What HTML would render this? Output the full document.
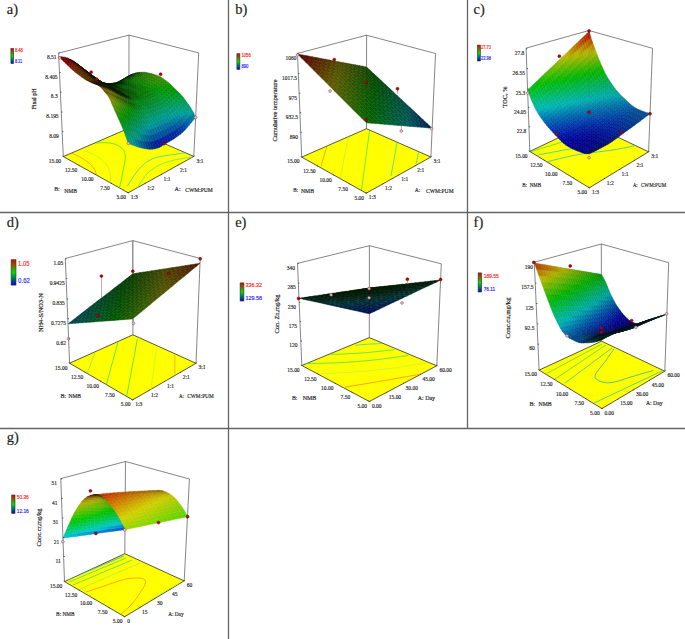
<!DOCTYPE html><html><head><meta charset="utf-8"><style>html,body{margin:0;padding:0;background:#fff}svg{display:block}text{font-family:"Liberation Serif",serif}.m path{fill:currentColor;stroke:currentColor;stroke-width:.45;stroke-linejoin:round}.bx{fill:none;stroke:#444;stroke-width:.65}.fl{fill:#ffff00;stroke:#222;stroke-width:.75;stroke-linejoin:round}.tk{fill:none;stroke:#222;stroke-width:.7}.st{stroke:#777;stroke-width:.6}.gl{stroke:#646464;stroke-width:1.3}</style></head><body>
<svg width="685" height="639" viewBox="0 0 685 639">
<defs><linearGradient id="lg" x1="0" y1="0" x2="0" y2="1"><stop offset="0" stop-color="#e00000"/><stop offset=".5" stop-color="#00e000"/><stop offset="1" stop-color="#0000e0"/></linearGradient></defs>
<rect width="685" height="639" fill="#fff"/>
<path class="bx" d="M63.3 156.6L58.6 53.1 129 35.1 198.7 52.9 193.8 156.4M129 35.1L128.9 128.2"/>
<clipPath id="c1"><path d="M128.2 192.8L193.8 156.4 128.9 128.2 63.3 156.6Z"/></clipPath>
<path class="fl" d="M128.2 192.8L193.8 156.4 128.9 128.2 63.3 156.6Z"/>
<g clip-path="url(#c1)">
<path fill="none" stroke="#ff8c1a" stroke-width="0.8" d="M72.1 153.4 72.9 153.8 73.8 154.1 74.6 154.5 75.4 154.9 76.2 155.3 77.1 155.6 77.9 156 78.7 156.4 79.5 156.8 80.3 157.2 81.1 157.7 81.9 158.1 82.7 158.5 83.5 159 84.2 159.5 85 160 85.7 160.5 86.5 161 87.2 161.5 87.9 162.1 88.6 162.7 89.3 163.3 90 163.9 90.6 164.5 91.3 165.2 91.9 165.9 92.5 166.6 93 167.3 93.6 168 94.1 168.8 94.6 169.6 95 170.4 95.4 171.2 95.7 172.1 96 172.9 96.2 173.8 96.4 174.7 96.5 175.6 96.6 176.5"/>
<path fill="none" stroke="#b8f040" stroke-width="0.8" d="M83.8 150.4 84.9 150.8 86 151.2 87.1 151.7 88.1 152.1 89.2 152.5 90.3 153 91.4 153.4 92.4 153.9 93.5 154.4 94.5 154.9 95.5 155.5 96.5 156 97.5 156.6 98.5 157.2 99.5 157.9 100.4 158.5 101.4 159.3 102.3 160 103.2 160.8 104 161.6 104.9 162.5 105.6 163.3 106.4 164.3 107 165.2 107.7 166.2 108.2 167.2 108.7 168.2 109.1 169.3 109.4 170.4 109.7 171.5 110 172.6 110.1 173.7 110.3 174.9 110.4 176 110.4 177.2 110.5 178.4 110.5 179.6 110.5 180.8 110.5 182"/>
<path fill="none" stroke="#40e040" stroke-width="0.8" d="M95.5 143.1 97.3 143 99 142.8 100.8 142.8 102.5 142.7 104.3 142.7 106 142.7 107.7 142.8 109.5 143 111.2 143.3 112.9 143.6 114.6 144.1 116.3 144.7 117.9 145.5 119.5 146.4 121 147.4 122.3 148.5 123.4 149.8 124.2 151.2 124.8 152.7 125.1 154.4 125.3 156.1 125.3 157.9 125.1 159.7 124.9 161.6 124.6 163.4 124.2 165.3 123.9 167.1 123.5 169 123.1 170.7 122.8 172.5 122.4 174.2 122.1 175.9 121.7 177.6 121.4 179.3 121 181 120.6 182.6 120.3 184.2 119.9 185.9 119.6 187.5"/>
<path fill="none" stroke="#30d0c0" stroke-width="0.8" d="M127.5 186 128.5 184.4 129.4 182.8 130.4 181.3 131.4 179.7 132.4 178.1 133.4 176.6 134.5 175.1 135.6 173.5 136.7 172.1 137.9 170.6 139.1 169.2 140.4 167.7 141.7 166.4 143 165.1 144.4 163.8 145.9 162.6 147.4 161.6 149 160.6 150.6 159.7 152.3 158.9 154 158.2 155.7 157.6 157.5 157.1 159.3 156.7 161.2 156.3 163 156 164.9 155.7 166.8 155.4 168.6 155.2 170.5 154.9 172.3 154.6 174.2 154.4 176 154.1 177.8 153.8 179.7 153.6 181.5 153.3 183.3 153 185.2 152.8 187 152.5"/>
<path fill="none" stroke="#60e080" stroke-width="0.8" d="M137.2 188 138.1 186.5 138.9 185 139.8 183.6 140.7 182.1 141.7 180.7 142.6 179.3 143.6 177.9 144.6 176.6 145.7 175.3 146.8 174 148 172.8 149.2 171.7 150.5 170.6 151.8 169.6 153.2 168.6 154.7 167.7 156.1 166.8 157.6 166 159.2 165.2 160.7 164.5 162.3 163.8 163.9 163.2 165.5 162.6 167.1 162 168.7 161.5 170.4 161.1 172 160.6 173.6 160.2 175.3 159.8 176.9 159.5 178.6 159.2 180.3 158.9 181.9 158.6 183.6 158.3 185.3 158.1 187 157.9 188.6 157.6 190.3 157.4 192 157.2"/>
</g>
<g class="m">
<path color="#001a02" d="M128.9 76 131.1 74.6 128.9 75.8 126.7 77Z"/>
<path color="#001a03" d="M126.7 77.3 128.9 76 126.7 77 124.6 78.3Z"/>
<path color="#011a00" d="M131.1 75.2 133.2 73.8 131.1 74.6 128.9 76Z"/>
<path color="#001a04" d="M124.5 78.6 126.7 77.3 124.6 78.3 122.4 79.5Z"/>
<path color="#001a00" d="M128.9 76.6 131.1 75.2 128.9 76 126.7 77.3Z"/>
<path color="#042300" d="M133.3 74.7 135.4 73.1 133.2 73.8 131.1 75.2Z"/>
<path color="#001a05" d="M122.3 79.9 124.5 78.6 122.4 79.5 120.1 80.7Z"/>
<path color="#0a3200" d="M135.5 74.2 137.6 72.6 135.4 73.1 133.3 74.7Z"/>
<path color="#001a01" d="M126.7 78 128.9 76.6 126.7 77.3 124.5 78.6Z"/>
<path color="#032800" d="M131.1 76.2 133.3 74.7 131.1 75.2 128.9 76.6Z"/>
<path color="#001e03" d="M124.4 79.4 126.7 78 124.5 78.6 122.3 79.9Z"/>
<path color="#083800" d="M133.3 75.8 135.5 74.2 133.3 74.7 131.1 76.2Z"/>
<path color="#001a06" d="M120 81.2 122.3 79.9 120.1 80.7 117.9 81.9Z"/>
<path color="#012e00" d="M128.9 77.7 131.1 76.2 128.9 76.6 126.7 78Z"/>
<path color="#134600" d="M137.7 74 139.9 72.3 137.6 72.6 135.5 74.2Z"/>
<path color="#001a06" d="M117.8 82.4 120 81.2 117.9 81.9 115.7 83Z"/>
<path color="#002405" d="M122.2 80.9 124.4 79.4 122.3 79.9 120 81.2Z"/>
<path color="#003801" d="M126.6 79.2 128.9 77.7 126.7 78 124.4 79.4Z"/>
<path color="#063e00" d="M131.1 77.4 133.3 75.8 131.1 76.2 128.9 77.7Z"/>
<path color="#104b00" d="M135.5 75.6 137.7 74 135.5 74.2 133.3 75.8Z"/>
<path color="#1d5900" d="M140 73.9 142.1 72.2 139.9 72.3 137.7 74Z"/>
<path color="#001a06" d="M115.5 83.1 117.8 82.4 115.7 83 113.4 83.6Z"/>
<path color="#001e05" d="M120 82.1 122.2 80.9 120 81.2 117.8 82.4Z"/>
<path color="#034700" d="M128.8 79 131.1 77.4 128.9 77.7 126.6 79.2Z"/>
<path color="#185c00" d="M137.8 75.7 140 73.9 137.7 74 135.5 75.6Z"/>
<path color="#266600" d="M142.2 74.1 144.4 72.3 142.1 72.2 140 73.9Z"/>
<path color="#003e04" d="M124.4 80.7 126.6 79.2 124.4 79.4 122.2 80.9Z"/>
<path color="#0c5000" d="M133.3 77.3 135.5 75.6 133.3 75.8 131.1 77.4Z"/>
<path color="#001a06" d="M113.2 83.3 115.5 83.1 113.4 83.6 111.1 83.7Z"/>
<path color="#001a05" d="M117.7 82.9 120 82.1 117.8 82.4 115.5 83.1Z"/>
<path color="#003806" d="M122.1 82 124.4 80.7 122.2 80.9 120 82.1Z"/>
<path color="#004c00" d="M126.6 80.6 128.8 79 126.6 79.2 124.4 80.7Z"/>
<path color="#095700" d="M131.1 79 133.3 77.3 131.1 77.4 128.8 79Z"/>
<path color="#146000" d="M135.5 77.4 137.8 75.7 135.5 75.6 133.3 77.3Z"/>
<path color="#206800" d="M140 75.9 142.2 74.1 140 73.9 137.8 75.7Z"/>
<path color="#2c6f00" d="M144.5 74.4 146.7 72.6 144.4 72.3 142.2 74.1Z"/>
<path color="#004603" d="M124.3 82 126.6 80.6 124.4 80.7 122.1 82Z"/>
<path color="#0e6500" d="M133.3 79.2 135.5 77.4 133.3 77.3 131.1 79Z"/>
<path color="#001a05" d="M110.9 83.5 113.2 83.3 111.1 83.7 108.8 83.7Z"/>
<path color="#001a04" d="M115.4 83.2 117.7 82.9 115.5 83.1 113.2 83.3Z"/>
<path color="#001f04" d="M119.9 82.9 122.1 82 120 82.1 117.7 82.9Z"/>
<path color="#045900" d="M128.8 80.7 131.1 79 128.8 79 126.6 80.6Z"/>
<path color="#1a6b00" d="M137.8 77.7 140 75.9 137.8 75.7 135.5 77.4Z"/>
<path color="#257000" d="M142.3 76.3 144.5 74.4 142.2 74.1 140 75.9Z"/>
<path color="#327700" d="M146.8 74.9 149 73.1 146.7 72.6 144.5 74.4Z"/>
<path color="#001a04" d="M108.6 83.7 110.9 83.5 108.8 83.7 106.4 83.8Z"/>
<path color="#001a03" d="M113 83.5 115.4 83.2 113.2 83.3 110.9 83.5Z"/>
<path color="#001a03" d="M117.5 83.3 119.9 82.9 117.7 82.9 115.4 83.2Z"/>
<path color="#002f03" d="M122 83 124.3 82 122.1 82 119.9 82.9Z"/>
<path color="#005400" d="M126.6 82.2 128.8 80.7 126.6 80.6 124.3 82Z"/>
<path color="#096600" d="M131.1 80.9 133.3 79.2 131.1 79 128.8 80.7Z"/>
<path color="#136f00" d="M135.6 79.6 137.8 77.7 135.5 77.4 133.3 79.2Z"/>
<path color="#1e7300" d="M140.1 78.1 142.3 76.3 140 75.9 137.8 77.7Z"/>
<path color="#2a7800" d="M144.6 76.8 146.8 74.9 144.5 74.4 142.3 76.3Z"/>
<path color="#347900" d="M149.2 75.5 151.4 73.6 149 73.1 146.8 74.9Z"/>
<path color="#001a03" d="M106.2 83.7 108.6 83.7 106.4 83.8 104.1 83.7Z"/>
<path color="#001a02" d="M119.7 83.5 122 83 119.9 82.9 117.5 83.3Z"/>
<path color="#036100" d="M128.8 82.5 131.1 80.9 128.8 80.7 126.6 82.2Z"/>
<path color="#177500" d="M137.9 80.1 140.1 78.1 137.8 77.7 135.6 79.6Z"/>
<path color="#367b00" d="M151.5 76.1 153.7 74.2 151.4 73.6 149.2 75.5Z"/>
<path color="#001a02" d="M110.7 83.7 113 83.5 110.9 83.5 108.6 83.7Z"/>
<path color="#001a02" d="M115.2 83.7 117.5 83.3 115.4 83.2 113 83.5Z"/>
<path color="#004002" d="M124.3 83.2 126.6 82.2 124.3 82 122 83Z"/>
<path color="#0c6f00" d="M133.3 81.3 135.6 79.6 133.3 79.2 131.1 80.9Z"/>
<path color="#227900" d="M142.4 78.7 144.6 76.8 142.3 76.3 140.1 78.1Z"/>
<path color="#2c7a00" d="M147 77.4 149.2 75.5 146.8 74.9 144.6 76.8Z"/>
<path color="#001a01" d="M108.3 83.8 110.7 83.7 108.6 83.7 106.2 83.7Z"/>
<path color="#001a01" d="M117.4 84 119.7 83.5 117.5 83.3 115.2 83.7Z"/>
<path color="#005000" d="M126.5 83.6 128.8 82.5 126.6 82.2 124.3 83.2Z"/>
<path color="#066a00" d="M131.1 82.9 133.3 81.3 131.1 80.9 128.8 82.5Z"/>
<path color="#1a7c00" d="M140.2 80.7 142.4 78.7 140.1 78.1 137.9 80.1Z"/>
<path color="#2e7c00" d="M149.3 78.1 151.5 76.1 149.2 75.5 147 77.4Z"/>
<path color="#001a01" d="M103.8 83.2 106.2 83.7 104.1 83.7 101.7 83.1Z"/>
<path color="#001a01" d="M112.9 84 115.2 83.7 113 83.5 110.7 83.7Z"/>
<path color="#002401" d="M122 83.8 124.3 83.2 122 83 119.7 83.5Z"/>
<path color="#0f7500" d="M135.6 81.9 137.9 80.1 135.6 79.6 133.3 81.3Z"/>
<path color="#247c00" d="M144.7 79.4 147 77.4 144.6 76.8 142.4 78.7Z"/>
<path color="#3a8100" d="M153.9 76.9 156.1 75 153.7 74.2 151.5 76.1Z"/>
<path color="#021a00" d="M101.4 82.4 103.8 83.2 101.7 83.1 99.2 82.2Z"/>
<path color="#001a00" d="M105.9 83.5 108.3 83.8 106.2 83.7 103.8 83.2Z"/>
<path color="#001a00" d="M110.5 84.2 112.9 84 110.7 83.7 108.3 83.8Z"/>
<path color="#002001" d="M115.1 84.4 117.4 84 115.2 83.7 112.9 84Z"/>
<path color="#002701" d="M119.6 84.4 122 83.8 119.7 83.5 117.4 84Z"/>
<path color="#003700" d="M124.2 84.3 126.5 83.6 124.3 83.2 122 83.8Z"/>
<path color="#025d00" d="M128.8 84.1 131.1 82.9 128.8 82.5 126.5 83.6Z"/>
<path color="#097000" d="M133.3 83.5 135.6 81.9 133.3 81.3 131.1 82.9Z"/>
<path color="#127a00" d="M137.9 82.6 140.2 80.7 137.9 80.1 135.6 81.9Z"/>
<path color="#1c7e00" d="M142.5 81.4 144.7 79.4 142.4 78.7 140.2 80.7Z"/>
<path color="#267d00" d="M147.1 80.1 149.3 78.1 147 77.4 144.7 79.4Z"/>
<path color="#308100" d="M151.7 78.9 153.9 76.9 151.5 76.1 149.3 78.1Z"/>
<path color="#3a8400" d="M156.3 77.8 158.5 75.9 156.1 75 153.9 76.9Z"/>
<path color="#041a00" d="M98.9 81.4 101.4 82.4 99.2 82.2 96.8 81.1Z"/>
<path color="#021a00" d="M103.5 82.8 105.9 83.5 103.8 83.2 101.4 82.4Z"/>
<path color="#001c00" d="M112.7 84.7 115.1 84.4 112.9 84 110.5 84.2Z"/>
<path color="#003900" d="M121.9 84.9 124.2 84.3 122 83.8 119.6 84.4Z"/>
<path color="#014800" d="M126.5 84.9 128.8 84.1 126.5 83.6 124.2 84.3Z"/>
<path color="#046400" d="M131.1 84.7 133.3 83.5 131.1 82.9 128.8 84.1Z"/>
<path color="#0a7600" d="M135.6 84.2 137.9 82.6 135.6 81.9 133.3 83.5Z"/>
<path color="#1d7f00" d="M144.8 82.1 147.1 80.1 144.7 79.4 142.5 81.4Z"/>
<path color="#318400" d="M154.1 79.8 156.3 77.8 153.9 76.9 151.7 78.9Z"/>
<path color="#3a8800" d="M158.7 79 160.9 77.1 158.5 75.9 156.3 77.8Z"/>
<path color="#011a00" d="M108.1 84 110.5 84.2 108.3 83.8 105.9 83.5Z"/>
<path color="#002f00" d="M117.3 84.9 119.6 84.4 117.4 84 115.1 84.4Z"/>
<path color="#137c00" d="M140.2 83.3 142.5 81.4 140.2 80.7 137.9 82.6Z"/>
<path color="#278300" d="M149.5 80.9 151.7 78.9 149.3 78.1 147.1 80.1Z"/>
<path color="#071a00" d="M96.4 80.2 98.9 81.4 96.8 81.1 94.3 79.7Z"/>
<path color="#051a00" d="M101.1 82 103.5 82.8 101.4 82.4 98.9 81.4Z"/>
<path color="#031a00" d="M105.7 83.4 108.1 84 105.9 83.5 103.5 82.8Z"/>
<path color="#011a00" d="M110.3 84.6 112.7 84.7 110.5 84.2 108.1 84Z"/>
<path color="#012900" d="M114.9 85.3 117.3 84.9 115.1 84.4 112.7 84.7Z"/>
<path color="#013f00" d="M119.5 85.5 121.9 84.9 119.6 84.4 117.3 84.9Z"/>
<path color="#024800" d="M124.1 85.5 126.5 84.9 124.2 84.3 121.9 84.9Z"/>
<path color="#025200" d="M128.8 85.5 131.1 84.7 128.8 84.1 126.5 84.9Z"/>
<path color="#056c00" d="M133.4 85.5 135.6 84.2 133.3 83.5 131.1 84.7Z"/>
<path color="#0b7800" d="M138 85 140.2 83.3 137.9 82.6 135.6 84.2Z"/>
<path color="#137e00" d="M142.6 84 144.8 82.1 142.5 81.4 140.2 83.3Z"/>
<path color="#1e8400" d="M147.2 83 149.5 80.9 147.1 80.1 144.8 82.1Z"/>
<path color="#278500" d="M151.8 81.9 154.1 79.8 151.7 78.9 149.5 80.9Z"/>
<path color="#308800" d="M156.5 81 158.7 79 156.3 77.8 154.1 79.8Z"/>
<path color="#378d00" d="M161.1 80.6 163.3 78.7 160.9 77.1 158.7 79Z"/>
<path color="#031a00" d="M107.9 84.2 110.3 84.6 108.1 84 105.7 83.4Z"/>
<path color="#023800" d="M117.2 86 119.5 85.5 117.3 84.9 114.9 85.3Z"/>
<path color="#0b7a00" d="M140.3 85.7 142.6 84 140.2 83.3 138 85Z"/>
<path color="#1d8600" d="M149.6 84 151.8 81.9 149.5 80.9 147.2 83Z"/>
<path color="#122a00" d="M93.9 78.5 96.4 80.2 94.3 79.7 91.7 77.8Z"/>
<path color="#081a00" d="M98.6 80.9 101.1 82 98.9 81.4 96.4 80.2Z"/>
<path color="#051a00" d="M103.2 82.7 105.7 83.4 103.5 82.8 101.1 82Z"/>
<path color="#021a00" d="M112.5 85.3 114.9 85.3 112.7 84.7 110.3 84.6Z"/>
<path color="#024c00" d="M121.8 86.2 124.1 85.5 121.9 84.9 119.5 85.5Z"/>
<path color="#035200" d="M126.4 86.3 128.8 85.5 126.5 84.9 124.1 85.5Z"/>
<path color="#035c00" d="M131.1 86.3 133.4 85.5 131.1 84.7 128.8 85.5Z"/>
<path color="#066e00" d="M135.7 86.3 138 85 135.6 84.2 133.4 85.5Z"/>
<path color="#148200" d="M144.9 84.9 147.2 83 144.8 82.1 142.6 84Z"/>
<path color="#268900" d="M154.2 83.1 156.5 81 154.1 79.8 151.8 81.9Z"/>
<path color="#2d8d00" d="M158.9 82.5 161.1 80.6 158.7 79 156.5 81Z"/>
<path color="#2f9000" d="M163.5 82.4 165.7 80.5 163.3 78.7 161.1 80.6Z"/>
<path color="#1e3200" d="M91.3 76.3 93.9 78.5 91.7 77.8 89.1 75.5Z"/>
<path color="#0b1a00" d="M96 79.3 98.6 80.9 96.4 80.2 93.9 78.5Z"/>
<path color="#081a00" d="M100.8 81.8 103.2 82.7 101.1 82 98.6 80.9Z"/>
<path color="#051a00" d="M105.4 83.6 107.9 84.2 105.7 83.4 103.2 82.7Z"/>
<path color="#031a00" d="M110.1 84.9 112.5 85.3 110.3 84.6 107.9 84.2Z"/>
<path color="#021f00" d="M114.8 86.1 117.2 86 114.9 85.3 112.5 85.3Z"/>
<path color="#034600" d="M119.4 86.8 121.8 86.2 119.5 85.5 117.2 86Z"/>
<path color="#035400" d="M124.1 87 126.4 86.3 124.1 85.5 121.8 86.2Z"/>
<path color="#035b00" d="M128.7 87.1 131.1 86.3 128.8 85.5 126.4 86.3Z"/>
<path color="#036000" d="M133.4 87.2 135.7 86.3 133.4 85.5 131.1 86.3Z"/>
<path color="#067000" d="M138 87 140.3 85.7 138 85 135.7 86.3Z"/>
<path color="#0c7e00" d="M142.7 86.6 144.9 84.9 142.6 84 140.3 85.7Z"/>
<path color="#138400" d="M147.3 85.9 149.6 84 147.2 83 144.9 84.9Z"/>
<path color="#1c8a00" d="M152 85.2 154.2 83.1 151.8 81.9 149.6 84Z"/>
<path color="#238e00" d="M156.7 84.6 158.9 82.5 156.5 81 154.2 83.1Z"/>
<path color="#269000" d="M161.3 84.4 163.5 82.4 161.1 80.6 158.9 82.5Z"/>
<path color="#268f00" d="M166 84.3 168.2 82.4 165.7 80.5 163.5 82.4Z"/>
<path color="#2d3900" d="M88.7 73.8 91.3 76.3 89.1 75.5 86.5 72.8Z"/>
<path color="#101b00" d="M93.5 77.3 96 79.3 93.9 78.5 91.3 76.3Z"/>
<path color="#081a00" d="M103 82.8 105.4 83.6 103.2 82.7 100.8 81.8Z"/>
<path color="#031a00" d="M112.4 85.8 114.8 86.1 112.5 85.3 110.1 84.9Z"/>
<path color="#044e00" d="M121.7 87.6 124.1 87 121.8 86.2 119.4 86.8Z"/>
<path color="#036300" d="M135.7 88 138 87 135.7 86.3 133.4 87.2Z"/>
<path color="#0b8000" d="M145.1 87.6 147.3 85.9 144.9 84.9 142.7 86.6Z"/>
<path color="#188e00" d="M154.4 86.7 156.7 84.6 154.2 83.1 152 85.2Z"/>
<path color="#1d9000" d="M163.8 86.2 166 84.3 163.5 82.4 161.3 84.4Z"/>
<path color="#1d9200" d="M168.4 86.4 170.6 84.5 168.2 82.4 166 84.3Z"/>
<path color="#0b1a00" d="M98.2 80.4 100.8 81.8 98.6 80.9 96 79.3Z"/>
<path color="#051a00" d="M107.7 84.5 110.1 84.9 107.9 84.2 105.4 83.6Z"/>
<path color="#042e00" d="M117 86.9 119.4 86.8 117.2 86 114.8 86.1Z"/>
<path color="#045d00" d="M126.4 87.9 128.7 87.1 126.4 86.3 124.1 87Z"/>
<path color="#035e00" d="M131.1 88 133.4 87.2 131.1 86.3 128.7 87.1Z"/>
<path color="#067500" d="M140.4 88 142.7 86.6 140.3 85.7 138 87Z"/>
<path color="#118700" d="M149.7 87.1 152 85.2 149.6 84 147.3 85.9Z"/>
<path color="#1c9000" d="M159.1 86.3 161.3 84.4 158.9 82.5 156.7 84.6Z"/>
<path color="#2a2b00" d="M86 71.2 88.7 73.8 86.5 72.8 83.9 70.1Z"/>
<path color="#1a2200" d="M90.9 75 93.5 77.3 91.3 76.3 88.7 73.8Z"/>
<path color="#0b1a00" d="M100.4 81.5 103 82.8 100.8 81.8 98.2 80.4Z"/>
<path color="#051a00" d="M109.9 85.5 112.4 85.8 110.1 84.9 107.7 84.5Z"/>
<path color="#041d00" d="M114.6 86.8 117 86.9 114.8 86.1 112.4 85.8Z"/>
<path color="#045700" d="M124 88.5 126.4 87.9 124.1 87 121.7 87.6Z"/>
<path color="#036100" d="M133.4 88.9 135.7 88 133.4 87.2 131.1 88Z"/>
<path color="#057800" d="M142.8 89 145.1 87.6 142.7 86.6 140.4 88Z"/>
<path color="#098400" d="M147.5 88.8 149.7 87.1 147.3 85.9 145.1 87.6Z"/>
<path color="#119100" d="M156.8 88.4 159.1 86.3 156.7 84.6 154.4 86.7Z"/>
<path color="#139200" d="M166.2 88.3 168.4 86.4 166 84.3 163.8 86.2Z"/>
<path color="#109400" d="M170.9 88.8 173.1 86.9 170.6 84.5 168.4 86.4Z"/>
<path color="#0f1a00" d="M95.7 78.5 98.2 80.4 96 79.3 93.5 77.3Z"/>
<path color="#081a00" d="M105.2 83.9 107.7 84.5 105.4 83.6 103 82.8Z"/>
<path color="#043800" d="M119.3 87.8 121.7 87.6 119.4 86.8 117 86.9Z"/>
<path color="#035f00" d="M128.7 88.8 131.1 88 128.7 87.1 126.4 87.9Z"/>
<path color="#036a00" d="M138.1 89 140.4 88 138 87 135.7 88Z"/>
<path color="#0e8c00" d="M152.2 88.5 154.4 86.7 152 85.2 149.7 87.1Z"/>
<path color="#139000" d="M161.5 88.1 163.8 86.2 161.3 84.4 159.1 86.3Z"/>
<path color="#1a1500" d="M83.4 68.9 86 71.2 83.9 70.1 81.2 67.6Z"/>
<path color="#191a00" d="M88.2 72.5 90.9 75 88.7 73.8 86 71.2Z"/>
<path color="#131a00" d="M93.1 76.3 95.7 78.5 93.5 77.3 90.9 75Z"/>
<path color="#0e1a00" d="M97.9 79.8 100.4 81.5 98.2 80.4 95.7 78.5Z"/>
<path color="#0a1a00" d="M102.7 82.7 105.2 83.9 103 82.8 100.4 81.5Z"/>
<path color="#071a00" d="M107.4 85 109.9 85.5 107.7 84.5 105.2 83.9Z"/>
<path color="#061e00" d="M112.2 86.5 114.6 86.8 112.4 85.8 109.9 85.5Z"/>
<path color="#052500" d="M116.9 87.7 119.3 87.8 117 86.9 114.6 86.8Z"/>
<path color="#054300" d="M121.6 88.8 124 88.5 121.7 87.6 119.3 87.8Z"/>
<path color="#045a00" d="M126.3 89.5 128.7 88.8 126.4 87.9 124 88.5Z"/>
<path color="#036200" d="M131.1 89.7 133.4 88.9 131.1 88 128.7 88.8Z"/>
<path color="#036800" d="M135.8 89.9 138.1 89 135.7 88 133.4 88.9Z"/>
<path color="#036c00" d="M140.5 90 142.8 89 140.4 88 138.1 89Z"/>
<path color="#047c00" d="M145.2 90.1 147.5 88.8 145.1 87.6 142.8 89Z"/>
<path color="#068800" d="M149.9 90.2 152.2 88.5 149.7 87.1 147.5 88.8Z"/>
<path color="#078e00" d="M154.6 90.2 156.8 88.4 154.4 86.7 152.2 88.5Z"/>
<path color="#099100" d="M159.3 90.2 161.5 88.1 159.1 86.3 156.8 88.4Z"/>
<path color="#0a9300" d="M164 90.2 166.2 88.3 163.8 86.2 161.5 88.1Z"/>
<path color="#079400" d="M168.7 90.7 170.9 88.8 168.4 86.4 166.2 88.3Z"/>
<path color="#029500" d="M173.4 91.3 175.6 89.4 173.1 86.9 170.9 88.8Z"/>
<path color="#1a1100" d="M80.6 66.6 83.4 68.9 81.2 67.6 78.5 65.2Z"/>
<path color="#1a1600" d="M85.5 70.3 88.2 72.5 86 71.2 83.4 68.9Z"/>
<path color="#131a00" d="M95.3 77.8 97.9 79.8 95.7 78.5 93.1 76.3Z"/>
<path color="#0e1a00" d="M100.1 81.2 102.7 82.7 100.4 81.5 97.9 79.8Z"/>
<path color="#0a1a00" d="M104.9 83.9 107.4 85 105.2 83.9 102.7 82.7Z"/>
<path color="#071b00" d="M109.7 86.1 112.2 86.5 109.9 85.5 107.4 85Z"/>
<path color="#072600" d="M114.5 87.6 116.9 87.7 114.6 86.8 112.2 86.5Z"/>
<path color="#063100" d="M119.2 88.8 121.6 88.8 119.3 87.8 116.9 87.7Z"/>
<path color="#035d00" d="M128.7 90.4 131.1 89.7 128.7 88.8 126.3 89.5Z"/>
<path color="#026a00" d="M138.1 90.9 140.5 90 138.1 89 135.8 89.9Z"/>
<path color="#017200" d="M142.9 91.1 145.2 90.1 142.8 89 140.5 90Z"/>
<path color="#008100" d="M147.6 91.5 149.9 90.2 147.5 88.8 145.2 90.1Z"/>
<path color="#008b00" d="M152.3 91.9 154.6 90.2 152.2 88.5 149.9 90.2Z"/>
<path color="#008e00" d="M157 92 159.3 90.2 156.8 88.4 154.6 90.2Z"/>
<path color="#009400" d="M161.8 92.3 164 90.2 161.5 88.1 159.3 90.2Z"/>
<path color="#009507" d="M171.2 93.2 173.4 91.3 170.9 88.8 168.7 90.7Z"/>
<path color="#00950c" d="M175.9 93.7 178.1 91.8 175.6 89.4 173.4 91.3Z"/>
<path color="#181a00" d="M90.4 74 93.1 76.3 90.9 75 88.2 72.5Z"/>
<path color="#054700" d="M124 89.8 126.3 89.5 124 88.5 121.6 88.8Z"/>
<path color="#036800" d="M133.4 90.7 135.8 89.9 133.4 88.9 131.1 89.7Z"/>
<path color="#009603" d="M166.5 92.7 168.7 90.7 166.2 88.3 164 90.2Z"/>
<path color="#0d1a00" d="M102.4 82.5 104.9 83.9 102.7 82.7 100.1 81.2Z"/>
<path color="#008b07" d="M154.8 93.6 157 92 154.6 90.2 152.3 91.9Z"/>
<path color="#1a0c00" d="M77.9 64.4 80.6 66.6 78.5 65.2 75.7 62.8Z"/>
<path color="#1a1200" d="M82.8 68.2 85.5 70.3 83.4 68.9 80.6 66.6Z"/>
<path color="#1a1700" d="M87.8 72 90.4 74 88.2 72.5 85.5 70.3Z"/>
<path color="#171a00" d="M92.7 75.7 95.3 77.8 93.1 76.3 90.4 74Z"/>
<path color="#121a00" d="M97.5 79.3 100.1 81.2 97.9 79.8 95.3 77.8Z"/>
<path color="#091a00" d="M107.2 85.2 109.7 86.1 107.4 85 104.9 83.9Z"/>
<path color="#082200" d="M112 87.3 114.5 87.6 112.2 86.5 109.7 86.1Z"/>
<path color="#083100" d="M116.8 88.7 119.2 88.8 116.9 87.7 114.5 87.6Z"/>
<path color="#063600" d="M121.5 89.8 124 89.8 121.6 88.8 119.2 88.8Z"/>
<path color="#044c00" d="M126.3 90.8 128.7 90.4 126.3 89.5 124 89.8Z"/>
<path color="#036200" d="M131 91.4 133.4 90.7 131.1 89.7 128.7 90.4Z"/>
<path color="#026900" d="M135.8 91.7 138.1 90.9 135.8 89.9 133.4 90.7Z"/>
<path color="#006f00" d="M140.5 92 142.9 91.1 140.5 90 138.1 90.9Z"/>
<path color="#007902" d="M145.3 92.5 147.6 91.5 145.2 90.1 142.9 91.1Z"/>
<path color="#008505" d="M150 93.1 152.3 91.9 149.9 90.2 147.6 91.5Z"/>
<path color="#00920a" d="M159.5 94.1 161.8 92.3 159.3 90.2 157 92Z"/>
<path color="#00960d" d="M164.2 94.8 166.5 92.7 164 90.2 161.8 92.3Z"/>
<path color="#009611" d="M169 95.2 171.2 93.2 168.7 90.7 166.5 92.7Z"/>
<path color="#009516" d="M173.7 95.7 175.9 93.7 173.4 91.3 171.2 93.2Z"/>
<path color="#00961b" d="M178.4 96.3 180.6 94.3 178.1 91.8 175.9 93.7Z"/>
<path color="#1a0d00" d="M80.1 66.1 82.8 68.2 80.6 66.6 77.9 64.4Z"/>
<path color="#1a1900" d="M90 73.7 92.7 75.7 90.4 74 87.8 72Z"/>
<path color="#111a00" d="M99.8 80.8 102.4 82.5 100.1 81.2 97.5 79.3Z"/>
<path color="#063d00" d="M123.9 90.9 126.3 90.8 124 89.8 121.5 89.8Z"/>
<path color="#026400" d="M133.4 92.5 135.8 91.7 133.4 90.7 131 91.4Z"/>
<path color="#008f10" d="M157.2 95.6 159.5 94.1 157 92 154.8 93.6Z"/>
<path color="#00971c" d="M166.7 97.3 169 95.2 166.5 92.7 164.2 94.8Z"/>
<path color="#009725" d="M176.2 98.4 178.4 96.3 175.9 93.7 173.7 95.7Z"/>
<path color="#1a0800" d="M75.1 62.4 77.9 64.4 75.7 62.8 72.9 60.8Z"/>
<path color="#1a1300" d="M85.1 70 87.8 72 85.5 70.3 82.8 68.2Z"/>
<path color="#161a00" d="M94.9 77.3 97.5 79.3 95.3 77.8 92.7 75.7Z"/>
<path color="#0c1a00" d="M104.7 83.9 107.2 85.2 104.9 83.9 102.4 82.5Z"/>
<path color="#091a00" d="M109.5 86.5 112 87.3 109.7 86.1 107.2 85.2Z"/>
<path color="#0a2d00" d="M114.3 88.5 116.8 88.7 114.5 87.6 112 87.3Z"/>
<path color="#093700" d="M119.1 89.8 121.5 89.8 119.2 88.8 116.8 88.7Z"/>
<path color="#045300" d="M128.7 91.9 131 91.4 128.7 90.4 126.3 90.8Z"/>
<path color="#006e00" d="M138.2 92.9 140.5 92 138.1 90.9 135.8 91.7Z"/>
<path color="#007602" d="M143 93.4 145.3 92.5 142.9 91.1 140.5 92Z"/>
<path color="#007d07" d="M147.7 94.1 150 93.1 147.6 91.5 145.3 92.5Z"/>
<path color="#00850b" d="M152.5 94.8 154.8 93.6 152.3 91.9 150 93.1Z"/>
<path color="#009516" d="M162 96.6 164.2 94.8 161.8 92.3 159.5 94.1Z"/>
<path color="#009720" d="M171.5 97.8 173.7 95.7 171.2 93.2 169 95.2Z"/>
<path color="#00992c" d="M180.9 99.3 183.1 97.1 180.6 94.3 178.4 96.3Z"/>
<path color="#1a0400" d="M72.3 60.9 75.1 62.4 72.9 60.8 70.1 59.2Z"/>
<path color="#1a0900" d="M77.3 64.2 80.1 66.1 77.9 64.4 75.1 62.4Z"/>
<path color="#1a0f00" d="M82.3 68 85.1 70 82.8 68.2 80.1 66.1Z"/>
<path color="#1a1400" d="M87.3 71.8 90 73.7 87.8 72 85.1 70Z"/>
<path color="#1a1a00" d="M92.3 75.5 94.9 77.3 92.7 75.7 90 73.7Z"/>
<path color="#151a00" d="M97.2 78.9 99.8 80.8 97.5 79.3 94.9 77.3Z"/>
<path color="#101a00" d="M102.1 82.3 104.7 83.9 102.4 82.5 99.8 80.8Z"/>
<path color="#0c1a00" d="M107 85.3 109.5 86.5 107.2 85.2 104.7 83.9Z"/>
<path color="#081a00" d="M111.8 87.8 114.3 88.5 112 87.3 109.5 86.5Z"/>
<path color="#0b3400" d="M116.6 89.7 119.1 89.8 116.8 88.7 114.3 88.5Z"/>
<path color="#093e00" d="M121.4 91 123.9 90.9 121.5 89.8 119.1 89.8Z"/>
<path color="#064500" d="M126.3 92 128.7 91.9 126.3 90.8 123.9 90.9Z"/>
<path color="#035600" d="M131 92.9 133.4 92.5 131 91.4 128.7 91.9Z"/>
<path color="#016900" d="M135.8 93.6 138.2 92.9 135.8 91.7 133.4 92.5Z"/>
<path color="#007402" d="M140.6 94.2 143 93.4 140.5 92 138.2 92.9Z"/>
<path color="#007a07" d="M145.4 94.9 147.7 94.1 145.3 92.5 143 93.4Z"/>
<path color="#007e0c" d="M150.2 95.7 152.5 94.8 150 93.1 147.7 94.1Z"/>
<path color="#008a14" d="M155 96.9 157.2 95.6 154.8 93.6 152.5 94.8Z"/>
<path color="#00931d" d="M159.7 98.2 162 96.6 159.5 94.1 157.2 95.6Z"/>
<path color="#009525" d="M164.5 99.1 166.7 97.3 164.2 94.8 162 96.6Z"/>
<path color="#00982b" d="M169.2 99.9 171.5 97.8 169 95.2 166.7 97.3Z"/>
<path color="#009830" d="M174 100.6 176.2 98.4 173.7 95.7 171.5 97.8Z"/>
<path color="#009a37" d="M178.7 101.4 180.9 99.3 178.4 96.3 176.2 98.4Z"/>
<path color="#009b42" d="M183.4 102.7 185.6 100.5 183.1 97.1 180.9 99.3Z"/>
<path color="#240100" d="M69.5 59.8 72.3 60.9 70.1 59.2 67.3 57.9Z"/>
<path color="#1a0600" d="M74.6 62.8 77.3 64.2 75.1 62.4 72.3 60.9Z"/>
<path color="#1a1000" d="M84.6 70 87.3 71.8 85.1 70 82.3 68Z"/>
<path color="#191a00" d="M94.5 77.2 97.2 78.9 94.9 77.3 92.3 75.5Z"/>
<path color="#0f1a00" d="M104.4 83.8 107 85.3 104.7 83.9 102.1 82.3Z"/>
<path color="#0b1a00" d="M109.3 86.7 111.8 87.8 109.5 86.5 107 85.3Z"/>
<path color="#0c3d00" d="M119 91 121.4 91 119.1 89.8 116.6 89.7Z"/>
<path color="#054700" d="M128.6 93.2 131 92.9 128.7 91.9 126.3 92Z"/>
<path color="#006f02" d="M138.3 95 140.6 94.2 138.2 92.9 135.8 93.6Z"/>
<path color="#007b0c" d="M147.9 96.6 150.2 95.7 147.7 94.1 145.4 94.9Z"/>
<path color="#008515" d="M152.7 97.8 155 96.9 152.5 94.8 150.2 95.7Z"/>
<path color="#00922b" d="M162.2 100.7 164.5 99.1 162 96.6 159.7 98.2Z"/>
<path color="#009a3c" d="M171.7 102.8 174 100.6 171.5 97.8 169.2 99.9Z"/>
<path color="#009c4e" d="M181.2 105 183.4 102.7 180.9 99.3 178.7 101.4Z"/>
<path color="#009c5a" d="M186 106.3 188.1 104 185.6 100.5 183.4 102.7Z"/>
<path color="#1a0b00" d="M79.6 66.2 82.3 68 80.1 66.1 77.3 64.2Z"/>
<path color="#1a1600" d="M89.6 73.7 92.3 75.5 90 73.7 87.3 71.8Z"/>
<path color="#141a00" d="M99.5 80.5 102.1 82.3 99.8 80.8 97.2 78.9Z"/>
<path color="#071a00" d="M114.1 89.1 116.6 89.7 114.3 88.5 111.8 87.8Z"/>
<path color="#094500" d="M123.8 92.2 126.3 92 123.9 90.9 121.4 91Z"/>
<path color="#025c00" d="M133.5 94.1 135.8 93.6 133.4 92.5 131 92.9Z"/>
<path color="#007806" d="M143.1 95.8 145.4 94.9 143 93.4 140.6 94.2Z"/>
<path color="#008f21" d="M157.4 99.5 159.7 98.2 157.2 95.6 155 96.9Z"/>
<path color="#009634" d="M167 101.8 169.2 99.9 166.7 97.3 164.5 99.1Z"/>
<path color="#009b43" d="M176.5 103.7 178.7 101.4 176.2 98.4 174 100.6Z"/>
<path color="#4d0000" d="M66.7 59.1 69.5 59.8 67.3 57.9 64.5 57.2Z"/>
<path color="#310500" d="M71.8 61.7 74.6 62.8 72.3 60.9 69.5 59.8Z"/>
<path color="#1a0d00" d="M81.8 68.3 84.6 70 82.3 68 79.6 66.2Z"/>
<path color="#1a1200" d="M86.9 71.9 89.6 73.7 87.3 71.8 84.6 70Z"/>
<path color="#1a1700" d="M91.9 75.5 94.5 77.2 92.3 75.5 89.6 73.7Z"/>
<path color="#181a00" d="M96.8 78.9 99.5 80.5 97.2 78.9 94.5 77.2Z"/>
<path color="#131a00" d="M101.8 82.1 104.4 83.8 102.1 82.3 99.5 80.5Z"/>
<path color="#0e1a00" d="M106.7 85.3 109.3 86.7 107 85.3 104.4 83.8Z"/>
<path color="#081d00" d="M116.5 90.5 119 91 116.6 89.7 114.1 89.1Z"/>
<path color="#084700" d="M126.2 93.3 128.6 93.2 126.3 92 123.8 92.2Z"/>
<path color="#044e00" d="M131 94.3 133.5 94.1 131 92.9 128.6 93.2Z"/>
<path color="#007305" d="M140.7 96.4 143.1 95.8 140.6 94.2 138.3 95Z"/>
<path color="#008314" d="M150.3 98.7 152.7 97.8 150.2 95.7 147.9 96.6Z"/>
<path color="#008b22" d="M155.1 100.4 157.4 99.5 155 96.9 152.7 97.8Z"/>
<path color="#008f2e" d="M159.9 102 162.2 100.7 159.7 98.2 157.4 99.5Z"/>
<path color="#00943a" d="M164.7 103.4 167 101.8 164.5 99.1 162.2 100.7Z"/>
<path color="#009846" d="M169.5 104.8 171.7 102.8 169.2 99.9 167 101.8Z"/>
<path color="#009c50" d="M174.2 106.1 176.5 103.7 174 100.6 171.7 102.8Z"/>
<path color="#009c66" d="M183.8 108.6 186 106.3 183.4 102.7 181.2 105Z"/>
<path color="#009d73" d="M188.5 110 190.7 107.7 188.1 104 186 106.3Z"/>
<path color="#260b00" d="M76.8 64.9 79.6 66.2 77.3 64.2 74.6 62.8Z"/>
<path color="#0a1a00" d="M111.6 88.1 114.1 89.1 111.8 87.8 109.3 86.7Z"/>
<path color="#0c4500" d="M121.4 92.2 123.8 92.2 121.4 91 119 91Z"/>
<path color="#006300" d="M135.9 95.4 138.3 95 135.8 93.6 133.5 94.1Z"/>
<path color="#00790b" d="M145.5 97.4 147.9 96.6 145.4 94.9 143.1 95.8Z"/>
<path color="#009d5b" d="M179 107.3 181.2 105 178.7 101.4 176.5 103.7Z"/>
<path color="#1a1400" d="M89.2 73.8 91.9 75.5 89.6 73.7 86.9 71.9Z"/>
<path color="#00974d" d="M167.2 106.5 169.5 104.8 167 101.8 164.7 103.4Z"/>
<path color="#610000" d="M63.9 58.8 66.7 59.1 64.5 57.2 61.6 56.8Z"/>
<path color="#560100" d="M68.9 61.1 71.8 61.7 69.5 59.8 66.7 59.1Z"/>
<path color="#400b00" d="M74 63.8 76.8 64.9 74.6 62.8 71.8 61.7Z"/>
<path color="#331200" d="M79.1 67.1 81.8 68.3 79.6 66.2 76.8 64.9Z"/>
<path color="#1a0e00" d="M84.1 70.4 86.9 71.9 84.6 70 81.8 68.3Z"/>
<path color="#1a1900" d="M94.2 77.3 96.8 78.9 94.5 77.2 91.9 75.5Z"/>
<path color="#161a00" d="M99.2 80.6 101.8 82.1 99.5 80.5 96.8 78.9Z"/>
<path color="#121a00" d="M104.1 83.8 106.7 85.3 104.4 83.8 101.8 82.1Z"/>
<path color="#0d1a00" d="M109.1 86.8 111.6 88.1 109.3 86.7 106.7 85.3Z"/>
<path color="#091a00" d="M114 89.5 116.5 90.5 114.1 89.1 111.6 88.1Z"/>
<path color="#082300" d="M118.9 91.8 121.4 92.2 119 91 116.5 90.5Z"/>
<path color="#0b4700" d="M123.7 93.4 126.2 93.3 123.8 92.2 121.4 92.2Z"/>
<path color="#074e00" d="M128.6 94.5 131 94.3 128.6 93.2 126.2 93.3Z"/>
<path color="#035700" d="M133.5 95.6 135.9 95.4 133.5 94.1 131 94.3Z"/>
<path color="#006803" d="M138.3 96.9 140.7 96.4 138.3 95 135.9 95.4Z"/>
<path color="#00750a" d="M143.2 98 145.5 97.4 143.1 95.8 140.7 96.4Z"/>
<path color="#008214" d="M148 99.5 150.3 98.7 147.9 96.6 145.5 97.4Z"/>
<path color="#008a21" d="M152.8 101.3 155.1 100.4 152.7 97.8 150.3 98.7Z"/>
<path color="#008b2f" d="M157.6 102.9 159.9 102 157.4 99.5 155.1 100.4Z"/>
<path color="#00913d" d="M162.4 104.7 164.7 103.4 162.2 100.7 159.9 102Z"/>
<path color="#009a5b" d="M172 108.1 174.2 106.1 171.7 102.8 169.5 104.8Z"/>
<path color="#009d68" d="M176.8 109.8 179 107.3 176.5 103.7 174.2 106.1Z"/>
<path color="#009d74" d="M181.5 111 183.8 108.6 181.2 105 179 107.3Z"/>
<path color="#009d80" d="M186.3 112.4 188.5 110 186 106.3 183.8 108.6Z"/>
<path color="#009e91" d="M191 114.4 193.2 112 190.7 107.7 188.5 110Z"/>
<path color="#710000" d="M61 58.8 63.9 58.8 61.6 56.8 58.8 56.8Z"/>
<path color="#670000" d="M66.1 60.8 68.9 61.1 66.7 59.1 63.9 58.8Z"/>
<path color="#4b1200" d="M76.3 66.1 79.1 67.1 76.8 64.9 74 63.8Z"/>
<path color="#1a1000" d="M86.4 72.4 89.2 73.8 86.9 71.9 84.1 70.4Z"/>
<path color="#1a1500" d="M91.5 75.7 94.2 77.3 91.9 75.5 89.2 73.8Z"/>
<path color="#1a1a00" d="M96.5 79.1 99.2 80.6 96.8 78.9 94.2 77.3Z"/>
<path color="#151a00" d="M101.5 82.3 104.1 83.8 101.8 82.1 99.2 80.6Z"/>
<path color="#0c1a00" d="M111.4 88.3 114 89.5 111.6 88.1 109.1 86.8Z"/>
<path color="#082500" d="M121.3 93.1 123.7 93.4 121.4 92.2 118.9 91.8Z"/>
<path color="#005e00" d="M135.9 97.1 138.3 96.9 135.9 95.4 133.5 95.6Z"/>
<path color="#007f12" d="M145.7 100.1 148 99.5 145.5 97.4 143.2 98Z"/>
<path color="#00892e" d="M155.3 103.8 157.6 102.9 155.1 100.4 152.8 101.3Z"/>
<path color="#008e3e" d="M160.1 105.7 162.4 104.7 159.9 102 157.6 102.9Z"/>
<path color="#009551" d="M164.9 107.9 167.2 106.5 164.7 103.4 162.4 104.7Z"/>
<path color="#009962" d="M169.7 109.9 172 108.1 169.5 104.8 167.2 106.5Z"/>
<path color="#009e82" d="M179.3 113.5 181.5 111 179 107.3 176.8 109.8Z"/>
<path color="#009e9f" d="M188.8 116.8 191 114.4 188.5 110 186.3 112.4Z"/>
<path color="#0087a0" d="M193.5 120.1 195.7 117.6 193.2 112 191 114.4Z"/>
<path color="#5f0800" d="M71.2 63.3 74 63.8 71.8 61.7 68.9 61.1Z"/>
<path color="#341600" d="M81.4 69.2 84.1 70.4 81.8 68.3 79.1 67.1Z"/>
<path color="#091a00" d="M116.3 91 118.9 91.8 116.5 90.5 114 89.5Z"/>
<path color="#0b4e00" d="M126.2 94.7 128.6 94.5 126.2 93.3 123.7 93.4Z"/>
<path color="#065500" d="M131 95.8 133.5 95.6 131 94.3 128.6 94.5Z"/>
<path color="#006c07" d="M140.8 98.5 143.2 98 140.7 96.4 138.3 96.9Z"/>
<path color="#009c73" d="M174.5 111.9 176.8 109.8 174.2 106.1 172 108.1Z"/>
<path color="#009e8f" d="M184.1 114.9 186.3 112.4 183.8 108.6 181.5 111Z"/>
<path color="#111a00" d="M106.5 85.3 109.1 86.8 106.7 85.3 104.1 83.8Z"/>
<path color="#008a21" d="M150.5 102.1 152.8 101.3 150.3 98.7 148 99.5Z"/>
<path color="#750000" d="M63.2 60.9 66.1 60.8 63.9 58.8 61 58.8Z"/>
<path color="#661000" d="M73.5 65.6 76.3 66.1 74 63.8 71.2 63.3Z"/>
<path color="#321900" d="M83.7 71.2 86.4 72.4 84.1 70.4 81.4 69.2Z"/>
<path color="#081a00" d="M118.7 92.3 121.3 93.1 118.9 91.8 116.3 91Z"/>
<path color="#006303" d="M138.4 98.7 140.8 98.5 138.3 96.9 135.9 97.1Z"/>
<path color="#009b7b" d="M172.3 113.7 174.5 111.9 172 108.1 169.7 109.9Z"/>
<path color="#009f9e" d="M181.8 117.5 184.1 114.9 181.5 111 179.3 113.5Z"/>
<path color="#0079a0" d="M191.3 122.6 193.5 120.1 191 114.4 188.8 116.8Z"/>
<path color="#6d0200" d="M68.3 63 71.2 63.3 68.9 61.1 66.1 60.8Z"/>
<path color="#4a1800" d="M78.6 68.3 81.4 69.2 79.1 67.1 76.3 66.1Z"/>
<path color="#1a1200" d="M88.7 74.3 91.5 75.7 89.2 73.8 86.4 72.4Z"/>
<path color="#1a1700" d="M93.8 77.6 96.5 79.1 94.2 77.3 91.5 75.7Z"/>
<path color="#191a00" d="M98.8 80.8 101.5 82.3 99.2 80.6 96.5 79.1Z"/>
<path color="#141a00" d="M103.8 84 106.5 85.3 104.1 83.8 101.5 82.3Z"/>
<path color="#101a00" d="M108.8 86.9 111.4 88.3 109.1 86.8 106.5 85.3Z"/>
<path color="#0b1a00" d="M113.8 89.8 116.3 91 114 89.5 111.4 88.3Z"/>
<path color="#092c00" d="M123.7 94.4 126.2 94.7 123.7 93.4 121.3 93.1Z"/>
<path color="#0a5500" d="M128.6 96 131 95.8 128.6 94.5 126.2 94.7Z"/>
<path color="#045c00" d="M133.5 97.3 135.9 97.1 133.5 95.6 131 95.8Z"/>
<path color="#00790e" d="M143.3 100.6 145.7 100.1 143.2 98 140.8 98.5Z"/>
<path color="#00881f" d="M148.1 102.8 150.5 102.1 148 99.5 145.7 100.1Z"/>
<path color="#00882d" d="M153 104.7 155.3 103.8 152.8 101.3 150.5 102.1Z"/>
<path color="#008d3e" d="M157.8 106.7 160.1 105.7 157.6 102.9 155.3 103.8Z"/>
<path color="#009352" d="M162.7 109.1 164.9 107.9 162.4 104.7 160.1 105.7Z"/>
<path color="#009767" d="M167.5 111.5 169.7 109.9 167.2 106.5 164.9 107.9Z"/>
<path color="#009d8e" d="M177 115.7 179.3 113.5 176.8 109.8 174.5 111.9Z"/>
<path color="#0091a0" d="M186.6 119.4 188.8 116.8 186.3 112.4 184.1 114.9Z"/>
<path color="#720b00" d="M70.6 65.3 73.5 65.6 71.2 63.3 68.3 63Z"/>
<path color="#471c00" d="M80.9 70.3 83.7 71.2 81.4 69.2 78.6 68.3Z"/>
<path color="#1a1800" d="M96.1 79.4 98.8 80.8 96.5 79.1 93.8 77.6Z"/>
<path color="#131a00" d="M106.2 85.6 108.8 86.9 106.5 85.3 103.8 84Z"/>
<path color="#0b1a00" d="M116.2 91.2 118.7 92.3 116.3 91 113.8 89.8Z"/>
<path color="#00740a" d="M140.9 100.8 143.3 100.6 140.8 98.5 138.4 98.7Z"/>
<path color="#00872b" d="M150.7 105.4 153 104.7 150.5 102.1 148.1 102.8Z"/>
<path color="#009253" d="M160.4 110.1 162.7 109.1 160.1 105.7 157.8 106.7Z"/>
<path color="#009b96" d="M174.8 117.6 177 115.7 174.5 111.9 172.3 113.7Z"/>
<path color="#0082a0" d="M184.3 122.2 186.6 119.4 184.1 114.9 181.8 117.5Z"/>
<path color="#7a0000" d="M65.5 63.1 68.3 63 66.1 60.8 63.2 60.9Z"/>
<path color="#641800" d="M75.8 67.8 78.6 68.3 76.3 66.1 73.5 65.6Z"/>
<path color="#321c00" d="M86 73.2 88.7 74.3 86.4 72.4 83.7 71.2Z"/>
<path color="#1a1300" d="M91.1 76.2 93.8 77.6 91.5 75.7 88.7 74.3Z"/>
<path color="#071a00" d="M121.2 93.7 123.7 94.4 121.3 93.1 118.7 92.3Z"/>
<path color="#093400" d="M126.1 95.8 128.6 96 126.2 94.7 123.7 94.4Z"/>
<path color="#085d00" d="M131 97.5 133.5 97.3 131 95.8 128.6 96Z"/>
<path color="#016200" d="M136 98.9 138.4 98.7 135.9 97.1 133.5 97.3Z"/>
<path color="#009669" d="M165.2 112.7 167.5 111.5 164.9 107.9 162.7 109.1Z"/>
<path color="#009981" d="M170 115.3 172.3 113.7 169.7 109.9 167.5 111.5Z"/>
<path color="#00919e" d="M179.6 119.8 181.8 117.5 179.3 113.5 177 115.7Z"/>
<path color="#006ba1" d="M189.1 125.3 191.3 122.6 188.8 116.8 186.6 119.4Z"/>
<path color="#171a00" d="M101.2 82.6 103.8 84 101.5 82.3 98.8 80.8Z"/>
<path color="#0f1a00" d="M111.2 88.5 113.8 89.8 111.4 88.3 108.8 86.9Z"/>
<path color="#00851b" d="M145.8 103.3 148.1 102.8 145.7 100.1 143.3 100.6Z"/>
<path color="#008d3d" d="M155.5 107.6 157.8 106.7 155.3 103.8 153 104.7Z"/>
<path color="#7d0600" d="M67.8 65.4 70.6 65.3 68.3 63 65.5 63.1Z"/>
<path color="#611e00" d="M78.1 69.9 80.9 70.3 78.6 68.3 75.8 67.8Z"/>
<path color="#00879d" d="M177.3 121.8 179.6 119.8 177 115.7 174.8 117.6Z"/>
<path color="#005ba2" d="M186.8 128 189.1 125.3 186.6 119.4 184.3 122.2Z"/>
<path color="#701400" d="M72.9 67.6 75.8 67.8 73.5 65.6 70.6 65.3Z"/>
<path color="#452000" d="M83.2 72.4 86 73.2 83.7 71.2 80.9 70.3Z"/>
<path color="#2e1d00" d="M88.3 75.2 91.1 76.2 88.7 74.3 86 73.2Z"/>
<path color="#1a1500" d="M93.4 78 96.1 79.4 93.8 77.6 91.1 76.2Z"/>
<path color="#1a1900" d="M98.5 81.1 101.2 82.6 98.8 80.8 96.1 79.4Z"/>
<path color="#161a00" d="M103.6 84.3 106.2 85.6 103.8 84 101.2 82.6Z"/>
<path color="#121a00" d="M108.6 87.3 111.2 88.5 108.8 86.9 106.2 85.6Z"/>
<path color="#0e1a00" d="M113.6 90 116.2 91.2 113.8 89.8 111.2 88.5Z"/>
<path color="#0a1a00" d="M118.6 92.7 121.2 93.7 118.7 92.3 116.2 91.2Z"/>
<path color="#071a00" d="M123.6 95.1 126.1 95.8 123.7 94.4 121.2 93.7Z"/>
<path color="#093e00" d="M128.6 97.2 131 97.5 128.6 96 126.1 95.8Z"/>
<path color="#056500" d="M133.5 99.2 136 98.9 133.5 97.3 131 97.5Z"/>
<path color="#007405" d="M138.5 101.1 140.9 100.8 138.4 98.7 136 98.9Z"/>
<path color="#008216" d="M143.4 103.7 145.8 103.3 143.3 100.6 140.9 100.8Z"/>
<path color="#008328" d="M148.3 105.9 150.7 105.4 148.1 102.8 145.8 103.3Z"/>
<path color="#008c3b" d="M153.2 108.3 155.5 107.6 153 104.7 150.7 105.4Z"/>
<path color="#009253" d="M158 111.1 160.4 110.1 157.8 106.7 155.5 107.6Z"/>
<path color="#00956b" d="M162.9 113.9 165.2 112.7 162.7 109.1 160.4 110.1Z"/>
<path color="#009883" d="M167.7 116.7 170 115.3 167.5 111.5 165.2 112.7Z"/>
<path color="#00999a" d="M172.5 119.3 174.8 117.6 172.3 113.7 170 115.3Z"/>
<path color="#00749f" d="M182.1 124.5 184.3 122.2 181.8 117.5 179.6 119.8Z"/>
<path color="#6d1b00" d="M75.2 69.7 78.1 69.9 75.8 67.8 72.9 67.6Z"/>
<path color="#191a00" d="M100.9 82.9 103.6 84.3 101.2 82.6 98.5 81.1Z"/>
<path color="#111a00" d="M111 88.8 113.6 90 111.2 88.5 108.6 87.3Z"/>
<path color="#008023" d="M145.9 106.3 148.3 105.9 145.8 103.3 143.4 103.7Z"/>
<path color="#009252" d="M155.7 112 158 111.1 155.5 107.6 153.2 108.3Z"/>
<path color="#00689e" d="M179.9 126.5 182.1 124.5 179.6 119.8 177.3 121.8Z"/>
<path color="#7b1000" d="M70.1 67.7 72.9 67.6 70.6 65.3 67.8 65.4Z"/>
<path color="#5e2400" d="M80.4 71.9 83.2 72.4 80.9 70.3 78.1 69.9Z"/>
<path color="#402200" d="M85.5 74.3 88.3 75.2 86 73.2 83.2 72.4Z"/>
<path color="#2b1d00" d="M90.6 77 93.4 78 91.1 76.2 88.3 75.2Z"/>
<path color="#091a00" d="M121.1 94.1 123.6 95.1 121.2 93.7 118.6 92.7Z"/>
<path color="#072000" d="M126.1 96.6 128.6 97.2 126.1 95.8 123.6 95.1Z"/>
<path color="#084b00" d="M131 98.9 133.5 99.2 131 97.5 128.6 97.2Z"/>
<path color="#007701" d="M136 101.4 138.5 101.1 136 98.9 133.5 99.2Z"/>
<path color="#009886" d="M165.4 117.9 167.7 116.7 165.2 112.7 162.9 113.9Z"/>
<path color="#009399" d="M170.3 120.7 172.5 119.3 170 115.3 167.7 116.7Z"/>
<path color="#007e9b" d="M175.1 123.5 177.3 121.8 174.8 117.6 172.5 119.3Z"/>
<path color="#004ca1" d="M184.6 130.4 186.8 128 184.3 122.2 182.1 124.5Z"/>
<path color="#1a1600" d="M95.8 79.8 98.5 81.1 96.1 79.4 93.4 78Z"/>
<path color="#151a00" d="M105.9 86 108.6 87.3 106.2 85.6 103.6 84.3Z"/>
<path color="#0d1a00" d="M116 91.5 118.6 92.7 116.2 91.2 113.6 90Z"/>
<path color="#008312" d="M141 104 143.4 103.7 140.9 100.8 138.5 101.1Z"/>
<path color="#008938" d="M150.8 108.9 153.2 108.3 150.7 105.4 148.3 105.9Z"/>
<path color="#00956b" d="M160.6 115 162.9 113.9 160.4 110.1 158 111.1Z"/>
<path color="#771800" d="M72.4 69.7 75.2 69.7 72.9 67.6 70.1 67.7Z"/>
<path color="#0041a0" d="M182.4 132.5 184.6 130.4 182.1 124.5 179.9 126.5Z"/>
<path color="#692200" d="M77.5 71.7 80.4 71.9 78.1 69.9 75.2 69.7Z"/>
<path color="#582700" d="M82.7 73.8 85.5 74.3 83.2 72.4 80.4 71.9Z"/>
<path color="#3a2200" d="M87.9 76.1 90.6 77 88.3 75.2 85.5 74.3Z"/>
<path color="#1a1700" d="M98.1 81.7 100.9 82.9 98.5 81.1 95.8 79.8Z"/>
<path color="#181a00" d="M103.3 84.6 105.9 86 103.6 84.3 100.9 82.9Z"/>
<path color="#141a00" d="M108.4 87.5 111 88.8 108.6 87.3 105.9 86Z"/>
<path color="#101a00" d="M113.4 90.3 116 91.5 113.6 90 111 88.8Z"/>
<path color="#0c1a00" d="M118.5 92.9 121.1 94.1 118.6 92.7 116 91.5Z"/>
<path color="#081a00" d="M123.5 95.6 126.1 96.6 123.6 95.1 121.1 94.1Z"/>
<path color="#092f00" d="M128.5 98.3 131 98.9 128.6 97.2 126.1 96.6Z"/>
<path color="#056700" d="M133.5 101.2 136 101.4 133.5 99.2 131 98.9Z"/>
<path color="#00860d" d="M138.5 104.4 141 104 138.5 101.1 136 101.4Z"/>
<path color="#00801e" d="M143.5 106.6 145.9 106.3 143.4 103.7 141 104Z"/>
<path color="#008833" d="M148.4 109.4 150.8 108.9 148.3 105.9 145.9 106.3Z"/>
<path color="#00914f" d="M153.3 112.7 155.7 112 153.2 108.3 150.8 108.9Z"/>
<path color="#00956b" d="M158.2 116 160.6 115 158 111.1 155.7 112Z"/>
<path color="#009099" d="M168 122.1 170.3 120.7 167.7 116.7 165.4 117.9Z"/>
<path color="#00789a" d="M172.8 125.1 175.1 123.5 172.5 119.3 170.3 120.7Z"/>
<path color="#00609d" d="M177.6 128.4 179.9 126.5 177.3 121.8 175.1 123.5Z"/>
<path color="#281d00" d="M93 78.8 95.8 79.8 93.4 78 90.6 77Z"/>
<path color="#009787" d="M163.1 119.1 165.4 117.9 162.9 113.9 160.6 115Z"/>
<path color="#171a00" d="M105.7 86.2 108.4 87.5 105.9 86 103.3 84.6Z"/>
<path color="#00904b" d="M151 113.3 153.3 112.7 150.8 108.9 148.4 109.4Z"/>
<path color="#741f00" d="M74.7 71.7 77.5 71.7 75.2 69.7 72.4 69.7Z"/>
<path color="#642600" d="M79.9 73.6 82.7 73.8 80.4 71.9 77.5 71.7Z"/>
<path color="#532900" d="M85.1 75.6 87.9 76.1 85.5 74.3 82.7 73.8Z"/>
<path color="#2a2100" d="M95.4 80.6 98.1 81.7 95.8 79.8 93 78.8Z"/>
<path color="#081d00" d="M126 97.4 128.5 98.3 126.1 96.6 123.5 95.6Z"/>
<path color="#0a5500" d="M131 100.6 133.5 101.2 131 98.9 128.5 98.3Z"/>
<path color="#009787" d="M160.8 120.2 163.1 119.1 160.6 115 158.2 116Z"/>
<path color="#00759a" d="M170.5 126.5 172.8 125.1 170.3 120.7 168 122.1Z"/>
<path color="#005a9d" d="M175.3 130 177.6 128.4 175.1 123.5 172.8 125.1Z"/>
<path color="#00389f" d="M180.1 134.4 182.4 132.5 179.9 126.5 177.6 128.4Z"/>
<path color="#362200" d="M90.2 77.9 93 78.8 90.6 77 87.9 76.1Z"/>
<path color="#1a1900" d="M100.5 83.4 103.3 84.6 100.9 82.9 98.1 81.7Z"/>
<path color="#131a00" d="M110.8 89 113.4 90.3 111 88.8 108.4 87.5Z"/>
<path color="#0f1a00" d="M115.9 91.7 118.5 92.9 116 91.5 113.4 90.3Z"/>
<path color="#0b1a00" d="M121 94.5 123.5 95.6 121.1 94.1 118.5 92.9Z"/>
<path color="#007c06" d="M136.1 104.3 138.5 104.4 136 101.4 133.5 101.2Z"/>
<path color="#00841b" d="M141 107.1 143.5 106.6 141 104 138.5 104.4Z"/>
<path color="#00892f" d="M146 109.8 148.4 109.4 145.9 106.3 143.5 106.6Z"/>
<path color="#00946a" d="M155.9 116.8 158.2 116 155.7 112 153.3 112.7Z"/>
<path color="#008e98" d="M165.7 123.3 168 122.1 165.4 117.9 163.1 119.1Z"/>
<path color="#6e2400" d="M77 73.6 79.9 73.6 77.5 71.7 74.7 71.7Z"/>
<path color="#5e2900" d="M82.2 75.4 85.1 75.6 82.7 73.8 79.9 73.6Z"/>
<path color="#362600" d="M92.6 79.8 95.4 80.6 93 78.8 90.2 77.9Z"/>
<path color="#1a1a00" d="M103 84.9 105.7 86.2 103.3 84.6 100.5 83.4Z"/>
<path color="#161a00" d="M108.1 87.7 110.8 89 108.4 87.5 105.7 86.2Z"/>
<path color="#121a00" d="M113.2 90.5 115.9 91.7 113.4 90.3 110.8 89Z"/>
<path color="#0e1a00" d="M118.4 93.3 121 94.5 118.5 92.9 115.9 91.7Z"/>
<path color="#0a1a00" d="M123.4 96.2 126 97.4 123.5 95.6 121 94.5Z"/>
<path color="#104700" d="M128.5 99.8 131 100.6 128.5 98.3 126 97.4Z"/>
<path color="#037200" d="M133.6 103.8 136.1 104.3 133.5 101.2 131 100.6Z"/>
<path color="#007813" d="M138.6 107 141 107.1 138.5 104.4 136.1 104.3Z"/>
<path color="#008c2c" d="M143.6 110.4 146 109.8 143.5 106.6 141 107.1Z"/>
<path color="#009248" d="M148.6 113.9 151 113.3 148.4 109.4 146 109.8Z"/>
<path color="#009467" d="M153.5 117.6 155.9 116.8 153.3 112.7 151 113.3Z"/>
<path color="#008c98" d="M163.3 124.5 165.7 123.3 163.1 119.1 160.8 120.2Z"/>
<path color="#00559c" d="M173.1 131.5 175.3 130 172.8 125.1 170.5 126.5Z"/>
<path color="#00329f" d="M177.8 136.1 180.1 134.4 177.6 128.4 175.3 130Z"/>
<path color="#4e2b00" d="M87.4 77.4 90.2 77.9 87.9 76.1 85.1 75.6Z"/>
<path color="#211b00" d="M97.8 82.3 100.5 83.4 98.1 81.7 95.4 80.6Z"/>
<path color="#009686" d="M158.4 121.1 160.8 120.2 158.2 116 155.9 116.8Z"/>
<path color="#00729a" d="M168.2 127.8 170.5 126.5 168 122.1 165.7 123.3Z"/>
<path color="#682800" d="M79.4 75.3 82.2 75.4 79.9 73.6 77 73.6Z"/>
<path color="#4d2f00" d="M89.8 79.2 92.6 79.8 90.2 77.9 87.4 77.4Z"/>
<path color="#1a1700" d="M100.2 83.9 103 84.9 100.5 83.4 97.8 82.3Z"/>
<path color="#009684" d="M156.1 122 158.4 121.1 155.9 116.8 153.5 117.6Z"/>
<path color="#00709a" d="M165.9 129.1 168.2 127.8 165.7 123.3 163.3 124.5Z"/>
<path color="#002d9e" d="M175.6 137.7 177.8 136.1 175.3 130 173.1 131.5Z"/>
<path color="#592b00" d="M84.6 77.1 87.4 77.4 85.1 75.6 82.2 75.4Z"/>
<path color="#2a1f00" d="M95 81.5 97.8 82.3 95.4 80.6 92.6 79.8Z"/>
<path color="#191a00" d="M105.4 86.4 108.1 87.7 105.7 86.2 103 84.9Z"/>
<path color="#151a00" d="M110.6 89.1 113.2 90.5 110.8 89 108.1 87.7Z"/>
<path color="#111a00" d="M115.7 92 118.4 93.3 115.9 91.7 113.2 90.5Z"/>
<path color="#0d1a00" d="M120.9 95 123.4 96.2 121 94.5 118.4 93.3Z"/>
<path color="#133b00" d="M126 98.7 128.5 99.8 126 97.4 123.4 96.2Z"/>
<path color="#0c6c00" d="M131 103.1 133.6 103.8 131 100.6 128.5 99.8Z"/>
<path color="#006c0a" d="M136.1 106.6 138.6 107 136.1 104.3 133.6 103.8Z"/>
<path color="#008524" d="M141.1 110.5 143.6 110.4 141 107.1 138.6 107Z"/>
<path color="#009546" d="M146.1 114.7 148.6 113.9 146 109.8 143.6 110.4Z"/>
<path color="#009564" d="M151.1 118.3 153.5 117.6 151 113.3 148.6 113.9Z"/>
<path color="#008c98" d="M161 125.5 163.3 124.5 160.8 120.2 158.4 121.1Z"/>
<path color="#00529c" d="M170.8 133 173.1 131.5 170.5 126.5 168.2 127.8Z"/>
<path color="#582f00" d="M87 78.9 89.8 79.2 87.4 77.4 84.6 77.1Z"/>
<path color="#1d1600" d="M97.5 83 100.2 83.9 97.8 82.3 95 81.5Z"/>
<path color="#151a00" d="M113.1 90.6 115.7 92 113.2 90.5 110.6 89.1Z"/>
<path color="#101a00" d="M118.2 93.7 120.9 95 118.4 93.3 115.7 92Z"/>
<path color="#1a3b00" d="M123.4 97.5 126 98.7 123.4 96.2 120.9 95Z"/>
<path color="#006400" d="M133.6 105.9 136.1 106.6 133.6 103.8 131 103.1Z"/>
<path color="#007d1a" d="M138.6 110.2 141.1 110.5 138.6 107 136.1 106.6Z"/>
<path color="#00903f" d="M143.7 114.9 146.1 114.7 143.6 110.4 141.1 110.5Z"/>
<path color="#008d97" d="M158.6 126.5 161 125.5 158.4 121.1 156.1 122Z"/>
<path color="#00509c" d="M168.4 134.3 170.8 133 168.2 127.8 165.9 129.1Z"/>
<path color="#632b00" d="M81.7 77 84.6 77.1 82.2 75.4 79.4 75.3Z"/>
<path color="#402a00" d="M92.2 80.9 95 81.5 92.6 79.8 89.8 79.2Z"/>
<path color="#1a1800" d="M102.7 85.4 105.4 86.4 103 84.9 100.2 83.9Z"/>
<path color="#191a00" d="M107.9 87.8 110.6 89.1 108.1 87.7 105.4 86.4Z"/>
<path color="#166500" d="M128.5 102.1 131 103.1 128.5 99.8 126 98.7Z"/>
<path color="#009864" d="M148.7 119.2 151.1 118.3 148.6 113.9 146.1 114.7Z"/>
<path color="#009782" d="M153.7 122.8 156.1 122 153.5 117.6 151.1 118.3Z"/>
<path color="#006f9a" d="M163.5 130.2 165.9 129.1 163.3 124.5 161 125.5Z"/>
<path color="#00299e" d="M173.3 139.2 175.6 137.7 173.1 131.5 170.8 133Z"/>
<path color="#612e00" d="M84.1 78.7 87 78.9 84.6 77.1 81.7 77Z"/>
<path color="#2e2000" d="M94.6 82.3 97.5 83 95 81.5 92.2 80.9Z"/>
<path color="#006f99" d="M161.2 131.3 163.5 130.2 161 125.5 158.6 126.5Z"/>
<path color="#00269e" d="M171 140.6 173.3 139.2 170.8 133 168.4 134.3Z"/>
<path color="#4a2b00" d="M89.4 80.4 92.2 80.9 89.8 79.2 87 78.9Z"/>
<path color="#1a1500" d="M99.9 84.4 102.7 85.4 100.2 83.9 97.5 83Z"/>
<path color="#1a1900" d="M105.1 86.7 107.9 87.8 105.4 86.4 102.7 85.4Z"/>
<path color="#181a00" d="M110.4 89.2 113.1 90.6 110.6 89.1 107.9 87.8Z"/>
<path color="#141a00" d="M115.6 92.3 118.2 93.7 115.7 92 113.1 90.6Z"/>
<path color="#1d3400" d="M120.7 96.2 123.4 97.5 120.9 95 118.2 93.7Z"/>
<path color="#226600" d="M125.9 101 128.5 102.1 126 98.7 123.4 97.5Z"/>
<path color="#095a00" d="M131 105 133.6 105.9 131 103.1 128.5 102.1Z"/>
<path color="#00780f" d="M136.1 109.6 138.6 110.2 136.1 106.6 133.6 105.9Z"/>
<path color="#008c35" d="M141.2 114.8 143.7 114.9 141.1 110.5 138.6 110.2Z"/>
<path color="#00945d" d="M146.2 119.7 148.7 119.2 146.1 114.7 143.7 114.9Z"/>
<path color="#009983" d="M151.2 123.9 153.7 122.8 151.1 118.3 148.7 119.2Z"/>
<path color="#008f98" d="M156.2 127.5 158.6 126.5 156.1 122 153.7 122.8Z"/>
<path color="#004e9c" d="M166.1 135.6 168.4 134.3 165.9 129.1 163.5 130.2Z"/>
<path color="#372200" d="M91.8 81.8 94.6 82.3 92.2 80.9 89.4 80.4Z"/>
<path color="#213000" d="M118.1 94.8 120.7 96.2 118.2 93.7 115.6 92.3Z"/>
<path color="#008a29" d="M138.7 114.5 141.2 114.8 138.6 110.2 136.1 109.6Z"/>
<path color="#004e9c" d="M163.7 136.8 166.1 135.6 163.5 130.2 161.2 131.3Z"/>
<path color="#542b00" d="M86.5 80.2 89.4 80.4 87 78.9 84.1 78.7Z"/>
<path color="#1f1600" d="M97.1 83.6 99.9 84.4 97.5 83 94.6 82.3Z"/>
<path color="#1a1600" d="M102.4 85.6 105.1 86.7 102.7 85.4 99.9 84.4Z"/>
<path color="#1a1900" d="M107.6 88 110.4 89.2 107.9 87.8 105.1 86.7Z"/>
<path color="#171a00" d="M112.9 91 115.6 92.3 113.1 90.6 110.4 89.2Z"/>
<path color="#2c6200" d="M123.3 99.7 125.9 101 123.4 97.5 120.7 96.2Z"/>
<path color="#135900" d="M128.5 104 131 105 128.5 102.1 125.9 101Z"/>
<path color="#007203" d="M133.6 108.8 136.1 109.6 133.6 105.9 131 105Z"/>
<path color="#009054" d="M143.8 119.7 146.2 119.7 143.7 114.9 141.2 114.8Z"/>
<path color="#00967d" d="M148.8 124.5 151.2 123.9 148.7 119.2 146.2 119.7Z"/>
<path color="#00929b" d="M153.8 128.6 156.2 127.5 153.7 122.8 151.2 123.9Z"/>
<path color="#00719a" d="M158.8 132.4 161.2 131.3 158.6 126.5 156.2 127.5Z"/>
<path color="#00249e" d="M168.6 142 171 140.6 168.4 134.3 166.1 135.6Z"/>
<path color="#412300" d="M89 81.5 91.8 81.8 89.4 80.4 86.5 80.2Z"/>
<path color="#00239f" d="M166.3 143.3 168.6 142 166.1 135.6 163.7 136.8Z"/>
<path color="#251700" d="M94.3 83.1 97.1 83.6 94.6 82.3 91.8 81.8Z"/>
<path color="#1a1300" d="M99.6 84.8 102.4 85.6 99.9 84.4 97.1 83.6Z"/>
<path color="#1a1600" d="M104.8 86.9 107.6 88 105.1 86.7 102.4 85.6Z"/>
<path color="#1a1a00" d="M110.1 89.7 112.9 91 110.4 89.2 107.6 88Z"/>
<path color="#283200" d="M115.4 93.4 118.1 94.8 115.6 92.3 112.9 91Z"/>
<path color="#386100" d="M120.6 98.4 123.3 99.7 120.7 96.2 118.1 94.8Z"/>
<path color="#1b5200" d="M125.9 102.8 128.5 104 125.9 101 123.3 99.7Z"/>
<path color="#097200" d="M131 107.8 133.6 108.8 131 105 128.5 104Z"/>
<path color="#00861c" d="M136.2 113.8 138.7 114.5 136.1 109.6 133.6 108.8Z"/>
<path color="#008e49" d="M141.3 119.6 143.8 119.7 141.2 114.8 138.7 114.5Z"/>
<path color="#009274" d="M146.3 124.7 148.8 124.5 146.2 119.7 143.8 119.7Z"/>
<path color="#009198" d="M151.4 129.4 153.8 128.6 151.2 123.9 148.8 124.5Z"/>
<path color="#00729d" d="M156.4 133.7 158.8 132.4 156.2 127.5 153.8 128.6Z"/>
<path color="#004e9d" d="M161.4 138 163.7 136.8 161.2 131.3 158.8 132.4Z"/>
<path color="#2c1900" d="M91.4 82.6 94.3 83.1 91.8 81.8 89 81.5Z"/>
<path color="#1a1100" d="M96.7 84.1 99.6 84.8 97.1 83.6 94.3 83.1Z"/>
<path color="#1a1400" d="M102 85.9 104.8 86.9 102.4 85.6 99.6 84.8Z"/>
<path color="#1a1700" d="M107.4 88.4 110.1 89.7 107.6 88 104.8 86.9Z"/>
<path color="#363900" d="M112.7 92.1 115.4 93.4 112.9 91 110.1 89.7Z"/>
<path color="#244f00" d="M123.2 101.4 125.9 102.8 123.3 99.7 120.6 98.4Z"/>
<path color="#166f00" d="M128.4 106.7 131 107.8 128.5 104 125.9 102.8Z"/>
<path color="#00860f" d="M133.6 113 136.2 113.8 133.6 108.8 131 107.8Z"/>
<path color="#00916a" d="M143.9 124.7 146.3 124.7 143.8 119.7 141.3 119.6Z"/>
<path color="#009395" d="M148.9 129.7 151.4 129.4 148.8 124.5 146.3 124.7Z"/>
<path color="#00719a" d="M154 134.6 156.4 133.7 153.8 128.6 151.4 129.4Z"/>
<path color="#004d9f" d="M159 139.5 161.4 138 158.8 132.4 156.4 133.7Z"/>
<path color="#00229f" d="M163.9 144.6 166.3 143.3 163.7 136.8 161.4 138Z"/>
<path color="#466300" d="M118 97.1 120.6 98.4 118.1 94.8 115.4 93.4Z"/>
<path color="#008b3c" d="M138.8 119.1 141.3 119.6 138.7 114.5 136.2 113.8Z"/>
<path color="#1a1400" d="M104.6 87.4 107.4 88.4 104.8 86.9 102 85.9Z"/>
<path color="#3a3600" d="M109.9 90.8 112.7 92.1 110.1 89.7 107.4 88.4Z"/>
<path color="#236e00" d="M125.8 105.5 128.4 106.7 125.9 102.8 123.2 101.4Z"/>
<path color="#008500" d="M131 112.1 133.6 113 131 107.8 128.4 106.7Z"/>
<path color="#00938d" d="M146.4 129.9 148.9 129.7 146.3 124.7 143.9 124.7Z"/>
<path color="#007397" d="M151.5 135.1 154 134.6 151.4 129.4 148.9 129.7Z"/>
<path color="#1a0f00" d="M93.9 83.5 96.7 84.1 94.3 83.1 91.4 82.6Z"/>
<path color="#1a1100" d="M99.2 85.1 102 85.9 99.6 84.8 96.7 84.1Z"/>
<path color="#566800" d="M115.2 95.8 118 97.1 115.4 93.4 112.7 92.1Z"/>
<path color="#2d4e00" d="M120.5 100.1 123.2 101.4 120.6 98.4 118 97.1Z"/>
<path color="#008b2f" d="M136.2 118.5 138.8 119.1 136.2 113.8 133.6 113Z"/>
<path color="#008d5d" d="M141.3 124.3 143.9 124.7 141.3 119.6 138.8 119.1Z"/>
<path color="#004c9d" d="M156.5 140.6 159 139.5 156.4 133.7 154 134.6Z"/>
<path color="#0020a1" d="M161.5 146.3 163.9 144.6 161.4 138 159 139.5Z"/>
<path color="#433700" d="M107.1 89.7 109.9 90.8 107.4 88.4 104.6 87.4Z"/>
<path color="#0f8500" d="M128.4 111 131 112.1 128.4 106.7 125.8 105.5Z"/>
<path color="#007996" d="M149 135.5 151.5 135.1 148.9 129.7 146.4 129.9Z"/>
<path color="#1a0f00" d="M96.3 84.4 99.2 85.1 96.7 84.1 93.9 83.5Z"/>
<path color="#1a1200" d="M101.7 86.4 104.6 87.4 102 85.9 99.2 85.1Z"/>
<path color="#646900" d="M112.5 94.5 115.2 95.8 112.7 92.1 109.9 90.8Z"/>
<path color="#3a5200" d="M117.8 98.8 120.5 100.1 118 97.1 115.2 95.8Z"/>
<path color="#316e00" d="M123.1 104.2 125.8 105.5 123.2 101.4 120.5 100.1Z"/>
<path color="#008921" d="M133.6 117.6 136.2 118.5 133.6 113 131 112.1Z"/>
<path color="#008c51" d="M138.8 123.8 141.3 124.3 138.8 119.1 136.2 118.5Z"/>
<path color="#009080" d="M144 129.7 146.4 129.9 143.9 124.7 141.3 124.3Z"/>
<path color="#004e9b" d="M154.1 141.2 156.5 140.6 154 134.6 151.5 135.1Z"/>
<path color="#001e9f" d="M159.1 147.5 161.5 146.3 159 139.5 156.5 140.6Z"/>
<path color="#1a0f00" d="M98.8 85.6 101.7 86.4 99.2 85.1 96.3 84.4Z"/>
<path color="#473300" d="M104.3 88.7 107.1 89.7 104.6 87.4 101.7 86.4Z"/>
<path color="#435100" d="M115.1 97.4 117.8 98.8 115.2 95.8 112.5 94.5Z"/>
<path color="#407100" d="M120.4 102.9 123.1 104.2 120.5 100.1 117.8 98.8Z"/>
<path color="#208500" d="M125.8 109.8 128.4 111 125.8 105.5 123.1 104.2Z"/>
<path color="#008911" d="M131 116.7 133.6 117.6 131 112.1 128.4 111Z"/>
<path color="#008a42" d="M136.2 123.1 138.8 123.8 136.2 118.5 133.6 117.6Z"/>
<path color="#008f74" d="M141.4 129.3 144 129.7 141.3 124.3 138.8 123.8Z"/>
<path color="#00549a" d="M151.6 141.7 154.1 141.2 151.5 135.1 149 135.5Z"/>
<path color="#00209e" d="M156.7 148.3 159.1 147.5 156.5 140.6 154.1 141.2Z"/>
<path color="#6f6800" d="M109.7 93.3 112.5 94.5 109.9 90.8 107.1 89.7Z"/>
<path color="#008094" d="M146.6 135.4 149 135.5 146.4 129.9 144 129.7Z"/>
<path color="#4a2e00" d="M101.4 87.7 104.3 88.7 101.7 86.4 98.8 85.6Z"/>
<path color="#4e7200" d="M117.7 101.5 120.4 102.9 117.8 98.8 115.1 97.4Z"/>
<path color="#318700" d="M123.1 108.6 125.8 109.8 123.1 104.2 120.4 102.9Z"/>
<path color="#008a33" d="M133.6 122.3 136.2 123.1 133.6 117.6 131 116.7Z"/>
<path color="#008d65" d="M138.9 128.7 141.4 129.3 138.8 123.8 136.2 123.1Z"/>
<path color="#00259d" d="M154.2 148.9 156.7 148.3 154.1 141.2 151.6 141.7Z"/>
<path color="#735f00" d="M106.9 92.2 109.7 93.3 107.1 89.7 104.3 88.7Z"/>
<path color="#525700" d="M112.3 96.2 115.1 97.4 112.5 94.5 109.7 93.3Z"/>
<path color="#008902" d="M128.4 115.6 131 116.7 128.4 111 125.8 109.8Z"/>
<path color="#008a93" d="M144 135.2 146.6 135.4 144 129.7 141.4 129.3Z"/>
<path color="#005a98" d="M149.2 141.8 151.6 141.7 149 135.5 146.6 135.4Z"/>
<path color="#428800" d="M120.3 107.4 123.1 108.6 120.4 102.9 117.7 101.5Z"/>
<path color="#008c56" d="M136.3 128 138.9 128.7 136.2 123.1 133.6 122.3Z"/>
<path color="#765500" d="M104 91.2 106.9 92.2 104.3 88.7 101.4 87.7Z"/>
<path color="#5a5400" d="M109.5 95 112.3 96.2 109.7 93.3 106.9 92.2Z"/>
<path color="#607600" d="M114.9 100.3 117.7 101.5 115.1 97.4 112.3 96.2Z"/>
<path color="#0f8a00" d="M125.7 114.6 128.4 115.6 125.8 109.8 123.1 108.6Z"/>
<path color="#008924" d="M131 121.3 133.6 122.3 131 116.7 128.4 115.6Z"/>
<path color="#00908c" d="M141.5 134.7 144 135.2 141.4 129.3 138.9 128.7Z"/>
<path color="#006497" d="M146.7 141.8 149.2 141.8 146.6 135.4 144 135.2Z"/>
<path color="#002c9b" d="M151.8 149.2 154.2 148.9 151.6 141.7 149.2 141.8Z"/>
<path color="#5b4c00" d="M106.6 93.9 109.5 95 106.9 92.2 104 91.2Z"/>
<path color="#707800" d="M112.1 99.1 114.9 100.3 112.3 96.2 109.5 95Z"/>
<path color="#548b00" d="M117.6 106.2 120.3 107.4 117.7 101.5 114.9 100.3Z"/>
<path color="#1f8b00" d="M123 113.4 125.7 114.6 123.1 108.6 120.3 107.4Z"/>
<path color="#008a14" d="M128.3 120.3 131 121.3 128.4 115.6 125.7 114.6Z"/>
<path color="#008c47" d="M133.7 127.1 136.3 128 133.6 122.3 131 121.3Z"/>
<path color="#00907e" d="M138.9 134.1 141.5 134.7 138.9 128.7 136.3 128Z"/>
<path color="#006f95" d="M144.1 141.4 146.7 141.8 144 135.2 141.5 134.7Z"/>
<path color="#00359a" d="M149.3 149.2 151.8 149.2 149.2 141.8 146.7 141.8Z"/>
<path color="#7b7600" d="M109.3 98 112.1 99.1 109.5 95 106.6 93.9Z"/>
<path color="#658d00" d="M114.8 105.1 117.6 106.2 114.9 100.3 112.1 99.1Z"/>
<path color="#308d00" d="M120.2 112.3 123 113.4 120.3 107.4 117.6 106.2Z"/>
<path color="#008a04" d="M125.6 119.2 128.3 120.3 125.7 114.6 123 113.4Z"/>
<path color="#008c38" d="M131 126.2 133.7 127.1 131 121.3 128.3 120.3Z"/>
<path color="#008f6e" d="M136.3 133.4 138.9 134.1 136.3 128 133.7 127.1Z"/>
<path color="#007c94" d="M141.6 140.9 144.1 141.4 141.5 134.7 138.9 134.1Z"/>
<path color="#004098" d="M146.7 149 149.3 149.2 146.7 141.8 144.1 141.4Z"/>
<path color="#778f00" d="M111.9 104 114.8 105.1 112.1 99.1 109.3 98Z"/>
<path color="#008b27" d="M128.3 125.1 131 126.2 128.3 120.3 125.6 119.2Z"/>
<path color="#004e98" d="M144.2 148.6 146.7 149 144.1 141.4 141.6 140.9Z"/>
<path color="#428e00" d="M117.4 111.2 120.2 112.3 117.6 106.2 114.8 105.1Z"/>
<path color="#0c8b00" d="M122.9 118.1 125.6 119.2 123 113.4 120.2 112.3Z"/>
<path color="#008f5f" d="M133.7 132.5 136.3 133.4 133.7 127.1 131 126.2Z"/>
<path color="#008a94" d="M139 140.3 141.6 140.9 138.9 134.1 136.3 133.4Z"/>
<path color="#1d8d00" d="M120.1 117 122.9 118.1 120.2 112.3 117.4 111.2Z"/>
<path color="#008d17" d="M125.6 124.1 128.3 125.1 125.6 119.2 122.9 118.1Z"/>
<path color="#008f4e" d="M131 131.5 133.7 132.5 131 126.2 128.3 125.1Z"/>
<path color="#00938d" d="M136.3 139.5 139 140.3 136.3 133.4 133.7 132.5Z"/>
<path color="#529000" d="M114.6 110.1 117.4 111.2 114.8 105.1 111.9 104Z"/>
<path color="#005c97" d="M141.6 148 144.2 148.6 141.6 140.9 139 140.3Z"/>
<path color="#008e07" d="M122.8 123 125.6 124.1 122.9 118.1 120.1 117Z"/>
<path color="#00937c" d="M133.7 138.6 136.3 139.5 133.7 132.5 131 131.5Z"/>
<path color="#2d8e00" d="M117.3 116 120.1 117 117.4 111.2 114.6 110.1Z"/>
<path color="#008f3e" d="M128.3 130.5 131 131.5 128.3 125.1 125.6 124.1Z"/>
<path color="#006b97" d="M139 147.3 141.6 148 139 140.3 136.3 139.5Z"/>
<path color="#0a8f00" d="M120 122 122.8 123 120.1 117 117.3 116Z"/>
<path color="#00902d" d="M125.5 129.5 128.3 130.5 125.6 124.1 122.8 123Z"/>
<path color="#00936b" d="M131 137.6 133.7 138.6 131 131.5 128.3 130.5Z"/>
<path color="#007b96" d="M136.4 146.4 139 147.3 136.3 139.5 133.7 138.6Z"/>
<path color="#00945a" d="M128.3 136.6 131 137.6 128.3 130.5 125.5 129.5Z"/>
<path color="#00911d" d="M122.8 128.4 125.5 129.5 122.8 123 120 122Z"/>
<path color="#008d96" d="M133.7 145.5 136.4 146.4 133.7 138.6 131 137.6Z"/>
<path color="#009549" d="M125.5 135.6 128.3 136.6 125.5 129.5 122.8 128.4Z"/>
<path color="#00978e" d="M131 144.5 133.7 145.5 131 137.6 128.3 136.6Z"/>
<path color="#00977c" d="M128.2 143.5 131 144.5 128.3 136.6 125.5 135.6Z"/>
</g>
<circle cx="91.1" cy="72.3" r="1.45" fill="#c00000" stroke="#600" stroke-width=".5"/>
<circle cx="160.6" cy="74.2" r="1.45" fill="#c00000" stroke="#600" stroke-width=".5"/>
<circle cx="195.7" cy="117.5" r="1.4" fill="#f0c0c0" stroke="#904040" stroke-width=".5"/>
<circle cx="164.1" cy="143.6" r="1.45" fill="#c00000" stroke="#600" stroke-width=".5"/>
<circle cx="128.3" cy="143.3" r="1.4" fill="#f0c0c0" stroke="#904040" stroke-width=".5"/>
<circle cx="59.6" cy="58" r="1.4" fill="#f0c0c0" stroke="#904040" stroke-width=".5"/>
<circle cx="96.6" cy="79.2" r="1.45" fill="#c00000" stroke="#600" stroke-width=".5"/>
<path class="tk" d="M58.6 52.8h1.2"/>
<text x="56.6" y="59" font-size="7.0" fill="#222" stroke="#222" stroke-width="0.18" text-anchor="end" textLength="9.6" lengthAdjust="spacingAndGlyphs">8.51</text>
<path class="tk" d="M59.5 72.5h1.2"/>
<text x="57.6" y="78.7" font-size="7.0" fill="#222" stroke="#222" stroke-width="0.18" text-anchor="end" textLength="12.3" lengthAdjust="spacingAndGlyphs">8.405</text>
<path class="tk" d="M60.4 92.1h1.2"/>
<text x="57.6" y="98.3" font-size="7.0" fill="#222" stroke="#222" stroke-width="0.18" text-anchor="end" textLength="6.8" lengthAdjust="spacingAndGlyphs">8.3</text>
<path class="tk" d="M61.3 112.1h1.2"/>
<text x="58.6" y="118.3" font-size="7.0" fill="#222" stroke="#222" stroke-width="0.18" text-anchor="end" textLength="12.3" lengthAdjust="spacingAndGlyphs">8.195</text>
<path class="tk" d="M62.2 131.6h1.2"/>
<text x="58.8" y="137.8" font-size="7.0" fill="#222" stroke="#222" stroke-width="0.18" text-anchor="end" textLength="9.6" lengthAdjust="spacingAndGlyphs">8.09</text>
<path class="tk" d="M63.3 156.6l-.9 -.5"/>
<text x="61.1" y="162.9" font-size="7.0" fill="#222" stroke="#222" stroke-width="0.18" text-anchor="end" textLength="12.3" lengthAdjust="spacingAndGlyphs">15.00</text>
<path class="tk" d="M79.5 165.6l-.9 -.5"/>
<text x="77.3" y="171.9" font-size="7.0" fill="#222" stroke="#222" stroke-width="0.18" text-anchor="end" textLength="12.3" lengthAdjust="spacingAndGlyphs">12.50</text>
<path class="tk" d="M95.8 174.7l-.9 -.5"/>
<text x="93.6" y="181" font-size="7.0" fill="#222" stroke="#222" stroke-width="0.18" text-anchor="end" textLength="12.3" lengthAdjust="spacingAndGlyphs">10.00</text>
<path class="tk" d="M112 183.7l-.9 -.5"/>
<text x="109.8" y="190" font-size="7.0" fill="#222" stroke="#222" stroke-width="0.18" text-anchor="end" textLength="9.6" lengthAdjust="spacingAndGlyphs">7.50</text>
<path class="tk" d="M128.2 192.8l-.9 -.5"/>
<text x="126" y="199.1" font-size="7.0" fill="#222" stroke="#222" stroke-width="0.18" text-anchor="end" textLength="9.6" lengthAdjust="spacingAndGlyphs">5.00</text>
<path class="tk" d="M128.2 192.8l.9 -.5"/>
<text x="130.8" y="198.9" font-size="7.0" fill="#222" stroke="#222" stroke-width="0.18" textLength="7" lengthAdjust="spacingAndGlyphs">1:3</text>
<path class="tk" d="M144.6 183.7l.9 -.5"/>
<text x="147.2" y="189.8" font-size="7.0" fill="#222" stroke="#222" stroke-width="0.18" textLength="7" lengthAdjust="spacingAndGlyphs">1:2</text>
<path class="tk" d="M161 174.6l.9 -.5"/>
<text x="163.6" y="180.7" font-size="7.0" fill="#222" stroke="#222" stroke-width="0.18" textLength="7" lengthAdjust="spacingAndGlyphs">1:1</text>
<path class="tk" d="M177.4 165.5l.9 -.5"/>
<text x="180" y="171.6" font-size="7.0" fill="#222" stroke="#222" stroke-width="0.18" textLength="7" lengthAdjust="spacingAndGlyphs">2:1</text>
<path class="tk" d="M193.8 156.4l.9 -.5"/>
<text x="196.4" y="162.5" font-size="7.0" fill="#222" stroke="#222" stroke-width="0.18" textLength="7" lengthAdjust="spacingAndGlyphs">3:1</text>
<text x="35.8" y="99" font-size="6.6" fill="#222" stroke="#222" stroke-width="0.18" text-anchor="middle" textLength="21" lengthAdjust="spacingAndGlyphs" transform="rotate(-90 35.8 99)">Final pH</text>
<text x="54.3" y="191" font-size="6.8" fill="#222" stroke="#222" stroke-width="0.18" textLength="5.4" lengthAdjust="spacingAndGlyphs">B:</text>
<text x="64.3" y="192.8" font-size="6.4" fill="#222" stroke="#222" stroke-width="0.18" textLength="12.7" lengthAdjust="spacingAndGlyphs">NMB</text>
<text x="174.6" y="191" font-size="6.8" fill="#222" stroke="#222" stroke-width="0.18" textLength="6.2" lengthAdjust="spacingAndGlyphs">A:</text>
<text x="185.2" y="191.6" font-size="6.4" fill="#222" stroke="#222" stroke-width="0.18" textLength="27.6" lengthAdjust="spacingAndGlyphs">CWM:PUM</text>
<text x="6.8" y="14" font-size="14.5" fill="#222" stroke="#222" stroke-width="0.18">a)</text>
<rect x="10.9" y="48.4" width="2.7" height="15.2" fill="url(#lg)" stroke="#333" stroke-width=".6"/>
<text x="14.9" y="51.7" font-size="4.8" fill="#ff2a2a" stroke="#ff2a2a" stroke-width="0.18" style="font-family:'Liberation Sans',sans-serif" textLength="8" lengthAdjust="spacingAndGlyphs">8.48</text>
<text x="14.9" y="62.8" font-size="4.8" fill="#2a2aff" stroke="#2a2aff" stroke-width="0.18" style="font-family:'Liberation Sans',sans-serif" textLength="7.2" lengthAdjust="spacingAndGlyphs">8.11</text>
<path class="bx" d="M301.7 157.1L297.5 53.4 366.6 35.2 435.5 53.5 430.9 157M366.6 35.2L366.5 128.7"/>
<clipPath id="c2"><path d="M366.2 193.2L430.9 157 366.5 128.7 301.7 157.1Z"/></clipPath>
<path class="fl" d="M366.2 193.2L430.9 157 366.5 128.7 301.7 157.1Z"/>
<g clip-path="url(#c2)">
<path fill="none" stroke="#ff8c1a" stroke-width="0.8" d="M326.5 147.5 321 166.5"/>
<path fill="none" stroke="#b8f040" stroke-width="0.8" d="M348.6 135.5 340.3 178"/>
<path fill="none" stroke="#50e050" stroke-width="0.8" d="M369.5 131 361.5 190"/>
<path fill="none" stroke="#40d0c0" stroke-width="0.8" d="M397 143 391 176"/>
<path fill="none" stroke="#40d0c0" stroke-width="0.8" d="M418.8 151.5 416 164"/>
</g>
<g class="m">
<path color="#164400" d="M366.6 69.8 370.3 70.5 366.6 67 362.8 66.3Z"/>
<path color="#1e4500" d="M362.7 69.1 366.6 69.8 362.8 66.3 359 65.6Z"/>
<path color="#0d4500" d="M370.4 73.4 374.1 74.1 370.3 70.5 366.6 69.8Z"/>
<path color="#264600" d="M358.8 68.4 362.7 69.1 359 65.6 355.1 64.8Z"/>
<path color="#154600" d="M366.6 72.7 370.4 73.4 366.6 69.8 362.7 69.1Z"/>
<path color="#054600" d="M374.2 77 378 77.6 374.1 74.1 370.4 73.4Z"/>
<path color="#2e4800" d="M354.9 67.7 358.8 68.4 355.1 64.8 351.1 64.1Z"/>
<path color="#1d4700" d="M362.7 72 366.6 72.7 362.7 69.1 358.8 68.4Z"/>
<path color="#0c4700" d="M370.4 76.3 374.2 77 370.4 73.4 366.6 72.7Z"/>
<path color="#004604" d="M378.1 80.6 381.9 81.3 378 77.6 374.2 77Z"/>
<path color="#374900" d="M350.8 66.9 354.9 67.7 351.1 64.1 347 63.3Z"/>
<path color="#264800" d="M358.7 71.3 362.7 72 358.8 68.4 354.9 67.7Z"/>
<path color="#144800" d="M366.6 75.7 370.4 76.3 366.6 72.7 362.7 72Z"/>
<path color="#034800" d="M374.3 80 378.1 80.6 374.2 77 370.4 76.3Z"/>
<path color="#00470d" d="M382.1 84.3 385.8 84.9 381.9 81.3 378.1 80.6Z"/>
<path color="#404a00" d="M346.7 66.2 350.8 66.9 347 63.3 342.9 62.5Z"/>
<path color="#2e4a00" d="M354.7 70.6 358.7 71.3 354.9 67.7 350.8 66.9Z"/>
<path color="#1d4900" d="M362.6 75 366.6 75.7 362.7 72 358.7 71.3Z"/>
<path color="#0b4900" d="M370.5 79.4 374.3 80 370.4 76.3 366.6 75.7Z"/>
<path color="#004806" d="M378.3 83.7 382.1 84.3 378.1 80.6 374.3 80Z"/>
<path color="#004817" d="M386.1 88.1 389.8 88.6 385.8 84.9 382.1 84.3Z"/>
<path color="#494b00" d="M342.6 65.4 346.7 66.2 342.9 62.5 338.7 61.8Z"/>
<path color="#374b00" d="M350.6 69.9 354.7 70.6 350.8 66.9 346.7 66.2Z"/>
<path color="#254b00" d="M358.6 74.3 362.6 75 358.7 71.3 354.7 70.6Z"/>
<path color="#144a00" d="M366.5 78.7 370.5 79.4 366.6 75.7 362.6 75Z"/>
<path color="#024a00" d="M374.4 83.1 378.3 83.7 374.3 80 370.5 79.4Z"/>
<path color="#00490f" d="M382.3 87.5 386.1 88.1 382.1 84.3 378.3 83.7Z"/>
<path color="#004920" d="M390.1 91.8 393.8 92.4 389.8 88.6 386.1 88.1Z"/>
<path color="#4c4700" d="M338.3 64.6 342.6 65.4 338.7 61.8 334.5 61Z"/>
<path color="#404c00" d="M346.4 69.1 350.6 69.9 346.7 66.2 342.6 65.4Z"/>
<path color="#2e4c00" d="M354.5 73.6 358.6 74.3 354.7 70.6 350.6 69.9Z"/>
<path color="#1c4b00" d="M362.5 78 366.5 78.7 362.6 75 358.6 74.3Z"/>
<path color="#0a4b00" d="M370.5 82.5 374.4 83.1 370.5 79.4 366.5 78.7Z"/>
<path color="#004a07" d="M378.4 86.9 382.3 87.5 378.3 83.7 374.4 83.1Z"/>
<path color="#004a19" d="M386.3 91.3 390.1 91.8 386.1 88.1 382.3 87.5Z"/>
<path color="#004a2a" d="M394.2 95.7 397.9 96.2 393.8 92.4 390.1 91.8Z"/>
<path color="#4e3f00" d="M334 63.9 338.3 64.6 334.5 61 330.1 60.1Z"/>
<path color="#494d00" d="M342.2 68.4 346.4 69.1 342.6 65.4 338.3 64.6Z"/>
<path color="#374d00" d="M350.3 72.9 354.5 73.6 350.6 69.9 346.4 69.1Z"/>
<path color="#254d00" d="M358.5 77.4 362.5 78 358.6 74.3 354.5 73.6Z"/>
<path color="#134c00" d="M366.5 81.8 370.5 82.5 366.5 78.7 362.5 78Z"/>
<path color="#014c00" d="M374.5 86.3 378.4 86.9 374.4 83.1 370.5 82.5Z"/>
<path color="#004b11" d="M382.5 90.7 386.3 91.3 382.3 87.5 378.4 86.9Z"/>
<path color="#004b23" d="M390.4 95.1 394.2 95.7 390.1 91.8 386.3 91.3Z"/>
<path color="#004a34" d="M398.3 99.5 402 100 397.9 96.2 394.2 95.7Z"/>
<path color="#4f3800" d="M329.6 63 334 63.9 330.1 60.1 325.7 59.3Z"/>
<path color="#4f4a00" d="M337.9 67.6 342.2 68.4 338.3 64.6 334 63.9Z"/>
<path color="#404e00" d="M346.1 72.1 350.3 72.9 346.4 69.1 342.2 68.4Z"/>
<path color="#2e4e00" d="M354.3 76.7 358.5 77.4 354.5 73.6 350.3 72.9Z"/>
<path color="#1c4d00" d="M362.5 81.2 366.5 81.8 362.5 78 358.5 77.4Z"/>
<path color="#094d00" d="M370.6 85.7 374.5 86.3 370.5 82.5 366.5 81.8Z"/>
<path color="#004d09" d="M378.6 90.1 382.5 90.7 378.4 86.9 374.5 86.3Z"/>
<path color="#004c1b" d="M386.6 94.6 390.4 95.1 386.3 91.3 382.5 90.7Z"/>
<path color="#004c2d" d="M394.6 99 398.3 99.5 394.2 95.7 390.4 95.1Z"/>
<path color="#004b3e" d="M402.5 103.4 406.1 103.9 402 100 398.3 99.5Z"/>
<path color="#503000" d="M325.1 62.2 329.6 63 325.7 59.3 321.2 58.5Z"/>
<path color="#504300" d="M333.5 66.8 337.9 67.6 334 63.9 329.6 63Z"/>
<path color="#4a4f00" d="M341.8 71.4 346.1 72.1 342.2 68.4 337.9 67.6Z"/>
<path color="#374f00" d="M350.1 76 354.3 76.7 350.3 72.9 346.1 72.1Z"/>
<path color="#244f00" d="M358.3 80.5 362.5 81.2 358.5 77.4 354.3 76.7Z"/>
<path color="#124e00" d="M366.5 85 370.6 85.7 366.5 81.8 362.5 81.2Z"/>
<path color="#004e01" d="M374.6 89.5 378.6 90.1 374.5 86.3 370.6 85.7Z"/>
<path color="#004d13" d="M382.7 94 386.6 94.6 382.5 90.7 378.6 90.1Z"/>
<path color="#004d25" d="M390.8 98.5 394.6 99 390.4 95.1 386.6 94.6Z"/>
<path color="#004c37" d="M398.8 103 402.5 103.4 398.3 99.5 394.6 99Z"/>
<path color="#004c48" d="M406.7 107.4 410.4 107.8 406.1 103.9 402.5 103.4Z"/>
<path color="#512800" d="M320.5 61.4 325.1 62.2 321.2 58.5 316.7 57.6Z"/>
<path color="#513b00" d="M329 66 333.5 66.8 329.6 63 325.1 62.2Z"/>
<path color="#514d00" d="M337.4 70.6 341.8 71.4 337.9 67.6 333.5 66.8Z"/>
<path color="#415000" d="M345.8 75.2 350.1 76 346.1 72.1 341.8 71.4Z"/>
<path color="#2e5000" d="M354.1 79.8 358.3 80.5 354.3 76.7 350.1 76Z"/>
<path color="#1b4f00" d="M362.4 84.4 366.5 85 362.5 81.2 358.3 80.5Z"/>
<path color="#084f00" d="M370.6 88.9 374.6 89.5 370.6 85.7 366.5 85Z"/>
<path color="#004f0a" d="M378.8 93.5 382.7 94 378.6 90.1 374.6 89.5Z"/>
<path color="#004e1d" d="M386.9 98 390.8 98.5 386.6 94.6 382.7 94Z"/>
<path color="#004e2f" d="M395 102.5 398.8 103 394.6 99 390.8 98.5Z"/>
<path color="#004d41" d="M403 106.9 406.7 107.4 402.5 103.4 398.8 103Z"/>
<path color="#00474d" d="M411 111.4 414.6 111.8 410.4 107.8 406.7 107.4Z"/>
<path color="#532000" d="M315.9 60.5 320.5 61.4 316.7 57.6 312 56.7Z"/>
<path color="#523300" d="M324.4 65.2 329 66 325.1 62.2 320.5 61.4Z"/>
<path color="#524600" d="M332.9 69.9 337.4 70.6 333.5 66.8 329 66Z"/>
<path color="#4b5200" d="M341.4 74.5 345.8 75.2 341.8 71.4 337.4 70.6Z"/>
<path color="#375100" d="M349.8 79.1 354.1 79.8 350.1 76 345.8 75.2Z"/>
<path color="#245100" d="M358.2 83.7 362.4 84.4 358.3 80.5 354.1 79.8Z"/>
<path color="#115000" d="M366.5 88.3 370.6 88.9 366.5 85 362.4 84.4Z"/>
<path color="#005002" d="M374.8 92.9 378.8 93.5 374.6 89.5 370.6 88.9Z"/>
<path color="#004f15" d="M383 97.4 386.9 98 382.7 94 378.8 93.5Z"/>
<path color="#004f27" d="M391.1 102 395 102.5 390.8 98.5 386.9 98Z"/>
<path color="#004f3a" d="M399.2 106.5 403 106.9 398.8 103 395 102.5Z"/>
<path color="#004e4c" d="M407.3 111 411 111.4 406.7 107.4 403 106.9Z"/>
<path color="#003d4e" d="M415.3 115.5 418.9 115.8 414.6 111.8 411 111.4Z"/>
<path color="#541700" d="M311.1 59.7 315.9 60.5 312 56.7 307.3 55.8Z"/>
<path color="#532b00" d="M319.8 64.4 324.4 65.2 320.5 61.4 315.9 60.5Z"/>
<path color="#533e00" d="M328.4 69.1 332.9 69.9 329 66 324.4 65.2Z"/>
<path color="#535100" d="M336.9 73.8 341.4 74.5 337.4 70.6 332.9 69.9Z"/>
<path color="#415200" d="M345.5 78.4 349.8 79.1 345.8 75.2 341.4 74.5Z"/>
<path color="#2e5200" d="M353.9 83.1 358.2 83.7 354.1 79.8 349.8 79.1Z"/>
<path color="#1a5200" d="M362.3 87.7 366.5 88.3 362.4 84.4 358.2 83.7Z"/>
<path color="#075100" d="M370.7 92.3 374.8 92.9 370.6 88.9 366.5 88.3Z"/>
<path color="#00510c" d="M379 96.9 383 97.4 378.8 93.5 374.8 92.9Z"/>
<path color="#00501f" d="M387.2 101.5 391.1 102 386.9 98 383 97.4Z"/>
<path color="#005032" d="M395.4 106 399.2 106.5 395 102.5 391.1 102Z"/>
<path color="#004f44" d="M403.5 110.5 407.3 111 403 106.9 399.2 106.5Z"/>
<path color="#00474f" d="M411.6 115.1 415.3 115.5 411 111.4 407.3 111Z"/>
<path color="#00344e" d="M419.7 119.6 423.3 119.9 418.9 115.8 415.3 115.5Z"/>
<path color="#550e00" d="M306.3 58.8 311.1 59.7 307.3 55.8 302.4 54.9Z"/>
<path color="#552200" d="M315.1 63.5 319.8 64.4 315.9 60.5 311.1 59.7Z"/>
<path color="#543500" d="M323.8 68.3 328.4 69.1 324.4 65.2 319.8 64.4Z"/>
<path color="#544900" d="M332.4 73 336.9 73.8 332.9 69.9 328.4 69.1Z"/>
<path color="#4b5400" d="M341 77.7 345.5 78.4 341.4 74.5 336.9 73.8Z"/>
<path color="#375300" d="M349.5 82.4 353.9 83.1 349.8 79.1 345.5 78.4Z"/>
<path color="#245300" d="M358 87.1 362.3 87.7 358.2 83.7 353.9 83.1Z"/>
<path color="#105200" d="M366.5 91.7 370.7 92.3 366.5 88.3 362.3 87.7Z"/>
<path color="#005203" d="M374.9 96.3 379 96.9 374.8 92.9 370.7 92.3Z"/>
<path color="#005217" d="M383.2 101 387.2 101.5 383 97.4 379 96.9Z"/>
<path color="#00512a" d="M391.5 105.5 395.4 106 391.1 102 387.2 101.5Z"/>
<path color="#00513c" d="M399.7 110.1 403.5 110.5 399.2 106.5 395.4 106Z"/>
<path color="#00504f" d="M407.9 114.7 411.6 115.1 407.3 111 403.5 110.5Z"/>
<path color="#003e50" d="M416 119.2 419.7 119.6 415.3 115.5 411.6 115.1Z"/>
<path color="#002b4f" d="M424.1 123.7 427.7 124 423.3 119.9 419.7 119.6Z"/>
<path color="#560500" d="M301.4 57.9 306.3 58.8 302.4 54.9 297.5 54Z"/>
<path color="#561900" d="M310.2 62.7 315.1 63.5 311.1 59.7 306.3 58.8Z"/>
<path color="#562d00" d="M319 67.5 323.8 68.3 319.8 64.4 315.1 63.5Z"/>
<path color="#554100" d="M327.8 72.2 332.4 73 328.4 69.1 323.8 68.3Z"/>
<path color="#555400" d="M336.5 77 341 77.7 336.9 73.8 332.4 73Z"/>
<path color="#415400" d="M345.1 81.7 349.5 82.4 345.5 78.4 341 77.7Z"/>
<path color="#2d5400" d="M353.7 86.4 358 87.1 353.9 83.1 349.5 82.4Z"/>
<path color="#195400" d="M362.2 91.1 366.5 91.7 362.3 87.7 358 87.1Z"/>
<path color="#065300" d="M370.7 95.8 374.9 96.3 370.7 92.3 366.5 91.7Z"/>
<path color="#00530e" d="M379.1 100.4 383.2 101 379 96.9 374.9 96.3Z"/>
<path color="#005221" d="M387.5 105.1 391.5 105.5 387.2 101.5 383.2 101Z"/>
<path color="#005234" d="M395.8 109.7 399.7 110.1 395.4 106 391.5 105.5Z"/>
<path color="#005247" d="M404.1 114.3 407.9 114.7 403.5 110.5 399.7 110.1Z"/>
<path color="#004851" d="M412.3 118.8 416 119.2 411.6 115.1 407.9 114.7Z"/>
<path color="#003450" d="M420.5 123.4 424.1 123.7 419.7 119.6 416 119.2Z"/>
<path color="#002150" d="M428.6 127.9 432.2 128.2 427.7 124 424.1 123.7Z"/>
<path color="#571000" d="M305.3 61.8 310.2 62.7 306.3 58.8 301.4 57.9Z"/>
<path color="#572400" d="M314.2 66.6 319 67.5 315.1 63.5 310.2 62.7Z"/>
<path color="#563800" d="M323.1 71.5 327.8 72.2 323.8 68.3 319 67.5Z"/>
<path color="#564c00" d="M331.8 76.2 336.5 77 332.4 73 327.8 72.2Z"/>
<path color="#4c5600" d="M340.6 81 345.1 81.7 341 77.7 336.5 77Z"/>
<path color="#375500" d="M349.3 85.8 353.7 86.4 349.5 82.4 345.1 81.7Z"/>
<path color="#235500" d="M357.9 90.5 362.2 91.1 358 87.1 353.7 86.4Z"/>
<path color="#0f5500" d="M366.5 95.2 370.7 95.8 366.5 91.7 362.2 91.1Z"/>
<path color="#005405" d="M375 99.9 379.1 100.4 374.9 96.3 370.7 95.8Z"/>
<path color="#005419" d="M383.4 104.6 387.5 105.1 383.2 101 379.1 100.4Z"/>
<path color="#00532c" d="M391.9 109.2 395.8 109.7 391.5 105.5 387.5 105.1Z"/>
<path color="#00533f" d="M400.2 113.8 404.1 114.3 399.7 110.1 395.8 109.7Z"/>
<path color="#005252" d="M408.5 118.5 412.3 118.8 407.9 114.7 404.1 114.3Z"/>
<path color="#003e52" d="M416.8 123 420.5 123.4 416 119.2 412.3 118.8Z"/>
<path color="#002a51" d="M425 127.6 428.6 127.9 424.1 123.7 420.5 123.4Z"/>
<path color="#581b00" d="M309.3 65.8 314.2 66.6 310.2 62.7 305.3 61.8Z"/>
<path color="#583000" d="M318.2 70.7 323.1 71.5 319 67.5 314.2 66.6Z"/>
<path color="#574400" d="M327.1 75.5 331.8 76.2 327.8 72.2 323.1 71.5Z"/>
<path color="#565700" d="M336 80.3 340.6 81 336.5 77 331.8 76.2Z"/>
<path color="#425700" d="M344.7 85.1 349.3 85.8 345.1 81.7 340.6 81Z"/>
<path color="#2d5600" d="M353.5 89.9 357.9 90.5 353.7 86.4 349.3 85.8Z"/>
<path color="#195600" d="M362.1 94.6 366.5 95.2 362.2 91.1 357.9 90.5Z"/>
<path color="#055500" d="M370.8 99.3 375 99.9 370.7 95.8 366.5 95.2Z"/>
<path color="#005510" d="M379.3 104.1 383.4 104.6 379.1 100.4 375 99.9Z"/>
<path color="#005523" d="M387.8 108.7 391.9 109.2 387.5 105.1 383.4 104.6Z"/>
<path color="#005437" d="M396.3 113.4 400.2 113.8 395.8 109.7 391.9 109.2Z"/>
<path color="#00544b" d="M404.7 118.1 408.5 118.5 404.1 114.3 400.2 113.8Z"/>
<path color="#004853" d="M413 122.7 416.8 123 412.3 118.8 408.5 118.5Z"/>
<path color="#003453" d="M421.3 127.3 425 127.6 420.5 123.4 416.8 123Z"/>
<path color="#592700" d="M313.3 69.8 318.2 70.7 314.2 66.6 309.3 65.8Z"/>
<path color="#593b00" d="M322.3 74.7 327.1 75.5 323.1 71.5 318.2 70.7Z"/>
<path color="#584f00" d="M331.3 79.6 336 80.3 331.8 76.2 327.1 75.5Z"/>
<path color="#4c5800" d="M340.1 84.4 344.7 85.1 340.6 81 336 80.3Z"/>
<path color="#375800" d="M349 89.2 353.5 89.9 349.3 85.8 344.7 85.1Z"/>
<path color="#235700" d="M357.7 94 362.1 94.6 357.9 90.5 353.5 89.9Z"/>
<path color="#0e5700" d="M366.4 98.8 370.8 99.3 366.5 95.2 362.1 94.6Z"/>
<path color="#005606" d="M375.1 103.5 379.3 104.1 375 99.9 370.8 99.3Z"/>
<path color="#00561b" d="M383.7 108.3 387.8 108.7 383.4 104.6 379.3 104.1Z"/>
<path color="#00552f" d="M392.3 113 396.3 113.4 391.9 109.2 387.8 108.7Z"/>
<path color="#005542" d="M400.7 117.7 404.7 118.1 400.2 113.8 396.3 113.4Z"/>
<path color="#005354" d="M409.2 122.4 413 122.7 408.5 118.5 404.7 118.1Z"/>
<path color="#003e54" d="M417.6 127 421.3 127.3 416.8 123 413 122.7Z"/>
<path color="#5a3200" d="M317.4 73.9 322.3 74.7 318.2 70.7 313.3 69.8Z"/>
<path color="#594700" d="M326.5 78.8 331.3 79.6 327.1 75.5 322.3 74.7Z"/>
<path color="#575900" d="M335.4 83.7 340.1 84.4 336 80.3 331.3 79.6Z"/>
<path color="#425900" d="M344.4 88.6 349 89.2 344.7 85.1 340.1 84.4Z"/>
<path color="#2d5800" d="M353.2 93.4 357.7 94 353.5 89.9 349 89.2Z"/>
<path color="#185800" d="M362 98.2 366.4 98.8 362.1 94.6 357.7 94Z"/>
<path color="#035800" d="M370.8 103 375.1 103.5 370.8 99.3 366.4 98.8Z"/>
<path color="#005711" d="M379.5 107.8 383.7 108.3 379.3 104.1 375.1 103.5Z"/>
<path color="#005726" d="M388.1 112.6 392.3 113 387.8 108.7 383.7 108.3Z"/>
<path color="#00563a" d="M396.7 117.3 400.7 117.7 396.3 113.4 392.3 113Z"/>
<path color="#00564e" d="M405.3 122 409.2 122.4 404.7 118.1 400.7 117.7Z"/>
<path color="#004955" d="M413.8 126.7 417.6 127 413 122.7 409.2 122.4Z"/>
<path color="#5b3e00" d="M321.6 78.1 326.5 78.8 322.3 74.7 317.4 73.9Z"/>
<path color="#5a5300" d="M330.7 83 335.4 83.7 331.3 79.6 326.5 78.8Z"/>
<path color="#4d5a00" d="M339.7 87.9 344.4 88.6 340.1 84.4 335.4 83.7Z"/>
<path color="#375a00" d="M348.7 92.8 353.2 93.4 349 89.2 344.4 88.6Z"/>
<path color="#225900" d="M357.6 97.7 362 98.2 357.7 94 353.2 93.4Z"/>
<path color="#0d5900" d="M366.4 102.5 370.8 103 366.4 98.8 362 98.2Z"/>
<path color="#005808" d="M375.2 107.3 379.5 107.8 375.1 103.5 370.8 103Z"/>
<path color="#00581d" d="M384 112.1 388.1 112.6 383.7 108.3 379.5 107.8Z"/>
<path color="#005831" d="M392.7 116.9 396.7 117.3 392.3 113 388.1 112.6Z"/>
<path color="#005745" d="M401.3 121.6 405.3 122 400.7 117.7 396.7 117.3Z"/>
<path color="#005457" d="M409.9 126.4 413.8 126.7 409.2 122.4 405.3 122Z"/>
<path color="#5c4a00" d="M325.8 82.3 330.7 83 326.5 78.8 321.6 78.1Z"/>
<path color="#585b00" d="M334.9 87.2 339.7 87.9 335.4 83.7 330.7 83Z"/>
<path color="#425b00" d="M344 92.2 348.7 92.8 344.4 88.6 339.7 87.9Z"/>
<path color="#2d5b00" d="M353 97.1 357.6 97.7 353.2 93.4 348.7 92.8Z"/>
<path color="#175a00" d="M362 101.9 366.4 102.5 362 98.2 357.6 97.7Z"/>
<path color="#025a00" d="M370.9 106.8 375.2 107.3 370.8 103 366.4 102.5Z"/>
<path color="#005913" d="M379.7 111.7 384 112.1 379.5 107.8 375.2 107.3Z"/>
<path color="#005928" d="M388.5 116.5 392.7 116.9 388.1 112.6 384 112.1Z"/>
<path color="#00583d" d="M397.2 121.3 401.3 121.6 396.7 117.3 392.7 116.9Z"/>
<path color="#005851" d="M405.9 126 409.9 126.4 405.3 122 401.3 121.6Z"/>
<path color="#5d5600" d="M330 86.5 334.9 87.2 330.7 83 325.8 82.3Z"/>
<path color="#4d5c00" d="M339.2 91.5 344 92.2 339.7 87.9 334.9 87.2Z"/>
<path color="#375c00" d="M348.3 96.5 353 97.1 348.7 92.8 344 92.2Z"/>
<path color="#225b00" d="M357.4 101.4 362 101.9 357.6 97.7 353 97.1Z"/>
<path color="#0c5b00" d="M366.4 106.3 370.9 106.8 366.4 102.5 362 101.9Z"/>
<path color="#005b09" d="M375.3 111.2 379.7 111.7 375.2 107.3 370.9 106.8Z"/>
<path color="#005a1f" d="M384.2 116.1 388.5 116.5 384 112.1 379.7 111.7Z"/>
<path color="#005a34" d="M393.1 120.9 397.2 121.3 392.7 116.9 388.5 116.5Z"/>
<path color="#005949" d="M401.8 125.7 405.9 126 401.3 121.6 397.2 121.3Z"/>
<path color="#585d00" d="M334.4 90.9 339.2 91.5 334.9 87.2 330 86.5Z"/>
<path color="#425d00" d="M343.6 95.9 348.3 96.5 344 92.2 339.2 91.5Z"/>
<path color="#2c5d00" d="M352.8 100.8 357.4 101.4 353 97.1 348.3 96.5Z"/>
<path color="#165c00" d="M361.9 105.8 366.4 106.3 362 101.9 357.4 101.4Z"/>
<path color="#015c00" d="M370.9 110.7 375.3 111.2 370.9 106.8 366.4 106.3Z"/>
<path color="#005c15" d="M379.9 115.6 384.2 116.1 379.7 111.7 375.3 111.2Z"/>
<path color="#005b2a" d="M388.8 120.5 393.1 120.9 388.5 116.5 384.2 116.1Z"/>
<path color="#005b40" d="M397.7 125.4 401.8 125.7 397.2 121.3 393.1 120.9Z"/>
<path color="#4e5e00" d="M338.7 95.2 343.6 95.9 339.2 91.5 334.4 90.9Z"/>
<path color="#375e00" d="M348 100.3 352.8 100.8 348.3 96.5 343.6 95.9Z"/>
<path color="#215e00" d="M357.2 105.3 361.9 105.8 357.4 101.4 352.8 100.8Z"/>
<path color="#0b5d00" d="M366.4 110.2 370.9 110.7 366.4 106.3 361.9 105.8Z"/>
<path color="#005d0b" d="M375.5 115.2 379.9 115.6 375.3 111.2 370.9 110.7Z"/>
<path color="#005c21" d="M384.5 120.1 388.8 120.5 384.2 116.1 379.9 115.6Z"/>
<path color="#005c36" d="M393.5 125 397.7 125.4 393.1 120.9 388.8 120.5Z"/>
<path color="#425f00" d="M343.2 99.7 348 100.3 343.6 95.9 338.7 95.2Z"/>
<path color="#2c5f00" d="M352.5 104.7 357.2 105.3 352.8 100.8 348 100.3Z"/>
<path color="#165f00" d="M361.8 109.7 366.4 110.2 361.9 105.8 357.2 105.3Z"/>
<path color="#005e01" d="M371 114.7 375.5 115.2 370.9 110.7 366.4 110.2Z"/>
<path color="#005e17" d="M380.1 119.7 384.5 120.1 379.9 115.6 375.5 115.2Z"/>
<path color="#005d2d" d="M389.2 124.7 393.5 125 388.8 120.5 384.5 120.1Z"/>
<path color="#376000" d="M347.7 104.2 352.5 104.7 348 100.3 343.2 99.7Z"/>
<path color="#206000" d="M357.1 109.2 361.8 109.7 357.2 105.3 352.5 104.7Z"/>
<path color="#0a5f00" d="M366.4 114.3 371 114.7 366.4 110.2 361.8 109.7Z"/>
<path color="#005f0c" d="M375.6 119.3 380.1 119.7 375.5 115.2 371 114.7Z"/>
<path color="#005f23" d="M384.8 124.3 389.2 124.7 384.5 120.1 380.1 119.7Z"/>
<path color="#2c6100" d="M352.2 108.7 357.1 109.2 352.5 104.7 347.7 104.2Z"/>
<path color="#156100" d="M361.7 113.8 366.4 114.3 361.8 109.7 357.1 109.2Z"/>
<path color="#006002" d="M371 118.9 375.6 119.3 371 114.7 366.4 114.3Z"/>
<path color="#006019" d="M380.3 123.9 384.8 124.3 380.1 119.7 375.6 119.3Z"/>
<path color="#206200" d="M356.9 113.4 361.7 113.8 357.1 109.2 352.2 108.7Z"/>
<path color="#096200" d="M366.3 118.5 371 118.9 366.4 114.3 361.7 113.8Z"/>
<path color="#00610e" d="M375.8 123.6 380.3 123.9 375.6 119.3 371 118.9Z"/>
<path color="#146300" d="M361.6 118 366.3 118.5 361.7 113.8 356.9 113.4Z"/>
<path color="#006203" d="M371.1 123.2 375.8 123.6 371 118.9 366.3 118.5Z"/>
<path color="#086400" d="M366.3 122.8 371.1 123.2 366.3 118.5 361.6 118Z"/>
</g>
<path class="st" d="M397.5 88.8V93.6"/>
<path class="st" d="M401.3 125V131"/>
<circle cx="297.5" cy="54.9" r="1.4" fill="#f0c0c0" stroke="#904040" stroke-width=".5"/>
<circle cx="334.3" cy="59.6" r="1.45" fill="#c00000" stroke="#600" stroke-width=".5"/>
<circle cx="366.1" cy="82.4" r="1.45" fill="#c00000" stroke="#600" stroke-width=".5"/>
<circle cx="330.1" cy="91.1" r="1.4" fill="#f0c0c0" stroke="#904040" stroke-width=".5"/>
<circle cx="397.5" cy="88.8" r="1.45" fill="#c00000" stroke="#600" stroke-width=".5"/>
<circle cx="366.3" cy="119.5" r="1.45" fill="#c00000" stroke="#600" stroke-width=".5"/>
<circle cx="401.3" cy="131.1" r="1.4" fill="#f0c0c0" stroke="#904040" stroke-width=".5"/>
<circle cx="431.5" cy="128.7" r="1.4" fill="#f0c0c0" stroke="#904040" stroke-width=".5"/>
<path class="tk" d="M297.5 53.4h1.2"/>
<text x="296.5" y="59.6" font-size="7.0" fill="#222" stroke="#222" stroke-width="0.18" text-anchor="end" textLength="10.9" lengthAdjust="spacingAndGlyphs">1060</text>
<path class="tk" d="M298.3 73.6h1.2"/>
<text x="297" y="79.8" font-size="7.0" fill="#222" stroke="#222" stroke-width="0.18" text-anchor="end" textLength="15" lengthAdjust="spacingAndGlyphs">1017.5</text>
<path class="tk" d="M299.1 93.3h1.2"/>
<text x="297" y="99.5" font-size="7.0" fill="#222" stroke="#222" stroke-width="0.18" text-anchor="end" textLength="8.2" lengthAdjust="spacingAndGlyphs">975</text>
<path class="tk" d="M299.9 112.6h1.2"/>
<text x="298" y="118.8" font-size="7.0" fill="#222" stroke="#222" stroke-width="0.18" text-anchor="end" textLength="12.3" lengthAdjust="spacingAndGlyphs">932.5</text>
<path class="tk" d="M300.7 132.3h1.2"/>
<text x="298" y="138.5" font-size="7.0" fill="#222" stroke="#222" stroke-width="0.18" text-anchor="end" textLength="8.2" lengthAdjust="spacingAndGlyphs">890</text>
<path class="tk" d="M301.7 157.1l-.9 -.5"/>
<text x="299.5" y="163.4" font-size="7.0" fill="#222" stroke="#222" stroke-width="0.18" text-anchor="end" textLength="12.3" lengthAdjust="spacingAndGlyphs">15.00</text>
<path class="tk" d="M317.8 166.2l-.9 -.5"/>
<text x="315.6" y="172.5" font-size="7.0" fill="#222" stroke="#222" stroke-width="0.18" text-anchor="end" textLength="12.3" lengthAdjust="spacingAndGlyphs">12.50</text>
<path class="tk" d="M334 175.2l-.9 -.5"/>
<text x="331.8" y="181.5" font-size="7.0" fill="#222" stroke="#222" stroke-width="0.18" text-anchor="end" textLength="12.3" lengthAdjust="spacingAndGlyphs">10.00</text>
<path class="tk" d="M350.1 184.2l-.9 -.5"/>
<text x="347.9" y="190.5" font-size="7.0" fill="#222" stroke="#222" stroke-width="0.18" text-anchor="end" textLength="9.6" lengthAdjust="spacingAndGlyphs">7.50</text>
<path class="tk" d="M366.2 193.2l-.9 -.5"/>
<text x="364" y="199.5" font-size="7.0" fill="#222" stroke="#222" stroke-width="0.18" text-anchor="end" textLength="9.6" lengthAdjust="spacingAndGlyphs">5.00</text>
<path class="tk" d="M366.2 193.2l.9 -.5"/>
<text x="368.8" y="199.3" font-size="7.0" fill="#222" stroke="#222" stroke-width="0.18" textLength="7" lengthAdjust="spacingAndGlyphs">1:3</text>
<path class="tk" d="M382.4 184.2l.9 -.5"/>
<text x="385" y="190.3" font-size="7.0" fill="#222" stroke="#222" stroke-width="0.18" textLength="7" lengthAdjust="spacingAndGlyphs">1:2</text>
<path class="tk" d="M398.6 175.1l.9 -.5"/>
<text x="401.2" y="181.2" font-size="7.0" fill="#222" stroke="#222" stroke-width="0.18" textLength="7" lengthAdjust="spacingAndGlyphs">1:1</text>
<path class="tk" d="M414.7 166.1l.9 -.5"/>
<text x="417.3" y="172.2" font-size="7.0" fill="#222" stroke="#222" stroke-width="0.18" textLength="7" lengthAdjust="spacingAndGlyphs">2:1</text>
<path class="tk" d="M430.9 157l.9 -.5"/>
<text x="433.5" y="163.1" font-size="7.0" fill="#222" stroke="#222" stroke-width="0.18" textLength="7" lengthAdjust="spacingAndGlyphs">3:1</text>
<text x="276.6" y="110.4" font-size="6.6" fill="#222" stroke="#222" stroke-width="0.18" text-anchor="middle" textLength="62" lengthAdjust="spacingAndGlyphs" transform="rotate(-90 276.6 110.4)">Cumulative temperature</text>
<text x="293.2" y="191.8" font-size="6.8" fill="#222" stroke="#222" stroke-width="0.18" textLength="4.7" lengthAdjust="spacingAndGlyphs">B:</text>
<text x="301" y="193" font-size="6.4" fill="#222" stroke="#222" stroke-width="0.18" textLength="13" lengthAdjust="spacingAndGlyphs">NMB</text>
<text x="414.7" y="191.8" font-size="6.8" fill="#222" stroke="#222" stroke-width="0.18" textLength="5.5" lengthAdjust="spacingAndGlyphs">A:</text>
<text x="426" y="192.6" font-size="6.4" fill="#222" stroke="#222" stroke-width="0.18" textLength="27.6" lengthAdjust="spacingAndGlyphs">CWM:PUM</text>
<text x="235.2" y="14.2" font-size="14.5" fill="#222" stroke="#222" stroke-width="0.18">b)</text>
<rect x="236.9" y="53.7" width="3" height="15.7" fill="url(#lg)" stroke="#333" stroke-width=".6"/>
<text x="241.4" y="57.3" font-size="4.8" fill="#ff2a2a" stroke="#ff2a2a" stroke-width="0.18" style="font-family:'Liberation Sans',sans-serif" textLength="9.4" lengthAdjust="spacingAndGlyphs">1056</text>
<text x="241.4" y="68.1" font-size="4.8" fill="#2a2aff" stroke="#2a2aff" stroke-width="0.18" style="font-family:'Liberation Sans',sans-serif" textLength="7" lengthAdjust="spacingAndGlyphs">890</text>
<path class="bx" d="M529.8 151.4L526.1 48.1 589 30.5 652.5 48.3 648.6 151.8M589 30.5L588.9 123.4"/>
<clipPath id="c3"><path d="M589.3 187.8L648.6 151.8 588.9 123.4 529.8 151.4Z"/></clipPath>
<path class="fl" d="M589.3 187.8L648.6 151.8 588.9 123.4 529.8 151.4Z"/>
<g clip-path="url(#c3)">
<path fill="none" stroke="#50e050" stroke-width="0.8" d="M530.7 151.7 572 139"/>
<path fill="none" stroke="#30d0a0" stroke-width="0.8" d="M538.3 154.9 568.6 149.2 585 146"/>
<path fill="none" stroke="#30c0b0" stroke-width="0.8" d="M547.8 161.6 550.1 161 552.5 160.4 554.8 159.8 557.2 159.2 559.5 158.7 561.8 158.1 564.2 157.5 566.5 157 568.9 156.5 571.2 156 573.6 155.5 575.9 155 578.3 154.6 580.7 154.2 583.1 153.8 585.4 153.5 587.8 153.2 590.2 152.8 592.6 152.6 595 152.3 597.4 152 599.8 151.7 602.2 151.4 604.6 151.1 606.9 150.8 609.3 150.5 611.7 150.1 614.1 149.7 616.5 149.3 618.8 148.9 621.2 148.5 623.6 148 625.9 147.6 628.3 147.1 630.6 146.6 633 146 635.3 145.4 637.7 144.9 640 144.3"/>
</g>
<g class="m">
<path color="#b41f00" d="M589 39.6 591 37.7 589 31.6 587 33.5Z"/>
<path color="#b52c00" d="M587 41.4 589 39.6 587 33.5 585 35.4Z"/>
<path color="#b45600" d="M591 45.4 593 43.5 591 37.7 589 39.6Z"/>
<path color="#b53a00" d="M585 43.4 587 41.4 585 35.4 582.9 37.3Z"/>
<path color="#b46400" d="M589 47.3 591 45.4 589 39.6 587 41.4Z"/>
<path color="#b38b00" d="M593 50.9 595 49 593 43.5 591 45.4Z"/>
<path color="#b54800" d="M582.9 45.3 585 43.4 582.9 37.3 580.9 39.3Z"/>
<path color="#aab300" d="M595 56 597 54.2 595 49 593 50.9Z"/>
<path color="#b57100" d="M587 49.1 589 47.3 587 41.4 585 43.4Z"/>
<path color="#b49800" d="M591 52.7 593 50.9 591 45.4 589 47.3Z"/>
<path color="#b57f00" d="M584.9 51 587 49.1 585 43.4 582.9 45.3Z"/>
<path color="#9eb300" d="M593 57.9 595 56 593 50.9 591 52.7Z"/>
<path color="#b65600" d="M580.9 47.2 582.9 45.3 580.9 39.3 578.9 41.2Z"/>
<path color="#b4a500" d="M589 54.6 591 52.7 589 47.3 587 49.1Z"/>
<path color="#7cb200" d="M597 61 599 59.3 597 54.2 595 56Z"/>
<path color="#b66400" d="M578.8 49.1 580.9 47.2 578.9 41.2 576.8 43.2Z"/>
<path color="#b58c00" d="M582.9 53 584.9 51 582.9 45.3 580.9 47.2Z"/>
<path color="#b4b200" d="M587 56.5 589 54.6 587 49.1 584.9 51Z"/>
<path color="#92b300" d="M591 59.7 593 57.9 591 52.7 589 54.6Z"/>
<path color="#70b200" d="M595.1 62.8 597 61 595 56 593 57.9Z"/>
<path color="#4fb200" d="M599.1 65.9 601 64.2 599 59.3 597 61Z"/>
<path color="#b67200" d="M576.8 51.1 578.8 49.1 576.8 43.2 574.7 45.1Z"/>
<path color="#b69a00" d="M580.9 54.9 582.9 53 580.9 47.2 578.8 49.1Z"/>
<path color="#86b400" d="M589 61.6 591 59.7 589 54.6 587 56.5Z"/>
<path color="#45b200" d="M597.1 67.6 599.1 65.9 597 61 595.1 62.8Z"/>
<path color="#25b100" d="M601.1 70.5 603.1 68.9 601 64.2 599.1 65.9Z"/>
<path color="#aab500" d="M584.9 58.4 587 56.5 584.9 51 582.9 53Z"/>
<path color="#65b300" d="M593.1 64.6 595.1 62.8 593 57.9 591 59.7Z"/>
<path color="#b78000" d="M574.7 53.1 576.8 51.1 574.7 45.1 572.6 47.1Z"/>
<path color="#b6a800" d="M578.8 56.8 580.9 54.9 578.8 49.1 576.8 51.1Z"/>
<path color="#9db500" d="M582.9 60.3 584.9 58.4 582.9 53 580.9 54.9Z"/>
<path color="#7ab400" d="M587 63.4 589 61.6 587 56.5 584.9 58.4Z"/>
<path color="#59b300" d="M591 66.4 593.1 64.6 591 59.7 589 61.6Z"/>
<path color="#3ab200" d="M595.1 69.4 597.1 67.6 595.1 62.8 593.1 64.6Z"/>
<path color="#1bb100" d="M599.1 72.2 601.1 70.5 599.1 65.9 597.1 67.6Z"/>
<path color="#00b002" d="M603.2 74.8 605.1 73.2 603.1 68.9 601.1 70.5Z"/>
<path color="#6eb400" d="M584.9 65.3 587 63.4 584.9 58.4 582.9 60.3Z"/>
<path color="#2fb200" d="M593.1 71.1 595.1 69.4 593.1 64.6 591 66.4Z"/>
<path color="#b78e00" d="M572.6 55.1 574.7 53.1 572.6 47.1 570.5 49.1Z"/>
<path color="#b6b500" d="M576.7 58.8 578.8 56.8 576.8 51.1 574.7 53.1Z"/>
<path color="#91b500" d="M580.8 62.2 582.9 60.3 580.9 54.9 578.8 56.8Z"/>
<path color="#4eb300" d="M589 68.3 591 66.4 589 61.6 587 63.4Z"/>
<path color="#11b100" d="M597.2 73.9 599.1 72.2 597.1 67.6 595.1 69.4Z"/>
<path color="#00b00b" d="M601.2 76.4 603.2 74.8 601.1 70.5 599.1 72.2Z"/>
<path color="#00ae23" d="M605.2 78.5 607.2 77 605.1 73.2 603.2 74.8Z"/>
<path color="#b79c00" d="M570.5 57.1 572.6 55.1 570.5 49.1 568.4 51.2Z"/>
<path color="#aab700" d="M574.6 60.8 576.7 58.8 574.7 53.1 572.6 55.1Z"/>
<path color="#84b600" d="M578.7 64.2 580.8 62.2 578.8 56.8 576.7 58.8Z"/>
<path color="#62b500" d="M582.9 67.2 584.9 65.3 582.9 60.3 580.8 62.2Z"/>
<path color="#42b400" d="M587 70.1 589 68.3 587 63.4 584.9 65.3Z"/>
<path color="#24b300" d="M591.1 72.9 593.1 71.1 591 66.4 589 68.3Z"/>
<path color="#07b200" d="M595.1 75.6 597.2 73.9 595.1 69.4 593.1 71.1Z"/>
<path color="#00b014" d="M599.2 78.1 601.2 76.4 599.1 72.2 597.2 73.9Z"/>
<path color="#00ae2b" d="M603.3 80.1 605.2 78.5 603.2 74.8 601.2 76.4Z"/>
<path color="#00ac3e" d="M607.3 81.8 609.3 80.3 607.2 77 605.2 78.5Z"/>
<path color="#b8aa00" d="M568.3 59.1 570.5 57.1 568.4 51.2 566.3 53.2Z"/>
<path color="#55b500" d="M580.8 69.1 582.9 67.2 580.8 62.2 578.7 64.2Z"/>
<path color="#19b300" d="M589 74.7 591.1 72.9 589 68.3 587 70.1Z"/>
<path color="#00b01e" d="M597.2 79.7 599.2 78.1 597.2 73.9 595.1 75.6Z"/>
<path color="#00ab56" d="M609.4 84.9 611.4 83.4 609.3 80.3 607.3 81.8Z"/>
<path color="#9db700" d="M572.5 62.7 574.6 60.8 572.6 55.1 570.5 57.1Z"/>
<path color="#77b600" d="M576.7 66.1 578.7 64.2 576.7 58.8 574.6 60.8Z"/>
<path color="#36b400" d="M584.9 71.9 587 70.1 584.9 65.3 582.9 67.2Z"/>
<path color="#00b203" d="M593.1 77.3 595.1 75.6 593.1 71.1 591.1 72.9Z"/>
<path color="#00ae34" d="M601.3 81.8 603.3 80.1 601.2 76.4 599.2 78.1Z"/>
<path color="#00ac46" d="M605.4 83.4 607.3 81.8 605.2 78.5 603.3 80.1Z"/>
<path color="#90b700" d="M570.4 64.7 572.5 62.7 570.5 57.1 568.3 59.1Z"/>
<path color="#49b500" d="M578.7 71.1 580.8 69.1 578.7 64.2 576.7 66.1Z"/>
<path color="#0eb300" d="M587 76.5 589 74.7 587 70.1 584.9 71.9Z"/>
<path color="#00b20e" d="M591.1 79.1 593.1 77.3 591.1 72.9 589 74.7Z"/>
<path color="#00af3d" d="M599.3 83.4 601.3 81.8 599.2 78.1 597.2 79.7Z"/>
<path color="#00ab5e" d="M607.5 86.5 609.4 84.9 607.3 81.8 605.4 83.4Z"/>
<path color="#b7b800" d="M566.2 61.1 568.3 59.1 566.3 53.2 564.1 55.2Z"/>
<path color="#6bb600" d="M574.5 68.1 576.7 66.1 574.6 60.8 572.5 62.7Z"/>
<path color="#2bb400" d="M582.8 73.8 584.9 71.9 582.9 67.2 580.8 69.1Z"/>
<path color="#00b127" d="M595.2 81.4 597.2 79.7 595.1 75.6 593.1 77.3Z"/>
<path color="#00ac4e" d="M603.4 85 605.4 83.4 603.3 80.1 601.3 81.8Z"/>
<path color="#00aa6b" d="M611.6 87.9 613.5 86.4 611.4 83.4 609.4 84.9Z"/>
<path color="#aab800" d="M564 63.1 566.2 61.1 564.1 55.2 562 57.3Z"/>
<path color="#83b800" d="M568.2 66.7 570.4 64.7 568.3 59.1 566.2 61.1Z"/>
<path color="#5eb700" d="M572.4 70 574.5 68.1 572.5 62.7 570.4 64.7Z"/>
<path color="#3db500" d="M576.6 73 578.7 71.1 576.7 66.1 574.5 68.1Z"/>
<path color="#1fb400" d="M580.8 75.7 582.8 73.8 580.8 69.1 578.7 71.1Z"/>
<path color="#03b300" d="M584.9 78.3 587 76.5 584.9 71.9 582.8 73.8Z"/>
<path color="#00b218" d="M589 80.8 591.1 79.1 589 74.7 587 76.5Z"/>
<path color="#00b131" d="M593.2 83.1 595.2 81.4 593.1 77.3 591.1 79.1Z"/>
<path color="#00af46" d="M597.3 85 599.3 83.4 597.2 79.7 595.2 81.4Z"/>
<path color="#00ac57" d="M601.4 86.6 603.4 85 601.3 81.8 599.3 83.4Z"/>
<path color="#00ab65" d="M605.5 88.1 607.5 86.5 605.4 83.4 603.4 85Z"/>
<path color="#00aa73" d="M609.6 89.4 611.6 87.9 609.4 84.9 607.5 86.5Z"/>
<path color="#00a87f" d="M613.7 90.7 615.6 89.2 613.5 86.4 611.6 87.9Z"/>
<path color="#9cb900" d="M561.8 65.2 564 63.1 562 57.3 559.8 59.4Z"/>
<path color="#75b800" d="M566.1 68.8 568.2 66.7 566.2 61.1 564 63.1Z"/>
<path color="#30b600" d="M574.5 74.9 576.6 73 574.5 68.1 572.4 70Z"/>
<path color="#00b408" d="M582.8 80.1 584.9 78.3 582.8 73.8 580.8 75.7Z"/>
<path color="#00b322" d="M587 82.5 589 80.8 587 76.5 584.9 78.3Z"/>
<path color="#00b13a" d="M591.1 84.8 593.2 83.1 591.1 79.1 589 80.8Z"/>
<path color="#00af4e" d="M595.2 86.7 597.3 85 595.2 81.4 593.2 83.1Z"/>
<path color="#00ab6d" d="M603.5 89.7 605.5 88.1 603.4 85 601.4 86.6Z"/>
<path color="#00a986" d="M611.7 92.2 613.7 90.7 611.6 87.9 609.6 89.4Z"/>
<path color="#00a790" d="M615.8 93.3 617.8 91.8 615.6 89.2 613.7 90.7Z"/>
<path color="#51b700" d="M570.3 72 572.4 70 570.4 64.7 568.2 66.7Z"/>
<path color="#13b500" d="M578.7 77.6 580.8 75.7 578.7 71.1 576.6 73Z"/>
<path color="#00ad5f" d="M599.4 88.2 601.4 86.6 599.3 83.4 597.3 85Z"/>
<path color="#00aa7a" d="M607.6 91 609.6 89.4 607.5 86.5 605.5 88.1Z"/>
<path color="#8eb900" d="M559.7 67.3 561.8 65.2 559.8 59.4 557.6 61.4Z"/>
<path color="#68b800" d="M563.9 70.8 566.1 68.8 564 63.1 561.8 65.2Z"/>
<path color="#44b700" d="M568.1 74 570.3 72 568.2 66.7 566.1 68.8Z"/>
<path color="#24b600" d="M572.3 76.9 574.5 74.9 572.4 70 570.3 72Z"/>
<path color="#08b500" d="M576.5 79.5 578.7 77.6 576.6 73 574.5 74.9Z"/>
<path color="#00b413" d="M580.7 81.9 582.8 80.1 580.8 75.7 578.7 77.6Z"/>
<path color="#00b32c" d="M584.9 84.3 587 82.5 584.9 78.3 582.8 80.1Z"/>
<path color="#00b143" d="M589 86.5 591.1 84.8 589 80.8 587 82.5Z"/>
<path color="#00af57" d="M593.2 88.3 595.2 86.7 593.2 83.1 591.1 84.8Z"/>
<path color="#00ad67" d="M597.3 89.8 599.4 88.2 597.3 85 595.2 86.7Z"/>
<path color="#00ac75" d="M601.5 91.3 603.5 89.7 601.4 86.6 599.4 88.2Z"/>
<path color="#00aa82" d="M605.6 92.6 607.6 91 605.5 88.1 603.5 89.7Z"/>
<path color="#00a98d" d="M609.7 93.8 611.7 92.2 609.6 89.4 607.6 91Z"/>
<path color="#00a897" d="M613.9 94.8 615.8 93.3 613.7 90.7 611.7 92.2Z"/>
<path color="#00a69f" d="M618 95.7 619.9 94.2 617.8 91.8 615.8 93.3Z"/>
<path color="#18b600" d="M570.2 78.9 572.3 76.9 570.3 72 568.1 74Z"/>
<path color="#00b41e" d="M578.6 83.8 580.7 81.9 578.7 77.6 576.5 79.5Z"/>
<path color="#00ac7d" d="M599.5 92.9 601.5 91.3 599.4 88.2 597.3 89.8Z"/>
<path color="#00a994" d="M607.8 95.3 609.7 93.8 607.6 91 605.6 92.6Z"/>
<path color="#80b900" d="M557.4 69.4 559.7 67.3 557.6 61.4 555.4 63.5Z"/>
<path color="#5bb900" d="M561.7 72.9 563.9 70.8 561.8 65.2 559.7 67.3Z"/>
<path color="#37b800" d="M566 76.1 568.1 74 566.1 68.8 563.9 70.8Z"/>
<path color="#00b504" d="M574.4 81.4 576.5 79.5 574.5 74.9 572.3 76.9Z"/>
<path color="#00b336" d="M582.8 86.1 584.9 84.3 582.8 80.1 580.7 81.9Z"/>
<path color="#00b14d" d="M587 88.2 589 86.5 587 82.5 584.9 84.3Z"/>
<path color="#00af60" d="M591.1 90 593.2 88.3 591.1 84.8 589 86.5Z"/>
<path color="#00ad6f" d="M595.3 91.5 597.3 89.8 595.2 86.7 593.2 88.3Z"/>
<path color="#00ab89" d="M603.6 94.1 605.6 92.6 603.5 89.7 601.5 91.3Z"/>
<path color="#00a89e" d="M611.9 96.4 613.9 94.8 611.7 92.2 609.7 93.8Z"/>
<path color="#00a6a6" d="M616 97.3 618 95.7 615.8 93.3 613.9 94.8Z"/>
<path color="#009da4" d="M620.2 98 622.1 96.5 619.9 94.2 618 95.7Z"/>
<path color="#73ba00" d="M555.2 71.5 557.4 69.4 555.4 63.5 553.2 65.7Z"/>
<path color="#4db900" d="M559.5 74.9 561.7 72.9 559.7 67.3 557.4 69.4Z"/>
<path color="#2ab800" d="M563.8 78.1 566 76.1 563.9 70.8 561.7 72.9Z"/>
<path color="#0bb700" d="M568 80.9 570.2 78.9 568.1 74 566 76.1Z"/>
<path color="#00b510" d="M572.2 83.3 574.4 81.4 572.3 76.9 570.2 78.9Z"/>
<path color="#00b429" d="M576.5 85.6 578.6 83.8 576.5 79.5 574.4 81.4Z"/>
<path color="#00b340" d="M580.7 87.9 582.8 86.1 580.7 81.9 578.6 83.8Z"/>
<path color="#00b256" d="M584.9 89.9 587 88.2 584.9 84.3 582.8 86.1Z"/>
<path color="#00b069" d="M589.1 91.7 591.1 90 589 86.5 587 88.2Z"/>
<path color="#00ad78" d="M593.2 93.1 595.3 91.5 593.2 88.3 591.1 90Z"/>
<path color="#00ac85" d="M597.4 94.5 599.5 92.9 597.3 89.8 595.3 91.5Z"/>
<path color="#00ab91" d="M601.6 95.7 603.6 94.1 601.5 91.3 599.5 92.9Z"/>
<path color="#00aa9b" d="M605.7 96.9 607.8 95.3 605.6 92.6 603.6 94.1Z"/>
<path color="#00a8a5" d="M609.9 97.9 611.9 96.4 609.7 93.8 607.8 95.3Z"/>
<path color="#00a0a7" d="M614.1 98.8 616 97.3 613.9 94.8 611.9 96.4Z"/>
<path color="#0097a5" d="M618.2 99.5 620.2 98 618 95.7 616 97.3Z"/>
<path color="#008fa3" d="M622.4 100.1 624.3 98.6 622.1 96.5 620.2 98Z"/>
<path color="#65ba00" d="M553 73.6 555.2 71.5 553.2 65.7 550.9 67.8Z"/>
<path color="#40b900" d="M557.3 77 559.5 74.9 557.4 69.4 555.2 71.5Z"/>
<path color="#00b701" d="M565.8 82.9 568 80.9 566 76.1 563.8 78.1Z"/>
<path color="#00b434" d="M574.3 87.5 576.5 85.6 574.4 81.4 572.2 83.3Z"/>
<path color="#00b260" d="M582.8 91.7 584.9 89.9 582.8 86.1 580.7 87.9Z"/>
<path color="#00ac8d" d="M595.4 96.1 597.4 94.5 595.3 91.5 593.2 93.1Z"/>
<path color="#00aaa3" d="M603.7 98.4 605.7 96.9 603.6 94.1 601.6 95.7Z"/>
<path color="#009aa7" d="M612.1 100.3 614.1 98.8 611.9 96.4 609.9 97.9Z"/>
<path color="#008aa3" d="M620.4 101.6 622.4 100.1 620.2 98 618.2 99.5Z"/>
<path color="#0084a3" d="M624.6 102.2 626.5 100.7 624.3 98.6 622.4 100.1Z"/>
<path color="#1db800" d="M561.6 80.2 563.8 78.1 561.7 72.9 559.5 74.9Z"/>
<path color="#00b51c" d="M570.1 85.2 572.2 83.3 570.2 78.9 568 80.9Z"/>
<path color="#00b34b" d="M578.5 89.7 580.7 87.9 578.6 83.8 576.5 85.6Z"/>
<path color="#00b071" d="M587 93.4 589.1 91.7 587 88.2 584.9 89.9Z"/>
<path color="#00ae80" d="M591.2 94.8 593.2 93.1 591.1 90 589.1 91.7Z"/>
<path color="#00ab98" d="M599.5 97.3 601.6 95.7 599.5 92.9 597.4 94.5Z"/>
<path color="#00a5a8" d="M607.9 99.5 609.9 97.9 607.8 95.3 605.7 96.9Z"/>
<path color="#0091a5" d="M616.3 101.1 618.2 99.5 616 97.3 614.1 98.8Z"/>
<path color="#57ba00" d="M550.7 75.7 553 73.6 550.9 67.8 548.7 69.9Z"/>
<path color="#32b900" d="M555.1 79.1 557.3 77 555.2 71.5 553 73.6Z"/>
<path color="#00b70e" d="M563.6 84.9 565.8 82.9 563.8 78.1 561.6 80.2Z"/>
<path color="#00b53f" d="M572.2 89.4 574.3 87.5 572.2 83.3 570.1 85.2Z"/>
<path color="#00b355" d="M576.4 91.5 578.5 89.7 576.5 85.6 574.3 87.5Z"/>
<path color="#00b07a" d="M584.9 95.1 587 93.4 584.9 89.9 582.8 91.7Z"/>
<path color="#00ad94" d="M593.3 97.7 595.4 96.1 593.2 93.1 591.2 94.8Z"/>
<path color="#00aaaa" d="M601.7 100 603.7 98.4 601.6 95.7 599.5 97.3Z"/>
<path color="#009fa9" d="M605.9 101 607.9 99.5 605.7 96.9 603.7 98.4Z"/>
<path color="#008ba5" d="M614.3 102.6 616.3 101.1 614.1 98.8 612.1 100.3Z"/>
<path color="#007ea3" d="M622.7 103.7 624.6 102.2 622.4 100.1 620.4 101.6Z"/>
<path color="#0079a3" d="M626.8 104.3 628.8 102.8 626.5 100.7 624.6 102.2Z"/>
<path color="#10b800" d="M559.4 82.2 561.6 80.2 559.5 74.9 557.3 77Z"/>
<path color="#00b628" d="M567.9 87.2 570.1 85.2 568 80.9 565.8 82.9Z"/>
<path color="#00b269" d="M580.6 93.4 582.8 91.7 580.7 87.9 578.5 89.7Z"/>
<path color="#00ae88" d="M589.1 96.4 591.2 94.8 589.1 91.7 587 93.4Z"/>
<path color="#00aba0" d="M597.5 98.9 599.5 97.3 597.4 94.5 595.4 96.1Z"/>
<path color="#0094a7" d="M610.1 101.9 612.1 100.3 609.9 97.9 607.9 99.5Z"/>
<path color="#0084a4" d="M618.5 103.2 620.4 101.6 618.2 99.5 616.3 101.1Z"/>
<path color="#49bb00" d="M548.5 77.8 550.7 75.7 548.7 69.9 546.4 72.1Z"/>
<path color="#24ba00" d="M552.8 81.2 555.1 79.1 553 73.6 550.7 75.7Z"/>
<path color="#03b900" d="M557.1 84.3 559.4 82.2 557.3 77 555.1 79.1Z"/>
<path color="#00b71b" d="M561.4 86.9 563.6 84.9 561.6 80.2 559.4 82.2Z"/>
<path color="#00b634" d="M565.7 89.2 567.9 87.2 565.8 82.9 563.6 84.9Z"/>
<path color="#00b54a" d="M570 91.3 572.2 89.4 570.1 85.2 567.9 87.2Z"/>
<path color="#00b45f" d="M574.2 93.3 576.4 91.5 574.3 87.5 572.2 89.4Z"/>
<path color="#00b272" d="M578.5 95.2 580.6 93.4 578.5 89.7 576.4 91.5Z"/>
<path color="#00b083" d="M582.7 96.8 584.9 95.1 582.8 91.7 580.6 93.4Z"/>
<path color="#00ae90" d="M587 98.1 589.1 96.4 587 93.4 584.9 95.1Z"/>
<path color="#00ad9c" d="M591.2 99.4 593.3 97.7 591.2 94.8 589.1 96.4Z"/>
<path color="#00aba7" d="M595.4 100.5 597.5 98.9 595.4 96.1 593.3 97.7Z"/>
<path color="#00a4aa" d="M599.6 101.6 601.7 100 599.5 97.3 597.5 98.9Z"/>
<path color="#0098a9" d="M603.8 102.6 605.9 101 603.7 98.4 601.7 100Z"/>
<path color="#008ea8" d="M608.1 103.5 610.1 101.9 607.9 99.5 605.9 101Z"/>
<path color="#0085a6" d="M612.3 104.2 614.3 102.6 612.1 100.3 610.1 101.9Z"/>
<path color="#007ea4" d="M616.5 104.7 618.5 103.2 616.3 101.1 614.3 102.6Z"/>
<path color="#0079a4" d="M620.7 105.3 622.7 103.7 620.4 101.6 618.5 103.2Z"/>
<path color="#0073a3" d="M624.9 105.8 626.8 104.3 624.6 102.2 622.7 103.7Z"/>
<path color="#006da1" d="M629.1 106.2 631 104.7 628.8 102.8 626.8 104.3Z"/>
<path color="#3bbb00" d="M546.2 80 548.5 77.8 546.4 72.1 544.1 74.3Z"/>
<path color="#17ba00" d="M550.5 83.3 552.8 81.2 550.7 75.7 548.5 77.8Z"/>
<path color="#00b827" d="M559.2 89 561.4 86.9 559.4 82.2 557.1 84.3Z"/>
<path color="#00b640" d="M563.5 91.2 565.7 89.2 563.6 84.9 561.4 86.9Z"/>
<path color="#00b555" d="M567.8 93.2 570 91.3 567.9 87.2 565.7 89.2Z"/>
<path color="#00b46a" d="M572.1 95.2 574.2 93.3 572.2 89.4 570 91.3Z"/>
<path color="#00b27c" d="M576.3 97 578.5 95.2 576.4 91.5 574.2 93.3Z"/>
<path color="#00b08c" d="M580.6 98.5 582.7 96.8 580.6 93.4 578.5 95.2Z"/>
<path color="#00ada4" d="M589.1 101 591.2 99.4 589.1 96.4 587 98.1Z"/>
<path color="#009daa" d="M597.6 103.2 599.6 101.6 597.5 98.9 595.4 100.5Z"/>
<path color="#0092a9" d="M601.8 104.2 603.8 102.6 601.7 100 599.6 101.6Z"/>
<path color="#0088a8" d="M606 105 608.1 103.5 605.9 101 603.8 102.6Z"/>
<path color="#007fa6" d="M610.3 105.7 612.3 104.2 610.1 101.9 608.1 103.5Z"/>
<path color="#0078a4" d="M614.5 106.3 616.5 104.7 614.3 102.6 612.3 104.2Z"/>
<path color="#0073a4" d="M618.7 106.8 620.7 105.3 618.5 103.2 616.5 104.7Z"/>
<path color="#0068a1" d="M627.2 107.7 629.1 106.2 626.8 104.3 624.9 105.8Z"/>
<path color="#00639f" d="M631.4 108 633.3 106.5 631 104.7 629.1 106.2Z"/>
<path color="#00b90a" d="M554.9 86.4 557.1 84.3 555.1 79.1 552.8 81.2Z"/>
<path color="#00ae99" d="M584.8 99.8 587 98.1 584.9 95.1 582.7 96.8Z"/>
<path color="#00a9ac" d="M593.3 102.2 595.4 100.5 593.3 97.7 591.2 99.4Z"/>
<path color="#006da3" d="M622.9 107.3 624.9 105.8 622.7 103.7 620.7 105.3Z"/>
<path color="#00b561" d="M565.6 95.2 567.8 93.2 565.7 89.2 563.5 91.2Z"/>
<path color="#0072a5" d="M612.5 107.9 614.5 106.3 612.3 104.2 610.3 105.7Z"/>
<path color="#2dbb00" d="M543.9 82.2 546.2 80 544.1 74.3 541.8 76.5Z"/>
<path color="#09ba00" d="M548.2 85.5 550.5 83.3 548.5 77.8 546.2 80Z"/>
<path color="#00b917" d="M552.6 88.5 554.9 86.4 552.8 81.2 550.5 83.3Z"/>
<path color="#00b834" d="M556.9 91 559.2 89 557.1 84.3 554.9 86.4Z"/>
<path color="#00b64c" d="M561.3 93.2 563.5 91.2 561.4 86.9 559.2 89Z"/>
<path color="#00b474" d="M569.9 97 572.1 95.2 570 91.3 567.8 93.2Z"/>
<path color="#00b286" d="M574.1 98.8 576.3 97 574.2 93.3 572.1 95.2Z"/>
<path color="#00b095" d="M578.4 100.2 580.6 98.5 578.5 95.2 576.3 97Z"/>
<path color="#00aea1" d="M582.7 101.5 584.8 99.8 582.7 96.8 580.6 98.5Z"/>
<path color="#00adac" d="M587 102.7 589.1 101 587 98.1 584.8 99.8Z"/>
<path color="#00a2ac" d="M591.2 103.8 593.3 102.2 591.2 99.4 589.1 101Z"/>
<path color="#0096ab" d="M595.5 104.8 597.6 103.2 595.4 100.5 593.3 102.2Z"/>
<path color="#008caa" d="M599.7 105.8 601.8 104.2 599.6 101.6 597.6 103.2Z"/>
<path color="#0082a8" d="M604 106.6 606 105 603.8 102.6 601.8 104.2Z"/>
<path color="#0079a6" d="M608.2 107.3 610.3 105.7 608.1 103.5 606 105Z"/>
<path color="#006da4" d="M616.7 108.4 618.7 106.8 616.5 104.7 614.5 106.3Z"/>
<path color="#0068a3" d="M621 108.8 622.9 107.3 620.7 105.3 618.7 106.8Z"/>
<path color="#0063a1" d="M625.2 109.2 627.2 107.7 624.9 105.8 622.9 107.3Z"/>
<path color="#005e9f" d="M629.4 109.5 631.4 108 629.1 106.2 627.2 107.7Z"/>
<path color="#005a9b" d="M633.7 109.5 635.6 108.1 633.3 106.5 631.4 108Z"/>
<path color="#00bb04" d="M545.9 87.6 548.2 85.5 546.2 80 543.9 82.2Z"/>
<path color="#00b840" d="M554.7 93.1 556.9 91 554.9 86.4 552.6 88.5Z"/>
<path color="#00b56c" d="M563.3 97.1 565.6 95.2 563.5 91.2 561.3 93.2Z"/>
<path color="#00a7ad" d="M584.8 104.4 587 102.7 584.8 99.8 582.7 101.5Z"/>
<path color="#0090ab" d="M593.4 106.5 595.5 104.8 593.3 102.2 591.2 103.8Z"/>
<path color="#0067a4" d="M614.7 109.9 616.7 108.4 614.5 106.3 612.5 107.9Z"/>
<path color="#005da1" d="M623.2 110.7 625.2 109.2 622.9 107.3 621 108.8Z"/>
<path color="#00559b" d="M631.8 111 633.7 109.5 631.4 108 629.4 109.5Z"/>
<path color="#1fbb00" d="M541.5 84.3 543.9 82.2 541.8 76.5 539.5 78.7Z"/>
<path color="#00b924" d="M550.3 90.5 552.6 88.5 550.5 83.3 548.2 85.5Z"/>
<path color="#00b658" d="M559 95.2 561.3 93.2 559.2 89 556.9 91Z"/>
<path color="#00b47e" d="M567.7 98.9 569.9 97 567.8 93.2 565.6 95.2Z"/>
<path color="#00b38f" d="M572 100.6 574.1 98.8 572.1 95.2 569.9 97Z"/>
<path color="#00b19e" d="M576.3 102 578.4 100.2 576.3 97 574.1 98.8Z"/>
<path color="#00afa9" d="M580.5 103.2 582.7 101.5 580.6 98.5 578.4 100.2Z"/>
<path color="#009bac" d="M589.1 105.4 591.2 103.8 589.1 101 587 102.7Z"/>
<path color="#0085aa" d="M597.6 107.4 599.7 105.8 597.6 103.2 595.5 104.8Z"/>
<path color="#007ca9" d="M601.9 108.2 604 106.6 601.8 104.2 599.7 105.8Z"/>
<path color="#0073a7" d="M606.2 108.9 608.2 107.3 606 105 604 106.6Z"/>
<path color="#006ca5" d="M610.4 109.4 612.5 107.9 610.3 105.7 608.2 107.3Z"/>
<path color="#0062a3" d="M619 110.4 621 108.8 618.7 106.8 616.7 108.4Z"/>
<path color="#00599f" d="M627.5 110.9 629.4 109.5 627.2 107.7 625.2 109.2Z"/>
<path color="#005394" d="M636 110.7 638 109.3 635.6 108.1 633.7 109.5Z"/>
<path color="#11bc00" d="M539.2 86.5 541.5 84.3 539.5 78.7 537.1 80.9Z"/>
<path color="#00bb11" d="M543.6 89.7 545.9 87.6 543.9 82.2 541.5 84.3Z"/>
<path color="#00ba31" d="M548 92.6 550.3 90.5 548.2 85.5 545.9 87.6Z"/>
<path color="#00b84d" d="M552.4 95.1 554.7 93.1 552.6 88.5 550.3 90.5Z"/>
<path color="#00b663" d="M556.7 97.2 559 95.2 556.9 91 554.7 93.1Z"/>
<path color="#00b577" d="M561.1 99.1 563.3 97.1 561.3 93.2 559 95.2Z"/>
<path color="#00b489" d="M565.4 100.8 567.7 98.9 565.6 95.2 563.3 97.1Z"/>
<path color="#00b399" d="M569.7 102.4 572 100.6 569.9 97 567.7 98.9Z"/>
<path color="#00b1a7" d="M574.1 103.8 576.3 102 574.1 98.8 572 100.6Z"/>
<path color="#00acaf" d="M578.4 105 580.5 103.2 578.4 100.2 576.3 102Z"/>
<path color="#00a0ae" d="M582.7 106.1 584.8 104.4 582.7 101.5 580.5 103.2Z"/>
<path color="#0094ac" d="M587 107.1 589.1 105.4 587 102.7 584.8 104.4Z"/>
<path color="#0089ab" d="M591.3 108.1 593.4 106.5 591.2 103.8 589.1 105.4Z"/>
<path color="#007faa" d="M595.5 109 597.6 107.4 595.5 104.8 593.4 106.5Z"/>
<path color="#0075a9" d="M599.8 109.8 601.9 108.2 599.7 105.8 597.6 107.4Z"/>
<path color="#006da7" d="M604.1 110.5 606.2 108.9 604 106.6 601.9 108.2Z"/>
<path color="#0067a5" d="M608.4 111 610.4 109.4 608.2 107.3 606.2 108.9Z"/>
<path color="#0061a5" d="M612.7 111.5 614.7 109.9 612.5 107.9 610.4 109.4Z"/>
<path color="#005da3" d="M616.9 111.9 619 110.4 616.7 108.4 614.7 109.9Z"/>
<path color="#0058a1" d="M621.2 112.2 623.2 110.7 621 108.8 619 110.4Z"/>
<path color="#00549f" d="M625.5 112.4 627.5 110.9 625.2 109.2 623.2 110.7Z"/>
<path color="#00519b" d="M629.8 112.5 631.8 111 629.4 109.5 627.5 110.9Z"/>
<path color="#004f95" d="M634.1 112.2 636 110.7 633.7 109.5 631.8 111Z"/>
<path color="#004f8f" d="M638.4 111.7 640.3 110.2 638 109.3 636 110.7Z"/>
<path color="#03bc00" d="M536.8 88.7 539.2 86.5 537.1 80.9 534.8 83.2Z"/>
<path color="#00bb1f" d="M541.3 91.9 543.6 89.7 541.5 84.3 539.2 86.5Z"/>
<path color="#00b859" d="M550.1 97.2 552.4 95.1 550.3 90.5 548 92.6Z"/>
<path color="#00b581" d="M558.8 101 561.1 99.1 559 95.2 556.7 97.2Z"/>
<path color="#00b3a2" d="M567.5 104.3 569.7 102.4 567.7 98.9 565.4 100.8Z"/>
<path color="#00b1b0" d="M571.8 105.6 574.1 103.8 572 100.6 569.7 102.4Z"/>
<path color="#0098ae" d="M580.5 107.8 582.7 106.1 580.5 103.2 578.4 105Z"/>
<path color="#0082ab" d="M589.1 109.7 591.3 108.1 589.1 105.4 587 107.1Z"/>
<path color="#006fa9" d="M597.7 111.5 599.8 109.8 597.6 107.4 595.5 109Z"/>
<path color="#0061a6" d="M606.3 112.6 608.4 111 606.2 108.9 604.1 110.5Z"/>
<path color="#005ca5" d="M610.6 113.1 612.7 111.5 610.4 109.4 608.4 111Z"/>
<path color="#0053a1" d="M619.2 113.8 621.2 112.2 619 110.4 616.9 111.9Z"/>
<path color="#004c9b" d="M627.8 113.9 629.8 112.5 627.5 110.9 625.5 112.4Z"/>
<path color="#004b8f" d="M636.5 113.1 638.4 111.7 636 110.7 634.1 112.2Z"/>
<path color="#004f8f" d="M640.8 112.6 642.7 111.2 640.3 110.2 638.4 111.7Z"/>
<path color="#00ba3e" d="M545.7 94.8 548 92.6 545.9 87.6 543.6 89.7Z"/>
<path color="#00b66f" d="M554.5 99.2 556.7 97.2 554.7 93.1 552.4 95.1Z"/>
<path color="#00b493" d="M563.2 102.7 565.4 100.8 563.3 97.1 561.1 99.1Z"/>
<path color="#00a4af" d="M576.2 106.8 578.4 105 576.3 102 574.1 103.8Z"/>
<path color="#008dad" d="M584.8 108.8 587 107.1 584.8 104.4 582.7 106.1Z"/>
<path color="#0078aa" d="M593.4 110.6 595.5 109 593.4 106.5 591.3 108.1Z"/>
<path color="#0067a7" d="M602 112.1 604.1 110.5 601.9 108.2 599.8 109.8Z"/>
<path color="#0057a3" d="M614.9 113.5 616.9 111.9 614.7 109.9 612.7 111.5Z"/>
<path color="#004f9f" d="M623.5 113.9 625.5 112.4 623.2 110.7 621.2 112.2Z"/>
<path color="#004a95" d="M632.1 113.7 634.1 112.2 631.8 111 629.8 112.5Z"/>
<path color="#00bc0c" d="M534.5 91 536.8 88.7 534.8 83.2 532.4 85.4Z"/>
<path color="#00bb2d" d="M538.9 94.1 541.3 91.9 539.2 86.5 536.8 88.7Z"/>
<path color="#00b965" d="M547.8 99.2 550.1 97.2 548 92.6 545.7 94.8Z"/>
<path color="#00b67a" d="M552.2 101.1 554.5 99.2 552.4 95.1 550.1 97.2Z"/>
<path color="#00b58c" d="M556.5 102.9 558.8 101 556.7 97.2 554.5 99.2Z"/>
<path color="#00b49c" d="M560.9 104.5 563.2 102.7 561.1 99.1 558.8 101Z"/>
<path color="#00b3ac" d="M565.3 106.1 567.5 104.3 565.4 100.8 563.2 102.7Z"/>
<path color="#00aab1" d="M569.6 107.4 571.8 105.6 569.7 102.4 567.5 104.3Z"/>
<path color="#0090ae" d="M578.3 109.6 580.5 107.8 578.4 105 576.2 106.8Z"/>
<path color="#007cac" d="M587 111.4 589.1 109.7 587 107.1 584.8 108.8Z"/>
<path color="#0072ab" d="M591.3 112.3 593.4 110.6 591.3 108.1 589.1 109.7Z"/>
<path color="#0061a8" d="M599.9 113.7 602 112.1 599.8 109.8 597.7 111.5Z"/>
<path color="#0056a5" d="M608.6 114.7 610.6 113.1 608.4 111 606.3 112.6Z"/>
<path color="#0051a4" d="M612.9 115 614.9 113.5 612.7 111.5 610.6 113.1Z"/>
<path color="#004da2" d="M617.2 115.3 619.2 113.8 616.9 111.9 614.9 113.5Z"/>
<path color="#004a9f" d="M621.5 115.5 623.5 113.9 621.2 112.2 619.2 113.8Z"/>
<path color="#00489b" d="M625.8 115.4 627.8 113.9 625.5 112.4 623.5 113.9Z"/>
<path color="#004695" d="M630.2 115.1 632.1 113.7 629.8 112.5 627.8 113.9Z"/>
<path color="#004b8f" d="M638.8 114.1 640.8 112.6 638.4 111.7 636.5 113.1Z"/>
<path color="#004f8e" d="M643.2 113.5 645.1 112.1 642.7 111.2 640.8 112.6Z"/>
<path color="#00ba4b" d="M543.4 96.9 545.7 94.8 543.6 89.7 541.3 91.9Z"/>
<path color="#009caf" d="M574 108.5 576.2 106.8 574.1 103.8 571.8 105.6Z"/>
<path color="#0086ad" d="M582.6 110.5 584.8 108.8 582.7 106.1 580.5 107.8Z"/>
<path color="#0069a9" d="M595.6 113.1 597.7 111.5 595.5 109 593.4 110.6Z"/>
<path color="#005ba6" d="M604.2 114.2 606.3 112.6 604.1 110.5 602 112.1Z"/>
<path color="#004790" d="M634.5 114.6 636.5 113.1 634.1 112.2 632.1 113.7Z"/>
<path color="#00b596" d="M554.2 104.8 556.5 102.9 554.5 99.2 552.2 101.1Z"/>
<path color="#00439b" d="M623.8 116.9 625.8 115.4 623.5 113.9 621.5 115.5Z"/>
<path color="#00bc1a" d="M532.1 93.2 534.5 91 532.4 85.4 530 87.7Z"/>
<path color="#00bc3a" d="M536.5 96.3 538.9 94.1 536.8 88.7 534.5 91Z"/>
<path color="#00ba58" d="M541 99 543.4 96.9 541.3 91.9 538.9 94.1Z"/>
<path color="#00b971" d="M545.4 101.3 547.8 99.2 545.7 94.8 543.4 96.9Z"/>
<path color="#00b785" d="M549.8 103.2 552.2 101.1 550.1 97.2 547.8 99.2Z"/>
<path color="#00b4a6" d="M558.6 106.4 560.9 104.5 558.8 101 556.5 102.9Z"/>
<path color="#00b1b2" d="M563 107.9 565.3 106.1 563.2 102.7 560.9 104.5Z"/>
<path color="#00a1b1" d="M567.4 109.2 569.6 107.4 567.5 104.3 565.3 106.1Z"/>
<path color="#0094af" d="M571.7 110.3 574 108.5 571.8 105.6 569.6 107.4Z"/>
<path color="#0088ae" d="M576.1 111.3 578.3 109.6 576.2 106.8 574 108.5Z"/>
<path color="#007ead" d="M580.4 112.2 582.6 110.5 580.5 107.8 578.3 109.6Z"/>
<path color="#0075ac" d="M584.8 113.1 587 111.4 584.8 108.8 582.6 110.5Z"/>
<path color="#006cab" d="M589.1 113.9 591.3 112.3 589.1 109.7 587 111.4Z"/>
<path color="#0063aa" d="M593.5 114.7 595.6 113.1 593.4 110.6 591.3 112.3Z"/>
<path color="#005ba8" d="M597.8 115.4 599.9 113.7 597.7 111.5 595.6 113.1Z"/>
<path color="#0055a6" d="M602.1 115.9 604.2 114.2 602 112.1 599.9 113.7Z"/>
<path color="#0050a5" d="M606.5 116.3 608.6 114.7 606.3 112.6 604.2 114.2Z"/>
<path color="#004ca4" d="M610.8 116.6 612.9 115 610.6 113.1 608.6 114.7Z"/>
<path color="#0048a2" d="M615.1 116.8 617.2 115.3 614.9 113.5 612.9 115Z"/>
<path color="#00459f" d="M619.5 117 621.5 115.5 619.2 113.8 617.2 115.3Z"/>
<path color="#004295" d="M628.2 116.6 630.2 115.1 627.8 113.9 625.8 115.4Z"/>
<path color="#004390" d="M632.5 116.1 634.5 114.6 632.1 113.7 630.2 115.1Z"/>
<path color="#00478f" d="M636.9 115.6 638.8 114.1 636.5 113.1 634.5 114.6Z"/>
<path color="#004b8e" d="M641.3 115 643.2 113.5 640.8 112.6 638.8 114.1Z"/>
<path color="#004f8c" d="M645.6 114.4 647.5 112.9 645.1 112.1 643.2 113.5Z"/>
<path color="#00bd28" d="M529.7 95.5 532.1 93.2 530 87.7 527.6 90Z"/>
<path color="#00bc48" d="M534.2 98.5 536.5 96.3 534.5 91 532.1 93.2Z"/>
<path color="#00b97d" d="M543.1 103.4 545.4 101.3 543.4 96.9 541 99Z"/>
<path color="#00b5a0" d="M551.9 106.7 554.2 104.8 552.2 101.1 549.8 103.2Z"/>
<path color="#00b4af" d="M556.3 108.2 558.6 106.4 556.5 102.9 554.2 104.8Z"/>
<path color="#00a8b2" d="M560.7 109.6 563 107.9 560.9 104.5 558.6 106.4Z"/>
<path color="#0099b1" d="M565.1 111 567.4 109.2 565.3 106.1 563 107.9Z"/>
<path color="#0081ae" d="M573.9 113.1 576.1 111.3 574 108.5 571.7 110.3Z"/>
<path color="#006ead" d="M582.6 114.8 584.8 113.1 582.6 110.5 580.4 112.2Z"/>
<path color="#0055a9" d="M595.7 117 597.8 115.4 595.6 113.1 593.5 114.7Z"/>
<path color="#004ba6" d="M604.4 117.9 606.5 116.3 604.2 114.2 602.1 115.9Z"/>
<path color="#0043a2" d="M613.1 118.4 615.1 116.8 612.9 115 610.8 116.6Z"/>
<path color="#00419f" d="M617.4 118.5 619.5 117 617.2 115.3 615.1 116.8Z"/>
<path color="#003f9b" d="M621.8 118.4 623.8 116.9 621.5 115.5 619.5 117Z"/>
<path color="#003e96" d="M626.2 118.1 628.2 116.6 625.8 115.4 623.8 116.9Z"/>
<path color="#004390" d="M634.9 117.1 636.9 115.6 634.5 114.6 632.5 116.1Z"/>
<path color="#004b8c" d="M643.7 115.8 645.6 114.4 643.2 113.5 641.3 115Z"/>
<path color="#004f8a" d="M648.1 115.1 650 113.7 647.5 112.9 645.6 114.4Z"/>
<path color="#00bb65" d="M538.6 101.2 541 99 538.9 94.1 536.5 96.3Z"/>
<path color="#00b790" d="M547.5 105.2 549.8 103.2 547.8 99.2 545.4 101.3Z"/>
<path color="#0077ad" d="M578.2 114 580.4 112.2 578.3 109.6 576.1 111.3Z"/>
<path color="#0065ac" d="M587 115.6 589.1 113.9 587 111.4 584.8 113.1Z"/>
<path color="#005daa" d="M591.3 116.4 593.5 114.7 591.3 112.3 589.1 113.9Z"/>
<path color="#004fa7" d="M600 117.5 602.1 115.9 599.9 113.7 597.8 115.4Z"/>
<path color="#003f90" d="M630.5 117.6 632.5 116.1 630.2 115.1 628.2 116.6Z"/>
<path color="#00478f" d="M639.3 116.5 641.3 115 638.8 114.1 636.9 115.6Z"/>
<path color="#008caf" d="M569.5 112.1 571.7 110.3 569.6 107.4 567.4 109.2Z"/>
<path color="#0046a4" d="M608.7 118.2 610.8 116.6 608.6 114.7 606.5 116.3Z"/>
<path color="#00bc55" d="M531.7 100.7 534.2 98.5 532.1 93.2 529.7 95.5Z"/>
<path color="#00b98a" d="M540.7 105.5 543.1 103.4 541 99 538.6 101.2Z"/>
<path color="#00b5aa" d="M549.6 108.7 551.9 106.7 549.8 103.2 547.5 105.2Z"/>
<path color="#0067ad" d="M580.4 116.6 582.6 114.8 580.4 112.2 578.2 114Z"/>
<path color="#0049a7" d="M597.9 119.1 600 117.5 597.8 115.4 595.7 117Z"/>
<path color="#003b91" d="M628.5 119.1 630.5 117.6 628.2 116.6 626.2 118.1Z"/>
<path color="#00438f" d="M637.3 118 639.3 116.5 636.9 115.6 634.9 117.1Z"/>
<path color="#004b89" d="M646.2 116.6 648.1 115.1 645.6 114.4 643.7 115.8Z"/>
<path color="#00bb72" d="M536.2 103.3 538.6 101.2 536.5 96.3 534.2 98.5Z"/>
<path color="#00b79c" d="M545.1 107.2 547.5 105.2 545.4 101.3 543.1 103.4Z"/>
<path color="#00afb4" d="M554 110.1 556.3 108.2 554.2 104.8 551.9 106.7Z"/>
<path color="#009fb2" d="M558.4 111.4 560.7 109.6 558.6 106.4 556.3 108.2Z"/>
<path color="#0091b0" d="M562.8 112.7 565.1 111 563 107.9 560.7 109.6Z"/>
<path color="#0084af" d="M567.2 113.8 569.5 112.1 567.4 109.2 565.1 111Z"/>
<path color="#0079ae" d="M571.6 114.8 573.9 113.1 571.7 110.3 569.5 112.1Z"/>
<path color="#006fad" d="M576 115.7 578.2 114 576.1 111.3 573.9 113.1Z"/>
<path color="#005eac" d="M584.8 117.4 587 115.6 584.8 113.1 582.6 114.8Z"/>
<path color="#0057ab" d="M589.1 118.1 591.3 116.4 589.1 113.9 587 115.6Z"/>
<path color="#004fa9" d="M593.5 118.7 595.7 117 593.5 114.7 591.3 116.4Z"/>
<path color="#0045a6" d="M602.3 119.5 604.4 117.9 602.1 115.9 600 117.5Z"/>
<path color="#0041a4" d="M606.6 119.8 608.7 118.2 606.5 116.3 604.4 117.9Z"/>
<path color="#003ea2" d="M611 120 613.1 118.4 610.8 116.6 608.7 118.2Z"/>
<path color="#003c9f" d="M615.4 120 617.4 118.5 615.1 116.8 613.1 118.4Z"/>
<path color="#003a9b" d="M619.8 119.9 621.8 118.4 619.5 117 617.4 118.5Z"/>
<path color="#003a96" d="M624.1 119.6 626.2 118.1 623.8 116.9 621.8 118.4Z"/>
<path color="#003f90" d="M632.9 118.6 634.9 117.1 632.5 116.1 630.5 117.6Z"/>
<path color="#00478c" d="M641.7 117.3 643.7 115.8 641.3 115 639.3 116.5Z"/>
<path color="#00b996" d="M538.3 107.7 540.7 105.5 538.6 101.2 536.2 103.3Z"/>
<path color="#00b5b5" d="M547.2 110.6 549.6 108.7 547.5 105.2 545.1 107.2Z"/>
<path color="#0089b0" d="M560.5 114.4 562.8 112.7 560.7 109.6 558.4 111.4Z"/>
<path color="#0072ae" d="M569.3 116.5 571.6 114.8 569.5 112.1 567.2 113.8Z"/>
<path color="#0060ad" d="M578.2 118.3 580.4 116.6 578.2 114 576 115.7Z"/>
<path color="#003fa6" d="M600.1 121.2 602.3 119.5 600 117.5 597.9 119.1Z"/>
<path color="#0039a2" d="M608.9 121.5 611 120 608.7 118.2 606.6 119.8Z"/>
<path color="#00369c" d="M617.7 121.5 619.8 119.9 617.4 118.5 615.4 120Z"/>
<path color="#003c90" d="M630.9 120.1 632.9 118.6 630.5 117.6 628.5 119.1Z"/>
<path color="#00438c" d="M639.8 118.8 641.7 117.3 639.3 116.5 637.3 118Z"/>
<path color="#00bb7f" d="M533.8 105.5 536.2 103.3 534.2 98.5 531.7 100.7Z"/>
<path color="#00b7a7" d="M542.8 109.2 545.1 107.2 543.1 103.4 540.7 105.5Z"/>
<path color="#00a6b4" d="M551.7 111.9 554 110.1 551.9 106.7 549.6 108.7Z"/>
<path color="#0097b2" d="M556.1 113.2 558.4 111.4 556.3 108.2 554 110.1Z"/>
<path color="#0058ac" d="M582.6 119.1 584.8 117.4 582.6 114.8 580.4 116.6Z"/>
<path color="#0050ab" d="M587 119.8 589.1 118.1 587 115.6 584.8 117.4Z"/>
<path color="#0049aa" d="M591.3 120.4 593.5 118.7 591.3 116.4 589.1 118.1Z"/>
<path color="#0044a8" d="M595.7 120.8 597.9 119.1 595.7 117 593.5 118.7Z"/>
<path color="#003696" d="M622.1 121.1 624.1 119.6 621.8 118.4 619.8 119.9Z"/>
<path color="#003891" d="M626.5 120.6 628.5 119.1 626.2 118.1 624.1 119.6Z"/>
<path color="#00408f" d="M635.3 119.5 637.3 118 634.9 117.1 632.9 118.6Z"/>
<path color="#004789" d="M644.2 118 646.2 116.6 643.7 115.8 641.7 117.3Z"/>
<path color="#007caf" d="M564.9 115.5 567.2 113.8 565.1 111 562.8 112.7Z"/>
<path color="#0068ad" d="M573.8 117.4 576 115.7 573.9 113.1 571.6 114.8Z"/>
<path color="#003ba4" d="M604.5 121.4 606.6 119.8 604.4 117.9 602.3 119.5Z"/>
<path color="#00379f" d="M613.3 121.6 615.4 120 613.1 118.4 611 120Z"/>
<path color="#00b9a2" d="M535.9 109.8 538.3 107.7 536.2 103.3 533.8 105.5Z"/>
<path color="#00abb5" d="M544.8 112.6 547.2 110.6 545.1 107.2 542.8 109.2Z"/>
<path color="#003c90" d="M633.3 121 635.3 119.5 632.9 118.6 630.9 120.1Z"/>
<path color="#004489" d="M642.2 119.5 644.2 118 641.7 117.3 639.8 118.8Z"/>
<path color="#00b7b2" d="M540.4 111.3 542.8 109.2 540.7 105.5 538.3 107.7Z"/>
<path color="#009db4" d="M549.3 113.8 551.7 111.9 549.6 108.7 547.2 110.6Z"/>
<path color="#008fb2" d="M553.8 115 556.1 113.2 554 110.1 551.7 111.9Z"/>
<path color="#0082b0" d="M558.2 116.1 560.5 114.4 558.4 111.4 556.1 113.2Z"/>
<path color="#0076af" d="M562.6 117.1 564.9 115.5 562.8 112.7 560.5 114.4Z"/>
<path color="#006bad" d="M567.1 118.1 569.3 116.5 567.2 113.8 564.9 115.5Z"/>
<path color="#0061ad" d="M571.5 119.1 573.8 117.4 571.6 114.8 569.3 116.5Z"/>
<path color="#0059ac" d="M575.9 120 578.2 118.3 576 115.7 573.8 117.4Z"/>
<path color="#0051ac" d="M580.3 120.8 582.6 119.1 580.4 116.6 578.2 118.3Z"/>
<path color="#0049ac" d="M584.7 121.6 587 119.8 584.8 117.4 582.6 119.1Z"/>
<path color="#0043aa" d="M589.2 122.1 591.3 120.4 589.1 118.1 587 119.8Z"/>
<path color="#003ea8" d="M593.6 122.5 595.7 120.8 593.5 118.7 591.3 120.4Z"/>
<path color="#0039a6" d="M598 122.8 600.1 121.2 597.9 119.1 595.7 120.8Z"/>
<path color="#0036a4" d="M602.4 123 604.5 121.4 602.3 119.5 600.1 121.2Z"/>
<path color="#0034a2" d="M606.8 123.1 608.9 121.5 606.6 119.8 604.5 121.4Z"/>
<path color="#00329f" d="M611.2 123.1 613.3 121.6 611 120 608.9 121.5Z"/>
<path color="#00319c" d="M615.6 123 617.7 121.5 615.4 120 613.3 121.6Z"/>
<path color="#003296" d="M620 122.7 622.1 121.1 619.8 119.9 617.7 121.5Z"/>
<path color="#003491" d="M624.5 122.1 626.5 120.6 624.1 119.6 622.1 121.1Z"/>
<path color="#003891" d="M628.9 121.6 630.9 120.1 628.5 119.1 626.5 120.6Z"/>
<path color="#003f8c" d="M637.8 120.3 639.8 118.8 637.3 118 635.3 119.5Z"/>
<path color="#00a1b5" d="M542.4 114.5 544.8 112.6 542.8 109.2 540.4 111.3Z"/>
<path color="#0065ad" d="M564.8 119.8 567.1 118.1 564.9 115.5 562.6 117.1Z"/>
<path color="#0052ac" d="M573.6 121.6 575.9 120 573.8 117.4 571.5 119.1Z"/>
<path color="#002fa2" d="M604.7 124.7 606.8 123.1 604.5 121.4 602.4 123Z"/>
<path color="#002d9c" d="M613.5 124.6 615.6 123 613.3 121.6 611.2 123.1Z"/>
<path color="#003c8c" d="M635.8 121.8 637.8 120.3 635.3 119.5 633.3 121Z"/>
<path color="#00b0b7" d="M538 113.4 540.4 111.3 538.3 107.7 535.9 109.8Z"/>
<path color="#0093b3" d="M546.9 115.7 549.3 113.8 547.2 110.6 544.8 112.6Z"/>
<path color="#0087b2" d="M551.4 116.8 553.8 115 551.7 111.9 549.3 113.8Z"/>
<path color="#007ab0" d="M555.9 117.9 558.2 116.1 556.1 113.2 553.8 115Z"/>
<path color="#0043ac" d="M582.5 123.3 584.7 121.6 582.6 119.1 580.3 120.8Z"/>
<path color="#003cab" d="M586.9 123.9 589.2 122.1 587 119.8 584.7 121.6Z"/>
<path color="#0037a9" d="M591.4 124.3 593.6 122.5 591.3 120.4 589.2 122.1Z"/>
<path color="#0034a7" d="M595.8 124.5 598 122.8 595.7 120.8 593.6 122.5Z"/>
<path color="#003092" d="M622.4 123.7 624.5 122.1 622.1 121.1 620 122.7Z"/>
<path color="#003491" d="M626.9 123.1 628.9 121.6 626.5 120.6 624.5 122.1Z"/>
<path color="#003890" d="M631.3 122.5 633.3 121 630.9 120.1 628.9 121.6Z"/>
<path color="#004088" d="M640.3 121 642.2 119.5 639.8 118.8 637.8 120.3Z"/>
<path color="#006faf" d="M560.3 118.8 562.6 117.1 560.5 114.4 558.2 116.1Z"/>
<path color="#005bac" d="M569.2 120.7 571.5 119.1 569.3 116.5 567.1 118.1Z"/>
<path color="#004aac" d="M578.1 122.5 580.3 120.8 578.2 118.3 575.9 120Z"/>
<path color="#0031a4" d="M600.2 124.7 602.4 123 600.1 121.2 598 122.8Z"/>
<path color="#002d9f" d="M609.1 124.7 611.2 123.1 608.9 121.5 606.8 123.1Z"/>
<path color="#002e97" d="M618 124.2 620 122.7 617.7 121.5 615.6 123Z"/>
<path color="#0097b5" d="M540 116.5 542.4 114.5 540.4 111.3 538 113.4Z"/>
<path color="#003d88" d="M638.3 122.4 640.3 121 637.8 120.3 635.8 121.8Z"/>
<path color="#008ab3" d="M544.5 117.6 546.9 115.7 544.8 112.6 542.4 114.5Z"/>
<path color="#007eb2" d="M549 118.6 551.4 116.8 549.3 113.8 546.9 115.7Z"/>
<path color="#0073b0" d="M553.5 119.6 555.9 117.9 553.8 115 551.4 116.8Z"/>
<path color="#005fad" d="M562.4 121.4 564.8 119.8 562.6 117.1 560.3 118.8Z"/>
<path color="#0055ac" d="M566.9 122.3 569.2 120.7 567.1 118.1 564.8 119.8Z"/>
<path color="#004dab" d="M571.4 123.2 573.6 121.6 571.5 119.1 569.2 120.7Z"/>
<path color="#0044ac" d="M575.8 124.1 578.1 122.5 575.9 120 573.6 121.6Z"/>
<path color="#003cab" d="M580.3 124.9 582.5 123.3 580.3 120.8 578.1 122.5Z"/>
<path color="#0036ab" d="M584.7 125.6 586.9 123.9 584.7 121.6 582.5 123.3Z"/>
<path color="#0031a9" d="M589.2 126 591.4 124.3 589.2 122.1 586.9 123.9Z"/>
<path color="#002da8" d="M593.6 126.3 595.8 124.5 593.6 122.5 591.4 124.3Z"/>
<path color="#002ba5" d="M598.1 126.4 600.2 124.7 598 122.8 595.8 124.5Z"/>
<path color="#0029a2" d="M602.5 126.3 604.7 124.7 602.4 123 600.2 124.7Z"/>
<path color="#00299f" d="M607 126.3 609.1 124.7 606.8 123.1 604.7 124.7Z"/>
<path color="#00299c" d="M611.4 126.1 613.5 124.6 611.2 123.1 609.1 124.7Z"/>
<path color="#002a97" d="M615.9 125.7 618 124.2 615.6 123 613.5 124.6Z"/>
<path color="#003092" d="M624.8 124.6 626.9 123.1 624.5 122.1 622.4 123.7Z"/>
<path color="#003590" d="M629.3 124 631.3 122.5 628.9 121.6 626.9 123.1Z"/>
<path color="#00388c" d="M633.8 123.3 635.8 121.8 633.3 121 631.3 122.5Z"/>
<path color="#0068af" d="M558 120.6 560.3 118.8 558.2 116.1 555.9 117.9Z"/>
<path color="#002c92" d="M620.3 125.2 622.4 123.7 620 122.7 618 124.2Z"/>
<path color="#0047ab" d="M569.1 124.8 571.4 123.2 569.2 120.7 566.9 122.3Z"/>
<path color="#00249c" d="M609.3 127.7 611.4 126.1 609.1 124.7 607 126.3Z"/>
<path color="#0081b3" d="M542.1 119.5 544.5 117.6 542.4 114.5 540 116.5Z"/>
<path color="#0076b2" d="M546.6 120.5 549 118.6 546.9 115.7 544.5 117.6Z"/>
<path color="#006bb0" d="M551.1 121.4 553.5 119.6 551.4 116.8 549 118.6Z"/>
<path color="#0058ad" d="M560.1 123.1 562.4 121.4 560.3 118.8 558 120.6Z"/>
<path color="#002ba9" d="M586.9 127.7 589.2 126 586.9 123.9 584.7 125.6Z"/>
<path color="#0027a8" d="M591.4 128 593.6 126.3 591.4 124.3 589.2 126Z"/>
<path color="#002893" d="M618.2 126.7 620.3 125.2 618 124.2 615.9 125.7Z"/>
<path color="#003190" d="M627.2 125.5 629.3 124 626.9 123.1 624.8 124.6Z"/>
<path color="#00358b" d="M631.7 124.8 633.8 123.3 631.3 122.5 629.3 124Z"/>
<path color="#003987" d="M636.2 123.9 638.3 122.4 635.8 121.8 633.8 123.3Z"/>
<path color="#0061af" d="M555.6 122.3 558 120.6 555.9 117.9 553.5 119.6Z"/>
<path color="#0050ac" d="M564.6 123.9 566.9 122.3 564.8 119.8 562.4 121.4Z"/>
<path color="#003fab" d="M573.5 125.7 575.8 124.1 573.6 121.6 571.4 123.2Z"/>
<path color="#0037ab" d="M578 126.6 580.3 124.9 578.1 122.5 575.8 124.1Z"/>
<path color="#0030aa" d="M582.5 127.3 584.7 125.6 582.5 123.3 580.3 124.9Z"/>
<path color="#0025a5" d="M595.9 128.1 598.1 126.4 595.8 124.5 593.6 126.3Z"/>
<path color="#0024a2" d="M600.3 128 602.5 126.3 600.2 124.7 598.1 126.4Z"/>
<path color="#00249f" d="M604.8 127.9 607 126.3 604.7 124.7 602.5 126.3Z"/>
<path color="#002697" d="M613.8 127.3 615.9 125.7 613.5 124.6 611.4 126.1Z"/>
<path color="#002d92" d="M622.7 126.2 624.8 124.6 622.4 123.7 620.3 125.2Z"/>
<path color="#006eb1" d="M544.2 122.3 546.6 120.5 544.5 117.6 542.1 119.5Z"/>
<path color="#0064b0" d="M548.7 123.2 551.1 121.4 549 118.6 546.6 120.5Z"/>
<path color="#0052ad" d="M557.7 124.8 560.1 123.1 558 120.6 555.6 122.3Z"/>
<path color="#0042ac" d="M566.7 126.4 569.1 124.8 566.9 122.3 564.6 123.9Z"/>
<path color="#003aab" d="M571.2 127.2 573.5 125.7 571.4 123.2 569.1 124.8Z"/>
<path color="#0032aa" d="M575.7 128.1 578 126.6 575.8 124.1 573.5 125.7Z"/>
<path color="#002aaa" d="M580.2 128.9 582.5 127.3 580.3 124.9 578 126.6Z"/>
<path color="#0025a9" d="M584.7 129.4 586.9 127.7 584.7 125.6 582.5 127.3Z"/>
<path color="#0021a8" d="M589.2 129.7 591.4 128 589.2 126 586.9 127.7Z"/>
<path color="#001fa5" d="M593.7 129.8 595.9 128.1 593.6 126.3 591.4 128Z"/>
<path color="#001fa3" d="M598.2 129.7 600.3 128 598.1 126.4 595.9 128.1Z"/>
<path color="#001fa0" d="M602.6 129.6 604.8 127.9 602.5 126.3 600.3 128Z"/>
<path color="#00209c" d="M607.1 129.3 609.3 127.7 607 126.3 604.8 127.9Z"/>
<path color="#002297" d="M611.6 128.8 613.8 127.3 611.4 126.1 609.3 127.7Z"/>
<path color="#002992" d="M620.6 127.7 622.7 126.2 620.3 125.2 618.2 126.7Z"/>
<path color="#00318b" d="M629.7 126.3 631.7 124.8 629.3 124 627.2 125.5Z"/>
<path color="#003687" d="M634.2 125.4 636.2 123.9 633.8 123.3 631.7 124.8Z"/>
<path color="#005bae" d="M553.2 124 555.6 122.3 553.5 119.6 551.1 121.4Z"/>
<path color="#004aac" d="M562.2 125.6 564.6 123.9 562.4 121.4 560.1 123.1Z"/>
<path color="#002593" d="M616.1 128.3 618.2 126.7 615.9 125.7 613.8 127.3Z"/>
<path color="#002d91" d="M625.2 127.1 627.2 125.5 624.8 124.6 622.7 126.2Z"/>
<path color="#005db0" d="M546.3 124.9 548.7 123.2 546.6 120.5 544.2 122.3Z"/>
<path color="#004cad" d="M555.3 126.5 557.7 124.8 555.6 122.3 553.2 124Z"/>
<path color="#003dac" d="M564.4 128 566.7 126.4 564.6 123.9 562.2 125.6Z"/>
<path color="#002193" d="M614 129.9 616.1 128.3 613.8 127.3 611.6 128.8Z"/>
<path color="#002a91" d="M623.1 128.6 625.2 127.1 622.7 126.2 620.6 127.7Z"/>
<path color="#003287" d="M632.2 126.9 634.2 125.4 631.7 124.8 629.7 126.3Z"/>
<path color="#0054ae" d="M550.8 125.7 553.2 124 551.1 121.4 548.7 123.2Z"/>
<path color="#0045ac" d="M559.9 127.2 562.2 125.6 560.1 123.1 557.7 124.8Z"/>
<path color="#0035ab" d="M568.9 128.8 571.2 127.2 569.1 124.8 566.7 126.4Z"/>
<path color="#002daa" d="M573.4 129.6 575.7 128.1 573.5 125.7 571.2 127.2Z"/>
<path color="#0025a9" d="M577.9 130.4 580.2 128.9 578 126.6 575.7 128.1Z"/>
<path color="#001fa8" d="M582.4 131 584.7 129.4 582.5 127.3 580.2 128.9Z"/>
<path color="#001ba7" d="M586.9 131.4 589.2 129.7 586.9 127.7 584.7 129.4Z"/>
<path color="#0019a5" d="M591.4 131.5 593.7 129.8 591.4 128 589.2 129.7Z"/>
<path color="#0019a3" d="M596 131.4 598.2 129.7 595.9 128.1 593.7 129.8Z"/>
<path color="#001aa1" d="M600.5 131.2 602.6 129.6 600.3 128 598.2 129.7Z"/>
<path color="#001c9d" d="M605 130.9 607.1 129.3 604.8 127.9 602.6 129.6Z"/>
<path color="#001e98" d="M609.5 130.4 611.6 128.8 609.3 127.7 607.1 129.3Z"/>
<path color="#002593" d="M618.5 129.3 620.6 127.7 618.2 126.7 616.1 128.3Z"/>
<path color="#002d8b" d="M627.6 127.8 629.7 126.3 627.2 125.5 625.2 127.1Z"/>
<path color="#0046ad" d="M552.9 128.1 555.3 126.5 553.2 124 550.8 125.7Z"/>
<path color="#0038ab" d="M562 129.6 564.4 128 562.2 125.6 559.9 127.2Z"/>
<path color="#0021a9" d="M575.6 131.9 577.9 130.4 575.7 128.1 573.4 129.6Z"/>
<path color="#001ba7" d="M580.2 132.5 582.4 131 580.2 128.9 577.9 130.4Z"/>
<path color="#0016a6" d="M584.7 133 586.9 131.4 584.7 129.4 582.4 131Z"/>
<path color="#0014a2" d="M593.7 133.1 596 131.4 593.7 129.8 591.4 131.5Z"/>
<path color="#0015a0" d="M598.3 132.9 600.5 131.2 598.2 129.7 596 131.4Z"/>
<path color="#00179e" d="M602.8 132.6 605 130.9 602.6 129.6 600.5 131.2Z"/>
<path color="#002293" d="M616.4 130.8 618.5 129.3 616.1 128.3 614 129.9Z"/>
<path color="#002a8b" d="M625.5 129.3 627.6 127.8 625.2 127.1 623.1 128.6Z"/>
<path color="#004eae" d="M548.4 127.4 550.8 125.7 548.7 123.2 546.3 124.9Z"/>
<path color="#003fac" d="M557.5 128.8 559.9 127.2 557.7 124.8 555.3 126.5Z"/>
<path color="#0031ab" d="M566.6 130.4 568.9 128.8 566.7 126.4 564.4 128Z"/>
<path color="#0029ab" d="M571.1 131.2 573.4 129.6 571.2 127.2 568.9 128.8Z"/>
<path color="#0014a4" d="M589.2 133.2 591.4 131.5 589.2 129.7 586.9 131.4Z"/>
<path color="#001a99" d="M607.3 132.1 609.5 130.4 607.1 129.3 605 130.9Z"/>
<path color="#001d94" d="M611.9 131.4 614 129.9 611.6 128.8 609.5 130.4Z"/>
<path color="#002691" d="M621 130.2 623.1 128.6 620.6 127.7 618.5 129.3Z"/>
<path color="#002f86" d="M630.1 128.4 632.2 126.9 629.7 126.3 627.6 127.8Z"/>
<path color="#0040ad" d="M550.5 129.8 552.9 128.1 550.8 125.7 548.4 127.4Z"/>
<path color="#0033ab" d="M559.6 131.2 562 129.6 559.9 127.2 557.5 128.8Z"/>
<path color="#002292" d="M618.8 131.8 621 130.2 618.5 129.3 616.4 130.8Z"/>
<path color="#002c86" d="M628 129.9 630.1 128.4 627.6 127.8 625.5 129.3Z"/>
<path color="#003aac" d="M555.1 130.5 557.5 128.8 555.3 126.5 552.9 128.1Z"/>
<path color="#002cab" d="M564.2 132 566.6 130.4 564.4 128 562 129.6Z"/>
<path color="#0024ab" d="M568.7 132.8 571.1 131.2 568.9 128.8 566.6 130.4Z"/>
<path color="#001da9" d="M573.3 133.5 575.6 131.9 573.4 129.6 571.1 131.2Z"/>
<path color="#0017a7" d="M577.8 134 580.2 132.5 577.9 130.4 575.6 131.9Z"/>
<path color="#0012a5" d="M582.4 134.5 584.7 133 582.4 131 580.2 132.5Z"/>
<path color="#000fa2" d="M586.9 134.7 589.2 133.2 586.9 131.4 584.7 133Z"/>
<path color="#000fa1" d="M591.5 134.7 593.7 133.1 591.4 131.5 589.2 133.2Z"/>
<path color="#0010a0" d="M596 134.6 598.3 132.9 596 131.4 593.7 133.1Z"/>
<path color="#00129e" d="M600.6 134.3 602.8 132.6 600.5 131.2 598.3 132.9Z"/>
<path color="#00159a" d="M605.1 133.8 607.3 132.1 605 130.9 602.8 132.6Z"/>
<path color="#001996" d="M609.7 133.1 611.9 131.4 609.5 130.4 607.3 132.1Z"/>
<path color="#001e94" d="M614.3 132.4 616.4 130.8 614 129.9 611.9 131.4Z"/>
<path color="#00278b" d="M623.4 130.9 625.5 129.3 623.1 128.6 621 130.2Z"/>
<path color="#002eab" d="M557.2 132.8 559.6 131.2 557.5 128.8 555.1 130.5Z"/>
<path color="#000fa5" d="M580.1 136 582.4 134.5 580.2 132.5 577.8 134Z"/>
<path color="#000d9d" d="M598.4 135.9 600.6 134.3 598.3 132.9 596 134.6Z"/>
<path color="#00238a" d="M621.3 132.4 623.4 130.9 621 130.2 618.8 131.8Z"/>
<path color="#0034ac" d="M552.6 132.1 555.1 130.5 552.9 128.1 550.5 129.8Z"/>
<path color="#0027ab" d="M561.8 133.6 564.2 132 562 129.6 559.6 131.2Z"/>
<path color="#0020ab" d="M566.4 134.3 568.7 132.8 566.6 130.4 564.2 132Z"/>
<path color="#0019a9" d="M571 135 573.3 133.5 571.1 131.2 568.7 132.8Z"/>
<path color="#0013a7" d="M575.5 135.6 577.8 134 575.6 131.9 573.3 133.5Z"/>
<path color="#000ca1" d="M584.7 136.2 586.9 134.7 584.7 133 582.4 134.5Z"/>
<path color="#000a9f" d="M589.2 136.2 591.5 134.7 589.2 133.2 586.9 134.7Z"/>
<path color="#000b9e" d="M593.8 136.2 596 134.6 593.7 133.1 591.5 134.7Z"/>
<path color="#00109a" d="M602.9 135.4 605.1 133.8 602.8 132.6 600.6 134.3Z"/>
<path color="#001597" d="M607.5 134.8 609.7 133.1 607.3 132.1 605.1 133.8Z"/>
<path color="#001a96" d="M612.1 134.1 614.3 132.4 611.9 131.4 609.7 133.1Z"/>
<path color="#001f92" d="M616.7 133.4 618.8 131.8 616.4 130.8 614.3 132.4Z"/>
<path color="#002985" d="M625.9 131.4 628 129.9 625.5 129.3 623.4 130.9Z"/>
<path color="#0029ab" d="M554.8 134.4 557.2 132.8 555.1 130.5 552.6 132.1Z"/>
<path color="#002585" d="M623.8 133 625.9 131.4 623.4 130.9 621.3 132.4Z"/>
<path color="#0023ab" d="M559.4 135.2 561.8 133.6 559.6 131.2 557.2 132.8Z"/>
<path color="#001cab" d="M564 135.9 566.4 134.3 564.2 132 561.8 133.6Z"/>
<path color="#0015aa" d="M568.6 136.6 571 135 568.7 132.8 566.4 134.3Z"/>
<path color="#000fa7" d="M573.2 137.1 575.5 135.6 573.3 133.5 571 135Z"/>
<path color="#000ba5" d="M577.8 137.5 580.1 136 577.8 134 575.5 135.6Z"/>
<path color="#0008a0" d="M582.4 137.7 584.7 136.2 582.4 134.5 580.1 136Z"/>
<path color="#00079c" d="M586.9 137.7 589.2 136.2 586.9 134.7 584.7 136.2Z"/>
<path color="#00079c" d="M591.5 137.7 593.8 136.2 591.5 134.7 589.2 136.2Z"/>
<path color="#00099b" d="M596.1 137.5 598.4 135.9 596 134.6 593.8 136.2Z"/>
<path color="#000c99" d="M600.7 137.1 602.9 135.4 600.6 134.3 598.4 135.9Z"/>
<path color="#001097" d="M605.3 136.5 607.5 134.8 605.1 133.8 602.9 135.4Z"/>
<path color="#001697" d="M609.9 135.8 612.1 134.1 609.7 133.1 607.5 134.8Z"/>
<path color="#001b94" d="M614.5 135 616.7 133.4 614.3 132.4 612.1 134.1Z"/>
<path color="#00208b" d="M619.1 134 621.3 132.4 618.8 131.8 616.7 133.4Z"/>
<path color="#001fab" d="M557 136.7 559.4 135.2 557.2 132.8 554.8 134.4Z"/>
<path color="#0018ab" d="M561.6 137.5 564 135.9 561.8 133.6 559.4 135.2Z"/>
<path color="#0011aa" d="M566.2 138.1 568.6 136.6 566.4 134.3 564 135.9Z"/>
<path color="#000ca7" d="M570.8 138.7 573.2 137.1 571 135 568.6 136.6Z"/>
<path color="#0008a4" d="M575.4 139 577.8 137.5 575.5 135.6 573.2 137.1Z"/>
<path color="#00059c" d="M584.6 139.1 586.9 137.7 584.7 136.2 582.4 137.7Z"/>
<path color="#000599" d="M589.2 139.1 591.5 137.7 589.2 136.2 586.9 137.7Z"/>
<path color="#000599" d="M593.8 139 596.1 137.5 593.8 136.2 591.5 137.7Z"/>
<path color="#000c96" d="M603.1 138.1 605.3 136.5 602.9 135.4 600.7 137.1Z"/>
<path color="#001197" d="M607.7 137.5 609.9 135.8 607.5 134.8 605.3 136.5Z"/>
<path color="#001795" d="M612.3 136.7 614.5 135 612.1 134.1 609.9 135.8Z"/>
<path color="#001d8d" d="M617 135.7 619.1 134 616.7 133.4 614.5 135Z"/>
<path color="#002285" d="M621.6 134.5 623.8 133 621.3 132.4 619.1 134Z"/>
<path color="#0005a0" d="M580 139.1 582.4 137.7 580.1 136 577.8 137.5Z"/>
<path color="#000898" d="M598.5 138.7 600.7 137.1 598.4 135.9 596.1 137.5Z"/>
<path color="#0008a7" d="M568.4 140.2 570.8 138.7 568.6 136.6 566.2 138.1Z"/>
<path color="#0004a4" d="M573.1 140.5 575.4 139 573.2 137.1 570.8 138.7Z"/>
<path color="#000399" d="M586.9 140.5 589.2 139.1 586.9 137.7 584.6 139.1Z"/>
<path color="#000396" d="M591.6 140.3 593.8 139 591.5 137.7 589.2 139.1Z"/>
<path color="#000d96" d="M605.5 139.1 607.7 137.5 605.3 136.5 603.1 138.1Z"/>
<path color="#001395" d="M610.1 138.4 612.3 136.7 609.9 135.8 607.7 137.5Z"/>
<path color="#0014ab" d="M559.2 139.1 561.6 137.5 559.4 135.2 557 136.7Z"/>
<path color="#000eaa" d="M563.8 139.7 566.2 138.1 564 135.9 561.6 137.5Z"/>
<path color="#0003a0" d="M577.7 140.6 580 139.1 577.8 137.5 575.4 139Z"/>
<path color="#00029b" d="M582.3 140.5 584.6 139.1 582.4 137.7 580 139.1Z"/>
<path color="#000595" d="M596.2 140.1 598.5 138.7 596.1 137.5 593.8 139Z"/>
<path color="#000895" d="M600.8 139.7 603.1 138.1 600.7 137.1 598.5 138.7Z"/>
<path color="#00198d" d="M614.8 137.4 617 135.7 614.5 135 612.3 136.7Z"/>
<path color="#002087" d="M619.4 136.2 621.6 134.5 619.1 134 617 135.7Z"/>
<path color="#0001a4" d="M570.7 142 573.1 140.5 570.8 138.7 568.4 140.2Z"/>
<path color="#000195" d="M589.3 141.7 591.6 140.3 589.2 139.1 586.9 140.5Z"/>
<path color="#000f94" d="M607.9 140.1 610.1 138.4 607.7 137.5 605.5 139.1Z"/>
<path color="#000aaa" d="M561.4 141.3 563.8 139.7 561.6 137.5 559.2 139.1Z"/>
<path color="#0005a7" d="M566 141.8 568.4 140.2 566.2 138.1 563.8 139.7Z"/>
<path color="#00009f" d="M575.3 142.1 577.7 140.6 575.4 139 573.1 140.5Z"/>
<path color="#00009a" d="M580 142 582.3 140.5 580 139.1 577.7 140.6Z"/>
<path color="#000098" d="M584.6 141.9 586.9 140.5 584.6 139.1 582.3 140.5Z"/>
<path color="#000392" d="M593.9 141.5 596.2 140.1 593.8 139 591.6 140.3Z"/>
<path color="#000591" d="M598.6 141.1 600.8 139.7 598.5 138.7 596.2 140.1Z"/>
<path color="#000994" d="M603.2 140.7 605.5 139.1 603.1 138.1 600.8 139.7Z"/>
<path color="#00158d" d="M612.6 139 614.8 137.4 612.3 136.7 610.1 138.4Z"/>
<path color="#001c87" d="M617.3 137.8 619.4 136.2 617 135.7 614.8 137.4Z"/>
<path color="#0001a7" d="M563.6 143.3 566 141.8 563.8 139.7 561.4 141.3Z"/>
<path color="#0000a4" d="M568.2 143.6 570.7 142 568.4 140.2 566 141.8Z"/>
<path color="#00009a" d="M577.6 143.4 580 142 577.7 140.6 575.3 142.1Z"/>
<path color="#000097" d="M582.3 143.3 584.6 141.9 582.3 140.5 580 142Z"/>
<path color="#000095" d="M586.9 143.1 589.3 141.7 586.9 140.5 584.6 141.9Z"/>
<path color="#000191" d="M591.6 142.8 593.9 141.5 591.6 140.3 589.3 141.7Z"/>
<path color="#00048e" d="M596.3 142.5 598.6 141.1 596.2 140.1 593.9 141.5Z"/>
<path color="#000790" d="M601 142.1 603.2 140.7 600.8 139.7 598.6 141.1Z"/>
<path color="#00118b" d="M610.3 140.7 612.6 139 610.1 138.4 607.9 140.1Z"/>
<path color="#001886" d="M615 139.5 617.3 137.8 614.8 137.4 612.6 139Z"/>
<path color="#00009f" d="M572.9 143.6 575.3 142.1 573.1 140.5 570.7 142Z"/>
<path color="#000b92" d="M605.6 141.6 607.9 140.1 605.5 139.1 603.2 140.7Z"/>
<path color="#0000a3" d="M565.8 145.1 568.2 143.6 566 141.8 563.6 143.3Z"/>
<path color="#000097" d="M579.9 144.7 582.3 143.3 580 142 577.6 143.4Z"/>
<path color="#000094" d="M584.6 144.4 586.9 143.1 584.6 141.9 582.3 143.3Z"/>
<path color="#00028e" d="M594 143.8 596.3 142.5 593.9 141.5 591.6 142.8Z"/>
<path color="#00058d" d="M598.7 143.5 601 142.1 598.6 141.1 596.3 142.5Z"/>
<path color="#001483" d="M612.8 141.1 615 139.5 612.6 139 610.3 140.7Z"/>
<path color="#00009e" d="M570.5 145.1 572.9 143.6 570.7 142 568.2 143.6Z"/>
<path color="#000099" d="M575.2 144.9 577.6 143.4 575.3 142.1 572.9 143.6Z"/>
<path color="#000091" d="M589.3 144.2 591.6 142.8 589.3 141.7 586.9 143.1Z"/>
<path color="#00088e" d="M603.4 143.1 605.6 141.6 603.2 140.7 601 142.1Z"/>
<path color="#000d87" d="M608.1 142.2 610.3 140.7 607.9 140.1 605.6 141.6Z"/>
<path color="#000093" d="M582.2 145.8 584.6 144.4 582.3 143.3 579.9 144.7Z"/>
<path color="#00048c" d="M596.4 144.8 598.7 143.5 596.3 142.5 594 143.8Z"/>
<path color="#00009d" d="M568.1 146.5 570.5 145.1 568.2 143.6 565.8 145.1Z"/>
<path color="#000098" d="M572.8 146.3 575.2 144.9 572.9 143.6 570.5 145.1Z"/>
<path color="#000096" d="M577.5 146.1 579.9 144.7 577.6 143.4 575.2 144.9Z"/>
<path color="#000090" d="M586.9 145.5 589.3 144.2 586.9 143.1 584.6 144.4Z"/>
<path color="#00018d" d="M591.6 145.2 594 143.8 591.6 142.8 589.3 144.2Z"/>
<path color="#00078a" d="M601.1 144.4 603.4 143.1 601 142.1 598.7 143.5Z"/>
<path color="#000b81" d="M605.8 143.6 608.1 142.2 605.6 141.6 603.4 143.1Z"/>
<path color="#00117f" d="M610.6 142.6 612.8 141.1 610.3 140.7 608.1 142.2Z"/>
<path color="#000096" d="M570.3 147.7 572.8 146.3 570.5 145.1 568.1 146.5Z"/>
<path color="#000094" d="M575.1 147.5 577.5 146.1 575.2 144.9 572.8 146.3Z"/>
<path color="#000092" d="M579.8 147.2 582.2 145.8 579.9 144.7 577.5 146.1Z"/>
<path color="#000090" d="M584.6 146.9 586.9 145.5 584.6 144.4 582.2 145.8Z"/>
<path color="#00008d" d="M589.3 146.5 591.6 145.2 589.3 144.2 586.9 145.5Z"/>
<path color="#00038c" d="M594 146.1 596.4 144.8 594 143.8 591.6 145.2Z"/>
<path color="#000689" d="M598.8 145.7 601.1 144.4 598.7 143.5 596.4 144.8Z"/>
<path color="#00097a" d="M603.5 144.9 605.8 143.6 603.4 143.1 601.1 144.4Z"/>
<path color="#000e77" d="M608.3 144 610.6 142.6 608.1 142.2 605.8 143.6Z"/>
<path color="#000093" d="M572.6 148.9 575.1 147.5 572.8 146.3 570.3 147.7Z"/>
<path color="#000091" d="M577.4 148.6 579.8 147.2 577.5 146.1 575.1 147.5Z"/>
<path color="#00008f" d="M582.2 148.2 584.6 146.9 582.2 145.8 579.8 147.2Z"/>
<path color="#00008d" d="M586.9 147.8 589.3 146.5 586.9 145.5 584.6 146.9Z"/>
<path color="#00028b" d="M591.7 147.5 594 146.1 591.6 145.2 589.3 146.5Z"/>
<path color="#000589" d="M596.5 147 598.8 145.7 596.4 144.8 594 146.1Z"/>
<path color="#000978" d="M601.2 146.2 603.5 144.9 601.1 144.4 598.8 145.7Z"/>
<path color="#000d6d" d="M606 145.2 608.3 144 605.8 143.6 603.5 144.9Z"/>
<path color="#000090" d="M575 149.9 577.4 148.6 575.1 147.5 572.6 148.9Z"/>
<path color="#00028b" d="M589.3 148.8 591.7 147.5 589.3 146.5 586.9 147.8Z"/>
<path color="#000c6b" d="M603.7 146.5 606 145.2 603.5 144.9 601.2 146.2Z"/>
<path color="#00008e" d="M579.7 149.6 582.2 148.2 579.8 147.2 577.4 148.6Z"/>
<path color="#00008c" d="M584.5 149.2 586.9 147.8 584.6 146.9 582.2 148.2Z"/>
<path color="#000588" d="M594.1 148.3 596.5 147 594 146.1 591.7 147.5Z"/>
<path color="#000876" d="M598.9 147.5 601.2 146.2 598.8 145.7 596.5 147Z"/>
<path color="#00008b" d="M582.1 150.5 584.5 149.2 582.2 148.2 579.7 149.6Z"/>
<path color="#00018a" d="M586.9 150.1 589.3 148.8 586.9 147.8 584.5 149.2Z"/>
<path color="#000487" d="M591.7 149.6 594.1 148.3 591.7 147.5 589.3 148.8Z"/>
<path color="#000874" d="M596.6 148.8 598.9 147.5 596.5 147 594.1 148.3Z"/>
<path color="#00008d" d="M577.3 150.9 579.7 149.6 577.4 148.6 575 149.9Z"/>
<path color="#000c68" d="M601.4 147.7 603.7 146.5 601.2 146.2 598.9 147.5Z"/>
<path color="#000189" d="M584.5 151.4 586.9 150.1 584.5 149.2 582.1 150.5Z"/>
<path color="#000772" d="M594.2 150 596.6 148.8 594.1 148.3 591.7 149.6Z"/>
<path color="#00008a" d="M579.7 151.8 582.1 150.5 579.7 149.6 577.3 150.9Z"/>
<path color="#000486" d="M589.3 150.9 591.7 149.6 589.3 148.8 586.9 150.1Z"/>
<path color="#000b65" d="M599 149 601.4 147.7 598.9 147.5 596.6 148.8Z"/>
<path color="#000088" d="M582 152.7 584.5 151.4 582.1 150.5 579.7 151.8Z"/>
<path color="#000485" d="M586.9 152.2 589.3 150.9 586.9 150.1 584.5 151.4Z"/>
<path color="#00076f" d="M591.8 151.3 594.2 150 591.7 149.6 589.3 150.9Z"/>
<path color="#000b61" d="M596.7 150.2 599 149 596.6 148.8 594.2 150Z"/>
<path color="#00076c" d="M589.4 152.5 591.8 151.3 589.3 150.9 586.9 152.2Z"/>
<path color="#000483" d="M584.5 153.5 586.9 152.2 584.5 151.4 582 152.7Z"/>
<path color="#000b5d" d="M594.3 151.4 596.7 150.2 594.2 150 591.8 151.3Z"/>
<path color="#000768" d="M586.9 153.8 589.4 152.5 586.9 152.2 584.5 153.5Z"/>
<path color="#000a58" d="M591.8 152.6 594.3 151.4 591.8 151.3 589.4 152.5Z"/>
<path color="#000a52" d="M589.4 153.8 591.8 152.6 589.4 152.5 586.9 153.8Z"/>
</g>
<circle cx="559.4" cy="56.3" r="1.45" fill="#c00000" stroke="#600" stroke-width=".5"/>
<circle cx="589.1" cy="112.2" r="1.45" fill="#c00000" stroke="#600" stroke-width=".5"/>
<circle cx="556.8" cy="134.1" r="1.45" fill="#c00000" stroke="#600" stroke-width=".5"/>
<circle cx="621.2" cy="132.4" r="1.45" fill="#c00000" stroke="#600" stroke-width=".5"/>
<circle cx="650" cy="113.7" r="1.45" fill="#c00000" stroke="#600" stroke-width=".5"/>
<circle cx="589" cy="31" r="1.45" fill="#c00000" stroke="#600" stroke-width=".5"/>
<circle cx="527.7" cy="93" r="1.4" fill="#f0c0c0" stroke="#904040" stroke-width=".5"/>
<circle cx="589" cy="157.6" r="1.4" fill="#f0c0c0" stroke="#904040" stroke-width=".5"/>
<path class="tk" d="M526.1 48.8h1.2"/>
<text x="524.3" y="55" font-size="7.0" fill="#222" stroke="#222" stroke-width="0.18" text-anchor="end" textLength="9.6" lengthAdjust="spacingAndGlyphs">27.8</text>
<path class="tk" d="M526.8 68.6h1.2"/>
<text x="524.9" y="74.8" font-size="7.0" fill="#222" stroke="#222" stroke-width="0.18" text-anchor="end" textLength="12.3" lengthAdjust="spacingAndGlyphs">26.55</text>
<path class="tk" d="M527.5 89h1.2"/>
<text x="525.3" y="95.2" font-size="7.0" fill="#222" stroke="#222" stroke-width="0.18" text-anchor="end" textLength="9.6" lengthAdjust="spacingAndGlyphs">25.3</text>
<path class="tk" d="M528.2 107.3h1.2"/>
<text x="526.3" y="113.5" font-size="7.0" fill="#222" stroke="#222" stroke-width="0.18" text-anchor="end" textLength="12.3" lengthAdjust="spacingAndGlyphs">24.05</text>
<path class="tk" d="M528.9 126.7h1.2"/>
<text x="526.3" y="132.9" font-size="7.0" fill="#222" stroke="#222" stroke-width="0.18" text-anchor="end" textLength="9.6" lengthAdjust="spacingAndGlyphs">22.8</text>
<path class="tk" d="M529.8 151.4l-.9 -.5"/>
<text x="527.6" y="157.7" font-size="7.0" fill="#222" stroke="#222" stroke-width="0.18" text-anchor="end" textLength="12.3" lengthAdjust="spacingAndGlyphs">15.00</text>
<path class="tk" d="M544.7 160.5l-.9 -.5"/>
<text x="542.5" y="166.8" font-size="7.0" fill="#222" stroke="#222" stroke-width="0.18" text-anchor="end" textLength="12.3" lengthAdjust="spacingAndGlyphs">12.50</text>
<path class="tk" d="M559.6 169.6l-.9 -.5"/>
<text x="557.4" y="175.9" font-size="7.0" fill="#222" stroke="#222" stroke-width="0.18" text-anchor="end" textLength="12.3" lengthAdjust="spacingAndGlyphs">10.00</text>
<path class="tk" d="M574.4 178.7l-.9 -.5"/>
<text x="572.2" y="185" font-size="7.0" fill="#222" stroke="#222" stroke-width="0.18" text-anchor="end" textLength="9.6" lengthAdjust="spacingAndGlyphs">7.50</text>
<path class="tk" d="M589.3 187.8l-.9 -.5"/>
<text x="587.1" y="194.1" font-size="7.0" fill="#222" stroke="#222" stroke-width="0.18" text-anchor="end" textLength="9.6" lengthAdjust="spacingAndGlyphs">5.00</text>
<path class="tk" d="M589.3 187.8l.9 -.5"/>
<text x="591.9" y="193.9" font-size="7.0" fill="#222" stroke="#222" stroke-width="0.18" textLength="7" lengthAdjust="spacingAndGlyphs">1:3</text>
<path class="tk" d="M604.1 178.8l.9 -.5"/>
<text x="606.7" y="184.9" font-size="7.0" fill="#222" stroke="#222" stroke-width="0.18" textLength="7" lengthAdjust="spacingAndGlyphs">1:2</text>
<path class="tk" d="M619 169.8l.9 -.5"/>
<text x="621.6" y="175.9" font-size="7.0" fill="#222" stroke="#222" stroke-width="0.18" textLength="7" lengthAdjust="spacingAndGlyphs">1:1</text>
<path class="tk" d="M633.8 160.8l.9 -.5"/>
<text x="636.4" y="166.9" font-size="7.0" fill="#222" stroke="#222" stroke-width="0.18" textLength="7" lengthAdjust="spacingAndGlyphs">2:1</text>
<path class="tk" d="M648.6 151.8l.9 -.5"/>
<text x="651.2" y="157.9" font-size="7.0" fill="#222" stroke="#222" stroke-width="0.18" textLength="7" lengthAdjust="spacingAndGlyphs">3:1</text>
<text x="507" y="97" font-size="6.6" fill="#222" stroke="#222" stroke-width="0.18" text-anchor="middle" textLength="21" lengthAdjust="spacingAndGlyphs" transform="rotate(-90 507 97)">TOC, %</text>
<text x="522.2" y="186.6" font-size="6.8" fill="#222" stroke="#222" stroke-width="0.18" textLength="4.6" lengthAdjust="spacingAndGlyphs">B:</text>
<text x="529.8" y="187.1" font-size="6.4" fill="#222" stroke="#222" stroke-width="0.18" textLength="11.2" lengthAdjust="spacingAndGlyphs">NMB</text>
<text x="633" y="186.6" font-size="6.8" fill="#222" stroke="#222" stroke-width="0.18" textLength="4.6" lengthAdjust="spacingAndGlyphs">A:</text>
<text x="640.9" y="187.1" font-size="6.4" fill="#222" stroke="#222" stroke-width="0.18" textLength="25.3" lengthAdjust="spacingAndGlyphs">CWM:PUM</text>
<text x="473.6" y="14" font-size="14.5" fill="#222" stroke="#222" stroke-width="0.18">c)</text>
<rect x="477.4" y="45.1" width="3" height="15.9" fill="url(#lg)" stroke="#333" stroke-width=".6"/>
<text x="481" y="48.6" font-size="4.8" fill="#ff2a2a" stroke="#ff2a2a" stroke-width="0.18" style="font-family:'Liberation Sans',sans-serif" textLength="10" lengthAdjust="spacingAndGlyphs">27.73</text>
<text x="481" y="59.6" font-size="4.8" fill="#2a2aff" stroke="#2a2aff" stroke-width="0.18" style="font-family:'Liberation Sans',sans-serif" textLength="10" lengthAdjust="spacingAndGlyphs">22.98</text>
<path class="bx" d="M69.6 363.2L65.3 258.5 132.8 240.6 200.2 258.4 196 363.3M132.8 240.6L132.9 334.8"/>
<clipPath id="c4"><path d="M132.6 399.9L196 363.3 132.9 334.8 69.6 363.2Z"/></clipPath>
<path class="fl" d="M132.6 399.9L196 363.3 132.9 334.8 69.6 363.2Z"/>
<g clip-path="url(#c4)">
<path fill="none" stroke="#80f060" stroke-width="0.8" d="M95 352.2 87.3 373.4"/>
<path fill="none" stroke="#40e060" stroke-width="0.8" d="M118.1 341.6 106.5 384"/>
<path fill="none" stroke="#40e060" stroke-width="0.8" d="M137.4 338.7 126.8 395.6"/>
<path fill="none" stroke="#c8f040" stroke-width="0.8" d="M156.6 347.4 150.9 389.8"/>
<path fill="none" stroke="#ff9a30" stroke-width="0.8" d="M174.9 355.1 174.9 374.4"/>
</g>
<g class="m">
<path color="#0b3900" d="M132.8 276.1 136.5 273.2 132.8 273.8 129.2 276.6Z"/>
<path color="#063900" d="M129.1 279 132.8 276.1 129.2 276.6 125.4 279.5Z"/>
<path color="#113a00" d="M136.5 275.5 140.2 272.6 136.5 273.2 132.8 276.1Z"/>
<path color="#013a00" d="M125.3 281.9 129.1 279 125.4 279.5 121.7 282.4Z"/>
<path color="#0c3b00" d="M132.8 278.4 136.5 275.5 132.8 276.1 129.1 279Z"/>
<path color="#173b00" d="M140.3 274.9 144 272 140.2 272.6 136.5 275.5Z"/>
<path color="#003b05" d="M121.5 284.8 125.3 281.9 121.7 282.4 117.8 285.4Z"/>
<path color="#063c00" d="M129 281.4 132.8 278.4 129.1 279 125.3 281.9Z"/>
<path color="#123c00" d="M136.6 277.8 140.3 274.9 136.5 275.5 132.8 278.4Z"/>
<path color="#1d3c00" d="M144.2 274.3 147.9 271.4 144 272 140.3 274.9Z"/>
<path color="#003c0a" d="M117.6 287.8 121.5 284.8 117.8 285.4 114 288.3Z"/>
<path color="#013c00" d="M125.2 284.3 129 281.4 125.3 281.9 121.5 284.8Z"/>
<path color="#0d3d00" d="M132.8 280.8 136.6 277.8 132.8 278.4 129 281.4Z"/>
<path color="#183d00" d="M140.4 277.3 144.2 274.3 140.3 274.9 136.6 277.8Z"/>
<path color="#243e00" d="M148.1 273.7 151.8 270.8 147.9 271.4 144.2 274.3Z"/>
<path color="#003d10" d="M113.7 290.9 117.6 287.8 114 288.3 110.1 291.4Z"/>
<path color="#003d04" d="M121.3 287.3 125.2 284.3 121.5 284.8 117.6 287.8Z"/>
<path color="#073e00" d="M128.9 283.8 132.8 280.8 129 281.4 125.2 284.3Z"/>
<path color="#133e00" d="M136.6 280.3 140.4 277.3 136.6 277.8 132.8 280.8Z"/>
<path color="#1f3e00" d="M144.3 276.7 148.1 273.7 144.2 274.3 140.4 277.3Z"/>
<path color="#2b3f00" d="M152.1 273.1 155.8 270.2 151.8 270.8 148.1 273.7Z"/>
<path color="#003e15" d="M109.7 294 113.7 290.9 110.1 291.4 106.1 294.4Z"/>
<path color="#003e0a" d="M117.4 290.4 121.3 287.3 117.6 287.8 113.7 290.9Z"/>
<path color="#023f00" d="M125 286.8 128.9 283.8 125.2 284.3 121.3 287.3Z"/>
<path color="#0e3f00" d="M132.8 283.3 136.6 280.3 132.8 280.8 128.9 283.8Z"/>
<path color="#1a3f00" d="M140.5 279.7 144.3 276.7 140.4 277.3 136.6 280.3Z"/>
<path color="#264000" d="M148.3 276.1 152.1 273.1 148.1 273.7 144.3 276.7Z"/>
<path color="#324000" d="M156.2 272.5 159.9 269.6 155.8 270.2 152.1 273.1Z"/>
<path color="#003f1b" d="M105.7 297.1 109.7 294 106.1 294.4 102.1 297.5Z"/>
<path color="#003f10" d="M113.4 293.5 117.4 290.4 113.7 290.9 109.7 294Z"/>
<path color="#003f04" d="M121.1 289.9 125 286.8 121.3 287.3 117.4 290.4Z"/>
<path color="#084000" d="M128.9 286.3 132.8 283.3 128.9 283.8 125 286.8Z"/>
<path color="#144000" d="M136.7 282.7 140.5 279.7 136.6 280.3 132.8 283.3Z"/>
<path color="#214100" d="M144.5 279.1 148.3 276.1 144.3 276.7 140.5 279.7Z"/>
<path color="#2d4100" d="M152.4 275.5 156.2 272.5 152.1 273.1 148.3 276.1Z"/>
<path color="#394100" d="M160.3 271.9 164 268.9 159.9 269.6 156.2 272.5Z"/>
<path color="#003f21" d="M101.6 300.2 105.7 297.1 102.1 297.5 98 300.6Z"/>
<path color="#004015" d="M109.3 296.6 113.4 293.5 109.7 294 105.7 297.1Z"/>
<path color="#004009" d="M117.1 293 121.1 289.9 117.4 290.4 113.4 293.5Z"/>
<path color="#034100" d="M124.9 289.4 128.9 286.3 125 286.8 121.1 289.9Z"/>
<path color="#0f4100" d="M132.8 285.8 136.7 282.7 132.8 283.3 128.9 286.3Z"/>
<path color="#1b4200" d="M140.6 282.2 144.5 279.1 140.5 279.7 136.7 282.7Z"/>
<path color="#284200" d="M148.6 278.5 152.4 275.5 148.3 276.1 144.5 279.1Z"/>
<path color="#344200" d="M156.5 274.9 160.3 271.9 156.2 272.5 152.4 275.5Z"/>
<path color="#414300" d="M164.5 271.2 168.2 268.3 164 268.9 160.3 271.9Z"/>
<path color="#004027" d="M97.5 303.4 101.6 300.2 98 300.6 93.9 303.8Z"/>
<path color="#00411b" d="M105.2 299.8 109.3 296.6 105.7 297.1 101.6 300.2Z"/>
<path color="#00410f" d="M113 296.2 117.1 293 113.4 293.5 109.3 296.6Z"/>
<path color="#004203" d="M120.9 292.5 124.9 289.4 121.1 289.9 117.1 293Z"/>
<path color="#094200" d="M128.8 288.9 132.8 285.8 128.9 286.3 124.9 289.4Z"/>
<path color="#164300" d="M136.7 285.2 140.6 282.2 136.7 282.7 132.8 285.8Z"/>
<path color="#224300" d="M144.7 281.6 148.6 278.5 144.5 279.1 140.6 282.2Z"/>
<path color="#2f4300" d="M152.7 277.9 156.5 274.9 152.4 275.5 148.6 278.5Z"/>
<path color="#3c4400" d="M160.7 274.3 164.5 271.2 160.3 271.9 156.5 274.9Z"/>
<path color="#443f00" d="M168.8 270.6 172.5 267.6 168.2 268.3 164.5 271.2Z"/>
<path color="#00412e" d="M93.3 306.7 97.5 303.4 93.9 303.8 89.7 307Z"/>
<path color="#004222" d="M101.1 303 105.2 299.8 101.6 300.2 97.5 303.4Z"/>
<path color="#004215" d="M108.9 299.4 113 296.2 109.3 296.6 105.2 299.8Z"/>
<path color="#004309" d="M116.8 295.7 120.9 292.5 117.1 293 113 296.2Z"/>
<path color="#044300" d="M124.8 292.1 128.8 288.9 124.9 289.4 120.9 292.5Z"/>
<path color="#104300" d="M132.7 288.4 136.7 285.2 132.8 285.8 128.8 288.9Z"/>
<path color="#1d4400" d="M140.7 284.7 144.7 281.6 140.6 282.2 136.7 285.2Z"/>
<path color="#2a4400" d="M148.8 281 152.7 277.9 148.6 278.5 144.7 281.6Z"/>
<path color="#374500" d="M156.9 277.3 160.7 274.3 156.5 274.9 152.7 277.9Z"/>
<path color="#444500" d="M165 273.6 168.8 270.6 164.5 271.2 160.7 274.3Z"/>
<path color="#453900" d="M173.2 269.9 176.9 266.9 172.5 267.6 168.8 270.6Z"/>
<path color="#004234" d="M89 310 93.3 306.7 89.7 307 85.5 310.3Z"/>
<path color="#004328" d="M96.9 306.3 101.1 303 97.5 303.4 93.3 306.7Z"/>
<path color="#00431c" d="M104.8 302.6 108.9 299.4 105.2 299.8 101.1 303Z"/>
<path color="#00440f" d="M112.7 298.9 116.8 295.7 113 296.2 108.9 299.4Z"/>
<path color="#004402" d="M120.7 295.2 124.8 292.1 120.9 292.5 116.8 295.7Z"/>
<path color="#0a4400" d="M128.7 291.6 132.7 288.4 128.8 288.9 124.8 292.1Z"/>
<path color="#174500" d="M136.8 287.9 140.7 284.7 136.7 285.2 132.7 288.4Z"/>
<path color="#244500" d="M144.8 284.1 148.8 281 144.7 281.6 140.7 284.7Z"/>
<path color="#324600" d="M153 280.4 156.9 277.3 152.7 277.9 148.8 281Z"/>
<path color="#3f4600" d="M161.1 276.7 165 273.6 160.7 274.3 156.9 277.3Z"/>
<path color="#464000" d="M169.4 273 173.2 269.9 168.8 270.6 165 273.6Z"/>
<path color="#463300" d="M177.6 269.2 181.4 266.2 176.9 266.9 173.2 269.9Z"/>
<path color="#00433b" d="M84.7 313.3 89 310 85.5 310.3 81.2 313.6Z"/>
<path color="#00432f" d="M92.6 309.6 96.9 306.3 93.3 306.7 89 310Z"/>
<path color="#004422" d="M100.6 305.9 104.8 302.6 101.1 303 96.9 306.3Z"/>
<path color="#004415" d="M108.5 302.2 112.7 298.9 108.9 299.4 104.8 302.6Z"/>
<path color="#004508" d="M116.6 298.5 120.7 295.2 116.8 295.7 112.7 298.9Z"/>
<path color="#054500" d="M124.6 294.8 128.7 291.6 124.8 292.1 120.7 295.2Z"/>
<path color="#124600" d="M132.7 291 136.8 287.9 132.7 288.4 128.7 291.6Z"/>
<path color="#1f4600" d="M140.9 287.3 144.8 284.1 140.7 284.7 136.8 287.9Z"/>
<path color="#2c4700" d="M149 283.6 153 280.4 148.8 281 144.8 284.1Z"/>
<path color="#3a4700" d="M157.2 279.8 161.1 276.7 156.9 277.3 153 280.4Z"/>
<path color="#474700" d="M165.5 276.1 169.4 273 165 273.6 161.1 276.7Z"/>
<path color="#473a00" d="M173.8 272.3 177.6 269.2 173.2 269.9 169.4 273Z"/>
<path color="#482d00" d="M182.1 268.6 185.9 265.5 181.4 266.2 177.6 269.2Z"/>
<path color="#004442" d="M80.4 316.7 84.7 313.3 81.2 313.6 76.9 317Z"/>
<path color="#004435" d="M88.3 312.9 92.6 309.6 89 310 84.7 313.3Z"/>
<path color="#004529" d="M96.3 309.2 100.6 305.9 96.9 306.3 92.6 309.6Z"/>
<path color="#00451c" d="M104.3 305.5 108.5 302.2 104.8 302.6 100.6 305.9Z"/>
<path color="#00460f" d="M112.4 301.8 116.6 298.5 112.7 298.9 108.5 302.2Z"/>
<path color="#004602" d="M120.5 298 124.6 294.8 120.7 295.2 116.6 298.5Z"/>
<path color="#0c4700" d="M128.6 294.3 132.7 291 128.7 291.6 124.6 294.8Z"/>
<path color="#194700" d="M136.8 290.5 140.9 287.3 136.8 287.9 132.7 291Z"/>
<path color="#274700" d="M145 286.8 149 283.6 144.8 284.1 140.9 287.3Z"/>
<path color="#344800" d="M153.3 283 157.2 279.8 153 280.4 149 283.6Z"/>
<path color="#424800" d="M161.6 279.2 165.5 276.1 161.1 276.7 157.2 279.8Z"/>
<path color="#484100" d="M169.9 275.4 173.8 272.3 169.4 273 165.5 276.1Z"/>
<path color="#493400" d="M178.3 271.7 182.1 268.6 177.6 269.2 173.8 272.3Z"/>
<path color="#492700" d="M186.7 267.9 190.5 264.8 185.9 265.5 182.1 268.6Z"/>
<path color="#004145" d="M75.9 320.1 80.4 316.7 76.9 317 72.5 320.4Z"/>
<path color="#00453c" d="M83.9 316.3 88.3 312.9 84.7 313.3 80.4 316.7Z"/>
<path color="#00462f" d="M92 312.6 96.3 309.2 92.6 309.6 88.3 312.9Z"/>
<path color="#004622" d="M100 308.9 104.3 305.5 100.6 305.9 96.3 309.2Z"/>
<path color="#004715" d="M108.1 305.1 112.4 301.8 108.5 302.2 104.3 305.5Z"/>
<path color="#004708" d="M116.3 301.3 120.5 298 116.6 298.5 112.4 301.8Z"/>
<path color="#064800" d="M124.5 297.6 128.6 294.3 124.6 294.8 120.5 298Z"/>
<path color="#134800" d="M132.7 293.8 136.8 290.5 132.7 291 128.6 294.3Z"/>
<path color="#214800" d="M141 290 145 286.8 140.9 287.3 136.8 290.5Z"/>
<path color="#2f4900" d="M149.3 286.2 153.3 283 149 283.6 145 286.8Z"/>
<path color="#3c4900" d="M157.6 282.4 161.6 279.2 157.2 279.8 153.3 283Z"/>
<path color="#494900" d="M166 278.6 169.9 275.4 165.5 276.1 161.6 279.2Z"/>
<path color="#4a3b00" d="M174.5 274.8 178.3 271.7 173.8 272.3 169.9 275.4Z"/>
<path color="#4a2e00" d="M182.9 271 186.7 267.9 182.1 268.6 178.3 271.7Z"/>
<path color="#4a2000" d="M191.5 267.1 195.2 264 190.5 264.8 186.7 267.9Z"/>
<path color="#003b45" d="M71.5 323.5 75.9 320.1 72.5 320.4 68 323.8Z"/>
<path color="#004643" d="M79.5 319.8 83.9 316.3 80.4 316.7 75.9 320.1Z"/>
<path color="#004736" d="M87.6 316 92 312.6 88.3 312.9 83.9 316.3Z"/>
<path color="#004729" d="M95.7 312.3 100 308.9 96.3 309.2 92 312.6Z"/>
<path color="#00481c" d="M103.8 308.5 108.1 305.1 104.3 305.5 100 308.9Z"/>
<path color="#00480e" d="M112 304.7 116.3 301.3 112.4 301.8 108.1 305.1Z"/>
<path color="#004901" d="M120.3 300.9 124.5 297.6 120.5 298 116.3 301.3Z"/>
<path color="#0d4900" d="M128.5 297.1 132.7 293.8 128.6 294.3 124.5 297.6Z"/>
<path color="#1b4900" d="M136.9 293.3 141 290 136.8 290.5 132.7 293.8Z"/>
<path color="#294a00" d="M145.2 289.5 149.3 286.2 145 286.8 141 290Z"/>
<path color="#374a00" d="M153.6 285.6 157.6 282.4 153.3 283 149.3 286.2Z"/>
<path color="#454b00" d="M162.1 281.8 166 278.6 161.6 279.2 157.6 282.4Z"/>
<path color="#4b4300" d="M170.5 278 174.5 274.8 169.9 275.4 166 278.6Z"/>
<path color="#4b3500" d="M179.1 274.1 182.9 271 178.3 271.7 174.5 274.8Z"/>
<path color="#4b2700" d="M187.6 270.3 191.5 267.1 186.7 267.9 182.9 271Z"/>
<path color="#4c1a00" d="M196.3 266.4 200 263.3 195.2 264 191.5 267.1Z"/>
<path color="#004447" d="M75 323.3 79.5 319.8 75.9 320.1 71.5 323.5Z"/>
<path color="#00483d" d="M83.1 319.5 87.6 316 83.9 316.3 79.5 319.8Z"/>
<path color="#004830" d="M91.3 315.7 95.7 312.3 92 312.6 87.6 316Z"/>
<path color="#004922" d="M99.5 311.9 103.8 308.5 100 308.9 95.7 312.3Z"/>
<path color="#004915" d="M107.7 308.1 112 304.7 108.1 305.1 103.8 308.5Z"/>
<path color="#004a07" d="M116 304.3 120.3 300.9 116.3 301.3 112 304.7Z"/>
<path color="#074a00" d="M124.3 300.4 128.5 297.1 124.5 297.6 120.3 300.9Z"/>
<path color="#154a00" d="M132.7 296.6 136.9 293.3 132.7 293.8 128.5 297.1Z"/>
<path color="#234b00" d="M141.1 292.8 145.2 289.5 141 290 136.9 293.3Z"/>
<path color="#314b00" d="M149.5 288.9 153.6 285.6 149.3 286.2 145.2 289.5Z"/>
<path color="#3f4c00" d="M158 285.1 162.1 281.8 157.6 282.4 153.6 285.6Z"/>
<path color="#4c4a00" d="M166.6 281.2 170.5 278 166 278.6 162.1 281.8Z"/>
<path color="#4c3c00" d="M175.1 277.3 179.1 274.1 174.5 274.8 170.5 278Z"/>
<path color="#4c2e00" d="M183.8 273.4 187.6 270.3 182.9 271 179.1 274.1Z"/>
<path color="#4d2000" d="M192.4 269.6 196.3 266.4 191.5 267.1 187.6 270.3Z"/>
<path color="#004844" d="M78.6 323 83.1 319.5 79.5 319.8 75 323.3Z"/>
<path color="#004937" d="M86.8 319.2 91.3 315.7 87.6 316 83.1 319.5Z"/>
<path color="#004a29" d="M95 315.4 99.5 311.9 95.7 312.3 91.3 315.7Z"/>
<path color="#004a1c" d="M103.3 311.5 107.7 308.1 103.8 308.5 99.5 311.9Z"/>
<path color="#004b0e" d="M111.7 307.7 116 304.3 112 304.7 107.7 308.1Z"/>
<path color="#004b00" d="M120 303.8 124.3 300.4 120.3 300.9 116 304.3Z"/>
<path color="#0f4b00" d="M128.4 300 132.7 296.6 128.5 297.1 124.3 300.4Z"/>
<path color="#1d4c00" d="M136.9 296.1 141.1 292.8 136.9 293.3 132.7 296.6Z"/>
<path color="#2b4c00" d="M145.4 292.2 149.5 288.9 145.2 289.5 141.1 292.8Z"/>
<path color="#3a4d00" d="M154 288.4 158 285.1 153.6 285.6 149.5 288.9Z"/>
<path color="#484d00" d="M162.5 284.5 166.6 281.2 162.1 281.8 158 285.1Z"/>
<path color="#4d4400" d="M171.2 280.6 175.1 277.3 170.5 278 166.6 281.2Z"/>
<path color="#4d3600" d="M179.8 276.7 183.8 273.4 179.1 274.1 175.1 277.3Z"/>
<path color="#4e2700" d="M188.6 272.8 192.4 269.6 187.6 270.3 183.8 273.4Z"/>
<path color="#004a3e" d="M82.3 322.7 86.8 319.2 83.1 319.5 78.6 323Z"/>
<path color="#004b30" d="M90.6 318.9 95 315.4 91.3 315.7 86.8 319.2Z"/>
<path color="#004b23" d="M98.9 315 103.3 311.5 99.5 311.9 95 315.4Z"/>
<path color="#004c15" d="M107.3 311.2 111.7 307.7 107.7 308.1 103.3 311.5Z"/>
<path color="#004c06" d="M115.7 307.3 120 303.8 116 304.3 111.7 307.7Z"/>
<path color="#084c00" d="M124.2 303.4 128.4 300 124.3 300.4 120 303.8Z"/>
<path color="#174d00" d="M132.7 299.5 136.9 296.1 132.7 296.6 128.4 300Z"/>
<path color="#254d00" d="M141.2 295.6 145.4 292.2 141.1 292.8 136.9 296.1Z"/>
<path color="#344e00" d="M149.8 291.7 154 288.4 149.5 288.9 145.4 292.2Z"/>
<path color="#424e00" d="M158.4 287.8 162.5 284.5 158 285.1 154 288.4Z"/>
<path color="#4e4b00" d="M167.1 283.9 171.2 280.6 166.6 281.2 162.5 284.5Z"/>
<path color="#4f3d00" d="M175.9 279.9 179.8 276.7 175.1 277.3 171.2 280.6Z"/>
<path color="#4f2f00" d="M184.6 276 188.6 272.8 183.8 273.4 179.8 276.7Z"/>
<path color="#004b38" d="M86 322.5 90.6 318.9 86.8 319.2 82.3 322.7Z"/>
<path color="#004c2a" d="M94.4 318.6 98.9 315 95 315.4 90.6 318.9Z"/>
<path color="#004d1b" d="M102.8 314.7 107.3 311.2 103.3 311.5 98.9 315Z"/>
<path color="#004d0d" d="M111.3 310.8 115.7 307.3 111.7 307.7 107.3 311.2Z"/>
<path color="#014d00" d="M119.8 306.9 124.2 303.4 120 303.8 115.7 307.3Z"/>
<path color="#104e00" d="M128.4 303 132.7 299.5 128.4 300 124.2 303.4Z"/>
<path color="#1f4e00" d="M137 299 141.2 295.6 136.9 296.1 132.7 299.5Z"/>
<path color="#2e4f00" d="M145.6 295.1 149.8 291.7 145.4 292.2 141.2 295.6Z"/>
<path color="#3d4f00" d="M154.3 291.2 158.4 287.8 154 288.4 149.8 291.7Z"/>
<path color="#4c4f00" d="M163 287.2 167.1 283.9 162.5 284.5 158.4 287.8Z"/>
<path color="#504500" d="M171.8 283.3 175.9 279.9 171.2 280.6 167.1 283.9Z"/>
<path color="#503600" d="M180.6 279.3 184.6 276 179.8 276.7 175.9 279.9Z"/>
<path color="#004d31" d="M89.8 322.2 94.4 318.6 90.6 318.9 86 322.5Z"/>
<path color="#004d23" d="M98.3 318.3 102.8 314.7 98.9 315 94.4 318.6Z"/>
<path color="#004e14" d="M106.8 314.3 111.3 310.8 107.3 311.2 102.8 314.7Z"/>
<path color="#004e05" d="M115.4 310.4 119.8 306.9 115.7 307.3 111.3 310.8Z"/>
<path color="#094f00" d="M124 306.5 128.4 303 124.2 303.4 119.8 306.9Z"/>
<path color="#184f00" d="M132.6 302.5 137 299 132.7 299.5 128.4 303Z"/>
<path color="#275000" d="M141.3 298.6 145.6 295.1 141.2 295.6 137 299Z"/>
<path color="#375000" d="M150.1 294.6 154.3 291.2 149.8 291.7 145.6 295.1Z"/>
<path color="#465000" d="M158.9 290.6 163 287.2 158.4 287.8 154.3 291.2Z"/>
<path color="#514c00" d="M167.7 286.6 171.8 283.3 167.1 283.9 163 287.2Z"/>
<path color="#513e00" d="M176.6 282.6 180.6 279.3 175.9 279.9 171.8 283.3Z"/>
<path color="#004e2a" d="M93.7 321.9 98.3 318.3 94.4 318.6 89.8 322.2Z"/>
<path color="#004f1b" d="M102.3 317.9 106.8 314.3 102.8 314.7 98.3 318.3Z"/>
<path color="#004f0c" d="M110.9 314 115.4 310.4 111.3 310.8 106.8 314.3Z"/>
<path color="#035000" d="M119.6 310 124 306.5 119.8 306.9 115.4 310.4Z"/>
<path color="#125000" d="M128.3 306 132.6 302.5 128.4 303 124 306.5Z"/>
<path color="#215100" d="M137 302.1 141.3 298.6 137 299 132.6 302.5Z"/>
<path color="#305100" d="M145.8 298.1 150.1 294.6 145.6 295.1 141.3 298.6Z"/>
<path color="#405100" d="M154.7 294.1 158.9 290.6 154.3 291.2 150.1 294.6Z"/>
<path color="#4f5200" d="M163.6 290 167.7 286.6 163 287.2 158.9 290.6Z"/>
<path color="#524600" d="M172.5 286 176.6 282.6 171.8 283.3 167.7 286.6Z"/>
<path color="#005022" d="M97.7 321.6 102.3 317.9 98.3 318.3 93.7 321.9Z"/>
<path color="#005013" d="M106.3 317.6 110.9 314 106.8 314.3 102.3 317.9Z"/>
<path color="#005104" d="M115.1 313.6 119.6 310 115.4 310.4 110.9 314Z"/>
<path color="#0b5100" d="M123.8 309.6 128.3 306 124 306.5 119.6 310Z"/>
<path color="#1a5200" d="M132.6 305.6 137 302.1 132.6 302.5 128.3 306Z"/>
<path color="#2a5200" d="M141.5 301.6 145.8 298.1 141.3 298.6 137 302.1Z"/>
<path color="#395200" d="M150.4 297.5 154.7 294.1 150.1 294.6 145.8 298.1Z"/>
<path color="#495300" d="M159.3 293.5 163.6 290 158.9 290.6 154.7 294.1Z"/>
<path color="#534e00" d="M168.3 289.5 172.5 286 167.7 286.6 163.6 290Z"/>
<path color="#00511b" d="M101.7 321.3 106.3 317.6 102.3 317.9 97.7 321.6Z"/>
<path color="#00520b" d="M110.5 317.3 115.1 313.6 110.9 314 106.3 317.6Z"/>
<path color="#045200" d="M119.3 313.2 123.8 309.6 119.6 310 115.1 313.6Z"/>
<path color="#145300" d="M128.2 309.2 132.6 305.6 128.3 306 123.8 309.6Z"/>
<path color="#235300" d="M137.1 305.2 141.5 301.6 137 302.1 132.6 305.6Z"/>
<path color="#335400" d="M146 301.1 150.4 297.5 145.8 298.1 141.5 301.6Z"/>
<path color="#435400" d="M155 297 159.3 293.5 154.7 294.1 150.4 297.5Z"/>
<path color="#535400" d="M164.1 293 168.3 289.5 163.6 290 159.3 293.5Z"/>
<path color="#005313" d="M105.8 321 110.5 317.3 106.3 317.6 101.7 321.3Z"/>
<path color="#005303" d="M114.7 316.9 119.3 313.2 115.1 313.6 110.5 317.3Z"/>
<path color="#0d5400" d="M123.6 312.9 128.2 309.2 123.8 309.6 119.3 313.2Z"/>
<path color="#1c5400" d="M132.6 308.8 137.1 305.2 132.6 305.6 128.2 309.2Z"/>
<path color="#2c5500" d="M141.6 304.7 146 301.1 141.5 301.6 137.1 305.2Z"/>
<path color="#3d5500" d="M150.7 300.6 155 297 150.4 297.5 146 301.1Z"/>
<path color="#4d5500" d="M159.8 296.5 164.1 293 159.3 293.5 155 297Z"/>
<path color="#00540a" d="M110.1 320.7 114.7 316.9 110.5 317.3 105.8 321Z"/>
<path color="#055500" d="M119 316.6 123.6 312.9 119.3 313.2 114.7 316.9Z"/>
<path color="#165500" d="M128.1 312.5 132.6 308.8 128.2 309.2 123.6 312.9Z"/>
<path color="#265600" d="M137.1 308.4 141.6 304.7 137.1 305.2 132.6 308.8Z"/>
<path color="#365600" d="M146.2 304.2 150.7 300.6 146 301.1 141.6 304.7Z"/>
<path color="#465600" d="M155.4 300.1 159.8 296.5 155 297 150.7 300.6Z"/>
<path color="#005602" d="M114.4 320.4 119 316.6 114.7 316.9 110.1 320.7Z"/>
<path color="#0e5600" d="M123.4 316.2 128.1 312.5 123.6 312.9 119 316.6Z"/>
<path color="#1f5700" d="M132.6 312.1 137.1 308.4 132.6 308.8 128.1 312.5Z"/>
<path color="#2f5700" d="M141.8 307.9 146.2 304.2 141.6 304.7 137.1 308.4Z"/>
<path color="#405700" d="M151 303.8 155.4 300.1 150.7 300.6 146.2 304.2Z"/>
<path color="#075700" d="M118.8 320 123.4 316.2 119 316.6 114.4 320.4Z"/>
<path color="#185800" d="M128 315.9 132.6 312.1 128.1 312.5 123.4 316.2Z"/>
<path color="#285800" d="M137.2 311.7 141.8 307.9 137.1 308.4 132.6 312.1Z"/>
<path color="#395900" d="M146.5 307.5 151 303.8 146.2 304.2 141.8 307.9Z"/>
<path color="#105900" d="M123.3 319.7 128 315.9 123.4 316.2 118.8 320Z"/>
<path color="#215900" d="M132.6 315.5 137.2 311.7 132.6 312.1 128 315.9Z"/>
<path color="#325a00" d="M141.9 311.3 146.5 307.5 141.8 307.9 137.2 311.7Z"/>
<path color="#1a5a00" d="M127.8 319.3 132.6 315.5 128 315.9 123.3 319.7Z"/>
<path color="#2b5b00" d="M137.3 315.1 141.9 311.3 137.2 311.7 132.6 315.5Z"/>
<path color="#245c00" d="M132.5 319 137.3 315.1 132.6 315.5 127.8 319.3Z"/>
</g>
<path class="st" d="M101.6 276.1V297.9"/>
<path class="st" d="M133.4 319V323.4"/>
<path class="st" d="M132.8 240.5V271.3"/>
<circle cx="101.4" cy="276.1" r="1.45" fill="#c00000" stroke="#600" stroke-width=".5"/>
<circle cx="132.8" cy="271.3" r="1.45" fill="#c00000" stroke="#600" stroke-width=".5"/>
<circle cx="200.2" cy="258.8" r="1.45" fill="#c00000" stroke="#600" stroke-width=".5"/>
<circle cx="168.5" cy="273.8" r="1.45" fill="#c00000" stroke="#600" stroke-width=".5"/>
<circle cx="97.7" cy="315.7" r="1.45" fill="#c00000" stroke="#600" stroke-width=".5"/>
<circle cx="133.4" cy="323.4" r="1.4" fill="#f0c0c0" stroke="#904040" stroke-width=".5"/>
<circle cx="68.5" cy="338.7" r="1.4" fill="#f0c0c0" stroke="#904040" stroke-width=".5"/>
<path class="tk" d="M65.3 258.8h1.2"/>
<text x="63.2" y="265" font-size="7.0" fill="#222" stroke="#222" stroke-width="0.18" text-anchor="end" textLength="9.6" lengthAdjust="spacingAndGlyphs">1.05</text>
<path class="tk" d="M66.1 278.6h1.2"/>
<text x="64.7" y="284.8" font-size="7.0" fill="#222" stroke="#222" stroke-width="0.18" text-anchor="end" textLength="15" lengthAdjust="spacingAndGlyphs">0.9425</text>
<path class="tk" d="M67 299h1.2"/>
<text x="64.7" y="305.2" font-size="7.0" fill="#222" stroke="#222" stroke-width="0.18" text-anchor="end" textLength="12.3" lengthAdjust="spacingAndGlyphs">0.835</text>
<path class="tk" d="M67.8 318.7h1.2"/>
<text x="65.9" y="324.9" font-size="7.0" fill="#222" stroke="#222" stroke-width="0.18" text-anchor="end" textLength="15" lengthAdjust="spacingAndGlyphs">0.7275</text>
<path class="tk" d="M68.6 338.8h1.2"/>
<text x="65.9" y="345" font-size="7.0" fill="#222" stroke="#222" stroke-width="0.18" text-anchor="end" textLength="9.6" lengthAdjust="spacingAndGlyphs">0.62</text>
<path class="tk" d="M69.6 363.2l-.9 -.5"/>
<text x="67.4" y="369.5" font-size="7.0" fill="#222" stroke="#222" stroke-width="0.18" text-anchor="end" textLength="12.3" lengthAdjust="spacingAndGlyphs">15.00</text>
<path class="tk" d="M85.4 372.4l-.9 -.5"/>
<text x="83.2" y="378.7" font-size="7.0" fill="#222" stroke="#222" stroke-width="0.18" text-anchor="end" textLength="12.3" lengthAdjust="spacingAndGlyphs">12.50</text>
<path class="tk" d="M101.1 381.5l-.9 -.5"/>
<text x="98.9" y="387.8" font-size="7.0" fill="#222" stroke="#222" stroke-width="0.18" text-anchor="end" textLength="12.3" lengthAdjust="spacingAndGlyphs">10.00</text>
<path class="tk" d="M116.9 390.7l-.9 -.5"/>
<text x="114.7" y="397" font-size="7.0" fill="#222" stroke="#222" stroke-width="0.18" text-anchor="end" textLength="9.6" lengthAdjust="spacingAndGlyphs">7.50</text>
<path class="tk" d="M132.6 399.9l-.9 -.5"/>
<text x="130.4" y="406.2" font-size="7.0" fill="#222" stroke="#222" stroke-width="0.18" text-anchor="end" textLength="9.6" lengthAdjust="spacingAndGlyphs">5.00</text>
<path class="tk" d="M132.6 399.9l.9 -.5"/>
<text x="135.2" y="406" font-size="7.0" fill="#222" stroke="#222" stroke-width="0.18" textLength="7" lengthAdjust="spacingAndGlyphs">1:3</text>
<path class="tk" d="M148.5 390.7l.9 -.5"/>
<text x="151.1" y="396.8" font-size="7.0" fill="#222" stroke="#222" stroke-width="0.18" textLength="7" lengthAdjust="spacingAndGlyphs">1:2</text>
<path class="tk" d="M164.3 381.6l.9 -.5"/>
<text x="166.9" y="387.7" font-size="7.0" fill="#222" stroke="#222" stroke-width="0.18" textLength="7" lengthAdjust="spacingAndGlyphs">1:1</text>
<path class="tk" d="M180.2 372.5l.9 -.5"/>
<text x="182.8" y="378.6" font-size="7.0" fill="#222" stroke="#222" stroke-width="0.18" textLength="7" lengthAdjust="spacingAndGlyphs">2:1</text>
<path class="tk" d="M196 363.3l.9 -.5"/>
<text x="198.6" y="369.4" font-size="7.0" fill="#222" stroke="#222" stroke-width="0.18" textLength="7" lengthAdjust="spacingAndGlyphs">3:1</text>
<text x="43.2" y="312.6" font-size="6.6" fill="#222" stroke="#222" stroke-width="0.18" text-anchor="middle" textLength="39" lengthAdjust="spacingAndGlyphs" transform="rotate(-90 43.2 312.6)">NH4-S/NO3-N</text>
<text x="60.4" y="397.8" font-size="6.8" fill="#222" stroke="#222" stroke-width="0.18" textLength="5.5" lengthAdjust="spacingAndGlyphs">B:</text>
<text x="68.6" y="398.2" font-size="6.4" fill="#222" stroke="#222" stroke-width="0.18" textLength="12.4" lengthAdjust="spacingAndGlyphs">NMB</text>
<text x="179" y="397.8" font-size="6.8" fill="#222" stroke="#222" stroke-width="0.18" textLength="5" lengthAdjust="spacingAndGlyphs">A:</text>
<text x="187.2" y="398.2" font-size="6.4" fill="#222" stroke="#222" stroke-width="0.18" textLength="26.6" lengthAdjust="spacingAndGlyphs">CWM:PUM</text>
<text x="6.8" y="226.8" font-size="14.5" fill="#222" stroke="#222" stroke-width="0.18">d)</text>
<rect x="11.1" y="259.7" width="4.9" height="25.4" fill="url(#lg)" stroke="#333" stroke-width=".6"/>
<text x="18.1" y="266" font-size="7.6" fill="#ff2a2a" stroke="#ff2a2a" stroke-width="0.18" style="font-family:'Liberation Sans',sans-serif" textLength="11.5" lengthAdjust="spacingAndGlyphs">1.05</text>
<text x="18.1" y="283.2" font-size="7.6" fill="#2a2aff" stroke="#2a2aff" stroke-width="0.18" style="font-family:'Liberation Sans',sans-serif" textLength="11.8" lengthAdjust="spacingAndGlyphs">0.62</text>
<path class="bx" d="M301.8 365.5L297.5 263.4 369.4 245.7 441.3 263.8 436.8 365.8M369.4 245.7L369.3 337.6"/>
<clipPath id="c5"><path d="M369.3 401.5L436.8 365.8 369.3 337.6 301.8 365.5Z"/></clipPath>
<path class="fl" d="M369.3 401.5L436.8 365.8 369.3 337.6 301.8 365.5Z"/>
<g clip-path="url(#c5)">
<path fill="none" stroke="#30c8c0" stroke-width="0.8" d="M355.2 345.4 355.9 345.3 356.6 345.3 357.2 345.2 357.9 345.1 358.6 345 359.3 345 359.9 344.9 360.6 344.8 361.3 344.8 362 344.7 362.7 344.6 363.3 344.6 364 344.5 364.7 344.5 365.4 344.4 366.1 344.3 366.7 344.3 367.4 344.2 368.1 344.2 368.8 344.1 369.4 344.1 370.1 344.1 370.8 344 371.5 344 372.2 344 372.8 343.9 373.5 343.9 374.2 343.9 374.9 343.8 375.6 343.8 376.3 343.8 376.9 343.8 377.6 343.7 378.3 343.7 379 343.7 379.7 343.7 380.3 343.6 381 343.6 381.7 343.6"/>
<path fill="none" stroke="#40e060" stroke-width="0.8" d="M330.7 354.4 332.3 354.3 334 354.3 335.6 354.2 337.2 354.2 338.8 354.1 340.5 354.1 342.1 354 343.7 353.9 345.3 353.9 347 353.8 348.6 353.7 350.2 353.7 351.9 353.6 353.5 353.5 355.1 353.4 356.7 353.3 358.4 353.2 360 353.1 361.6 353 363.2 352.9 364.8 352.7 366.5 352.6 368.1 352.5 369.7 352.3 371.3 352.2 373 352 374.6 351.8 376.2 351.7 377.8 351.5 379.4 351.3 381.1 351.2 382.7 351 384.3 350.8 385.9 350.6 387.5 350.4 389.1 350.3 390.8 350.1 392.4 349.9 394 349.7"/>
<path fill="none" stroke="#40e060" stroke-width="0.8" d="M306.1 363.6 308.7 363.6 311.4 363.5 314 363.4 316.6 363.4 319.3 363.3 321.9 363.3 324.5 363.2 327.1 363.1 329.8 363.1 332.4 363 335 362.9 337.7 362.8 340.3 362.6 342.9 362.5 345.5 362.4 348.2 362.2 350.8 362 353.4 361.8 356.1 361.6 358.7 361.4 361.3 361.2 363.9 361 366.5 360.8 369.2 360.5 371.8 360.2 374.4 359.9 377 359.7 379.6 359.4 382.2 359 384.8 358.7 387.5 358.4 390.1 358 392.7 357.7 395.3 357.3 397.9 356.9 400.5 356.5 403.1 356.2 405.7 355.8 408.3 355.4"/>
<path fill="none" stroke="#c8f040" stroke-width="0.8" d="M320.4 373.8 323.1 373.7 325.9 373.5 328.6 373.4 331.4 373.3 334.1 373.1 336.8 373 339.6 372.8 342.3 372.7 345.1 372.5 347.8 372.4 350.5 372.2 353.3 372 356 371.8 358.7 371.6 361.5 371.4 364.2 371.2 366.9 370.9 369.7 370.7 372.4 370.4 375.1 370.1 377.9 369.8 380.6 369.5 383.3 369.2 386 368.9 388.8 368.6 391.5 368.2 394.2 367.9 396.9 367.5 399.6 367.1 402.4 366.7 405.1 366.3 407.8 365.8 410.5 365.4 413.2 364.9 415.9 364.5 418.6 364 421.3 363.5 424 363.1 426.7 362.6"/>
<path fill="none" stroke="#ff8c1a" stroke-width="0.8" d="M345 387.1 347 386.8 349 386.4 351 386.1 353 385.8 355 385.5 357 385.1 358.9 384.8 360.9 384.5 362.9 384.2 364.9 383.8 366.9 383.5 368.9 383.2 370.9 382.8 372.9 382.5 374.9 382.2 376.9 381.8 378.9 381.5 380.8 381.1 382.8 380.8 384.8 380.5 386.8 380.1 388.8 379.8 390.8 379.4 392.8 379.1 394.8 378.7 396.8 378.4 398.7 378 400.7 377.7 402.7 377.3 404.7 377 406.7 376.6 408.7 376.3 410.7 375.9 412.7 375.6 414.7 375.2 416.6 374.9 418.6 374.5 420.6 374.2 422.6 373.8"/>
</g>
<g class="m">
<path color="#171800" d="M369.4 288.2 373.3 287.6 369.4 288 365.5 288.6Z"/>
<path color="#151800" d="M365.4 288.8 369.4 288.2 365.5 288.6 361.5 289.1Z"/>
<path color="#151800" d="M373.3 287.8 377.3 287.1 373.3 287.6 369.4 288.2Z"/>
<path color="#131800" d="M361.4 289.5 365.4 288.8 361.5 289.1 357.5 289.7Z"/>
<path color="#131800" d="M369.4 288.5 373.3 287.8 369.4 288.2 365.4 288.8Z"/>
<path color="#131800" d="M377.4 287.4 381.3 286.7 377.3 287.1 373.3 287.8Z"/>
<path color="#101800" d="M357.3 290.2 361.4 289.5 357.5 289.7 353.4 290.3Z"/>
<path color="#101800" d="M365.3 289.3 369.4 288.5 365.4 288.8 361.4 289.5Z"/>
<path color="#101800" d="M373.4 288.2 377.4 287.4 373.3 287.8 369.4 288.5Z"/>
<path color="#101800" d="M381.5 287.1 385.4 286.2 381.3 286.7 377.4 287.4Z"/>
<path color="#0e1800" d="M353.1 290.8 357.3 290.2 353.4 290.3 349.2 290.9Z"/>
<path color="#0e1800" d="M361.3 290 365.3 289.3 361.4 289.5 357.3 290.2Z"/>
<path color="#0e1800" d="M369.4 289 373.4 288.2 369.4 288.5 365.3 289.3Z"/>
<path color="#0e1800" d="M377.5 287.9 381.5 287.1 377.4 287.4 373.4 288.2Z"/>
<path color="#0e1800" d="M385.7 286.7 389.6 285.7 385.4 286.2 381.5 287.1Z"/>
<path color="#0c1800" d="M348.9 291.5 353.1 290.8 349.2 290.9 345 291.5Z"/>
<path color="#0c1800" d="M357.1 290.8 361.3 290 357.3 290.2 353.1 290.8Z"/>
<path color="#0c1800" d="M365.3 289.9 369.4 289 365.3 289.3 361.3 290Z"/>
<path color="#0c1800" d="M373.5 288.8 377.5 287.9 373.4 288.2 369.4 289Z"/>
<path color="#0c1800" d="M381.7 287.6 385.7 286.7 381.5 287.1 377.5 287.9Z"/>
<path color="#0c1800" d="M389.9 286.3 393.8 285.3 389.6 285.7 385.7 286.7Z"/>
<path color="#0a1800" d="M344.6 292.2 348.9 291.5 345 291.5 340.7 292.1Z"/>
<path color="#0a1800" d="M352.9 291.5 357.1 290.8 353.1 290.8 348.9 291.5Z"/>
<path color="#0a1800" d="M361.1 290.7 365.3 289.9 361.3 290 357.1 290.8Z"/>
<path color="#0a1800" d="M369.4 289.7 373.5 288.8 369.4 289 365.3 289.9Z"/>
<path color="#0a1800" d="M377.6 288.6 381.7 287.6 377.5 287.9 373.5 288.8Z"/>
<path color="#0a1800" d="M385.9 287.3 389.9 286.3 385.7 286.7 381.7 287.6Z"/>
<path color="#0a1800" d="M394.2 285.9 398.1 284.8 393.8 285.3 389.9 286.3Z"/>
<path color="#071800" d="M340.3 292.9 344.6 292.2 340.7 292.1 336.4 292.8Z"/>
<path color="#071800" d="M348.6 292.3 352.9 291.5 348.9 291.5 344.6 292.2Z"/>
<path color="#071800" d="M356.9 291.5 361.1 290.7 357.1 290.8 352.9 291.5Z"/>
<path color="#071800" d="M365.2 290.6 369.4 289.7 365.3 289.9 361.1 290.7Z"/>
<path color="#071800" d="M373.5 289.6 377.6 288.6 373.5 288.8 369.4 289.7Z"/>
<path color="#071800" d="M381.9 288.3 385.9 287.3 381.7 287.6 377.6 288.6Z"/>
<path color="#071800" d="M390.2 287 394.2 285.9 389.9 286.3 385.9 287.3Z"/>
<path color="#071800" d="M398.6 285.4 402.5 284.3 398.1 284.8 394.2 285.9Z"/>
<path color="#051800" d="M335.9 293.7 340.3 292.9 336.4 292.8 332 293.4Z"/>
<path color="#051800" d="M344.2 293.1 348.6 292.3 344.6 292.2 340.3 292.9Z"/>
<path color="#051800" d="M352.6 292.4 356.9 291.5 352.9 291.5 348.6 292.3Z"/>
<path color="#051800" d="M361 291.6 365.2 290.6 361.1 290.7 356.9 291.5Z"/>
<path color="#051800" d="M369.4 290.5 373.5 289.6 369.4 289.7 365.2 290.6Z"/>
<path color="#051800" d="M377.8 289.4 381.9 288.3 377.6 288.6 373.5 289.6Z"/>
<path color="#051800" d="M386.2 288.1 390.2 287 385.9 287.3 381.9 288.3Z"/>
<path color="#051800" d="M394.6 286.6 398.6 285.4 394.2 285.9 390.2 287Z"/>
<path color="#051800" d="M403.1 285 407 283.8 402.5 284.3 398.6 285.4Z"/>
<path color="#031800" d="M331.4 294.4 335.9 293.7 332 293.4 327.5 294.1Z"/>
<path color="#031800" d="M339.8 293.9 344.2 293.1 340.3 292.9 335.9 293.7Z"/>
<path color="#031800" d="M348.3 293.3 352.6 292.4 348.6 292.3 344.2 293.1Z"/>
<path color="#031800" d="M356.7 292.5 361 291.6 356.9 291.5 352.6 292.4Z"/>
<path color="#031800" d="M365.2 291.6 369.4 290.5 365.2 290.6 361 291.6Z"/>
<path color="#031800" d="M373.6 290.5 377.8 289.4 373.5 289.6 369.4 290.5Z"/>
<path color="#031800" d="M382.1 289.2 386.2 288.1 381.9 288.3 377.8 289.4Z"/>
<path color="#031800" d="M390.6 287.8 394.6 286.6 390.2 287 386.2 288.1Z"/>
<path color="#031800" d="M399.1 286.3 403.1 285 398.6 285.4 394.6 286.6Z"/>
<path color="#031800" d="M407.6 284.6 411.5 283.3 407 283.8 403.1 285Z"/>
<path color="#011800" d="M326.8 295.1 331.4 294.4 327.5 294.1 322.9 294.7Z"/>
<path color="#011800" d="M335.3 294.7 339.8 293.9 335.9 293.7 331.4 294.4Z"/>
<path color="#011800" d="M343.8 294.2 348.3 293.3 344.2 293.1 339.8 293.9Z"/>
<path color="#011800" d="M352.3 293.4 356.7 292.5 352.6 292.4 348.3 293.3Z"/>
<path color="#011800" d="M360.9 292.6 365.2 291.6 361 291.6 356.7 292.5Z"/>
<path color="#011800" d="M369.4 291.6 373.6 290.5 369.4 290.5 365.2 291.6Z"/>
<path color="#011800" d="M377.9 290.4 382.1 289.2 377.8 289.4 373.6 290.5Z"/>
<path color="#011800" d="M386.5 289.1 390.6 287.8 386.2 288.1 382.1 289.2Z"/>
<path color="#011800" d="M395.1 287.6 399.1 286.3 394.6 286.6 390.6 287.8Z"/>
<path color="#011800" d="M403.6 286 407.6 284.6 403.1 285 399.1 286.3Z"/>
<path color="#011800" d="M412.2 284.2 416.2 282.7 411.5 283.3 407.6 284.6Z"/>
<path color="#001802" d="M322.2 295.9 326.8 295.1 322.9 294.7 318.3 295.4Z"/>
<path color="#001802" d="M330.7 295.6 335.3 294.7 331.4 294.4 326.8 295.1Z"/>
<path color="#001802" d="M339.3 295.1 343.8 294.2 339.8 293.9 335.3 294.7Z"/>
<path color="#001802" d="M347.9 294.4 352.3 293.4 348.3 293.3 343.8 294.2Z"/>
<path color="#001802" d="M356.5 293.6 360.9 292.6 356.7 292.5 352.3 293.4Z"/>
<path color="#001802" d="M365.1 292.7 369.4 291.6 365.2 291.6 360.9 292.6Z"/>
<path color="#001802" d="M373.7 291.6 377.9 290.4 373.6 290.5 369.4 291.6Z"/>
<path color="#001802" d="M382.3 290.3 386.5 289.1 382.1 289.2 377.9 290.4Z"/>
<path color="#001802" d="M390.9 288.9 395.1 287.6 390.6 287.8 386.5 289.1Z"/>
<path color="#001802" d="M399.6 287.3 403.6 286 399.1 286.3 395.1 287.6Z"/>
<path color="#001802" d="M408.3 285.6 412.2 284.2 407.6 284.6 403.6 286Z"/>
<path color="#001802" d="M417 283.7 420.9 282.2 416.2 282.7 412.2 284.2Z"/>
<path color="#001804" d="M317.4 296.7 322.2 295.9 318.3 295.4 313.6 296.1Z"/>
<path color="#001804" d="M326.1 296.4 330.7 295.6 326.8 295.1 322.2 295.9Z"/>
<path color="#001804" d="M334.7 296 339.3 295.1 335.3 294.7 330.7 295.6Z"/>
<path color="#001804" d="M343.4 295.4 347.9 294.4 343.8 294.2 339.3 295.1Z"/>
<path color="#001804" d="M352.1 294.7 356.5 293.6 352.3 293.4 347.9 294.4Z"/>
<path color="#001804" d="M360.7 293.8 365.1 292.7 360.9 292.6 356.5 293.6Z"/>
<path color="#001804" d="M369.4 292.8 373.7 291.6 369.4 291.6 365.1 292.7Z"/>
<path color="#001804" d="M378.1 291.6 382.3 290.3 377.9 290.4 373.7 291.6Z"/>
<path color="#001804" d="M386.8 290.2 390.9 288.9 386.5 289.1 382.3 290.3Z"/>
<path color="#001804" d="M395.5 288.7 399.6 287.3 395.1 287.6 390.9 288.9Z"/>
<path color="#001804" d="M404.2 287.1 408.3 285.6 403.6 286 399.6 287.3Z"/>
<path color="#001804" d="M413 285.2 417 283.7 412.2 284.2 408.3 285.6Z"/>
<path color="#001804" d="M421.8 283.3 425.7 281.7 420.9 282.2 417 283.7Z"/>
<path color="#001806" d="M312.6 297.4 317.4 296.7 313.6 296.1 308.8 296.8Z"/>
<path color="#001806" d="M321.4 297.3 326.1 296.4 322.2 295.9 317.4 296.7Z"/>
<path color="#001806" d="M330.1 296.9 334.7 296 330.7 295.6 326.1 296.4Z"/>
<path color="#001806" d="M338.8 296.4 343.4 295.4 339.3 295.1 334.7 296Z"/>
<path color="#001806" d="M347.5 295.8 352.1 294.7 347.9 294.4 343.4 295.4Z"/>
<path color="#001806" d="M356.3 295 360.7 293.8 356.5 293.6 352.1 294.7Z"/>
<path color="#001806" d="M365 294 369.4 292.8 365.1 292.7 360.7 293.8Z"/>
<path color="#001806" d="M373.8 292.9 378.1 291.6 373.7 291.6 369.4 292.8Z"/>
<path color="#001806" d="M382.5 291.6 386.8 290.2 382.3 290.3 378.1 291.6Z"/>
<path color="#001806" d="M391.3 290.1 395.5 288.7 390.9 288.9 386.8 290.2Z"/>
<path color="#001806" d="M400.1 288.6 404.2 287.1 399.6 287.3 395.5 288.7Z"/>
<path color="#001806" d="M408.9 286.8 413 285.2 408.3 285.6 404.2 287.1Z"/>
<path color="#001806" d="M417.8 284.9 421.8 283.3 417 283.7 413 285.2Z"/>
<path color="#001806" d="M426.6 282.8 430.6 281.1 425.7 281.7 421.8 283.3Z"/>
<path color="#001809" d="M307.8 298.2 312.6 297.4 308.8 296.8 303.9 297.5Z"/>
<path color="#001809" d="M316.6 298.1 321.4 297.3 317.4 296.7 312.6 297.4Z"/>
<path color="#001809" d="M325.4 297.9 330.1 296.9 326.1 296.4 321.4 297.3Z"/>
<path color="#001809" d="M334.2 297.4 338.8 296.4 334.7 296 330.1 296.9Z"/>
<path color="#001809" d="M343 296.9 347.5 295.8 343.4 295.4 338.8 296.4Z"/>
<path color="#001809" d="M351.8 296.1 356.3 295 352.1 294.7 347.5 295.8Z"/>
<path color="#001809" d="M360.6 295.2 365 294 360.7 293.8 356.3 295Z"/>
<path color="#001809" d="M369.4 294.2 373.8 292.9 369.4 292.8 365 294Z"/>
<path color="#001809" d="M378.2 293 382.5 291.6 378.1 291.6 373.8 292.9Z"/>
<path color="#001809" d="M387.1 291.6 391.3 290.1 386.8 290.2 382.5 291.6Z"/>
<path color="#001809" d="M395.9 290.1 400.1 288.6 395.5 288.7 391.3 290.1Z"/>
<path color="#001809" d="M404.8 288.4 408.9 286.8 404.2 287.1 400.1 288.6Z"/>
<path color="#001809" d="M413.7 286.5 417.8 284.9 413 285.2 408.9 286.8Z"/>
<path color="#001809" d="M422.6 284.5 426.6 282.8 421.8 283.3 417.8 284.9Z"/>
<path color="#001809" d="M431.6 282.3 435.5 280.6 430.6 281.1 426.6 282.8Z"/>
<path color="#00180b" d="M302.8 299.1 307.8 298.2 303.9 297.5 298.9 298.2Z"/>
<path color="#00180b" d="M311.7 299 316.6 298.1 312.6 297.4 307.8 298.2Z"/>
<path color="#00180b" d="M320.6 298.8 325.4 297.9 321.4 297.3 316.6 298.1Z"/>
<path color="#00180b" d="M329.4 298.5 334.2 297.4 330.1 296.9 325.4 297.9Z"/>
<path color="#00180b" d="M338.3 298 343 296.9 338.8 296.4 334.2 297.4Z"/>
<path color="#00180b" d="M347.2 297.3 351.8 296.1 347.5 295.8 343 296.9Z"/>
<path color="#00190b" d="M356.1 296.5 360.6 295.2 356.3 295 351.8 296.1Z"/>
<path color="#00190b" d="M364.9 295.5 369.4 294.2 365 294 360.6 295.2Z"/>
<path color="#00190b" d="M373.8 294.4 378.2 293 373.8 292.9 369.4 294.2Z"/>
<path color="#00190b" d="M382.8 293.1 387.1 291.6 382.5 291.6 378.2 293Z"/>
<path color="#00190b" d="M391.7 291.6 395.9 290.1 391.3 290.1 387.1 291.6Z"/>
<path color="#00190b" d="M400.6 290 404.8 288.4 400.1 288.6 395.9 290.1Z"/>
<path color="#00190b" d="M409.6 288.2 413.7 286.5 408.9 286.8 404.8 288.4Z"/>
<path color="#00190b" d="M418.6 286.2 422.6 284.5 417.8 284.9 413.7 286.5Z"/>
<path color="#00190b" d="M427.6 284.1 431.6 282.3 426.6 282.8 422.6 284.5Z"/>
<path color="#00180b" d="M436.7 281.9 440.6 280 435.5 280.6 431.6 282.3Z"/>
<path color="#001a0e" d="M306.7 299.9 311.7 299 307.8 298.2 302.8 299.1Z"/>
<path color="#001a0e" d="M315.7 299.8 320.6 298.8 316.6 298.1 311.7 299Z"/>
<path color="#001a0e" d="M324.6 299.5 329.4 298.5 325.4 297.9 320.6 298.8Z"/>
<path color="#001a0e" d="M333.6 299.1 338.3 298 334.2 297.4 329.4 298.5Z"/>
<path color="#001a0e" d="M342.5 298.5 347.2 297.3 343 296.9 338.3 298Z"/>
<path color="#001a0e" d="M351.5 297.8 356.1 296.5 351.8 296.1 347.2 297.3Z"/>
<path color="#001a0e" d="M360.4 296.8 364.9 295.5 360.6 295.2 356.1 296.5Z"/>
<path color="#001a0e" d="M369.4 295.8 373.8 294.4 369.4 294.2 364.9 295.5Z"/>
<path color="#001a0e" d="M378.4 294.5 382.8 293.1 378.2 293 373.8 294.4Z"/>
<path color="#001a0e" d="M387.4 293.2 391.7 291.6 387.1 291.6 382.8 293.1Z"/>
<path color="#001a0e" d="M396.4 291.6 400.6 290 395.9 290.1 391.7 291.6Z"/>
<path color="#001b0e" d="M405.4 289.9 409.6 288.2 404.8 288.4 400.6 290Z"/>
<path color="#001b0e" d="M414.5 288 418.6 286.2 413.7 286.5 409.6 288.2Z"/>
<path color="#001b0e" d="M423.6 286 427.6 284.1 422.6 284.5 418.6 286.2Z"/>
<path color="#001b0e" d="M432.7 283.8 436.7 281.9 431.6 282.3 427.6 284.1Z"/>
<path color="#001e12" d="M310.7 300.8 315.7 299.8 311.7 299 306.7 299.9Z"/>
<path color="#001d12" d="M319.7 300.6 324.6 299.5 320.6 298.8 315.7 299.8Z"/>
<path color="#001d12" d="M328.7 300.2 333.6 299.1 329.4 298.5 324.6 299.5Z"/>
<path color="#001d12" d="M337.8 299.7 342.5 298.5 338.3 298 333.6 299.1Z"/>
<path color="#001d12" d="M346.8 299.1 351.5 297.8 347.2 297.3 342.5 298.5Z"/>
<path color="#001d12" d="M355.8 298.2 360.4 296.8 356.1 296.5 351.5 297.8Z"/>
<path color="#001d12" d="M364.9 297.2 369.4 295.8 364.9 295.5 360.4 296.8Z"/>
<path color="#001d12" d="M373.9 296.1 378.4 294.5 373.8 294.4 369.4 295.8Z"/>
<path color="#001d12" d="M383 294.7 387.4 293.2 382.8 293.1 378.4 294.5Z"/>
<path color="#001d12" d="M392.1 293.3 396.4 291.6 391.7 291.6 387.4 293.2Z"/>
<path color="#001d12" d="M401.2 291.6 405.4 289.9 400.6 290 396.4 291.6Z"/>
<path color="#001d12" d="M410.3 289.8 414.5 288 409.6 288.2 405.4 289.9Z"/>
<path color="#001d12" d="M419.5 287.8 423.6 286 418.6 286.2 414.5 288Z"/>
<path color="#001e12" d="M428.6 285.7 432.7 283.8 427.6 284.1 423.6 286Z"/>
<path color="#002118" d="M314.7 301.7 319.7 300.6 315.7 299.8 310.7 300.8Z"/>
<path color="#002118" d="M323.8 301.4 328.7 300.2 324.6 299.5 319.7 300.6Z"/>
<path color="#002117" d="M332.9 301 337.8 299.7 333.6 299.1 328.7 300.2Z"/>
<path color="#002017" d="M342 300.4 346.8 299.1 342.5 298.5 337.8 299.7Z"/>
<path color="#002017" d="M351.2 299.6 355.8 298.2 351.5 297.8 346.8 299.1Z"/>
<path color="#002017" d="M360.3 298.7 364.9 297.2 360.4 296.8 355.8 298.2Z"/>
<path color="#002017" d="M369.4 297.6 373.9 296.1 369.4 295.8 364.9 297.2Z"/>
<path color="#002017" d="M378.5 296.4 383 294.7 378.4 294.5 373.9 296.1Z"/>
<path color="#002017" d="M387.7 294.9 392.1 293.3 387.4 293.2 383 294.7Z"/>
<path color="#002017" d="M396.9 293.4 401.2 291.6 396.4 291.6 392.1 293.3Z"/>
<path color="#002117" d="M406.1 291.6 410.3 289.8 405.4 289.9 401.2 291.6Z"/>
<path color="#002117" d="M415.3 289.7 419.5 287.8 414.5 288 410.3 289.8Z"/>
<path color="#002118" d="M424.5 287.6 428.6 285.7 423.6 286 419.5 287.8Z"/>
<path color="#00251e" d="M318.8 302.6 323.8 301.4 319.7 300.6 314.7 301.7Z"/>
<path color="#00251e" d="M328 302.2 332.9 301 328.7 300.2 323.8 301.4Z"/>
<path color="#00241d" d="M337.2 301.7 342 300.4 337.8 299.7 332.9 301Z"/>
<path color="#00241d" d="M346.4 301 351.2 299.6 346.8 299.1 342 300.4Z"/>
<path color="#00241d" d="M355.6 300.2 360.3 298.7 355.8 298.2 351.2 299.6Z"/>
<path color="#00241d" d="M364.8 299.2 369.4 297.6 364.9 297.2 360.3 298.7Z"/>
<path color="#00241d" d="M374 298 378.5 296.4 373.9 296.1 369.4 297.6Z"/>
<path color="#00241d" d="M383.2 296.7 387.7 294.9 383 294.7 378.5 296.4Z"/>
<path color="#00241d" d="M392.5 295.1 396.9 293.4 392.1 293.3 387.7 294.9Z"/>
<path color="#00241d" d="M401.7 293.5 406.1 291.6 401.2 291.6 396.9 293.4Z"/>
<path color="#00241d" d="M411 291.6 415.3 289.7 410.3 289.8 406.1 291.6Z"/>
<path color="#00251e" d="M420.3 289.6 424.5 287.6 419.5 287.8 415.3 289.7Z"/>
<path color="#002925" d="M323 303.5 328 302.2 323.8 301.4 318.8 302.6Z"/>
<path color="#002925" d="M332.3 303.1 337.2 301.7 332.9 301 328 302.2Z"/>
<path color="#002824" d="M341.6 302.5 346.4 301 342 300.4 337.2 301.7Z"/>
<path color="#002824" d="M350.8 301.7 355.6 300.2 351.2 299.6 346.4 301Z"/>
<path color="#002824" d="M360.1 300.8 364.8 299.2 360.3 298.7 355.6 300.2Z"/>
<path color="#002824" d="M369.4 299.7 374 298 369.4 297.6 364.8 299.2Z"/>
<path color="#002824" d="M378.7 298.4 383.2 296.7 378.5 296.4 374 298Z"/>
<path color="#002824" d="M388 297 392.5 295.1 387.7 294.9 383.2 296.7Z"/>
<path color="#002824" d="M397.3 295.4 401.7 293.5 396.9 293.4 392.5 295.1Z"/>
<path color="#002824" d="M406.7 293.6 411 291.6 406.1 291.6 401.7 293.5Z"/>
<path color="#002825" d="M416.1 291.6 420.3 289.6 415.3 289.7 411 291.6Z"/>
<path color="#002d2d" d="M327.3 304.5 332.3 303.1 328 302.2 323 303.5Z"/>
<path color="#002d2c" d="M336.7 303.9 341.6 302.5 337.2 301.7 332.3 303.1Z"/>
<path color="#002c2c" d="M346 303.2 350.8 301.7 346.4 301 341.6 302.5Z"/>
<path color="#002c2c" d="M355.4 302.4 360.1 300.8 355.6 300.2 350.8 301.7Z"/>
<path color="#002c2c" d="M364.7 301.4 369.4 299.7 364.8 299.2 360.1 300.8Z"/>
<path color="#002c2c" d="M374.1 300.2 378.7 298.4 374 298 369.4 299.7Z"/>
<path color="#002c2c" d="M383.5 298.8 388 297 383.2 296.7 378.7 298.4Z"/>
<path color="#002c2c" d="M392.9 297.3 397.3 295.4 392.5 295.1 388 297Z"/>
<path color="#002c2c" d="M402.3 295.6 406.7 293.6 401.7 293.5 397.3 295.4Z"/>
<path color="#002d2c" d="M411.8 293.7 416.1 291.6 411 291.6 406.7 293.6Z"/>
<path color="#002d31" d="M331.6 305.4 336.7 303.9 332.3 303.1 327.3 304.5Z"/>
<path color="#002c31" d="M341.1 304.8 346 303.2 341.6 302.5 336.7 303.9Z"/>
<path color="#002c31" d="M350.5 304 355.4 302.4 350.8 301.7 346 303.2Z"/>
<path color="#002c30" d="M360 303.1 364.7 301.4 360.1 300.8 355.4 302.4Z"/>
<path color="#002c30" d="M369.4 302 374.1 300.2 369.4 299.7 364.7 301.4Z"/>
<path color="#002c30" d="M378.9 300.7 383.5 298.8 378.7 298.4 374.1 300.2Z"/>
<path color="#002c30" d="M388.3 299.2 392.9 297.3 388 297 383.5 298.8Z"/>
<path color="#002c30" d="M397.8 297.6 402.3 295.6 397.3 295.4 392.9 297.3Z"/>
<path color="#002c31" d="M407.4 295.8 411.8 293.7 406.7 293.6 402.3 295.6Z"/>
<path color="#002c35" d="M336.1 306.4 341.1 304.8 336.7 303.9 331.6 305.4Z"/>
<path color="#002b35" d="M345.6 305.7 350.5 304 346 303.2 341.1 304.8Z"/>
<path color="#002b35" d="M355.1 304.8 360 303.1 355.4 302.4 350.5 304Z"/>
<path color="#002b35" d="M364.6 303.8 369.4 302 364.7 301.4 360 303.1Z"/>
<path color="#002b35" d="M374.2 302.6 378.9 300.7 374.1 300.2 369.4 302Z"/>
<path color="#002b35" d="M383.7 301.2 388.3 299.2 383.5 298.8 378.9 300.7Z"/>
<path color="#002b35" d="M393.3 299.6 397.8 297.6 392.9 297.3 388.3 299.2Z"/>
<path color="#002b35" d="M402.9 297.9 407.4 295.8 402.3 295.6 397.8 297.6Z"/>
<path color="#002a39" d="M340.6 307.4 345.6 305.7 341.1 304.8 336.1 306.4Z"/>
<path color="#002a39" d="M350.2 306.6 355.1 304.8 350.5 304 345.6 305.7Z"/>
<path color="#002939" d="M359.8 305.6 364.6 303.8 360 303.1 355.1 304.8Z"/>
<path color="#002939" d="M369.4 304.5 374.2 302.6 369.4 302 364.6 303.8Z"/>
<path color="#002939" d="M379 303.2 383.7 301.2 378.9 300.7 374.2 302.6Z"/>
<path color="#002939" d="M388.7 301.7 393.3 299.6 388.3 299.2 383.7 301.2Z"/>
<path color="#002939" d="M398.4 300.1 402.9 297.9 397.8 297.6 393.3 299.6Z"/>
<path color="#00273d" d="M345.2 308.4 350.2 306.6 345.6 305.7 340.6 307.4Z"/>
<path color="#00273d" d="M354.8 307.5 359.8 305.6 355.1 304.8 350.2 306.6Z"/>
<path color="#00273d" d="M364.5 306.5 369.4 304.5 364.6 303.8 359.8 305.6Z"/>
<path color="#00273d" d="M374.3 305.2 379 303.2 374.2 302.6 369.4 304.5Z"/>
<path color="#00273d" d="M384 303.8 388.7 301.7 383.7 301.2 379 303.2Z"/>
<path color="#00273d" d="M393.7 302.2 398.4 300.1 393.3 299.6 388.7 301.7Z"/>
<path color="#002341" d="M349.8 309.5 354.8 307.5 350.2 306.6 345.2 308.4Z"/>
<path color="#002341" d="M359.6 308.5 364.5 306.5 359.8 305.6 354.8 307.5Z"/>
<path color="#002341" d="M369.4 307.3 374.3 305.2 369.4 304.5 364.5 306.5Z"/>
<path color="#002341" d="M379.2 306 384 303.8 379 303.2 374.3 305.2Z"/>
<path color="#002341" d="M389 304.5 393.7 302.2 388.7 301.7 384 303.8Z"/>
<path color="#001f45" d="M354.6 310.5 359.6 308.5 354.8 307.5 349.8 309.5Z"/>
<path color="#001f45" d="M364.5 309.4 369.4 307.3 364.5 306.5 359.6 308.5Z"/>
<path color="#001f45" d="M374.4 308.2 379.2 306 374.3 305.2 369.4 307.3Z"/>
<path color="#001f45" d="M384.3 306.7 389 304.5 384 303.8 379.2 306Z"/>
<path color="#001a49" d="M359.4 311.6 364.5 309.4 359.6 308.5 354.6 310.5Z"/>
<path color="#001a49" d="M369.4 310.4 374.4 308.2 369.4 307.3 364.5 309.4Z"/>
<path color="#001a49" d="M379.4 309.1 384.3 306.7 379.2 306 374.4 308.2Z"/>
<path color="#00144d" d="M364.4 312.7 369.4 310.4 364.5 309.4 359.4 311.6Z"/>
<path color="#00144d" d="M374.4 311.4 379.4 309.1 374.4 308.2 369.4 310.4Z"/>
<path color="#000e51" d="M369.4 313.8 374.4 311.4 369.4 310.4 364.4 312.7Z"/>
</g>
<path class="st" d="M407.4 279.2V283.9"/>
<circle cx="298.5" cy="298.5" r="1.45" fill="#c00000" stroke="#600" stroke-width=".5"/>
<circle cx="331.1" cy="294.9" r="1.4" fill="#f0c0c0" stroke="#904040" stroke-width=".5"/>
<circle cx="369.1" cy="288.7" r="1.4" fill="#f0c0c0" stroke="#904040" stroke-width=".5"/>
<circle cx="369.1" cy="297.8" r="1.4" fill="#f0c0c0" stroke="#904040" stroke-width=".5"/>
<circle cx="407.4" cy="279.2" r="1.45" fill="#c00000" stroke="#600" stroke-width=".5"/>
<circle cx="440.6" cy="279.5" r="1.45" fill="#c00000" stroke="#600" stroke-width=".5"/>
<circle cx="402" cy="302.9" r="1.4" fill="#f0c0c0" stroke="#904040" stroke-width=".5"/>
<path class="tk" d="M297.5 263.3h1.2"/>
<text x="294.9" y="269.5" font-size="7.0" fill="#222" stroke="#222" stroke-width="0.18" text-anchor="end" textLength="8.2" lengthAdjust="spacingAndGlyphs">340</text>
<path class="tk" d="M298.3 283.1h1.2"/>
<text x="295.7" y="289.3" font-size="7.0" fill="#222" stroke="#222" stroke-width="0.18" text-anchor="end" textLength="8.2" lengthAdjust="spacingAndGlyphs">285</text>
<path class="tk" d="M299.1 302.4h1.2"/>
<text x="296" y="308.6" font-size="7.0" fill="#222" stroke="#222" stroke-width="0.18" text-anchor="end" textLength="8.2" lengthAdjust="spacingAndGlyphs">230</text>
<path class="tk" d="M299.9 321.7h1.2"/>
<text x="296.9" y="327.9" font-size="7.0" fill="#222" stroke="#222" stroke-width="0.18" text-anchor="end" textLength="8.2" lengthAdjust="spacingAndGlyphs">175</text>
<path class="tk" d="M300.8 341.1h1.2"/>
<text x="297.5" y="347.3" font-size="7.0" fill="#222" stroke="#222" stroke-width="0.18" text-anchor="end" textLength="8.2" lengthAdjust="spacingAndGlyphs">120</text>
<path class="tk" d="M301.8 365.5l-.9 -.5"/>
<text x="299.6" y="371.8" font-size="7.0" fill="#222" stroke="#222" stroke-width="0.18" text-anchor="end" textLength="12.3" lengthAdjust="spacingAndGlyphs">15.00</text>
<path class="tk" d="M318.7 374.5l-.9 -.5"/>
<text x="316.5" y="380.8" font-size="7.0" fill="#222" stroke="#222" stroke-width="0.18" text-anchor="end" textLength="12.3" lengthAdjust="spacingAndGlyphs">12.50</text>
<path class="tk" d="M335.6 383.5l-.9 -.5"/>
<text x="333.4" y="389.8" font-size="7.0" fill="#222" stroke="#222" stroke-width="0.18" text-anchor="end" textLength="12.3" lengthAdjust="spacingAndGlyphs">10.00</text>
<path class="tk" d="M352.4 392.5l-.9 -.5"/>
<text x="350.2" y="398.8" font-size="7.0" fill="#222" stroke="#222" stroke-width="0.18" text-anchor="end" textLength="9.6" lengthAdjust="spacingAndGlyphs">7.50</text>
<path class="tk" d="M369.3 401.5l-.9 -.5"/>
<text x="367.1" y="407.8" font-size="7.0" fill="#222" stroke="#222" stroke-width="0.18" text-anchor="end" textLength="9.6" lengthAdjust="spacingAndGlyphs">5.00</text>
<path class="tk" d="M369.3 401.5l.9 -.5"/>
<text x="371.9" y="407.6" font-size="7.0" fill="#222" stroke="#222" stroke-width="0.18" textLength="9.6" lengthAdjust="spacingAndGlyphs">0.00</text>
<path class="tk" d="M386.2 392.6l.9 -.5"/>
<text x="388.8" y="398.7" font-size="7.0" fill="#222" stroke="#222" stroke-width="0.18" textLength="12.3" lengthAdjust="spacingAndGlyphs">15.00</text>
<path class="tk" d="M403 383.6l.9 -.5"/>
<text x="405.6" y="389.7" font-size="7.0" fill="#222" stroke="#222" stroke-width="0.18" textLength="12.3" lengthAdjust="spacingAndGlyphs">30.00</text>
<path class="tk" d="M419.9 374.7l.9 -.5"/>
<text x="422.5" y="380.8" font-size="7.0" fill="#222" stroke="#222" stroke-width="0.18" textLength="12.3" lengthAdjust="spacingAndGlyphs">45.00</text>
<path class="tk" d="M436.8 365.8l.9 -.5"/>
<text x="439.4" y="371.9" font-size="7.0" fill="#222" stroke="#222" stroke-width="0.18" textLength="12.3" lengthAdjust="spacingAndGlyphs">60.00</text>
<text x="278.6" y="314" font-size="6.6" fill="#222" stroke="#222" stroke-width="0.18" text-anchor="middle" textLength="39" lengthAdjust="spacingAndGlyphs" transform="rotate(-90 278.6 314)">Con. Zn,mg/kg</text>
<text x="291.9" y="399.7" font-size="6.8" fill="#222" stroke="#222" stroke-width="0.18" textLength="5.5" lengthAdjust="spacingAndGlyphs">B:</text>
<text x="302.8" y="400.2" font-size="6.4" fill="#222" stroke="#222" stroke-width="0.18" textLength="13.5" lengthAdjust="spacingAndGlyphs">NMB</text>
<text x="417.7" y="399.8" font-size="6.6" fill="#222" stroke="#222" stroke-width="0.18" textLength="17.4" lengthAdjust="spacingAndGlyphs">A: Day</text>
<text x="235.2" y="226.8" font-size="14.5" fill="#222" stroke="#222" stroke-width="0.18">e)</text>
<rect x="240.1" y="282.9" width="3.8" height="18.1" fill="url(#lg)" stroke="#333" stroke-width=".6"/>
<text x="245.4" y="287.3" font-size="5.6" fill="#ff2a2a" stroke="#ff2a2a" stroke-width="0.18" style="font-family:'Liberation Sans',sans-serif" textLength="16.5" lengthAdjust="spacingAndGlyphs">336.32</text>
<text x="245.4" y="300.2" font-size="5.6" fill="#2a2aff" stroke="#2a2aff" stroke-width="0.18" style="font-family:'Liberation Sans',sans-serif" textLength="16.5" lengthAdjust="spacingAndGlyphs">129.58</text>
<path class="bx" d="M539.1 370.1L534.3 262.2 601.3 244 668.7 262.7 664.8 371.2M601.3 244L601.6 341.2"/>
<clipPath id="c6"><path d="M601.9 408.6L664.8 371.2 601.6 341.2 539.1 370.1Z"/></clipPath>
<path class="fl" d="M601.9 408.6L664.8 371.2 601.6 341.2 539.1 370.1Z"/>
<g clip-path="url(#c6)">
<path fill="none" stroke="#50e050" stroke-width="0.8" d="M546.8 373.4 602 343.9"/>
<path fill="none" stroke="#40e060" stroke-width="0.8" d="M554.7 379.3 606 344.9"/>
<path fill="none" stroke="#30c8b0" stroke-width="0.8" d="M564.6 383.3 612 348"/>
<path fill="none" stroke="#30b0b0" stroke-width="0.8" d="M613.8 348.8 612.6 350.7 611.4 352.5 610.1 354.4 608.8 356.3 607.5 358.2 606.1 360.2 604.6 362.2 603 364.3 601.2 366.5 599.4 368.7 597.6 371 596 373.2 595.1 375.4 595.1 377.4 596.3 379.1 598.4 380.5 600.9 381.6 603.6 382.3 606.2 382.7 608.7 382.8 611.1 382.6 613.5 382.3 615.9 381.7 618.3 381.1 620.6 380.4 622.9 379.6 625.2 378.8 627.5 378 629.8 377.3 632.2 376.6 634.5 375.9 636.9 375.2 639.2 374.5 641.5 373.8 643.9 373.1 646.2 372.5 648.6 371.8 650.9 371.2 653.3 370.5"/>
<path fill="none" stroke="#30c8b0" stroke-width="0.8" d="M594.1 403 663.1 370.5"/>
</g>
<g class="m">
<path color="#008e08" d="M601.4 277.6 603.5 277.9 601.4 274.4 599.3 274Z"/>
<path color="#019000" d="M599.3 277.4 601.4 277.6 599.3 274 597.2 273.7Z"/>
<path color="#009826" d="M603.5 281.8 605.6 282 603.5 277.9 601.4 277.6Z"/>
<path color="#0a9200" d="M597.2 277.1 599.3 277.4 597.2 273.7 595.1 273.3Z"/>
<path color="#00991d" d="M601.4 281.6 603.5 281.8 601.4 277.6 599.3 277.4Z"/>
<path color="#00a04e" d="M605.6 286.9 607.7 287 605.6 282 603.5 281.8Z"/>
<path color="#139400" d="M595 276.8 597.2 277.1 595.1 273.3 592.9 273Z"/>
<path color="#00a17a" d="M607.8 292.1 609.8 292.2 607.7 287 605.6 286.9Z"/>
<path color="#009b14" d="M599.3 281.5 601.4 281.6 599.3 277.4 597.2 277.1Z"/>
<path color="#00a145" d="M603.5 286.7 605.6 286.9 603.5 281.8 601.4 281.6Z"/>
<path color="#009c0c" d="M597.1 281.3 599.3 281.5 597.2 277.1 595 276.8Z"/>
<path color="#00a271" d="M605.7 292 607.8 292.1 605.6 286.9 603.5 286.7Z"/>
<path color="#1d9600" d="M592.9 276.6 595 276.8 592.9 273 590.7 272.6Z"/>
<path color="#00a23c" d="M601.4 286.6 603.5 286.7 601.4 281.6 599.3 281.5Z"/>
<path color="#009d9e" d="M609.9 296.8 612 296.8 609.8 292.2 607.8 292.1Z"/>
<path color="#279800" d="M590.7 276.3 592.9 276.6 590.7 272.6 588.5 272.2Z"/>
<path color="#009d03" d="M595 281.1 597.1 281.3 595 276.8 592.9 276.6Z"/>
<path color="#00a234" d="M599.3 286.4 601.4 286.6 599.3 281.5 597.1 281.3Z"/>
<path color="#00a369" d="M603.6 291.9 605.7 292 603.5 286.7 601.4 286.6Z"/>
<path color="#009f98" d="M607.8 296.7 609.9 296.8 607.8 292.1 605.7 292Z"/>
<path color="#00779c" d="M612 301 614.1 301 612 296.8 609.9 296.8Z"/>
<path color="#319900" d="M588.5 276 590.7 276.3 588.5 272.2 586.3 271.8Z"/>
<path color="#079e00" d="M592.8 280.9 595 281.1 592.9 276.6 590.7 276.3Z"/>
<path color="#00a461" d="M601.4 291.8 603.6 291.9 601.4 286.6 599.3 286.4Z"/>
<path color="#00809d" d="M610 301 612 301 609.9 296.8 607.8 296.7Z"/>
<path color="#005899" d="M614.2 304.8 616.2 304.7 614.1 301 612 301Z"/>
<path color="#00a32b" d="M597.1 286.3 599.3 286.4 597.1 281.3 595 281.1Z"/>
<path color="#00a090" d="M605.7 296.6 607.8 296.7 605.7 292 603.6 291.9Z"/>
<path color="#3b9b00" d="M586.2 275.7 588.5 276 586.3 271.8 584.1 271.5Z"/>
<path color="#10a000" d="M590.6 280.7 592.8 280.9 590.7 276.3 588.5 276Z"/>
<path color="#00a422" d="M595 286.1 597.1 286.3 595 281.1 592.8 280.9Z"/>
<path color="#00a558" d="M599.3 291.7 601.4 291.8 599.3 286.4 597.1 286.3Z"/>
<path color="#00a189" d="M603.6 296.6 605.7 296.6 603.6 291.9 601.4 291.8Z"/>
<path color="#00899e" d="M607.9 301 610 301 607.8 296.7 605.7 296.6Z"/>
<path color="#00609a" d="M612.1 304.9 614.2 304.8 612 301 610 301Z"/>
<path color="#003c96" d="M616.4 308.2 618.4 308 616.2 304.7 614.2 304.8Z"/>
<path color="#00a550" d="M597.1 291.5 599.3 291.7 597.1 286.3 595 286.1Z"/>
<path color="#00939f" d="M605.8 301 607.9 301 605.7 296.6 603.6 296.6Z"/>
<path color="#459d00" d="M584 275.5 586.2 275.7 584.1 271.5 581.8 271.1Z"/>
<path color="#19a100" d="M588.4 280.5 590.6 280.7 588.5 276 586.2 275.7Z"/>
<path color="#00a519" d="M592.8 286 595 286.1 592.8 280.9 590.6 280.7Z"/>
<path color="#00a281" d="M601.5 296.5 603.6 296.6 601.4 291.8 599.3 291.7Z"/>
<path color="#00689c" d="M610 304.9 612.1 304.9 610 301 607.9 301Z"/>
<path color="#004497" d="M614.3 308.3 616.4 308.2 614.2 304.8 612.1 304.9Z"/>
<path color="#002695" d="M618.6 311.4 620.6 311.1 618.4 308 616.4 308.2Z"/>
<path color="#509e00" d="M581.7 275.2 584 275.5 581.8 271.1 579.6 270.7Z"/>
<path color="#23a200" d="M586.1 280.3 588.4 280.5 586.2 275.7 584 275.5Z"/>
<path color="#00a610" d="M590.6 285.8 592.8 286 590.6 280.7 588.4 280.5Z"/>
<path color="#00a647" d="M594.9 291.4 597.1 291.5 595 286.1 592.8 286Z"/>
<path color="#00a379" d="M599.3 296.4 601.5 296.5 599.3 291.7 597.1 291.5Z"/>
<path color="#009ca0" d="M603.6 301 605.8 301 603.6 296.6 601.5 296.5Z"/>
<path color="#00719d" d="M607.9 305 610 304.9 607.9 301 605.8 301Z"/>
<path color="#004b99" d="M612.2 308.5 614.3 308.3 612.1 304.9 610 304.9Z"/>
<path color="#002d96" d="M616.5 311.6 618.6 311.4 616.4 308.2 614.3 308.3Z"/>
<path color="#001392" d="M620.8 314.2 622.8 313.9 620.6 311.1 618.6 311.4Z"/>
<path color="#5aa000" d="M579.4 274.9 581.7 275.2 579.6 270.7 577.3 270.3Z"/>
<path color="#00a73e" d="M592.7 291.3 594.9 291.4 592.8 286 590.6 285.8Z"/>
<path color="#00a19d" d="M601.5 301 603.6 301 601.5 296.5 599.3 296.4Z"/>
<path color="#00539b" d="M610.1 308.7 612.2 308.5 610 304.9 607.9 305Z"/>
<path color="#00038c" d="M623 316.7 625 316.3 622.8 313.9 620.8 314.2Z"/>
<path color="#2ca300" d="M583.9 280.1 586.1 280.3 584 275.5 581.7 275.2Z"/>
<path color="#00a707" d="M588.3 285.7 590.6 285.8 588.4 280.5 586.1 280.3Z"/>
<path color="#00a471" d="M597.1 296.4 599.3 296.4 597.1 291.5 594.9 291.4Z"/>
<path color="#00799f" d="M605.8 305.1 607.9 305 605.8 301 603.6 301Z"/>
<path color="#003398" d="M614.4 311.8 616.5 311.6 614.3 308.3 612.2 308.5Z"/>
<path color="#001893" d="M618.7 314.5 620.8 314.2 618.6 311.4 616.5 311.6Z"/>
<path color="#36a400" d="M581.6 279.9 583.9 280.1 581.7 275.2 579.4 274.9Z"/>
<path color="#00a835" d="M590.5 291.2 592.7 291.3 590.6 285.8 588.3 285.7Z"/>
<path color="#00a296" d="M599.3 301 601.5 301 599.3 296.4 597.1 296.4Z"/>
<path color="#0082a0" d="M603.7 305.2 605.8 305.1 603.6 301 601.5 301Z"/>
<path color="#003a99" d="M612.3 312 614.4 311.8 612.2 308.5 610.1 308.7Z"/>
<path color="#00088e" d="M620.9 317 623 316.7 620.8 314.2 618.7 314.5Z"/>
<path color="#65a100" d="M577.1 274.6 579.4 274.9 577.3 270.3 574.9 269.9Z"/>
<path color="#02a800" d="M586.1 285.5 588.3 285.7 586.1 280.3 583.9 280.1Z"/>
<path color="#00a569" d="M594.9 296.3 597.1 296.4 594.9 291.4 592.7 291.3Z"/>
<path color="#005b9c" d="M608 308.8 610.1 308.7 607.9 305 605.8 305.1Z"/>
<path color="#001e95" d="M616.6 314.8 618.7 314.5 616.5 311.6 614.4 311.8Z"/>
<path color="#00008c" d="M625.2 319 627.2 318.6 625 316.3 623 316.7Z"/>
<path color="#70a300" d="M574.8 274.3 577.1 274.6 574.9 269.9 572.6 269.5Z"/>
<path color="#40a500" d="M579.3 279.7 581.6 279.9 579.4 274.9 577.1 274.6Z"/>
<path color="#0ca800" d="M583.8 285.4 586.1 285.5 583.9 280.1 581.6 279.9Z"/>
<path color="#00a92c" d="M588.3 291.1 590.5 291.2 588.3 285.7 586.1 285.5Z"/>
<path color="#00a661" d="M592.7 296.3 594.9 296.3 592.7 291.3 590.5 291.2Z"/>
<path color="#00a38f" d="M597.1 301 599.3 301 597.1 296.4 594.9 296.3Z"/>
<path color="#008ba1" d="M601.5 305.3 603.7 305.2 601.5 301 599.3 301Z"/>
<path color="#00639e" d="M605.8 309 608 308.8 605.8 305.1 603.7 305.2Z"/>
<path color="#00419b" d="M610.2 312.3 612.3 312 610.1 308.7 608 308.8Z"/>
<path color="#002496" d="M614.5 315.1 616.6 314.8 614.4 311.8 612.3 312Z"/>
<path color="#000d90" d="M618.8 317.3 620.9 317 618.7 314.5 616.6 314.8Z"/>
<path color="#00008d" d="M623.2 319.4 625.2 319 623 316.7 620.9 317Z"/>
<path color="#000086" d="M627.5 321 629.5 320.6 627.2 318.6 625.2 319Z"/>
<path color="#7ba400" d="M572.4 274 574.8 274.3 572.6 269.5 570.2 269.1Z"/>
<path color="#4aa700" d="M577 279.5 579.3 279.7 577.1 274.6 574.8 274.3Z"/>
<path color="#00a924" d="M586 291 588.3 291.1 586.1 285.5 583.8 285.4Z"/>
<path color="#00a487" d="M594.9 301 597.1 301 594.9 296.3 592.7 296.3Z"/>
<path color="#0094a2" d="M599.3 305.4 601.5 305.3 599.3 301 597.1 301Z"/>
<path color="#006b9f" d="M603.7 309.2 605.8 309 603.7 305.2 601.5 305.3Z"/>
<path color="#00489c" d="M608.1 312.5 610.2 312.3 608 308.8 605.8 309Z"/>
<path color="#001292" d="M616.8 317.7 618.8 317.3 616.6 314.8 614.5 315.1Z"/>
<path color="#000087" d="M625.4 321.4 627.5 321 625.2 319 623.2 319.4Z"/>
<path color="#00006f" d="M629.8 322.4 631.8 322 629.5 320.6 627.5 321Z"/>
<path color="#15a900" d="M581.5 285.3 583.8 285.4 581.6 279.9 579.3 279.7Z"/>
<path color="#00a758" d="M590.5 296.2 592.7 296.3 590.5 291.2 588.3 291.1Z"/>
<path color="#002a98" d="M612.4 315.4 614.5 315.1 612.3 312 610.2 312.3Z"/>
<path color="#00008f" d="M621.1 319.8 623.2 319.4 620.9 317 618.8 317.3Z"/>
<path color="#86a500" d="M570 273.7 572.4 274 570.2 269.1 567.8 268.7Z"/>
<path color="#54a800" d="M574.6 279.3 577 279.5 574.8 274.3 572.4 274Z"/>
<path color="#1eaa00" d="M579.2 285.1 581.5 285.3 579.3 279.7 577 279.5Z"/>
<path color="#00aa1b" d="M583.7 290.9 586 291 583.8 285.4 581.5 285.3Z"/>
<path color="#00a850" d="M588.2 296.2 590.5 296.2 588.3 291.1 586 291Z"/>
<path color="#00a580" d="M592.7 301 594.9 301 592.7 296.3 590.5 296.2Z"/>
<path color="#009ca4" d="M597.1 305.5 599.3 305.4 597.1 301 594.9 301Z"/>
<path color="#0073a1" d="M601.5 309.4 603.7 309.2 601.5 305.3 599.3 305.4Z"/>
<path color="#004f9d" d="M605.9 312.7 608.1 312.5 605.8 309 603.7 309.2Z"/>
<path color="#003199" d="M610.3 315.7 612.4 315.4 610.2 312.3 608.1 312.5Z"/>
<path color="#001894" d="M614.6 318.1 616.8 317.7 614.5 315.1 612.4 315.4Z"/>
<path color="#000490" d="M619 320.2 621.1 319.8 618.8 317.3 616.8 317.7Z"/>
<path color="#000088" d="M623.4 321.8 625.4 321.4 623.2 319.4 621.1 319.8Z"/>
<path color="#000071" d="M627.7 322.8 629.8 322.4 627.5 321 625.4 321.4Z"/>
<path color="#000058" d="M632.1 323.3 634.1 322.9 631.8 322 629.8 322.4Z"/>
<path color="#00ab12" d="M581.4 290.8 583.7 290.9 581.5 285.3 579.2 285.1Z"/>
<path color="#00a678" d="M590.4 301.1 592.7 301 590.5 296.2 588.2 296.2Z"/>
<path color="#001d96" d="M612.5 318.4 614.6 318.1 612.4 315.4 610.3 315.7Z"/>
<path color="#00008a" d="M621.3 322.3 623.4 321.8 621.1 319.8 619 320.2Z"/>
<path color="#92a700" d="M567.6 273.4 570 273.7 567.8 268.7 565.4 268.3Z"/>
<path color="#5ea900" d="M572.2 279.1 574.6 279.3 572.4 274 570 273.7Z"/>
<path color="#28ab00" d="M576.8 285 579.2 285.1 577 279.5 574.6 279.3Z"/>
<path color="#00a848" d="M585.9 296.1 588.2 296.2 586 291 583.7 290.9Z"/>
<path color="#00a5a4" d="M594.9 305.6 597.1 305.5 594.9 301 592.7 301Z"/>
<path color="#007ba2" d="M599.3 309.6 601.5 309.4 599.3 305.4 597.1 305.5Z"/>
<path color="#00569f" d="M603.7 313 605.9 312.7 603.7 309.2 601.5 309.4Z"/>
<path color="#00379b" d="M608.1 316 610.3 315.7 608.1 312.5 605.9 312.7Z"/>
<path color="#000992" d="M616.9 320.6 619 320.2 616.8 317.7 614.6 318.1Z"/>
<path color="#000073" d="M625.6 323.3 627.7 322.8 625.4 321.4 623.4 321.8Z"/>
<path color="#00005b" d="M630 323.8 632.1 323.3 629.8 322.4 627.7 322.8Z"/>
<path color="#000056" d="M634.4 324.2 636.4 323.8 634.1 322.9 632.1 323.3Z"/>
<path color="#9da800" d="M565.2 273.1 567.6 273.4 565.4 268.3 563 267.9Z"/>
<path color="#69a900" d="M569.8 278.8 572.2 279.1 570 273.7 567.6 273.4Z"/>
<path color="#32ac00" d="M574.4 284.8 576.8 285 574.6 279.3 572.2 279.1Z"/>
<path color="#00ac08" d="M579 290.7 581.4 290.8 579.2 285.1 576.8 285Z"/>
<path color="#00a93f" d="M583.6 296.1 585.9 296.1 583.7 290.9 581.4 290.8Z"/>
<path color="#00a871" d="M588.1 301.1 590.4 301.1 588.2 296.2 585.9 296.1Z"/>
<path color="#00a69e" d="M592.6 305.7 594.9 305.6 592.7 301 590.4 301.1Z"/>
<path color="#0083a3" d="M597.1 309.8 599.3 309.6 597.1 305.5 594.9 305.6Z"/>
<path color="#005da0" d="M601.5 313.3 603.7 313 601.5 309.4 599.3 309.6Z"/>
<path color="#003d9c" d="M605.9 316.3 608.1 316 605.9 312.7 603.7 313Z"/>
<path color="#002397" d="M610.4 318.8 612.5 318.4 610.3 315.7 608.1 316Z"/>
<path color="#000e94" d="M614.8 321 616.9 320.6 614.6 318.1 612.5 318.4Z"/>
<path color="#00008b" d="M619.2 322.7 621.3 322.3 619 320.2 616.9 320.6Z"/>
<path color="#000075" d="M623.5 323.7 625.6 323.3 623.4 321.8 621.3 322.3Z"/>
<path color="#00005d" d="M627.9 324.3 630 323.8 627.7 322.8 625.6 323.3Z"/>
<path color="#000058" d="M632.3 324.7 634.4 324.2 632.1 323.3 630 323.8Z"/>
<path color="#00003b" d="M636.7 324.8 638.8 324.3 636.4 323.8 634.4 324.2Z"/>
<path color="#a9a900" d="M562.7 272.8 565.2 273.1 563 267.9 560.5 267.4Z"/>
<path color="#73aa00" d="M567.4 278.6 569.8 278.8 567.6 273.4 565.2 273.1Z"/>
<path color="#01ac00" d="M576.7 290.6 579 290.7 576.8 285 574.4 284.8Z"/>
<path color="#00a869" d="M585.8 301.1 588.1 301.1 585.9 296.1 583.6 296.1Z"/>
<path color="#008ba5" d="M594.8 310 597.1 309.8 594.9 305.6 592.6 305.7Z"/>
<path color="#002899" d="M608.2 319.2 610.4 318.8 608.1 316 605.9 316.3Z"/>
<path color="#00018c" d="M617 323.2 619.2 322.7 616.9 320.6 614.8 321Z"/>
<path color="#000060" d="M625.9 324.7 627.9 324.3 625.6 323.3 623.5 323.7Z"/>
<path color="#00003e" d="M634.7 325.3 636.7 324.8 634.4 324.2 632.3 324.7Z"/>
<path color="#00001f" d="M639.1 324.4 641.2 323.9 638.8 324.3 636.7 324.8Z"/>
<path color="#3bac00" d="M572.1 284.6 574.4 284.8 572.2 279.1 569.8 278.8Z"/>
<path color="#00aa37" d="M581.3 296.1 583.6 296.1 581.4 290.8 579 290.7Z"/>
<path color="#00a797" d="M590.3 305.8 592.6 305.7 590.4 301.1 588.1 301.1Z"/>
<path color="#0064a2" d="M599.3 313.5 601.5 313.3 599.3 309.6 597.1 309.8Z"/>
<path color="#00439e" d="M603.7 316.6 605.9 316.3 603.7 313 601.5 313.3Z"/>
<path color="#001295" d="M612.6 321.4 614.8 321 612.5 318.4 610.4 318.8Z"/>
<path color="#000077" d="M621.4 324.2 623.5 323.7 621.3 322.3 619.2 322.7Z"/>
<path color="#00005a" d="M630.3 325.2 632.3 324.7 630 323.8 627.9 324.3Z"/>
<path color="#aaa000" d="M560.2 272.5 562.7 272.8 560.5 267.4 558 267Z"/>
<path color="#7eab00" d="M565 278.4 567.4 278.6 565.2 273.1 562.7 272.8Z"/>
<path color="#0aad00" d="M574.3 290.4 576.7 290.6 574.4 284.8 572.1 284.6Z"/>
<path color="#00a961" d="M583.5 301.1 585.8 301.1 583.6 296.1 581.3 296.1Z"/>
<path color="#00a890" d="M588 305.9 590.3 305.8 588.1 301.1 585.8 301.1Z"/>
<path color="#006ba3" d="M597.1 313.8 599.3 313.5 597.1 309.8 594.8 310Z"/>
<path color="#002e9b" d="M606 319.6 608.2 319.2 605.9 316.3 603.7 316.6Z"/>
<path color="#00058d" d="M614.9 323.6 617 323.2 614.8 321 612.6 321.4Z"/>
<path color="#000079" d="M619.3 324.7 621.4 324.2 619.2 322.7 617 323.2Z"/>
<path color="#00005c" d="M628.2 325.7 630.3 325.2 627.9 324.3 625.9 324.7Z"/>
<path color="#00001f" d="M637.1 324.9 639.1 324.4 636.7 324.8 634.7 325.3Z"/>
<path color="#00001f" d="M641.6 323.4 643.6 322.8 641.2 323.9 639.1 324.4Z"/>
<path color="#45ad00" d="M569.6 284.4 572.1 284.6 569.8 278.8 567.4 278.6Z"/>
<path color="#00ab2e" d="M578.9 296 581.3 296.1 579 290.7 576.7 290.6Z"/>
<path color="#0093a6" d="M592.6 310.2 594.8 310 592.6 305.7 590.3 305.8Z"/>
<path color="#004a9f" d="M601.5 317 603.7 316.6 601.5 313.3 599.3 313.5Z"/>
<path color="#001797" d="M610.4 321.9 612.6 321.4 610.4 318.8 608.2 319.2Z"/>
<path color="#000063" d="M623.8 325.2 625.9 324.7 623.5 323.7 621.4 324.2Z"/>
<path color="#000041" d="M632.6 325.8 634.7 325.3 632.3 324.7 630.3 325.2Z"/>
<path color="#ab9600" d="M557.7 272.2 560.2 272.5 558 267 555.5 266.6Z"/>
<path color="#89ac00" d="M562.5 278.1 565 278.4 562.7 272.8 560.2 272.5Z"/>
<path color="#50ad00" d="M567.2 284.2 569.6 284.4 567.4 278.6 565 278.4Z"/>
<path color="#14ad00" d="M571.9 290.3 574.3 290.4 572.1 284.6 569.6 284.4Z"/>
<path color="#00ab25" d="M576.5 295.9 578.9 296 576.7 290.6 574.3 290.4Z"/>
<path color="#00aa59" d="M581.1 301.1 583.5 301.1 581.3 296.1 578.9 296Z"/>
<path color="#00a989" d="M585.7 306 588 305.9 585.8 301.1 583.5 301.1Z"/>
<path color="#009ba7" d="M590.3 310.4 592.6 310.2 590.3 305.8 588 305.9Z"/>
<path color="#0072a4" d="M594.8 314.1 597.1 313.8 594.8 310 592.6 310.2Z"/>
<path color="#0050a1" d="M599.3 317.3 601.5 317 599.3 313.5 597.1 313.8Z"/>
<path color="#00339c" d="M603.8 320 606 319.6 603.7 316.6 601.5 317Z"/>
<path color="#001c98" d="M608.2 322.4 610.4 321.9 608.2 319.2 606 319.6Z"/>
<path color="#000a8f" d="M612.7 324.1 614.9 323.6 612.6 321.4 610.4 321.9Z"/>
<path color="#00007b" d="M617.2 325.1 619.3 324.7 617 323.2 614.9 323.6Z"/>
<path color="#000066" d="M621.6 325.7 623.8 325.2 621.4 324.2 619.3 324.7Z"/>
<path color="#00005e" d="M626.1 326.2 628.2 325.7 625.9 324.7 623.8 325.2Z"/>
<path color="#000044" d="M630.6 326.3 632.6 325.8 630.3 325.2 628.2 325.7Z"/>
<path color="#00001f" d="M635 325.5 637.1 324.9 634.7 325.3 632.6 325.8Z"/>
<path color="#00001f" d="M639.5 324 641.6 323.4 639.1 324.4 637.1 324.9Z"/>
<path color="#00031f" d="M644.1 322 646.1 321.4 643.6 322.8 641.6 323.4Z"/>
<path color="#ad8c00" d="M555.2 271.8 557.7 272.2 555.5 266.6 553 266.2Z"/>
<path color="#94ad00" d="M560 277.9 562.5 278.1 560.2 272.5 557.7 272.2Z"/>
<path color="#1eae00" d="M569.4 290.1 571.9 290.3 569.6 284.4 567.2 284.2Z"/>
<path color="#00ac1b" d="M574.1 295.8 576.5 295.9 574.3 290.4 571.9 290.3Z"/>
<path color="#00ab50" d="M578.8 301.1 581.1 301.1 578.9 296 576.5 295.9Z"/>
<path color="#00aa82" d="M583.4 306.1 585.7 306 583.5 301.1 581.1 301.1Z"/>
<path color="#00a3a8" d="M588 310.6 590.3 310.4 588 305.9 585.7 306Z"/>
<path color="#007aa5" d="M592.5 314.4 594.8 314.1 592.6 310.2 590.3 310.4Z"/>
<path color="#00399e" d="M601.5 320.5 603.8 320 601.5 317 599.3 317.3Z"/>
<path color="#000e90" d="M610.5 324.6 612.7 324.1 610.4 321.9 608.2 322.4Z"/>
<path color="#00027d" d="M615 325.6 617.2 325.1 614.9 323.6 612.7 324.1Z"/>
<path color="#000069" d="M619.5 326.3 621.6 325.7 619.3 324.7 617.2 325.1Z"/>
<path color="#000060" d="M624 326.7 626.1 326.2 623.8 325.2 621.6 325.7Z"/>
<path color="#000047" d="M628.4 326.8 630.6 326.3 628.2 325.7 626.1 326.2Z"/>
<path color="#00001f" d="M632.9 326 635 325.5 632.6 325.8 630.6 326.3Z"/>
<path color="#00041f" d="M642 322.7 644.1 322 641.6 323.4 639.5 324Z"/>
<path color="#00071f" d="M646.6 320.7 648.6 320.1 646.1 321.4 644.1 322Z"/>
<path color="#5aae00" d="M564.7 284 567.2 284.2 565 278.4 562.5 278.1Z"/>
<path color="#0056a2" d="M597 317.7 599.3 317.3 597.1 313.8 594.8 314.1Z"/>
<path color="#00219a" d="M606 322.8 608.2 322.4 606 319.6 603.8 320Z"/>
<path color="#00011f" d="M637.5 324.6 639.5 324 637.1 324.9 635 325.5Z"/>
<path color="#00ab47" d="M576.4 301.1 578.8 301.1 576.5 295.9 574.1 295.8Z"/>
<path color="#00004b" d="M626.3 327.3 628.4 326.8 626.1 326.2 624 326.7Z"/>
<path color="#ae8300" d="M552.6 271.5 555.2 271.8 553 266.2 550.4 265.7Z"/>
<path color="#9fae00" d="M557.4 277.6 560 277.9 557.7 272.2 555.2 271.8Z"/>
<path color="#64af00" d="M562.2 283.8 564.7 284 562.5 278.1 560 277.9Z"/>
<path color="#28ae00" d="M567 289.9 569.4 290.1 567.2 284.2 564.7 284Z"/>
<path color="#00ad12" d="M571.7 295.7 574.1 295.8 571.9 290.3 569.4 290.1Z"/>
<path color="#00ab7a" d="M581 306.2 583.4 306.1 581.1 301.1 578.8 301.1Z"/>
<path color="#00a9a7" d="M585.6 310.8 588 310.6 585.7 306 583.4 306.1Z"/>
<path color="#0081a6" d="M590.2 314.7 592.5 314.4 590.3 310.4 588 310.6Z"/>
<path color="#005da3" d="M594.8 318.1 597 317.7 594.8 314.1 592.5 314.4Z"/>
<path color="#003fa0" d="M599.3 320.9 601.5 320.5 599.3 317.3 597 317.7Z"/>
<path color="#00269b" d="M603.8 323.3 606 322.8 603.8 320 601.5 320.5Z"/>
<path color="#001291" d="M608.3 325 610.5 324.6 608.2 322.4 606 322.8Z"/>
<path color="#00067f" d="M612.8 326.2 615 325.6 612.7 324.1 610.5 324.6Z"/>
<path color="#00006c" d="M617.3 326.8 619.5 326.3 617.2 325.1 615 325.6Z"/>
<path color="#000062" d="M621.8 327.2 624 326.7 621.6 325.7 619.5 326.3Z"/>
<path color="#00001f" d="M630.8 326.6 632.9 326 630.6 326.3 628.4 326.8Z"/>
<path color="#00011f" d="M635.4 325.2 637.5 324.6 635 325.5 632.9 326Z"/>
<path color="#00041f" d="M639.9 323.3 642 322.7 639.5 324 637.5 324.6Z"/>
<path color="#00081f" d="M644.5 321.4 646.6 320.7 644.1 322 642 322.7Z"/>
<path color="#000b1f" d="M649.1 319.8 651.1 319.1 648.6 320.1 646.6 320.7Z"/>
<path color="#aaaf00" d="M554.9 277.4 557.4 277.6 555.2 271.8 552.6 271.5Z"/>
<path color="#32af00" d="M564.5 289.7 567 289.9 564.7 284 562.2 283.8Z"/>
<path color="#00ac3e" d="M573.9 301 576.4 301.1 574.1 295.8 571.7 295.7Z"/>
<path color="#0044a1" d="M597 321.4 599.3 320.9 597 317.7 594.8 318.1Z"/>
<path color="#001693" d="M606.1 325.6 608.3 325 606 322.8 603.8 323.3Z"/>
<path color="#00001f" d="M628.7 327.2 630.8 326.6 628.4 326.8 626.3 327.3Z"/>
<path color="#00051f" d="M637.8 324 639.9 323.3 637.5 324.6 635.4 325.2Z"/>
<path color="#000c1f" d="M647 320.5 649.1 319.8 646.6 320.7 644.5 321.4Z"/>
<path color="#af7900" d="M550 271.2 552.6 271.5 550.4 265.7 547.8 265.3Z"/>
<path color="#6fb000" d="M559.7 283.6 562.2 283.8 560 277.9 557.4 277.6Z"/>
<path color="#00ad08" d="M569.2 295.5 571.7 295.7 569.4 290.1 567 289.9Z"/>
<path color="#00ab72" d="M578.6 306.2 581 306.2 578.8 301.1 576.4 301.1Z"/>
<path color="#00aaa0" d="M583.3 310.9 585.6 310.8 583.4 306.1 581 306.2Z"/>
<path color="#0088a7" d="M587.9 315 590.2 314.7 588 310.6 585.6 310.8Z"/>
<path color="#0063a4" d="M592.4 318.4 594.8 318.1 592.5 314.4 590.2 314.7Z"/>
<path color="#002b9d" d="M601.6 323.8 603.8 323.3 601.5 320.5 599.3 320.9Z"/>
<path color="#000982" d="M610.6 326.7 612.8 326.2 610.5 324.6 608.3 325Z"/>
<path color="#00026e" d="M615.1 327.3 617.3 326.8 615 325.6 612.8 326.2Z"/>
<path color="#000064" d="M619.7 327.8 621.8 327.2 619.5 326.3 617.3 326.8Z"/>
<path color="#00004e" d="M624.2 327.9 626.3 327.3 624 326.7 621.8 327.2Z"/>
<path color="#00021f" d="M633.3 325.8 635.4 325.2 632.9 326 630.8 326.6Z"/>
<path color="#00081f" d="M642.4 322.1 644.5 321.4 642 322.7 639.9 323.3Z"/>
<path color="#000e1f" d="M651.6 319 653.7 318.3 651.1 319.1 649.1 319.8Z"/>
<path color="#b06f00" d="M547.4 270.9 550 271.2 547.8 265.3 545.2 264.8Z"/>
<path color="#b0ab00" d="M552.3 277.2 554.9 277.4 552.6 271.5 550 271.2Z"/>
<path color="#79b000" d="M557.2 283.4 559.7 283.6 557.4 277.6 554.9 277.4Z"/>
<path color="#3db000" d="M562 289.6 564.5 289.7 562.2 283.8 559.7 283.6Z"/>
<path color="#02ae00" d="M566.8 295.4 569.2 295.5 567 289.9 564.5 289.7Z"/>
<path color="#00ad35" d="M571.5 300.9 573.9 301 571.7 295.7 569.2 295.5Z"/>
<path color="#00ac69" d="M576.2 306.2 578.6 306.2 576.4 301.1 573.9 301Z"/>
<path color="#00aa98" d="M580.9 311 583.3 310.9 581 306.2 578.6 306.2Z"/>
<path color="#008fa7" d="M585.5 315.2 587.9 315 585.6 310.8 583.3 310.9Z"/>
<path color="#006aa5" d="M590.1 318.8 592.4 318.4 590.2 314.7 587.9 315Z"/>
<path color="#004aa2" d="M594.7 321.8 597 321.4 594.8 318.1 592.4 318.4Z"/>
<path color="#00309e" d="M599.3 324.3 601.6 323.8 599.3 320.9 597 321.4Z"/>
<path color="#001b94" d="M603.8 326.1 606.1 325.6 603.8 323.3 601.6 323.8Z"/>
<path color="#000d84" d="M608.4 327.2 610.6 326.7 608.3 325 606.1 325.6Z"/>
<path color="#000571" d="M612.9 327.9 615.1 327.3 612.8 326.2 610.6 326.7Z"/>
<path color="#000266" d="M617.5 328.3 619.7 327.8 617.3 326.8 615.1 327.3Z"/>
<path color="#000051" d="M622 328.5 624.2 327.9 621.8 327.2 619.7 327.8Z"/>
<path color="#00011f" d="M626.6 327.8 628.7 327.2 626.3 327.3 624.2 327.9Z"/>
<path color="#00031f" d="M631.1 326.5 633.3 325.8 630.8 326.6 628.7 327.2Z"/>
<path color="#00051f" d="M635.7 324.7 637.8 324 635.4 325.2 633.3 325.8Z"/>
<path color="#00091f" d="M640.3 322.8 642.4 322.1 639.9 323.3 637.8 324Z"/>
<path color="#000c1f" d="M645 321.3 647 320.5 644.5 321.4 642.4 322.1Z"/>
<path color="#000f1f" d="M649.6 319.8 651.6 319 649.1 319.8 647 320.5Z"/>
<path color="#00121f" d="M654.2 318.2 656.2 317.5 653.7 318.3 651.6 319Z"/>
<path color="#b16400" d="M544.8 270.5 547.4 270.9 545.2 264.8 542.5 264.4Z"/>
<path color="#b1a200" d="M549.7 276.9 552.3 277.2 550 271.2 547.4 270.9Z"/>
<path color="#47b100" d="M559.5 289.4 562 289.6 559.7 283.6 557.2 283.4Z"/>
<path color="#00ae2c" d="M569 300.9 571.5 300.9 569.2 295.5 566.8 295.4Z"/>
<path color="#00ab91" d="M578.5 311.1 580.9 311 578.6 306.2 576.2 306.2Z"/>
<path color="#0097a8" d="M583.1 315.4 585.5 315.2 583.3 310.9 580.9 311Z"/>
<path color="#0050a3" d="M592.4 322.2 594.7 321.8 592.4 318.4 590.1 318.8Z"/>
<path color="#001f95" d="M601.6 326.6 603.8 326.1 601.6 323.8 599.3 324.3Z"/>
<path color="#000974" d="M610.7 328.5 612.9 327.9 610.6 326.7 608.4 327.2Z"/>
<path color="#000254" d="M619.8 329 622 328.5 619.7 327.8 617.5 328.3Z"/>
<path color="#00011f" d="M624.4 328.4 626.6 327.8 624.2 327.9 622 328.5Z"/>
<path color="#00061f" d="M633.6 325.4 635.7 324.7 633.3 325.8 631.1 326.5Z"/>
<path color="#000c1f" d="M642.9 322 645 321.3 642.4 322.1 640.3 322.8Z"/>
<path color="#00121f" d="M652.2 319 654.2 318.2 651.6 319 649.6 319.8Z"/>
<path color="#00151f" d="M656.8 317.4 658.9 316.6 656.2 317.5 654.2 318.2Z"/>
<path color="#84b100" d="M554.6 283.2 557.2 283.4 554.9 277.4 552.3 277.2Z"/>
<path color="#0caf00" d="M564.3 295.3 566.8 295.4 564.5 289.7 562 289.6Z"/>
<path color="#00ad61" d="M573.8 306.2 576.2 306.2 573.9 301 571.5 300.9Z"/>
<path color="#0070a5" d="M587.8 319 590.1 318.8 587.9 315 585.5 315.2Z"/>
<path color="#00359f" d="M597 324.8 599.3 324.3 597 321.4 594.7 321.8Z"/>
<path color="#001186" d="M606.1 327.8 608.4 327.2 606.1 325.6 603.8 326.1Z"/>
<path color="#000568" d="M615.3 328.9 617.5 328.3 615.1 327.3 612.9 327.9Z"/>
<path color="#00031f" d="M629 327.2 631.1 326.5 628.7 327.2 626.6 327.8Z"/>
<path color="#00091f" d="M638.2 323.6 640.3 322.8 637.8 324 635.7 324.7Z"/>
<path color="#000f1f" d="M647.5 320.5 649.6 319.8 647 320.5 645 321.3Z"/>
<path color="#b25a00" d="M542.1 270.2 544.8 270.5 542.5 264.4 539.8 263.9Z"/>
<path color="#b29900" d="M547.1 276.7 549.7 276.9 547.4 270.9 544.8 270.5Z"/>
<path color="#51b200" d="M556.9 289.3 559.5 289.4 557.2 283.4 554.6 283.2Z"/>
<path color="#15b000" d="M561.7 295.2 564.3 295.3 562 289.6 559.5 289.4Z"/>
<path color="#00af23" d="M566.5 300.8 569 300.9 566.8 295.4 564.3 295.3Z"/>
<path color="#00ae58" d="M571.3 306.3 573.8 306.2 571.5 300.9 569 300.9Z"/>
<path color="#00ac89" d="M576 311.2 578.5 311.1 576.2 306.2 573.8 306.2Z"/>
<path color="#009fa9" d="M580.7 315.5 583.1 315.4 580.9 311 578.5 311.1Z"/>
<path color="#0056a3" d="M590 322.6 592.4 322.2 590.1 318.8 587.8 319Z"/>
<path color="#002396" d="M599.3 327.1 601.6 326.6 599.3 324.3 597 324.8Z"/>
<path color="#001487" d="M603.9 328.3 606.1 327.8 603.8 326.1 601.6 326.6Z"/>
<path color="#00076a" d="M613 329.5 615.3 328.9 612.9 327.9 610.7 328.5Z"/>
<path color="#00021f" d="M622.2 329.1 624.4 328.4 622 328.5 619.8 329Z"/>
<path color="#00041f" d="M626.8 327.8 629 327.2 626.6 327.8 624.4 328.4Z"/>
<path color="#00071f" d="M631.5 326.1 633.6 325.4 631.1 326.5 629 327.2Z"/>
<path color="#000a1f" d="M636.1 324.3 638.2 323.6 635.7 324.7 633.6 325.4Z"/>
<path color="#000d1f" d="M640.8 322.8 642.9 322 640.3 322.8 638.2 323.6Z"/>
<path color="#00101f" d="M645.4 321.3 647.5 320.5 645 321.3 642.9 322Z"/>
<path color="#00151f" d="M654.8 318.2 656.8 317.4 654.2 318.2 652.2 319Z"/>
<path color="#00181f" d="M659.5 316.6 661.5 315.8 658.9 316.6 656.8 317.4Z"/>
<path color="#8eb200" d="M552 283.1 554.6 283.2 552.3 277.2 549.7 276.9Z"/>
<path color="#0077a5" d="M585.4 319.3 587.8 319 585.5 315.2 583.1 315.4Z"/>
<path color="#003aa0" d="M594.7 325.3 597 324.8 594.7 321.8 592.4 322.2Z"/>
<path color="#000c77" d="M608.4 329 610.7 328.5 608.4 327.2 606.1 327.8Z"/>
<path color="#000558" d="M617.6 329.6 619.8 329 617.5 328.3 615.3 328.9Z"/>
<path color="#00121f" d="M650.1 319.7 652.2 319 649.6 319.8 647.5 320.5Z"/>
<path color="#00b019" d="M564 300.8 566.5 300.8 564.3 295.3 561.7 295.2Z"/>
<path color="#000d1f" d="M638.6 323.6 640.8 322.8 638.2 323.6 636.1 324.3Z"/>
<path color="#b34f00" d="M539.4 269.9 542.1 270.2 539.8 263.9 537.1 263.5Z"/>
<path color="#b38f00" d="M544.4 276.5 547.1 276.7 544.8 270.5 542.1 270.2Z"/>
<path color="#99b300" d="M549.4 282.9 552 283.1 549.7 276.9 547.1 276.7Z"/>
<path color="#5bb300" d="M554.3 289.2 556.9 289.3 554.6 283.2 552 283.1Z"/>
<path color="#1fb100" d="M559.2 295.1 561.7 295.2 559.5 289.4 556.9 289.3Z"/>
<path color="#00af50" d="M568.8 306.3 571.3 306.3 569 300.9 566.5 300.8Z"/>
<path color="#00ad81" d="M573.6 311.3 576 311.2 573.8 306.2 571.3 306.3Z"/>
<path color="#00a8a9" d="M578.3 315.7 580.7 315.5 578.5 311.1 576 311.2Z"/>
<path color="#007fa6" d="M583 319.5 585.4 319.3 583.1 315.4 580.7 315.5Z"/>
<path color="#005ca3" d="M587.7 322.9 590 322.6 587.8 319 585.4 319.3Z"/>
<path color="#003f9f" d="M592.3 325.7 594.7 325.3 592.4 322.2 590 322.6Z"/>
<path color="#002896" d="M597 327.6 599.3 327.1 597 324.8 594.7 325.3Z"/>
<path color="#001888" d="M601.6 328.9 603.9 328.3 601.6 326.6 599.3 327.1Z"/>
<path color="#000f79" d="M606.2 329.6 608.4 329 606.1 327.8 603.9 328.3Z"/>
<path color="#000a6c" d="M610.8 330.1 613 329.5 610.7 328.5 608.4 329Z"/>
<path color="#00075b" d="M615.4 330.2 617.6 329.6 615.3 328.9 613 329.5Z"/>
<path color="#000321" d="M620 329.7 622.2 329.1 619.8 329 617.6 329.6Z"/>
<path color="#00041f" d="M624.6 328.6 626.8 327.8 624.4 328.4 622.2 329.1Z"/>
<path color="#00071f" d="M629.3 326.9 631.5 326.1 629 327.2 626.8 327.8Z"/>
<path color="#000a1f" d="M634 325.1 636.1 324.3 633.6 325.4 631.5 326.1Z"/>
<path color="#00101f" d="M643.3 322.1 645.4 321.3 642.9 322 640.8 322.8Z"/>
<path color="#00131f" d="M648 320.5 650.1 319.7 647.5 320.5 645.4 321.3Z"/>
<path color="#00151f" d="M652.7 318.9 654.8 318.2 652.2 319 650.1 319.7Z"/>
<path color="#00181f" d="M657.4 317.3 659.5 316.6 656.8 317.4 654.8 318.2Z"/>
<path color="#001b1f" d="M662.1 315.8 664.2 315 661.5 315.8 659.5 316.6Z"/>
<path color="#b44500" d="M536.7 269.6 539.4 269.9 537.1 263.5 534.4 263Z"/>
<path color="#b48600" d="M541.7 276.3 544.4 276.5 542.1 270.2 539.4 269.9Z"/>
<path color="#65b300" d="M551.7 289.1 554.3 289.2 552 283.1 549.4 282.9Z"/>
<path color="#00b111" d="M561.5 300.8 564 300.8 561.7 295.2 559.2 295.1Z"/>
<path color="#00b047" d="M566.3 306.3 568.8 306.3 566.5 300.8 564 300.8Z"/>
<path color="#00ae7a" d="M571.1 311.4 573.6 311.3 571.3 306.3 568.8 306.3Z"/>
<path color="#00aba4" d="M575.9 315.8 578.3 315.7 576 311.2 573.6 311.3Z"/>
<path color="#0063a4" d="M585.3 323.1 587.7 322.9 585.4 319.3 583 319.5Z"/>
<path color="#002c95" d="M594.6 328 597 327.6 594.7 325.3 592.3 325.7Z"/>
<path color="#000d6d" d="M608.5 330.7 610.8 330.1 608.4 329 606.2 329.6Z"/>
<path color="#000427" d="M617.8 330.4 620 329.7 617.6 329.6 615.4 330.2Z"/>
<path color="#00081f" d="M627.1 327.7 629.3 326.9 626.8 327.8 624.6 328.6Z"/>
<path color="#000b1f" d="M631.8 325.9 634 325.1 631.5 326.1 629.3 326.9Z"/>
<path color="#000e1f" d="M636.5 324.4 638.6 323.6 636.1 324.3 634 325.1Z"/>
<path color="#00101f" d="M641.2 322.9 643.3 322.1 640.8 322.8 638.6 323.6Z"/>
<path color="#00161f" d="M650.6 319.7 652.7 318.9 650.1 319.7 648 320.5Z"/>
<path color="#001b1f" d="M660.1 316.5 662.1 315.8 659.5 316.6 657.4 317.3Z"/>
<path color="#001e1f" d="M664.8 314.9 666.9 314.2 664.2 315 662.1 315.8Z"/>
<path color="#a3b400" d="M546.7 282.7 549.4 282.9 547.1 276.7 544.4 276.5Z"/>
<path color="#28b200" d="M556.6 295.1 559.2 295.1 556.9 289.3 554.3 289.2Z"/>
<path color="#00459f" d="M590 326 592.3 325.7 590 322.6 587.7 322.9Z"/>
<path color="#001c89" d="M599.3 329.4 601.6 328.9 599.3 327.1 597 327.6Z"/>
<path color="#00127a" d="M603.9 330.2 606.2 329.6 603.9 328.3 601.6 328.9Z"/>
<path color="#00095e" d="M613.2 330.9 615.4 330.2 613 329.5 610.8 330.1Z"/>
<path color="#00131f" d="M645.9 321.3 648 320.5 645.4 321.3 643.3 322.1Z"/>
<path color="#00191f" d="M655.3 318.1 657.4 317.3 654.8 318.2 652.7 318.9Z"/>
<path color="#0087a7" d="M580.6 319.7 583 319.5 580.7 315.5 578.3 315.7Z"/>
<path color="#00051f" d="M622.4 329.3 624.6 328.6 622.2 329.1 620 329.7Z"/>
<path color="#b57c00" d="M539 276.1 541.7 276.3 539.4 269.9 536.7 269.6Z"/>
<path color="#6fb400" d="M549 289 551.7 289.1 549.4 282.9 546.7 282.7Z"/>
<path color="#00b208" d="M558.9 300.8 561.5 300.8 559.2 295.1 556.6 295.1Z"/>
<path color="#003194" d="M592.3 328.4 594.6 328 592.3 325.7 590 326Z"/>
<path color="#000c61" d="M610.9 331.5 613.2 330.9 610.8 330.1 608.5 330.7Z"/>
<path color="#00131f" d="M643.7 322.1 645.9 321.3 643.3 322.1 641.2 322.9Z"/>
<path color="#00191f" d="M653.2 318.9 655.3 318.1 652.7 318.9 650.6 319.7Z"/>
<path color="#001f1f" d="M662.8 315.7 664.8 314.9 662.1 315.8 660.1 316.5Z"/>
<path color="#aeb500" d="M544.1 282.6 546.7 282.7 544.4 276.5 541.7 276.3Z"/>
<path color="#32b300" d="M554 295 556.6 295.1 554.3 289.2 551.7 289.1Z"/>
<path color="#00b23f" d="M563.8 306.5 566.3 306.3 564 300.8 561.5 300.8Z"/>
<path color="#00b072" d="M568.6 311.6 571.1 311.4 568.8 306.3 566.3 306.3Z"/>
<path color="#00ac9d" d="M573.4 316 575.9 315.8 573.6 311.3 571.1 311.4Z"/>
<path color="#008fa8" d="M578.1 319.9 580.6 319.7 578.3 315.7 575.9 315.8Z"/>
<path color="#006ba5" d="M582.9 323.4 585.3 323.1 583 319.5 580.6 319.7Z"/>
<path color="#004ba0" d="M587.6 326.3 590 326 587.7 322.9 585.3 323.1Z"/>
<path color="#002087" d="M596.9 329.9 599.3 329.4 597 327.6 594.6 328Z"/>
<path color="#00157a" d="M601.6 330.8 603.9 330.2 601.6 328.9 599.3 329.4Z"/>
<path color="#000f6e" d="M606.2 331.3 608.5 330.7 606.2 329.6 603.9 330.2Z"/>
<path color="#00062d" d="M615.5 331.1 617.8 330.4 615.4 330.2 613.2 330.9Z"/>
<path color="#00061f" d="M620.2 330 622.4 329.3 620 329.7 617.8 330.4Z"/>
<path color="#00081f" d="M624.9 328.5 627.1 327.7 624.6 328.6 622.4 329.3Z"/>
<path color="#000b1f" d="M629.6 326.7 631.8 325.9 629.3 326.9 627.1 327.7Z"/>
<path color="#000e1f" d="M634.3 325.2 636.5 324.4 634 325.1 631.8 325.9Z"/>
<path color="#00111f" d="M639 323.7 641.2 322.9 638.6 323.6 636.5 324.4Z"/>
<path color="#00161f" d="M648.5 320.6 650.6 319.7 648 320.5 645.9 321.3Z"/>
<path color="#001c1f" d="M658 317.3 660.1 316.5 657.4 317.3 655.3 318.1Z"/>
<path color="#79b500" d="M546.4 288.9 549 289 546.7 282.7 544.1 282.6Z"/>
<path color="#01b300" d="M556.3 300.9 558.9 300.8 556.6 295.1 554 295Z"/>
<path color="#00ad97" d="M570.9 316.3 573.4 316 571.1 311.4 568.6 311.6Z"/>
<path color="#0073a6" d="M580.4 323.7 582.9 323.4 580.6 319.7 578.1 319.9Z"/>
<path color="#003794" d="M589.9 328.7 592.3 328.4 590 326 587.6 326.3Z"/>
<path color="#000834" d="M613.3 331.8 615.5 331.1 613.2 330.9 610.9 331.5Z"/>
<path color="#00081f" d="M622.7 329.3 624.9 328.5 622.4 329.3 620.2 330Z"/>
<path color="#000e1f" d="M632.1 326 634.3 325.2 631.8 325.9 629.6 326.7Z"/>
<path color="#00161f" d="M646.3 321.4 648.5 320.6 645.9 321.3 643.7 322.1Z"/>
<path color="#001c1f" d="M655.9 318.1 658 317.3 655.3 318.1 653.2 318.9Z"/>
<path color="#b6b300" d="M541.4 282.5 544.1 282.6 541.7 276.3 539 276.1Z"/>
<path color="#3bb400" d="M551.4 295 554 295 551.7 289.1 549 289Z"/>
<path color="#00b337" d="M561.2 306.6 563.8 306.5 561.5 300.8 558.9 300.8Z"/>
<path color="#00b16b" d="M566.1 311.8 568.6 311.6 566.3 306.3 563.8 306.5Z"/>
<path color="#002486" d="M594.6 330.2 596.9 329.9 594.6 328 592.3 328.4Z"/>
<path color="#001878" d="M599.2 331.3 601.6 330.8 599.3 329.4 596.9 329.9Z"/>
<path color="#00126d" d="M603.9 331.9 606.2 331.3 603.9 330.2 601.6 330.8Z"/>
<path color="#000e62" d="M608.6 332.1 610.9 331.5 608.5 330.7 606.2 331.3Z"/>
<path color="#00111f" d="M636.8 324.6 639 323.7 636.5 324.4 634.3 325.2Z"/>
<path color="#00141f" d="M641.6 323 643.7 322.1 641.2 322.9 639 323.7Z"/>
<path color="#00191f" d="M651.1 319.8 653.2 318.9 650.6 319.7 648.5 320.6Z"/>
<path color="#001f1e" d="M660.7 316.5 662.8 315.7 660.1 316.5 658 317.3Z"/>
<path color="#0098aa" d="M575.7 320.2 578.1 319.9 575.9 315.8 573.4 316Z"/>
<path color="#0052a1" d="M585.2 326.6 587.6 326.3 585.3 323.1 582.9 323.4Z"/>
<path color="#00061f" d="M618 330.8 620.2 330 617.8 330.4 615.5 331.1Z"/>
<path color="#000b1f" d="M627.4 327.6 629.6 326.7 627.1 327.7 624.9 328.5Z"/>
<path color="#83b600" d="M543.7 288.8 546.4 288.9 544.1 282.6 541.4 282.5Z"/>
<path color="#0ab400" d="M553.7 300.9 556.3 300.9 554 295 551.4 295Z"/>
<path color="#00191f" d="M649 320.6 651.1 319.8 648.5 320.6 646.3 321.4Z"/>
<path color="#001f1e" d="M658.6 317.3 660.7 316.5 658 317.3 655.9 318.1Z"/>
<path color="#45b500" d="M548.7 295 551.4 295 549 289 546.4 288.9Z"/>
<path color="#00b42f" d="M558.6 306.7 561.2 306.6 558.9 300.8 556.3 300.9Z"/>
<path color="#00b365" d="M563.5 312.1 566.1 311.8 563.8 306.5 561.2 306.6Z"/>
<path color="#00af91" d="M568.4 316.6 570.9 316.3 568.6 311.6 566.1 311.8Z"/>
<path color="#00a0ab" d="M573.2 320.5 575.7 320.2 573.4 316 570.9 316.3Z"/>
<path color="#007ba8" d="M578 324 580.4 323.7 578.1 319.9 575.7 320.2Z"/>
<path color="#0059a2" d="M582.7 327 585.2 326.6 582.9 323.4 580.4 323.7Z"/>
<path color="#003d94" d="M587.5 329 589.9 328.7 587.6 326.3 585.2 326.6Z"/>
<path color="#002986" d="M592.2 330.6 594.6 330.2 592.3 328.4 589.9 328.7Z"/>
<path color="#001c76" d="M596.9 331.7 599.2 331.3 596.9 329.9 594.6 330.2Z"/>
<path color="#001468" d="M601.6 332.3 603.9 331.9 601.6 330.8 599.2 331.3Z"/>
<path color="#001161" d="M606.3 332.7 608.6 332.1 606.2 331.3 603.9 331.9Z"/>
<path color="#000a39" d="M611 332.5 613.3 331.8 610.9 331.5 608.6 332.1Z"/>
<path color="#00071f" d="M615.7 331.6 618 330.8 615.5 331.1 613.3 331.8Z"/>
<path color="#00091f" d="M620.4 330.1 622.7 329.3 620.2 330 618 330.8Z"/>
<path color="#000c1f" d="M625.1 328.4 627.4 327.6 624.9 328.5 622.7 329.3Z"/>
<path color="#000f1f" d="M629.9 326.9 632.1 326 629.6 326.7 627.4 327.6Z"/>
<path color="#00111f" d="M634.6 325.4 636.8 324.6 634.3 325.2 632.1 326Z"/>
<path color="#00141f" d="M639.4 323.9 641.6 323 639 323.7 636.8 324.6Z"/>
<path color="#00171f" d="M644.2 322.3 646.3 321.4 643.7 322.1 641.6 323Z"/>
<path color="#001c1f" d="M653.8 319 655.9 318.1 653.2 318.9 651.1 319.8Z"/>
<path color="#12b500" d="M551 301 553.7 300.9 551.4 295 548.7 295Z"/>
<path color="#0082aa" d="M575.5 324.4 578 324 575.7 320.2 573.2 320.5Z"/>
<path color="#004395" d="M585 329.4 587.5 329 585.2 326.6 582.7 327Z"/>
<path color="#00091f" d="M618.1 330.9 620.4 330.1 618 330.8 615.7 331.6Z"/>
<path color="#000f1f" d="M627.6 327.8 629.9 326.9 627.4 327.6 625.1 328.4Z"/>
<path color="#001d1f" d="M651.6 319.8 653.8 319 651.1 319.8 649 320.6Z"/>
<path color="#4eb600" d="M546 295 548.7 295 546.4 288.9 543.7 288.8Z"/>
<path color="#00b528" d="M556 306.9 558.6 306.7 556.3 300.9 553.7 300.9Z"/>
<path color="#00b45e" d="M560.9 312.3 563.5 312.1 561.2 306.6 558.6 306.7Z"/>
<path color="#00b08c" d="M565.8 316.9 568.4 316.6 566.1 311.8 563.5 312.1Z"/>
<path color="#002075" d="M594.5 332 596.9 331.7 594.6 330.2 592.2 330.6Z"/>
<path color="#001764" d="M599.2 332.7 601.6 332.3 599.2 331.3 596.9 331.7Z"/>
<path color="#00125c" d="M603.9 333.2 606.3 332.7 603.9 331.9 601.6 332.3Z"/>
<path color="#000c3b" d="M608.7 333.1 611 332.5 608.6 332.1 606.3 332.7Z"/>
<path color="#00141f" d="M637.2 324.8 639.4 323.9 636.8 324.6 634.6 325.4Z"/>
<path color="#00171f" d="M642 323.2 644.2 322.3 641.6 323 639.4 323.9Z"/>
<path color="#001a1f" d="M646.8 321.5 649 320.6 646.3 321.4 644.2 322.3Z"/>
<path color="#001f1e" d="M656.5 318.1 658.6 317.3 655.9 318.1 653.8 319Z"/>
<path color="#00a9ad" d="M570.7 320.9 573.2 320.5 570.9 316.3 568.4 316.6Z"/>
<path color="#0060a3" d="M580.3 327.3 582.7 327 580.4 323.7 578 324Z"/>
<path color="#002f86" d="M589.8 330.9 592.2 330.6 589.9 328.7 587.5 329Z"/>
<path color="#00071f" d="M613.4 332.3 615.7 331.6 613.3 331.8 611 332.5Z"/>
<path color="#000c1f" d="M622.9 329.3 625.1 328.4 622.7 329.3 620.4 330.1Z"/>
<path color="#00111f" d="M632.4 326.3 634.6 325.4 632.1 326 629.9 326.9Z"/>
<path color="#1bb600" d="M548.4 301.1 551 301 548.7 295 546 295Z"/>
<path color="#001f1d" d="M654.4 319 656.5 318.1 653.8 319 651.6 319.8Z"/>
<path color="#00b620" d="M553.4 307.1 556 306.9 553.7 300.9 551 301Z"/>
<path color="#00b557" d="M558.3 312.6 560.9 312.3 558.6 306.7 556 306.9Z"/>
<path color="#00b286" d="M563.2 317.2 565.8 316.9 563.5 312.1 560.9 312.3Z"/>
<path color="#008aac" d="M573 324.9 575.5 324.4 573.2 320.5 570.7 320.9Z"/>
<path color="#0067a6" d="M577.8 327.8 580.3 327.3 578 324 575.5 324.4Z"/>
<path color="#004997" d="M582.6 329.8 585 329.4 582.7 327 580.3 327.3Z"/>
<path color="#003588" d="M587.3 331.3 589.8 330.9 587.5 329 585 329.4Z"/>
<path color="#002576" d="M592.1 332.4 594.5 332 592.2 330.6 589.8 330.9Z"/>
<path color="#001a62" d="M596.8 333.1 599.2 332.7 596.9 331.7 594.5 332Z"/>
<path color="#001458" d="M601.6 333.7 603.9 333.2 601.6 332.3 599.2 332.7Z"/>
<path color="#000c36" d="M606.3 333.7 608.7 333.1 606.3 332.7 603.9 333.2Z"/>
<path color="#00081f" d="M611.1 333.1 613.4 332.3 611 332.5 608.7 333.1Z"/>
<path color="#000a1f" d="M615.8 331.8 618.1 330.9 615.7 331.6 613.4 332.3Z"/>
<path color="#000c1f" d="M620.6 330.2 622.9 329.3 620.4 330.1 618.1 330.9Z"/>
<path color="#000f1f" d="M625.4 328.7 627.6 327.8 625.1 328.4 622.9 329.3Z"/>
<path color="#00121f" d="M630.2 327.3 632.4 326.3 629.9 326.9 627.6 327.8Z"/>
<path color="#00171f" d="M639.8 324.1 642 323.2 639.4 323.9 637.2 324.8Z"/>
<path color="#001a1f" d="M644.6 322.4 646.8 321.5 644.2 322.3 642 323.2Z"/>
<path color="#001d1f" d="M649.5 320.7 651.6 319.8 649 320.6 646.8 321.5Z"/>
<path color="#00afad" d="M568.1 321.3 570.7 320.9 568.4 316.6 565.8 316.9Z"/>
<path color="#00141f" d="M635 325.7 637.2 324.8 634.6 325.4 632.4 326.3Z"/>
<path color="#005099" d="M580.1 330.2 582.6 329.8 580.3 327.3 577.8 327.8Z"/>
<path color="#000f1f" d="M623.1 329.6 625.4 328.7 622.9 329.3 620.6 330.2Z"/>
<path color="#00b718" d="M550.7 307.3 553.4 307.1 551 301 548.4 301.1Z"/>
<path color="#00b650" d="M555.7 312.9 558.3 312.6 556 306.9 553.4 307.1Z"/>
<path color="#00b380" d="M560.7 317.6 563.2 317.2 560.9 312.3 558.3 312.6Z"/>
<path color="#0091ae" d="M570.4 325.4 573 324.9 570.7 320.9 568.1 321.3Z"/>
<path color="#001755" d="M599.2 334 601.6 333.7 599.2 332.7 596.8 333.1Z"/>
<path color="#000d34" d="M604 334.2 606.3 333.7 603.9 333.2 601.6 333.7Z"/>
<path color="#00141f" d="M632.8 326.6 635 325.7 632.4 326.3 630.2 327.3Z"/>
<path color="#001a1f" d="M642.4 323.3 644.6 322.4 642 323.2 639.8 324.1Z"/>
<path color="#001d1f" d="M647.3 321.6 649.5 320.7 646.8 321.5 644.6 322.4Z"/>
<path color="#001f1d" d="M652.2 319.9 654.4 319 651.6 319.8 649.5 320.7Z"/>
<path color="#00b0a8" d="M565.6 321.7 568.1 321.3 565.8 316.9 563.2 317.2Z"/>
<path color="#006ea8" d="M575.3 328.3 577.8 327.8 575.5 324.4 573 324.9Z"/>
<path color="#003b8b" d="M584.9 331.7 587.3 331.3 585 329.4 582.6 329.8Z"/>
<path color="#002b78" d="M589.7 332.8 592.1 332.4 589.8 330.9 587.3 331.3Z"/>
<path color="#001e62" d="M594.4 333.5 596.8 333.1 594.5 332 592.1 332.4Z"/>
<path color="#00081f" d="M608.7 333.7 611.1 333.1 608.7 333.1 606.3 333.7Z"/>
<path color="#000a1f" d="M613.5 332.6 615.8 331.8 613.4 332.3 611.1 333.1Z"/>
<path color="#000d1f" d="M618.3 331.1 620.6 330.2 618.1 330.9 615.8 331.8Z"/>
<path color="#00121f" d="M627.9 328.2 630.2 327.3 627.6 327.8 625.4 328.7Z"/>
<path color="#00171f" d="M637.6 325 639.8 324.1 637.2 324.8 635 325.7Z"/>
<path color="#00b74a" d="M553 313.2 555.7 312.9 553.4 307.1 550.7 307.3Z"/>
<path color="#00b47b" d="M558 318 560.7 317.6 558.3 312.6 555.7 312.9Z"/>
<path color="#0097af" d="M567.9 325.9 570.4 325.4 568.1 321.3 565.6 321.7Z"/>
<path color="#00569c" d="M577.6 330.8 580.1 330.2 577.8 327.8 575.3 328.3Z"/>
<path color="#00418e" d="M582.4 332.2 584.9 331.7 582.6 329.8 580.1 330.2Z"/>
<path color="#00307c" d="M587.2 333.2 589.7 332.8 587.3 331.3 584.9 331.7Z"/>
<path color="#002263" d="M592 333.9 594.4 333.5 592.1 332.4 589.7 332.8Z"/>
<path color="#001a56" d="M596.8 334.4 599.2 334 596.8 333.1 594.4 333.5Z"/>
<path color="#000f34" d="M601.6 334.6 604 334.2 601.6 333.7 599.2 334Z"/>
<path color="#00091f" d="M606.4 334.2 608.7 333.7 606.3 333.7 604 334.2Z"/>
<path color="#000b1f" d="M611.2 333.2 613.5 332.6 611.1 333.1 608.7 333.7Z"/>
<path color="#000d1f" d="M616 331.9 618.3 331.1 615.8 331.8 613.5 332.6Z"/>
<path color="#00101f" d="M620.8 330.6 623.1 329.6 620.6 330.2 618.3 331.1Z"/>
<path color="#00121f" d="M625.6 329.2 627.9 328.2 625.4 328.7 623.1 329.6Z"/>
<path color="#00171f" d="M635.4 326 637.6 325 635 325.7 632.8 326.6Z"/>
<path color="#001d1f" d="M645.1 322.5 647.3 321.6 644.6 322.4 642.4 323.3Z"/>
<path color="#001f1d" d="M650 320.8 652.2 319.9 649.5 320.7 647.3 321.6Z"/>
<path color="#00b1a3" d="M563 322.2 565.6 321.7 563.2 317.2 560.7 317.6Z"/>
<path color="#0074aa" d="M572.7 328.8 575.3 328.3 573 324.9 570.4 325.4Z"/>
<path color="#00151f" d="M630.5 327.6 632.8 326.6 630.2 327.3 627.9 328.2Z"/>
<path color="#001a1f" d="M640.2 324.3 642.4 323.3 639.8 324.1 637.6 325Z"/>
<path color="#00b576" d="M555.4 318.5 558 318 555.7 312.9 553 313.2Z"/>
<path color="#009eb0" d="M565.3 326.5 567.9 325.9 565.6 321.7 563 322.2Z"/>
<path color="#005c9e" d="M575 331.4 577.6 330.8 575.3 328.3 572.7 328.8Z"/>
<path color="#00151f" d="M628.2 328.6 630.5 327.6 627.9 328.2 625.6 329.2Z"/>
<path color="#001a1f" d="M638 325.3 640.2 324.3 637.6 325 635.4 326Z"/>
<path color="#001f1d" d="M647.8 321.7 650 320.8 647.3 321.6 645.1 322.5Z"/>
<path color="#00b29f" d="M560.3 322.7 563 322.2 560.7 317.6 558 318Z"/>
<path color="#007aab" d="M570.2 329.4 572.7 328.8 570.4 325.4 567.9 325.9Z"/>
<path color="#004892" d="M579.9 332.7 582.4 332.2 580.1 330.2 577.6 330.8Z"/>
<path color="#003781" d="M584.7 333.7 587.2 333.2 584.9 331.7 582.4 332.2Z"/>
<path color="#002767" d="M589.5 334.3 592 333.9 589.7 332.8 587.2 333.2Z"/>
<path color="#001f58" d="M594.4 334.8 596.8 334.4 594.4 333.5 592 333.9Z"/>
<path color="#001238" d="M599.2 335 601.6 334.6 599.2 334 596.8 334.4Z"/>
<path color="#000a1f" d="M604 334.7 606.4 334.2 604 334.2 601.6 334.6Z"/>
<path color="#000c1f" d="M608.8 333.8 611.2 333.2 608.7 333.7 606.4 334.2Z"/>
<path color="#000e1f" d="M613.7 332.6 616 331.9 613.5 332.6 611.2 333.2Z"/>
<path color="#00101f" d="M618.5 331.4 620.8 330.6 618.3 331.1 616 331.9Z"/>
<path color="#00121f" d="M623.3 330.1 625.6 329.2 623.1 329.6 620.8 330.6Z"/>
<path color="#00181f" d="M633.1 327 635.4 326 632.8 326.6 630.5 327.6Z"/>
<path color="#001d1f" d="M642.9 323.5 645.1 322.5 642.4 323.3 640.2 324.3Z"/>
<path color="#00a4b2" d="M562.7 327 565.3 326.5 563 322.2 560.3 322.7Z"/>
<path color="#0061a0" d="M572.5 332 575 331.4 572.7 328.8 570.2 329.4Z"/>
<path color="#002d6d" d="M587.1 334.8 589.5 334.3 587.2 333.2 584.7 333.7Z"/>
<path color="#00245e" d="M591.9 335.2 594.4 334.8 592 333.9 589.5 334.3Z"/>
<path color="#00173f" d="M596.7 335.4 599.2 335 596.8 334.4 594.4 334.8Z"/>
<path color="#000c1f" d="M606.4 334.3 608.8 333.8 606.4 334.2 604 334.7Z"/>
<path color="#000e1f" d="M611.3 333.3 613.7 332.6 611.2 333.2 608.8 333.8Z"/>
<path color="#00101f" d="M616.1 332.2 618.5 331.4 616 331.9 613.7 332.6Z"/>
<path color="#00181f" d="M630.8 328 633.1 327 630.5 327.6 628.2 328.6Z"/>
<path color="#001d1f" d="M640.7 324.5 642.9 323.5 640.2 324.3 638 325.3Z"/>
<path color="#00b49b" d="M557.7 323.2 560.3 322.7 558 318 555.4 318.5Z"/>
<path color="#007fac" d="M567.6 330.1 570.2 329.4 567.9 325.9 565.3 326.5Z"/>
<path color="#004d96" d="M577.4 333.4 579.9 332.7 577.6 330.8 575 331.4Z"/>
<path color="#003d87" d="M582.2 334.3 584.7 333.7 582.4 332.2 579.9 332.7Z"/>
<path color="#000b1f" d="M601.6 335.2 604 334.7 601.6 334.6 599.2 335Z"/>
<path color="#00131f" d="M621 331 623.3 330.1 620.8 330.6 618.5 331.4Z"/>
<path color="#00151f" d="M625.9 329.6 628.2 328.6 625.6 329.2 623.3 330.1Z"/>
<path color="#001a1f" d="M635.7 326.3 638 325.3 635.4 326 633.1 327Z"/>
<path color="#001f1d" d="M645.6 322.7 647.8 321.7 645.1 322.5 642.9 323.5Z"/>
<path color="#00aab3" d="M560 327.7 562.7 327 560.3 322.7 557.7 323.2Z"/>
<path color="#0066a1" d="M569.9 332.6 572.5 332 570.2 329.4 567.6 330.1Z"/>
<path color="#001b1f" d="M633.4 327.3 635.7 326.3 633.1 327 630.8 328Z"/>
<path color="#001f1d" d="M643.4 323.6 645.6 322.7 642.9 323.5 640.7 324.5Z"/>
<path color="#0085ae" d="M565 330.7 567.6 330.1 565.3 326.5 562.7 327Z"/>
<path color="#005298" d="M574.8 334.1 577.4 333.4 575 331.4 572.5 332Z"/>
<path color="#00428b" d="M579.7 335 582.2 334.3 579.9 332.7 577.4 333.4Z"/>
<path color="#003374" d="M584.5 335.4 587.1 334.8 584.7 333.7 582.2 334.3Z"/>
<path color="#002a65" d="M589.4 335.8 591.9 335.2 589.5 334.3 587.1 334.8Z"/>
<path color="#001d49" d="M594.3 335.9 596.7 335.4 594.4 334.8 591.9 335.2Z"/>
<path color="#000d1f" d="M599.1 335.7 601.6 335.2 599.2 335 596.7 335.4Z"/>
<path color="#000d1f" d="M604 334.9 606.4 334.3 604 334.7 601.6 335.2Z"/>
<path color="#000f1f" d="M608.9 333.8 611.3 333.3 608.8 333.8 606.4 334.3Z"/>
<path color="#00111f" d="M613.8 332.8 616.1 332.2 613.7 332.6 611.3 333.3Z"/>
<path color="#00131f" d="M618.7 331.8 621 331 618.5 331.4 616.1 332.2Z"/>
<path color="#00151f" d="M623.6 330.5 625.9 329.6 623.3 330.1 621 331Z"/>
<path color="#00181f" d="M628.5 329 630.8 328 628.2 328.6 625.9 329.6Z"/>
<path color="#001e1f" d="M638.4 325.5 640.7 324.5 638 325.3 635.7 326.3Z"/>
<path color="#006ba3" d="M567.3 333.3 569.9 332.6 567.6 330.1 565 330.7Z"/>
<path color="#002555" d="M591.8 336.5 594.3 335.9 591.9 335.2 589.4 335.8Z"/>
<path color="#00121f" d="M611.4 333.4 613.8 332.8 611.3 333.3 608.9 333.8Z"/>
<path color="#001e1f" d="M636.1 326.5 638.4 325.5 635.7 326.3 633.4 327.3Z"/>
<path color="#008aaf" d="M562.4 331.4 565 330.7 562.7 327 560 327.7Z"/>
<path color="#00579a" d="M572.2 334.8 574.8 334.1 572.5 332 569.9 332.6Z"/>
<path color="#00478d" d="M577.1 335.7 579.7 335 577.4 333.4 574.8 334.1Z"/>
<path color="#003879" d="M582 336.1 584.5 335.4 582.2 334.3 579.7 335Z"/>
<path color="#00316e" d="M586.9 336.4 589.4 335.8 587.1 334.8 584.5 335.4Z"/>
<path color="#001127" d="M596.7 336.2 599.1 335.7 596.7 335.4 594.3 335.9Z"/>
<path color="#000e1f" d="M601.6 335.4 604 334.9 601.6 335.2 599.1 335.7Z"/>
<path color="#00101f" d="M606.5 334.4 608.9 333.8 606.4 334.3 604 334.9Z"/>
<path color="#00141f" d="M616.3 332.4 618.7 331.8 616.1 332.2 613.8 332.8Z"/>
<path color="#00161f" d="M621.2 331.3 623.6 330.5 621 331 618.7 331.8Z"/>
<path color="#00181f" d="M626.2 329.9 628.5 329 625.9 329.6 623.6 330.5Z"/>
<path color="#001b1f" d="M631.1 328.3 633.4 327.3 630.8 328 628.5 329Z"/>
<path color="#001f1d" d="M641.1 324.7 643.4 323.6 640.7 324.5 638.4 325.5Z"/>
<path color="#006fa5" d="M564.7 334.1 567.3 333.3 565 330.7 562.4 331.4Z"/>
<path color="#001f1c" d="M638.8 325.7 641.1 324.7 638.4 325.5 636.1 326.5Z"/>
<path color="#005b9c" d="M569.6 335.5 572.2 334.8 569.9 332.6 567.3 333.3Z"/>
<path color="#004b90" d="M574.5 336.5 577.1 335.7 574.8 334.1 572.2 334.8Z"/>
<path color="#003c7b" d="M579.5 336.9 582 336.1 579.7 335 577.1 335.7Z"/>
<path color="#003774" d="M584.4 337.2 586.9 336.4 584.5 335.4 582 336.1Z"/>
<path color="#002e63" d="M589.3 337.2 591.8 336.5 589.4 335.8 586.9 336.4Z"/>
<path color="#001a37" d="M594.2 336.9 596.7 336.2 594.3 335.9 591.8 336.5Z"/>
<path color="#000f1f" d="M599.1 336 601.6 335.4 599.1 335.7 596.7 336.2Z"/>
<path color="#00111f" d="M604 335 606.5 334.4 604 334.9 601.6 335.4Z"/>
<path color="#00131f" d="M609 333.9 611.4 333.4 608.9 333.8 606.5 334.4Z"/>
<path color="#00141f" d="M613.9 333 616.3 332.4 613.8 332.8 611.4 333.4Z"/>
<path color="#00161f" d="M618.9 331.9 621.2 331.3 618.7 331.8 616.3 332.4Z"/>
<path color="#00181f" d="M623.8 330.7 626.2 329.9 623.6 330.5 621.2 331.3Z"/>
<path color="#001b1f" d="M628.8 329.2 631.1 328.3 628.5 329 626.2 329.9Z"/>
<path color="#001e1f" d="M633.8 327.5 636.1 326.5 633.4 327.3 631.1 328.3Z"/>
<path color="#00609e" d="M567 336.3 569.6 335.5 567.3 333.3 564.7 334.1Z"/>
<path color="#005093" d="M571.9 337.2 574.5 336.5 572.2 334.8 569.6 335.5Z"/>
<path color="#00407e" d="M576.9 337.6 579.5 336.9 577.1 335.7 574.5 336.5Z"/>
<path color="#003b78" d="M581.8 337.9 584.4 337.2 582 336.1 579.5 336.9Z"/>
<path color="#00356d" d="M586.8 338 589.3 337.2 586.9 336.4 584.4 337.2Z"/>
<path color="#00101f" d="M596.6 336.7 599.1 336 596.7 336.2 594.2 336.9Z"/>
<path color="#00121f" d="M601.6 335.6 604 335 601.6 335.4 599.1 336Z"/>
<path color="#00141f" d="M606.5 334.5 609 333.9 606.5 334.4 604 335Z"/>
<path color="#00171f" d="M616.5 332.5 618.9 331.9 616.3 332.4 613.9 333Z"/>
<path color="#00191f" d="M621.5 331.4 623.8 330.7 621.2 331.3 618.9 331.9Z"/>
<path color="#001b1f" d="M626.5 330 628.8 329.2 626.2 329.9 623.8 330.7Z"/>
<path color="#001e1f" d="M631.5 328.5 633.8 327.5 631.1 328.3 628.8 329.2Z"/>
<path color="#001f1c" d="M636.5 326.7 638.8 325.7 636.1 326.5 633.8 327.5Z"/>
<path color="#00254b" d="M591.7 337.7 594.2 336.9 591.8 336.5 589.3 337.2Z"/>
<path color="#00151f" d="M611.5 333.6 613.9 333 611.4 333.4 609 333.9Z"/>
<path color="#003f7c" d="M579.2 338.7 581.8 337.9 579.5 336.9 576.9 337.6Z"/>
<path color="#003a74" d="M584.2 338.9 586.8 338 584.4 337.2 581.8 337.9Z"/>
<path color="#00121f" d="M599.1 336.4 601.6 335.6 599.1 336 596.6 336.7Z"/>
<path color="#00141f" d="M604.1 335.2 606.5 334.5 604 335 601.6 335.6Z"/>
<path color="#001a1f" d="M619.1 332 621.5 331.4 618.9 331.9 616.5 332.5Z"/>
<path color="#001c1f" d="M624.1 330.7 626.5 330 623.8 330.7 621.5 331.4Z"/>
<path color="#005496" d="M569.3 338.1 571.9 337.2 569.6 335.5 567 336.3Z"/>
<path color="#004482" d="M574.3 338.5 576.9 337.6 574.5 336.5 571.9 337.2Z"/>
<path color="#002d59" d="M589.2 338.6 591.7 337.7 589.3 337.2 586.8 338Z"/>
<path color="#001221" d="M594.1 337.6 596.6 336.7 594.2 336.9 591.7 337.7Z"/>
<path color="#00161f" d="M609.1 334.2 611.5 333.6 609 333.9 606.5 334.5Z"/>
<path color="#00181f" d="M614.1 333.1 616.5 332.5 613.9 333 611.5 333.6Z"/>
<path color="#001e1f" d="M629.1 329.3 631.5 328.5 628.8 329.2 626.5 330Z"/>
<path color="#001f1c" d="M634.2 327.7 636.5 326.7 633.8 327.5 631.5 328.5Z"/>
<path color="#003f7a" d="M581.6 339.8 584.2 338.9 581.8 337.9 579.2 338.7Z"/>
<path color="#00151f" d="M601.6 336 604.1 335.2 601.6 335.6 599.1 336.4Z"/>
<path color="#001d1f" d="M621.7 331.3 624.1 330.7 621.5 331.4 619.1 332Z"/>
<path color="#004885" d="M571.6 339.3 574.3 338.5 571.9 337.2 569.3 338.1Z"/>
<path color="#004380" d="M576.6 339.6 579.2 338.7 576.9 337.6 574.3 338.5Z"/>
<path color="#003362" d="M586.6 339.5 589.2 338.6 586.8 338 584.2 338.9Z"/>
<path color="#001a2e" d="M591.6 338.6 594.1 337.6 591.7 337.7 589.2 338.6Z"/>
<path color="#00131f" d="M596.6 337.3 599.1 336.4 596.6 336.7 594.1 337.6Z"/>
<path color="#00171f" d="M606.6 334.9 609.1 334.2 606.5 334.5 604.1 335.2Z"/>
<path color="#00191f" d="M611.6 333.7 614.1 333.1 611.5 333.6 609.1 334.2Z"/>
<path color="#001b1f" d="M616.6 332.5 619.1 332 616.5 332.5 614.1 333.1Z"/>
<path color="#001f1e" d="M626.7 329.9 629.1 329.3 626.5 330 624.1 330.7Z"/>
<path color="#001f1c" d="M631.8 328.4 634.2 327.7 631.5 328.5 629.1 329.3Z"/>
<path color="#004884" d="M574 340.5 576.6 339.6 574.3 338.5 571.6 339.3Z"/>
<path color="#004480" d="M579 340.7 581.6 339.8 579.2 338.7 576.6 339.6Z"/>
<path color="#002139" d="M589 339.6 591.6 338.6 589.2 338.6 586.6 339.5Z"/>
<path color="#00131f" d="M594 338.3 596.6 337.3 594.1 337.6 591.6 338.6Z"/>
<path color="#00151f" d="M599.1 337 601.6 336 599.1 336.4 596.6 337.3Z"/>
<path color="#00171f" d="M604.1 335.7 606.6 334.9 604.1 335.2 601.6 336Z"/>
<path color="#00191f" d="M609.1 334.4 611.6 333.7 609.1 334.2 606.6 334.9Z"/>
<path color="#001b1f" d="M614.2 333.2 616.6 332.5 614.1 333.1 611.6 333.7Z"/>
<path color="#001f1e" d="M624.3 330.5 626.7 329.9 624.1 330.7 621.7 331.3Z"/>
<path color="#001f1b" d="M629.4 329.1 631.8 328.4 629.1 329.3 626.7 329.9Z"/>
<path color="#003a6b" d="M584 340.5 586.6 339.5 584.2 338.9 581.6 339.8Z"/>
<path color="#001d1f" d="M619.3 331.9 621.7 331.3 619.1 332 616.6 332.5Z"/>
<path color="#004986" d="M576.4 341.7 579 340.7 576.6 339.6 574 340.5Z"/>
<path color="#001724" d="M591.5 339.4 594 338.3 591.6 338.6 589 339.6Z"/>
<path color="#001720" d="M596.5 338 599.1 337 596.6 337.3 594 338.3Z"/>
<path color="#001a1f" d="M606.6 335.3 609.1 334.4 606.6 334.9 604.1 335.7Z"/>
<path color="#001c1f" d="M611.7 333.9 614.2 333.2 611.6 333.7 609.1 334.4Z"/>
<path color="#001f1a" d="M627 329.6 629.4 329.1 626.7 329.9 624.3 330.5Z"/>
<path color="#003f74" d="M581.4 341.5 584 340.5 581.6 339.8 579 340.7Z"/>
<path color="#002845" d="M586.4 340.6 589 339.6 586.6 339.5 584 340.5Z"/>
<path color="#00181f" d="M601.6 336.7 604.1 335.7 601.6 336 599.1 337Z"/>
<path color="#001e1f" d="M616.8 332.5 619.3 331.9 616.6 332.5 614.2 333.2Z"/>
<path color="#001f1d" d="M621.9 331.1 624.3 330.5 621.7 331.3 619.3 331.9Z"/>
<path color="#001a25" d="M594 339.1 596.5 338 594 338.3 591.5 339.4Z"/>
<path color="#001d1f" d="M609.2 334.7 611.7 333.9 609.1 334.4 606.6 335.3Z"/>
<path color="#00457d" d="M578.8 342.6 581.4 341.5 579 340.7 576.4 341.7Z"/>
<path color="#003052" d="M583.8 341.7 586.4 340.6 584 340.5 581.4 341.5Z"/>
<path color="#001d2d" d="M588.9 340.5 591.5 339.4 589 339.6 586.4 340.6Z"/>
<path color="#001f27" d="M599 337.8 601.6 336.7 599.1 337 596.5 338Z"/>
<path color="#001a1f" d="M604.1 336.3 606.6 335.3 604.1 335.7 601.6 336.7Z"/>
<path color="#001f1e" d="M614.3 333.2 616.8 332.5 614.2 333.2 611.7 333.9Z"/>
<path color="#001f1c" d="M619.5 331.7 621.9 331.1 619.3 331.9 616.8 332.5Z"/>
<path color="#001f1a" d="M624.6 330.2 627 329.6 624.3 330.5 621.9 331.1Z"/>
<path color="#00375e" d="M581.2 342.9 583.8 341.7 581.4 341.5 578.8 342.6Z"/>
<path color="#002539" d="M586.3 341.7 588.9 340.5 586.4 340.6 583.8 341.7Z"/>
<path color="#00202c" d="M591.4 340.3 594 339.1 591.5 339.4 588.9 340.5Z"/>
<path color="#00242e" d="M596.5 338.9 599 337.8 596.5 338 594 339.1Z"/>
<path color="#001c21" d="M601.6 337.4 604.1 336.3 601.6 336.7 599 337.8Z"/>
<path color="#001d1f" d="M606.7 335.7 609.2 334.7 606.6 335.3 604.1 336.3Z"/>
<path color="#001f1e" d="M611.8 334 614.3 333.2 611.7 333.9 609.2 334.7Z"/>
<path color="#001f1b" d="M617 332.4 619.5 331.7 616.8 332.5 614.3 333.2Z"/>
<path color="#001f19" d="M622.2 330.8 624.6 330.2 621.9 331.1 619.5 331.7Z"/>
<path color="#002d46" d="M583.6 342.9 586.3 341.7 583.8 341.7 581.2 342.9Z"/>
<path color="#002736" d="M588.8 341.5 591.4 340.3 588.9 340.5 586.3 341.7Z"/>
<path color="#002b36" d="M593.9 340.1 596.5 338.9 594 339.1 591.4 340.3Z"/>
<path color="#002025" d="M599 338.6 601.6 337.4 599 337.8 596.5 338.9Z"/>
<path color="#001d1f" d="M604.2 336.9 606.7 335.7 604.1 336.3 601.6 337.4Z"/>
<path color="#001f1d" d="M609.3 335.1 611.8 334 609.2 334.7 606.7 335.7Z"/>
<path color="#001f1b" d="M614.5 333.2 617 332.4 614.3 333.2 611.8 334Z"/>
<path color="#001f18" d="M619.7 331.4 622.2 330.8 619.5 331.7 617 332.4Z"/>
<path color="#002f42" d="M586.1 342.8 588.8 341.5 586.3 341.7 583.6 342.9Z"/>
<path color="#001d1f" d="M601.6 338.1 604.2 336.9 601.6 337.4 599 338.6Z"/>
<path color="#001f17" d="M617.2 332.3 619.7 331.4 617 332.4 614.5 333.2Z"/>
<path color="#003341" d="M591.3 341.4 593.9 340.1 591.4 340.3 588.8 341.5Z"/>
<path color="#00272d" d="M596.4 339.8 599 338.6 596.5 338.9 593.9 340.1Z"/>
<path color="#001f1d" d="M606.8 336.2 609.3 335.1 606.7 335.7 604.2 336.9Z"/>
<path color="#001f1a" d="M612 334.3 614.5 333.2 611.8 334 609.3 335.1Z"/>
<path color="#002f37" d="M593.8 341.1 596.4 339.8 593.9 340.1 591.3 341.4Z"/>
<path color="#002022" d="M599 339.4 601.6 338.1 599 338.6 596.4 339.8Z"/>
<path color="#001f1d" d="M604.2 337.5 606.8 336.2 604.2 336.9 601.6 338.1Z"/>
<path color="#001f1a" d="M609.4 335.4 612 334.3 609.3 335.1 606.8 336.2Z"/>
<path color="#003b4c" d="M588.6 342.8 591.3 341.4 588.8 341.5 586.1 342.8Z"/>
<path color="#001f17" d="M614.6 333.3 617.2 332.3 614.5 333.2 612 334.3Z"/>
<path color="#00272a" d="M596.4 340.7 599 339.4 596.4 339.8 593.8 341.1Z"/>
<path color="#001f1a" d="M606.8 336.7 609.4 335.4 606.8 336.2 604.2 337.5Z"/>
<path color="#003842" d="M591.1 342.5 593.8 341.1 591.3 341.4 588.6 342.8Z"/>
<path color="#001f1d" d="M601.6 338.7 604.2 337.5 601.6 338.1 599 339.4Z"/>
<path color="#001f17" d="M612.1 334.5 614.6 333.3 612 334.3 609.4 335.4Z"/>
<path color="#003134" d="M593.7 342.2 596.4 340.7 593.8 341.1 591.1 342.5Z"/>
<path color="#00201f" d="M599 340.1 601.6 338.7 599 339.4 596.4 340.7Z"/>
<path color="#001f1a" d="M604.2 338 606.8 336.7 604.2 337.5 601.6 338.7Z"/>
<path color="#001f17" d="M609.5 335.8 612.1 334.5 609.4 335.4 606.8 336.7Z"/>
<path color="#001f1b" d="M601.6 339.4 604.2 338 601.6 338.7 599 340.1Z"/>
<path color="#002827" d="M596.3 341.6 599 340.1 596.4 340.7 593.7 342.2Z"/>
<path color="#001f17" d="M606.9 337.1 609.5 335.8 606.8 336.7 604.2 338Z"/>
<path color="#001f1b" d="M598.9 340.9 601.6 339.4 599 340.1 596.3 341.6Z"/>
<path color="#001f17" d="M604.2 338.5 606.9 337.1 604.2 338 601.6 339.4Z"/>
<path color="#001f18" d="M601.6 340 604.2 338.5 601.6 339.4 598.9 340.9Z"/>
</g>
<circle cx="533.8" cy="262.4" r="1.45" fill="#c00000" stroke="#600" stroke-width=".5"/>
<circle cx="570.2" cy="266" r="1.45" fill="#c00000" stroke="#600" stroke-width=".5"/>
<circle cx="631.6" cy="320.6" r="1.45" fill="#c00000" stroke="#600" stroke-width=".5"/>
<circle cx="635.8" cy="327.4" r="1.4" fill="#f0c0c0" stroke="#904040" stroke-width=".5"/>
<circle cx="601.3" cy="328" r="1.45" fill="#c00000" stroke="#600" stroke-width=".5"/>
<circle cx="601.3" cy="332.3" r="1.45" fill="#c00000" stroke="#600" stroke-width=".5"/>
<circle cx="567" cy="335.9" r="1.4" fill="#f0c0c0" stroke="#904040" stroke-width=".5"/>
<circle cx="666.5" cy="313.8" r="1.4" fill="#f0c0c0" stroke="#904040" stroke-width=".5"/>
<path class="tk" d="M534.4 262.4h1.2"/>
<text x="532.9" y="268.6" font-size="7.0" fill="#222" stroke="#222" stroke-width="0.18" text-anchor="end" textLength="8.2" lengthAdjust="spacingAndGlyphs">190</text>
<path class="tk" d="M535.3 283.2h1.2"/>
<text x="533.6" y="289.4" font-size="7.0" fill="#222" stroke="#222" stroke-width="0.18" text-anchor="end" textLength="12.3" lengthAdjust="spacingAndGlyphs">157.5</text>
<path class="tk" d="M536.2 303.5h1.2"/>
<text x="533.6" y="309.7" font-size="7.0" fill="#222" stroke="#222" stroke-width="0.18" text-anchor="end" textLength="8.2" lengthAdjust="spacingAndGlyphs">125</text>
<path class="tk" d="M537.1 323.9h1.2"/>
<text x="534.4" y="330.1" font-size="7.0" fill="#222" stroke="#222" stroke-width="0.18" text-anchor="end" textLength="9.6" lengthAdjust="spacingAndGlyphs">92.5</text>
<path class="tk" d="M537.9 344.2h1.2"/>
<text x="534.7" y="350.4" font-size="7.0" fill="#222" stroke="#222" stroke-width="0.18" text-anchor="end" textLength="5.5" lengthAdjust="spacingAndGlyphs">60</text>
<path class="tk" d="M539.1 370.1l-.9 -.5"/>
<text x="536.9" y="376.4" font-size="7.0" fill="#222" stroke="#222" stroke-width="0.18" text-anchor="end" textLength="12.3" lengthAdjust="spacingAndGlyphs">15.00</text>
<path class="tk" d="M554.8 379.7l-.9 -.5"/>
<text x="552.6" y="386" font-size="7.0" fill="#222" stroke="#222" stroke-width="0.18" text-anchor="end" textLength="12.3" lengthAdjust="spacingAndGlyphs">12.50</text>
<path class="tk" d="M570.5 389.4l-.9 -.5"/>
<text x="568.3" y="395.7" font-size="7.0" fill="#222" stroke="#222" stroke-width="0.18" text-anchor="end" textLength="12.3" lengthAdjust="spacingAndGlyphs">10.00</text>
<path class="tk" d="M586.2 399l-.9 -.5"/>
<text x="584" y="405.3" font-size="7.0" fill="#222" stroke="#222" stroke-width="0.18" text-anchor="end" textLength="9.6" lengthAdjust="spacingAndGlyphs">7.50</text>
<path class="tk" d="M601.9 408.6l-.9 -.5"/>
<text x="599.7" y="414.9" font-size="7.0" fill="#222" stroke="#222" stroke-width="0.18" text-anchor="end" textLength="9.6" lengthAdjust="spacingAndGlyphs">5.00</text>
<path class="tk" d="M601.9 408.6l.9 -.5"/>
<text x="604.5" y="414.7" font-size="7.0" fill="#222" stroke="#222" stroke-width="0.18" textLength="9.6" lengthAdjust="spacingAndGlyphs">0.00</text>
<path class="tk" d="M617.6 399.3l.9 -.5"/>
<text x="620.2" y="405.4" font-size="7.0" fill="#222" stroke="#222" stroke-width="0.18" textLength="12.3" lengthAdjust="spacingAndGlyphs">15.00</text>
<path class="tk" d="M633.3 389.9l.9 -.5"/>
<text x="635.9" y="396" font-size="7.0" fill="#222" stroke="#222" stroke-width="0.18" textLength="12.3" lengthAdjust="spacingAndGlyphs">30.00</text>
<path class="tk" d="M649.1 380.6l.9 -.5"/>
<text x="651.7" y="386.7" font-size="7.0" fill="#222" stroke="#222" stroke-width="0.18" textLength="12.3" lengthAdjust="spacingAndGlyphs">45.00</text>
<path class="tk" d="M664.8 371.2l.9 -.5"/>
<text x="667.4" y="377.3" font-size="7.0" fill="#222" stroke="#222" stroke-width="0.18" textLength="12.3" lengthAdjust="spacingAndGlyphs">60.00</text>
<text x="510" y="318" font-size="6.6" fill="#222" stroke="#222" stroke-width="0.18" text-anchor="middle" textLength="41" lengthAdjust="spacingAndGlyphs" transform="rotate(-90 510 318)">Conc.cu,mg/kg</text>
<text x="529.4" y="405.5" font-size="6.8" fill="#222" stroke="#222" stroke-width="0.18" textLength="5.5" lengthAdjust="spacingAndGlyphs">B:</text>
<text x="538.6" y="405.7" font-size="6.4" fill="#222" stroke="#222" stroke-width="0.18" textLength="13.1" lengthAdjust="spacingAndGlyphs">NMB</text>
<text x="646" y="405.3" font-size="6.6" fill="#222" stroke="#222" stroke-width="0.18" textLength="16.6" lengthAdjust="spacingAndGlyphs">A: Day</text>
<text x="473.6" y="226.8" font-size="14.5" fill="#222" stroke="#222" stroke-width="0.18">f)</text>
<rect x="478.1" y="272.9" width="3.5" height="19.1" fill="url(#lg)" stroke="#333" stroke-width=".6"/>
<text x="483.7" y="277.5" font-size="5.6" fill="#ff2a2a" stroke="#ff2a2a" stroke-width="0.18" style="font-family:'Liberation Sans',sans-serif" textLength="15.2" lengthAdjust="spacingAndGlyphs">189.55</text>
<text x="483.7" y="290.6" font-size="5.6" fill="#2a2aff" stroke="#2a2aff" stroke-width="0.18" style="font-family:'Liberation Sans',sans-serif" textLength="11.4" lengthAdjust="spacingAndGlyphs">76.11</text>
<path class="bx" d="M64.5 581.6L60.8 478.6 125.5 461.5 189.4 479 184.2 580.9M125.5 461.5L124.8 553.7"/>
<clipPath id="c7"><path d="M124.6 616.7L184.2 580.9 124.8 553.7 64.5 581.6Z"/></clipPath>
<path class="fl" d="M124.6 616.7L184.2 580.9 124.8 553.7 64.5 581.6Z"/>
<g clip-path="url(#c7)">
<path fill="none" stroke="#30b0d0" stroke-width="0.8" d="M67 580 124 556"/>
<path fill="none" stroke="#40e060" stroke-width="0.8" d="M69 582 126 558"/>
<path fill="none" stroke="#40e060" stroke-width="0.8" d="M73 585 132 560"/>
<path fill="none" stroke="#b0f040" stroke-width="0.8" d="M80 589 140 563"/>
<path fill="none" stroke="#ff9020" stroke-width="0.8" d="M86 592 88.6 591.2 91.2 590.3 93.7 589.5 96.3 588.7 98.8 587.8 101.3 587 103.8 586.1 106.3 585.3 108.7 584.4 111.1 583.6 113.5 582.7 115.9 581.9 118.2 581.1 120.7 580.4 123.2 579.7 125.8 579.1 128.5 578.6 131.3 578.3 134.4 578 137.5 578 140.6 578.2 143.2 578.8 144.9 579.9 145.5 581.7 145.1 584 144 586.7 142.3 589.4 140.5 592.2 138.8 594.8 137.1 597.2 135.6 599.4 134 601.4 132.5 603.3 130.8 605.2 129 607 127.1 608.7 125.1 610.5 123.1 612.3 121 614"/>
<path fill="none" stroke="#b0f040" stroke-width="0.8" d="M150 600 178 584"/>
</g>
<g class="m">
<path color="#a1d500" d="M124.9 529.7 128.8 528.9 127.3 525.5 123.3 526.3Z"/>
<path color="#b3d500" d="M123.3 526.3 127.3 525.5 125.6 522.3 121.7 523Z"/>
<path color="#c6d400" d="M121.7 523 125.6 522.3 123.8 519 119.9 519.8Z"/>
<path color="#d4cf00" d="M119.9 519.8 123.8 519 122 515.9 118.1 516.6Z"/>
<path color="#d3bb00" d="M118.1 516.6 122 515.9 120.1 512.8 116.1 513.5Z"/>
<path color="#d2a800" d="M116.1 513.5 120.1 512.8 118 509.7 114.1 510.4Z"/>
<path color="#d29500" d="M114.1 510.4 118 509.7 115.9 506.7 112 507.4Z"/>
<path color="#d18200" d="M112 507.4 115.9 506.7 113.6 503.8 109.7 504.5Z"/>
<path color="#cf6e00" d="M109.7 504.5 113.6 503.8 111.2 501 107.4 501.6Z"/>
<path color="#cd5a00" d="M107.4 501.6 111.2 501 108.7 498.4 104.8 498.9Z"/>
<path color="#c94700" d="M104.8 498.9 108.7 498.4 106 496 102.1 496.4Z"/>
<path color="#c33300" d="M102.1 496.4 106 496 103 493.8 99.2 494.2Z"/>
<path color="#9cd500" d="M128.8 528.9 132.7 528.1 131.2 524.7 127.3 525.5Z"/>
<path color="#afd500" d="M127.3 525.5 131.2 524.7 129.5 521.5 125.6 522.3Z"/>
<path color="#c1d400" d="M125.6 522.3 129.5 521.5 127.8 518.3 123.8 519Z"/>
<path color="#d3d400" d="M123.8 519 127.8 518.3 125.9 515.1 122 515.9Z"/>
<path color="#d3c100" d="M122 515.9 125.9 515.1 124 512 120.1 512.8Z"/>
<path color="#d2ae00" d="M120.1 512.8 124 512 121.9 509 118 509.7Z"/>
<path color="#d29b00" d="M118 509.7 121.9 509 119.8 506 115.9 506.7Z"/>
<path color="#d18700" d="M115.9 506.7 119.8 506 117.5 503.2 113.6 503.8Z"/>
<path color="#ce7400" d="M113.6 503.8 117.5 503.2 115.1 500.4 111.2 501Z"/>
<path color="#cc6000" d="M111.2 501 115.1 500.4 112.5 497.9 108.7 498.4Z"/>
<path color="#c84d00" d="M108.7 498.4 112.5 497.9 109.8 495.5 106 496Z"/>
<path color="#c13900" d="M106 496 109.8 495.5 106.8 493.5 103 493.8Z"/>
<path color="#98d500" d="M132.7 528.1 136.7 527.3 135.1 523.9 131.2 524.7Z"/>
<path color="#aad400" d="M131.2 524.7 135.1 523.9 133.4 520.7 129.5 521.5Z"/>
<path color="#bcd400" d="M129.5 521.5 133.4 520.7 131.7 517.5 127.8 518.3Z"/>
<path color="#ced300" d="M127.8 518.3 131.7 517.5 129.9 514.4 125.9 515.1Z"/>
<path color="#d3c600" d="M125.9 515.1 129.9 514.4 127.9 511.3 124 512Z"/>
<path color="#d2b300" d="M124 512 127.9 511.3 125.8 508.3 121.9 509Z"/>
<path color="#d1a000" d="M121.9 509 125.8 508.3 123.7 505.4 119.8 506Z"/>
<path color="#d08d00" d="M119.8 506 123.7 505.4 121.4 502.5 117.5 503.2Z"/>
<path color="#ce7a00" d="M117.5 503.2 121.4 502.5 119 499.9 115.1 500.4Z"/>
<path color="#cb6600" d="M115.1 500.4 119 499.9 116.4 497.4 112.5 497.9Z"/>
<path color="#c75300" d="M112.5 497.9 116.4 497.4 113.6 495.1 109.8 495.5Z"/>
<path color="#c03f00" d="M109.8 495.5 113.6 495.1 110.6 493.1 106.8 493.5Z"/>
<path color="#93d500" d="M136.7 527.3 140.6 526.5 139 523.1 135.1 523.9Z"/>
<path color="#a5d400" d="M135.1 523.9 139 523.1 137.4 519.9 133.4 520.7Z"/>
<path color="#b7d400" d="M133.4 520.7 137.4 519.9 135.6 516.7 131.7 517.5Z"/>
<path color="#c9d300" d="M131.7 517.5 135.6 516.7 133.8 513.6 129.9 514.4Z"/>
<path color="#d2cb00" d="M129.9 514.4 133.8 513.6 131.8 510.6 127.9 511.3Z"/>
<path color="#d2b800" d="M127.9 511.3 131.8 510.6 129.7 507.6 125.8 508.3Z"/>
<path color="#d1a600" d="M125.8 508.3 129.7 507.6 127.6 504.7 123.7 505.4Z"/>
<path color="#d09300" d="M123.7 505.4 127.6 504.7 125.3 501.9 121.4 502.5Z"/>
<path color="#cd8000" d="M121.4 502.5 125.3 501.9 122.9 499.3 119 499.9Z"/>
<path color="#ca6c00" d="M119 499.9 122.9 499.3 120.2 496.9 116.4 497.4Z"/>
<path color="#c55900" d="M116.4 497.4 120.2 496.9 117.4 494.7 113.6 495.1Z"/>
<path color="#bd4500" d="M113.6 495.1 117.4 494.7 114.4 492.8 110.6 493.1Z"/>
<path color="#8fd500" d="M140.6 526.5 144.5 525.6 143 522.3 139 523.1Z"/>
<path color="#a1d400" d="M139 523.1 143 522.3 141.3 519.1 137.4 519.9Z"/>
<path color="#b2d400" d="M137.4 519.9 141.3 519.1 139.5 516 135.6 516.7Z"/>
<path color="#c3d300" d="M135.6 516.7 139.5 516 137.7 512.9 133.8 513.6Z"/>
<path color="#d2d000" d="M133.8 513.6 137.7 512.9 135.7 509.9 131.8 510.6Z"/>
<path color="#d2be00" d="M131.8 510.6 135.7 509.9 133.7 507 129.7 507.6Z"/>
<path color="#d1ac00" d="M129.7 507.6 133.7 507 131.5 504.1 127.6 504.7Z"/>
<path color="#cf9900" d="M127.6 504.7 131.5 504.1 129.2 501.3 125.3 501.9Z"/>
<path color="#cc8500" d="M125.3 501.9 129.2 501.3 126.7 498.8 122.9 499.3Z"/>
<path color="#c87200" d="M122.9 499.3 126.7 498.8 124.1 496.4 120.2 496.9Z"/>
<path color="#c45f00" d="M120.2 496.9 124.1 496.4 121.2 494.3 117.4 494.7Z"/>
<path color="#bb4b00" d="M117.4 494.7 121.2 494.3 118.2 492.5 114.4 492.8Z"/>
<path color="#8bd500" d="M144.5 525.6 148.4 524.8 146.9 521.5 143 522.3Z"/>
<path color="#9cd400" d="M143 522.3 146.9 521.5 145.2 518.4 141.3 519.1Z"/>
<path color="#add300" d="M141.3 519.1 145.2 518.4 143.5 515.2 139.5 516Z"/>
<path color="#bed300" d="M139.5 516 143.5 515.2 141.6 512.2 137.7 512.9Z"/>
<path color="#cfd200" d="M137.7 512.9 141.6 512.2 139.7 509.2 135.7 509.9Z"/>
<path color="#d1c300" d="M135.7 509.9 139.7 509.2 137.6 506.3 133.7 507Z"/>
<path color="#d0b100" d="M133.7 507 137.6 506.3 135.4 503.4 131.5 504.1Z"/>
<path color="#cf9f00" d="M131.5 504.1 135.4 503.4 133.1 500.7 129.2 501.3Z"/>
<path color="#cb8b00" d="M129.2 501.3 133.1 500.7 130.6 498.3 126.7 498.8Z"/>
<path color="#c77800" d="M126.7 498.8 130.6 498.3 127.9 496 124.1 496.4Z"/>
<path color="#c26400" d="M124.1 496.4 127.9 496 125.1 494 121.2 494.3Z"/>
<path color="#b85000" d="M121.2 494.3 125.1 494 122 492.2 118.2 492.5Z"/>
<path color="#86d500" d="M148.4 524.8 152.3 524 150.8 520.8 146.9 521.5Z"/>
<path color="#97d400" d="M146.9 521.5 150.8 520.8 149.2 517.6 145.2 518.4Z"/>
<path color="#a8d300" d="M145.2 518.4 149.2 517.6 147.4 514.5 143.5 515.2Z"/>
<path color="#b9d200" d="M143.5 515.2 147.4 514.5 145.5 511.5 141.6 512.2Z"/>
<path color="#c9d200" d="M141.6 512.2 145.5 511.5 143.6 508.5 139.7 509.2Z"/>
<path color="#d1c900" d="M139.7 509.2 143.6 508.5 141.5 505.7 137.6 506.3Z"/>
<path color="#d0b700" d="M137.6 506.3 141.5 505.7 139.3 502.8 135.4 503.4Z"/>
<path color="#cea400" d="M135.4 503.4 139.3 502.8 137 500.1 133.1 500.7Z"/>
<path color="#ca9000" d="M133.1 500.7 137 500.1 134.5 497.7 130.6 498.3Z"/>
<path color="#c67d00" d="M130.6 498.3 134.5 497.7 131.8 495.6 127.9 496Z"/>
<path color="#c06a00" d="M127.9 496 131.8 495.6 128.9 493.6 125.1 494Z"/>
<path color="#b55500" d="M125.1 494 128.9 493.6 125.8 492 122 492.2Z"/>
<path color="#82d400" d="M152.3 524 156.2 523.2 154.7 520 150.8 520.8Z"/>
<path color="#92d400" d="M150.8 520.8 154.7 520 153.1 516.8 149.2 517.6Z"/>
<path color="#a3d300" d="M149.2 517.6 153.1 516.8 151.3 513.8 147.4 514.5Z"/>
<path color="#b3d200" d="M147.4 514.5 151.3 513.8 149.5 510.8 145.5 511.5Z"/>
<path color="#c3d100" d="M145.5 511.5 149.5 510.8 147.5 507.9 143.6 508.5Z"/>
<path color="#d1ce00" d="M143.6 508.5 147.5 507.9 145.4 505 141.5 505.7Z"/>
<path color="#d0bc00" d="M141.5 505.7 145.4 505 143.2 502.2 139.3 502.8Z"/>
<path color="#ceaa00" d="M139.3 502.8 143.2 502.2 140.8 499.6 137 500.1Z"/>
<path color="#c99600" d="M137 500.1 140.8 499.6 138.3 497.3 134.5 497.7Z"/>
<path color="#c48200" d="M134.5 497.7 138.3 497.3 135.6 495.2 131.8 495.6Z"/>
<path color="#be6f00" d="M131.8 495.6 135.6 495.2 132.7 493.3 128.9 493.6Z"/>
<path color="#b25900" d="M128.9 493.6 132.7 493.3 129.6 491.7 125.8 492Z"/>
<path color="#7dd400" d="M156.2 523.2 160.2 522.4 158.7 519.2 154.7 520Z"/>
<path color="#8ed400" d="M154.7 520 158.7 519.2 157 516.1 153.1 516.8Z"/>
<path color="#9ed300" d="M153.1 516.8 157 516.1 155.2 513 151.3 513.8Z"/>
<path color="#aed200" d="M151.3 513.8 155.2 513 153.4 510.1 149.5 510.8Z"/>
<path color="#bed100" d="M149.5 510.8 153.4 510.1 151.4 507.2 147.5 507.9Z"/>
<path color="#ced000" d="M147.5 507.9 151.4 507.2 149.3 504.4 145.4 505Z"/>
<path color="#cfc200" d="M145.4 505 149.3 504.4 147.1 501.6 143.2 502.2Z"/>
<path color="#cdaf00" d="M143.2 502.2 147.1 501.6 144.7 499 140.8 499.6Z"/>
<path color="#c89b00" d="M140.8 499.6 144.7 499 142.2 496.8 138.3 497.3Z"/>
<path color="#c28700" d="M138.3 497.3 142.2 496.8 139.5 494.8 135.6 495.2Z"/>
<path color="#bb7300" d="M135.6 495.2 139.5 494.8 136.5 493 132.7 493.3Z"/>
<path color="#ae5e00" d="M132.7 493.3 136.5 493 133.4 491.5 129.6 491.7Z"/>
<path color="#79d400" d="M160.2 522.4 164.1 521.6 162.6 518.4 158.7 519.2Z"/>
<path color="#89d300" d="M158.7 519.2 162.6 518.4 160.9 515.3 157 516.1Z"/>
<path color="#99d300" d="M157 516.1 160.9 515.3 159.2 512.3 155.2 513Z"/>
<path color="#a8d200" d="M155.2 513 159.2 512.3 157.3 509.4 153.4 510.1Z"/>
<path color="#b8d100" d="M153.4 510.1 157.3 509.4 155.3 506.5 151.4 507.2Z"/>
<path color="#c8d000" d="M151.4 507.2 155.3 506.5 153.2 503.7 149.3 504.4Z"/>
<path color="#cfc700" d="M149.3 504.4 153.2 503.7 151 501 147.1 501.6Z"/>
<path color="#ccb500" d="M147.1 501.6 151 501 148.6 498.5 144.7 499Z"/>
<path color="#c7a000" d="M144.7 499 148.6 498.5 146.1 496.3 142.2 496.8Z"/>
<path color="#c08c00" d="M142.2 496.8 146.1 496.3 143.3 494.4 139.5 494.8Z"/>
<path color="#b97800" d="M139.5 494.8 143.3 494.4 140.4 492.7 136.5 493Z"/>
<path color="#ab6200" d="M136.5 493 140.4 492.7 137.2 491.3 133.4 491.5Z"/>
<path color="#74d400" d="M164.1 521.6 168 520.8 166.5 517.6 162.6 518.4Z"/>
<path color="#84d300" d="M162.6 518.4 166.5 517.6 164.9 514.5 160.9 515.3Z"/>
<path color="#94d200" d="M160.9 515.3 164.9 514.5 163.1 511.6 159.2 512.3Z"/>
<path color="#a3d100" d="M159.2 512.3 163.1 511.6 161.2 508.7 157.3 509.4Z"/>
<path color="#b2d000" d="M157.3 509.4 161.2 508.7 159.3 505.9 155.3 506.5Z"/>
<path color="#c2d000" d="M155.3 506.5 159.3 505.9 157.2 503.1 153.2 503.7Z"/>
<path color="#cfcd00" d="M153.2 503.7 157.2 503.1 154.9 500.4 151 501Z"/>
<path color="#ccba00" d="M151 501 154.9 500.4 152.5 497.9 148.6 498.5Z"/>
<path color="#c5a500" d="M148.6 498.5 152.5 497.9 150 495.8 146.1 496.3Z"/>
<path color="#be9100" d="M146.1 496.3 150 495.8 147.2 494 143.3 494.4Z"/>
<path color="#b67c00" d="M143.3 494.4 147.2 494 144.2 492.4 140.4 492.7Z"/>
<path color="#a66500" d="M140.4 492.7 144.2 492.4 141 491.1 137.2 491.3Z"/>
<path color="#70d400" d="M168 520.8 171.9 520 170.4 516.8 166.5 517.6Z"/>
<path color="#7fd300" d="M166.5 517.6 170.4 516.8 168.8 513.8 164.9 514.5Z"/>
<path color="#8fd200" d="M164.9 514.5 168.8 513.8 167 510.8 163.1 511.6Z"/>
<path color="#9ed100" d="M163.1 511.6 167 510.8 165.2 508 161.2 508.7Z"/>
<path color="#add000" d="M161.2 508.7 165.2 508 163.2 505.2 159.3 505.9Z"/>
<path color="#bccf00" d="M159.3 505.9 163.2 505.2 161.1 502.5 157.2 503.1Z"/>
<path color="#cbce00" d="M157.2 503.1 161.1 502.5 158.8 499.8 154.9 500.4Z"/>
<path color="#cbc000" d="M154.9 500.4 158.8 499.8 156.4 497.4 152.5 497.9Z"/>
<path color="#c4aa00" d="M152.5 497.9 156.4 497.4 153.8 495.4 150 495.8Z"/>
<path color="#bc9500" d="M150 495.8 153.8 495.4 151 493.6 147.2 494Z"/>
<path color="#b38000" d="M147.2 494 151 493.6 148 492.1 144.2 492.4Z"/>
<path color="#a16700" d="M144.2 492.4 148 492.1 144.8 490.9 141 491.1Z"/>
<path color="#6bd400" d="M171.9 520 175.8 519.1 174.3 516 170.4 516.8Z"/>
<path color="#7bd300" d="M170.4 516.8 174.3 516 172.7 513 168.8 513.8Z"/>
<path color="#8ad200" d="M168.8 513.8 172.7 513 170.9 510.1 167 510.8Z"/>
<path color="#98d100" d="M167 510.8 170.9 510.1 169.1 507.3 165.2 508Z"/>
<path color="#a7cf00" d="M165.2 508 169.1 507.3 167.1 504.6 163.2 505.2Z"/>
<path color="#b6cf00" d="M163.2 505.2 167.1 504.6 165 501.9 161.1 502.5Z"/>
<path color="#c4ce00" d="M161.1 502.5 165 501.9 162.7 499.3 158.8 499.8Z"/>
<path color="#cac500" d="M158.8 499.8 162.7 499.3 160.3 496.9 156.4 497.4Z"/>
<path color="#c2ae00" d="M156.4 497.4 160.3 496.9 157.7 494.9 153.8 495.4Z"/>
<path color="#ba9900" d="M153.8 495.4 157.7 494.9 154.9 493.3 151 493.6Z"/>
<path color="#af8300" d="M151 493.6 154.9 493.3 151.8 491.8 148 492.1Z"/>
<path color="#9c6900" d="M148 492.1 151.8 491.8 148.6 490.7 144.8 490.9Z"/>
<path color="#67d300" d="M175.8 519.1 179.8 518.3 178.3 515.2 174.3 516Z"/>
<path color="#76d300" d="M174.3 516 178.3 515.2 176.6 512.3 172.7 513Z"/>
<path color="#85d200" d="M172.7 513 176.6 512.3 174.9 509.4 170.9 510.1Z"/>
<path color="#93d000" d="M170.9 510.1 174.9 509.4 173 506.6 169.1 507.3Z"/>
<path color="#a1cf00" d="M169.1 507.3 173 506.6 171 504 167.1 504.6Z"/>
<path color="#b0ce00" d="M167.1 504.6 171 504 168.9 501.3 165 501.9Z"/>
<path color="#becd00" d="M165 501.9 168.9 501.3 166.7 498.7 162.7 499.3Z"/>
<path color="#c9ca00" d="M162.7 499.3 166.7 498.7 164.2 496.3 160.3 496.9Z"/>
<path color="#c1b300" d="M160.3 496.9 164.2 496.3 161.6 494.5 157.7 494.9Z"/>
<path color="#b79d00" d="M157.7 494.9 161.6 494.5 158.8 492.9 154.9 493.3Z"/>
<path color="#ab8600" d="M154.9 493.3 158.8 492.9 155.7 491.6 151.8 491.8Z"/>
<path color="#956a00" d="M151.8 491.8 155.7 491.6 152.4 490.6 148.6 490.7Z"/>
<path color="#62d300" d="M179.8 518.3 183.7 517.5 182.2 514.5 178.3 515.2Z"/>
<path color="#71d200" d="M178.3 515.2 182.2 514.5 180.6 511.5 176.6 512.3Z"/>
<path color="#80d100" d="M176.6 512.3 180.6 511.5 178.8 508.7 174.9 509.4Z"/>
<path color="#8ed000" d="M174.9 509.4 178.8 508.7 176.9 505.9 173 506.6Z"/>
<path color="#9ccf00" d="M173 506.6 176.9 505.9 175 503.3 171 504Z"/>
<path color="#aace00" d="M171 504 175 503.3 172.8 500.7 168.9 501.3Z"/>
<path color="#b8cd00" d="M168.9 501.3 172.8 500.7 170.6 498.1 166.7 498.7Z"/>
<path color="#c2c900" d="M166.7 498.7 170.6 498.1 168.1 495.8 164.2 496.3Z"/>
<path color="#bfb700" d="M164.2 496.3 168.1 495.8 165.5 494.1 161.6 494.5Z"/>
<path color="#b4a000" d="M161.6 494.5 165.5 494.1 162.6 492.6 158.8 492.9Z"/>
<path color="#a78800" d="M158.8 492.9 162.6 492.6 159.5 491.3 155.7 491.6Z"/>
<path color="#8d6900" d="M155.7 491.6 159.5 491.3 156.2 490.4 152.4 490.6Z"/>
<path color="#5ed300" d="M183.7 517.5 187.6 516.7 186.1 513.7 182.2 514.5Z"/>
<path color="#6cd200" d="M182.2 514.5 186.1 513.7 184.5 510.8 180.6 511.5Z"/>
<path color="#7bd100" d="M180.6 511.5 184.5 510.8 182.7 508 178.8 508.7Z"/>
<path color="#88d000" d="M178.8 508.7 182.7 508 180.9 505.3 176.9 505.9Z"/>
<path color="#96ce00" d="M176.9 505.9 180.9 505.3 178.9 502.7 175 503.3Z"/>
<path color="#a4cd00" d="M175 503.3 178.9 502.7 176.8 500.1 172.8 500.7Z"/>
<path color="#b2cc00" d="M172.8 500.7 176.8 500.1 174.5 497.6 170.6 498.1Z"/>
<path color="#bcc800" d="M170.6 498.1 174.5 497.6 172 495.4 168.1 495.8Z"/>
<path color="#bcbb00" d="M168.1 495.8 172 495.4 169.4 493.7 165.5 494.1Z"/>
<path color="#b0a200" d="M165.5 494.1 169.4 493.7 166.5 492.3 162.6 492.6Z"/>
<path color="#a18900" d="M162.6 492.6 166.5 492.3 163.3 491.1 159.5 491.3Z"/>
<path color="#846600" d="M159.5 491.3 163.3 491.1 160 490.3 156.2 490.4Z"/>
</g>
<g class="m">
<path color="#00c6cc" d="M62.8 538.2 67.2 537.6 68.6 534.3 64.3 534.8Z"/>
<path color="#00cb98" d="M64.3 534.8 68.6 534.3 69.9 530.9 65.8 531.4Z"/>
<path color="#00ca68" d="M65.8 531.4 69.9 530.9 71.2 527.6 67.3 528.1Z"/>
<path color="#00c93b" d="M67.3 528.1 71.2 527.6 72.5 524.3 68.8 524.7Z"/>
<path color="#00c812" d="M68.8 524.7 72.5 524.3 73.7 521 70.3 521.3Z"/>
<path color="#15c600" d="M70.3 521.3 73.7 521 75 517.7 71.8 517.9Z"/>
<path color="#3ac400" d="M71.8 517.9 75 517.7 76.5 514.4 73.5 514.6Z"/>
<path color="#5dc100" d="M73.5 514.6 76.5 514.4 77.9 511.2 75.2 511.3Z"/>
<path color="#7dbe00" d="M75.2 511.3 77.9 511.2 79.6 508 77.1 508.1Z"/>
<path color="#9ab800" d="M77.1 508.1 79.6 508 81.3 505 79.1 505Z"/>
<path color="#b2b100" d="M79.1 505 81.3 505 83.3 502 81.3 502Z"/>
<path color="#a58800" d="M81.3 502 83.3 502 85.5 499.4 83.9 499.3Z"/>
<path color="#8f5e00" d="M83.9 499.3 85.5 499.4 88.1 497.1 86.8 497Z"/>
<path color="#552a00" d="M86.8 497 88.1 497.1 91 495.6 90.1 495.5Z"/>
<path color="#4c1a00" d="M90.1 495.5 91 495.6 94.2 494.8 93.7 494.8Z"/>
<path color="#4c0e00" d="M93.7 494.8 94.2 494.8 97.5 494.5 97.5 494.5Z"/>
<path color="#00bfcc" d="M67.2 537.6 71.7 537 72.8 533.7 68.6 534.3Z"/>
<path color="#00cba0" d="M68.6 534.3 72.8 533.7 73.9 530.5 69.9 530.9Z"/>
<path color="#00ca70" d="M69.9 530.9 73.9 530.5 75 527.2 71.2 527.6Z"/>
<path color="#00c943" d="M71.2 527.6 75 527.2 76.1 523.9 72.5 524.3Z"/>
<path color="#00c81a" d="M72.5 524.3 76.1 523.9 77.2 520.7 73.7 521Z"/>
<path color="#0dc700" d="M73.7 521 77.2 520.7 78.3 517.4 75 517.7Z"/>
<path color="#33c400" d="M75 517.7 78.3 517.4 79.4 514.2 76.5 514.4Z"/>
<path color="#56c200" d="M76.5 514.4 79.4 514.2 80.7 511.1 77.9 511.2Z"/>
<path color="#76be00" d="M77.9 511.2 80.7 511.1 82.1 508 79.6 508Z"/>
<path color="#93b900" d="M79.6 508 82.1 508 83.6 505 81.3 505Z"/>
<path color="#aeb300" d="M81.3 505 83.6 505 85.2 502.1 83.3 502Z"/>
<path color="#a89100" d="M83.3 502 85.2 502.1 87.1 499.5 85.5 499.4Z"/>
<path color="#936700" d="M85.5 499.4 87.1 499.5 89.4 497.2 88.1 497.1Z"/>
<path color="#5f3300" d="M88.1 497.1 89.4 497.2 91.9 495.6 91 495.6Z"/>
<path color="#4c1d00" d="M91 495.6 91.9 495.6 94.6 494.9 94.2 494.8Z"/>
<path color="#4c1100" d="M94.2 494.8 94.6 494.9 97.5 494.5 97.5 494.5Z"/>
<path color="#00b7cc" d="M71.7 537 76.1 536.4 77 533.2 72.8 533.7Z"/>
<path color="#00cba9" d="M72.8 533.7 77 533.2 78 530 73.9 530.5Z"/>
<path color="#00ca78" d="M73.9 530.5 78 530 78.9 526.8 75 527.2Z"/>
<path color="#00c94c" d="M75 527.2 78.9 526.8 79.7 523.6 76.1 523.9Z"/>
<path color="#00c822" d="M76.1 523.9 79.7 523.6 80.6 520.4 77.2 520.7Z"/>
<path color="#06c700" d="M77.2 520.7 80.6 520.4 81.5 517.2 78.3 517.4Z"/>
<path color="#2bc400" d="M78.3 517.4 81.5 517.2 82.4 514.1 79.4 514.2Z"/>
<path color="#4ec200" d="M79.4 514.2 82.4 514.1 83.5 511 80.7 511.1Z"/>
<path color="#6fbf00" d="M80.7 511.1 83.5 511 84.6 508 82.1 508Z"/>
<path color="#8dba00" d="M82.1 508 84.6 508 85.8 505.1 83.6 505Z"/>
<path color="#a7b400" d="M83.6 505 85.8 505.1 87.2 502.2 85.2 502.1Z"/>
<path color="#a99900" d="M85.2 502.1 87.2 502.2 88.8 499.6 87.1 499.5Z"/>
<path color="#977000" d="M87.1 499.5 88.8 499.6 90.7 497.3 89.4 497.2Z"/>
<path color="#693d00" d="M89.4 497.2 90.7 497.3 92.8 495.7 91.9 495.6Z"/>
<path color="#4c2000" d="M91.9 495.6 92.8 495.7 95.1 494.9 94.6 494.9Z"/>
<path color="#4c1400" d="M94.6 494.9 95.1 494.9 97.5 494.5 97.5 494.5Z"/>
<path color="#00afcc" d="M76.1 536.4 80.5 535.8 81.3 532.6 77 533.2Z"/>
<path color="#00cbb1" d="M77 533.2 81.3 532.6 82 529.5 78 530Z"/>
<path color="#00ca80" d="M78 530 82 529.5 82.7 526.3 78.9 526.8Z"/>
<path color="#00c954" d="M78.9 526.8 82.7 526.3 83.4 523.2 79.7 523.6Z"/>
<path color="#00c82a" d="M79.7 523.6 83.4 523.2 84 520.1 80.6 520.4Z"/>
<path color="#00c702" d="M80.6 520.4 84 520.1 84.7 517 81.5 517.2Z"/>
<path color="#23c500" d="M81.5 517.2 84.7 517 85.4 513.9 82.4 514.1Z"/>
<path color="#46c200" d="M82.4 514.1 85.4 513.9 86.2 510.9 83.5 511Z"/>
<path color="#67bf00" d="M83.5 511 86.2 510.9 87.1 507.9 84.6 508Z"/>
<path color="#86ba00" d="M84.6 508 87.1 507.9 88 505.1 85.8 505.1Z"/>
<path color="#a1b500" d="M85.8 505.1 88 505.1 89.1 502.3 87.2 502.2Z"/>
<path color="#aba200" d="M87.2 502.2 89.1 502.3 90.4 499.7 88.8 499.6Z"/>
<path color="#9b7900" d="M88.8 499.6 90.4 499.7 91.9 497.5 90.7 497.3Z"/>
<path color="#734700" d="M90.7 497.3 91.9 497.5 93.7 495.8 92.8 495.7Z"/>
<path color="#4c2300" d="M92.8 495.7 93.7 495.8 95.6 495 95.1 494.9Z"/>
<path color="#4c1700" d="M95.1 494.9 95.6 495 97.5 494.5 97.5 494.5Z"/>
<path color="#00a7cc" d="M80.5 535.8 85 535.2 85.5 532.1 81.3 532.6Z"/>
<path color="#00cbb9" d="M81.3 532.6 85.5 532.1 86 529 82 529.5Z"/>
<path color="#00cb88" d="M82 529.5 86 529 86.5 525.9 82.7 526.3Z"/>
<path color="#00ca5c" d="M82.7 526.3 86.5 525.9 87 522.8 83.4 523.2Z"/>
<path color="#00c932" d="M83.4 523.2 87 522.8 87.5 519.8 84 520.1Z"/>
<path color="#00c70a" d="M84 520.1 87.5 519.8 87.9 516.7 84.7 517Z"/>
<path color="#1bc500" d="M84.7 517 87.9 516.7 88.4 513.7 85.4 513.9Z"/>
<path color="#3fc200" d="M85.4 513.9 88.4 513.7 89 510.8 86.2 510.9Z"/>
<path color="#60bf00" d="M86.2 510.9 89 510.8 89.6 507.9 87.1 507.9Z"/>
<path color="#7ebb00" d="M87.1 507.9 89.6 507.9 90.3 505.1 88 505.1Z"/>
<path color="#9ab600" d="M88 505.1 90.3 505.1 91.1 502.3 89.1 502.3Z"/>
<path color="#adaa00" d="M89.1 502.3 91.1 502.3 92 499.8 90.4 499.7Z"/>
<path color="#9e8100" d="M90.4 499.7 92 499.8 93.2 497.6 91.9 497.5Z"/>
<path color="#7b5100" d="M91.9 497.5 93.2 497.6 94.6 495.9 93.7 495.8Z"/>
<path color="#4c2600" d="M93.7 495.8 94.6 495.9 96 495 95.6 495Z"/>
<path color="#4c1a00" d="M95.6 495 96 495 97.5 494.5 97.5 494.5Z"/>
<path color="#009ecc" d="M85 535.2 89.4 534.6 89.8 531.5 85.5 532.1Z"/>
<path color="#00cbc1" d="M85.5 532.1 89.8 531.5 90.1 528.5 86 529Z"/>
<path color="#00cb90" d="M86 529 90.1 528.5 90.4 525.5 86.5 525.9Z"/>
<path color="#00ca64" d="M86.5 525.9 90.4 525.5 90.7 522.5 87 522.8Z"/>
<path color="#00c83a" d="M87 522.8 90.7 522.5 90.9 519.5 87.5 519.8Z"/>
<path color="#00c712" d="M87.5 519.8 90.9 519.5 91.1 516.5 87.9 516.7Z"/>
<path color="#13c500" d="M87.9 516.7 91.1 516.5 91.4 513.6 88.4 513.7Z"/>
<path color="#37c200" d="M88.4 513.7 91.4 513.6 91.7 510.7 89 510.8Z"/>
<path color="#58bf00" d="M89 510.8 91.7 510.7 92.1 507.8 89.6 507.9Z"/>
<path color="#77bb00" d="M89.6 507.9 92.1 507.8 92.5 505.1 90.3 505.1Z"/>
<path color="#93b600" d="M90.3 505.1 92.5 505.1 93 502.4 91.1 502.3Z"/>
<path color="#a9ae00" d="M91.1 502.3 93 502.4 93.7 500 92 499.8Z"/>
<path color="#a08a00" d="M92 499.8 93.7 500 94.5 497.7 93.2 497.6Z"/>
<path color="#835b00" d="M93.2 497.6 94.5 497.7 95.5 496 94.6 495.9Z"/>
<path color="#4c2900" d="M94.6 495.9 95.5 496 96.5 495.1 96 495Z"/>
<path color="#4c1d00" d="M96 495 96.5 495.1 97.5 494.5 97.5 494.5Z"/>
<path color="#0096cc" d="M89.4 534.6 93.8 534 94 531 89.8 531.5Z"/>
<path color="#00cbca" d="M89.8 531.5 94 531 94.1 528 90.1 528.5Z"/>
<path color="#00ca99" d="M90.1 528.5 94.1 528 94.2 525 90.4 525.5Z"/>
<path color="#00c96c" d="M90.4 525.5 94.2 525 94.3 522.1 90.7 522.5Z"/>
<path color="#00c842" d="M90.7 522.5 94.3 522.1 94.3 519.2 90.9 519.5Z"/>
<path color="#00c71a" d="M90.9 519.5 94.3 519.2 94.3 516.3 91.1 516.5Z"/>
<path color="#0bc500" d="M91.1 516.5 94.3 516.3 94.4 513.4 91.4 513.6Z"/>
<path color="#2fc200" d="M91.4 513.6 94.4 513.4 94.5 510.6 91.7 510.7Z"/>
<path color="#50bf00" d="M91.7 510.7 94.5 510.6 94.6 507.8 92.1 507.8Z"/>
<path color="#70bb00" d="M92.1 507.8 94.6 507.8 94.7 505.1 92.5 505.1Z"/>
<path color="#8cb600" d="M92.5 505.1 94.7 505.1 95 502.5 93 502.4Z"/>
<path color="#a3ae00" d="M93 502.4 95 502.5 95.3 500.1 93.7 500Z"/>
<path color="#a29200" d="M93.7 500 95.3 500.1 95.8 497.8 94.5 497.7Z"/>
<path color="#886400" d="M94.5 497.7 95.8 497.8 96.4 496.1 95.5 496Z"/>
<path color="#533000" d="M95.5 496 96.4 496.1 97 495.1 96.5 495.1Z"/>
<path color="#4c2000" d="M96.5 495.1 97 495.1 97.5 494.5 97.5 494.5Z"/>
<path color="#008ecc" d="M93.8 534 98.3 533.3 98.2 530.4 94 531Z"/>
<path color="#00c5cb" d="M94 531 98.2 530.4 98.2 527.5 94.1 528Z"/>
<path color="#00caa1" d="M94.1 528 98.2 527.5 98.1 524.6 94.2 525Z"/>
<path color="#00c974" d="M94.2 525 98.1 524.6 97.9 521.7 94.3 522.1Z"/>
<path color="#00c84a" d="M94.3 522.1 97.9 521.7 97.8 518.9 94.3 519.2Z"/>
<path color="#00c622" d="M94.3 519.2 97.8 518.9 97.6 516 94.3 516.3Z"/>
<path color="#03c400" d="M94.3 516.3 97.6 516 97.4 513.2 94.4 513.4Z"/>
<path color="#27c200" d="M94.4 513.4 97.4 513.2 97.2 510.5 94.5 510.6Z"/>
<path color="#49bf00" d="M94.5 510.6 97.2 510.5 97.1 507.8 94.6 507.8Z"/>
<path color="#68bb00" d="M94.6 507.8 97.1 507.8 97 505.1 94.7 505.1Z"/>
<path color="#84b600" d="M94.7 505.1 97 505.1 96.9 502.6 95 502.5Z"/>
<path color="#9cae00" d="M95 502.5 96.9 502.6 96.9 500.2 95.3 500.1Z"/>
<path color="#a39900" d="M95.3 500.1 96.9 500.2 97.1 497.9 95.8 497.8Z"/>
<path color="#8b6c00" d="M95.8 497.8 97.1 497.9 97.3 496.2 96.4 496.1Z"/>
<path color="#5e3a00" d="M96.4 496.1 97.3 496.2 97.4 495.2 97 495.1Z"/>
<path color="#4c2300" d="M97 495.1 97.4 495.2 97.5 494.5 97.5 494.5Z"/>
<path color="#0086cc" d="M98.3 533.3 102.7 532.7 102.5 529.9 98.2 530.4Z"/>
<path color="#00bdcb" d="M98.2 530.4 102.5 529.9 102.2 527 98.2 527.5Z"/>
<path color="#00caa8" d="M98.2 527.5 102.2 527 101.9 524.2 98.1 524.6Z"/>
<path color="#00c97c" d="M98.1 524.6 101.9 524.2 101.6 521.4 97.9 521.7Z"/>
<path color="#00c852" d="M97.9 521.7 101.6 521.4 101.2 518.6 97.8 518.9Z"/>
<path color="#00c62a" d="M97.8 518.9 101.2 518.6 100.8 515.8 97.6 516Z"/>
<path color="#00c404" d="M97.6 516 100.8 515.8 100.4 513.1 97.4 513.2Z"/>
<path color="#1fc100" d="M97.4 513.2 100.4 513.1 100 510.4 97.2 510.5Z"/>
<path color="#41be00" d="M97.2 510.5 100 510.4 99.6 507.7 97.1 507.8Z"/>
<path color="#60ba00" d="M97.1 507.8 99.6 507.7 99.2 505.2 97 505.1Z"/>
<path color="#7cb500" d="M97 505.1 99.2 505.2 98.8 502.6 96.9 502.6Z"/>
<path color="#94ad00" d="M96.9 502.6 98.8 502.6 98.5 500.3 96.9 500.2Z"/>
<path color="#a29f00" d="M96.9 500.2 98.5 500.3 98.4 498 97.1 497.9Z"/>
<path color="#8b7200" d="M97.1 497.9 98.4 498 98.2 496.3 97.3 496.2Z"/>
<path color="#5f3e00" d="M97.3 496.2 98.2 496.3 97.9 495.2 97.4 495.2Z"/>
<path color="#4c2600" d="M97.4 495.2 97.9 495.2 97.5 494.5 97.5 494.5Z"/>
<path color="#007dcc" d="M102.7 532.7 107.2 532.1 106.7 529.3 102.5 529.9Z"/>
<path color="#00b4cb" d="M102.5 529.9 106.7 529.3 106.3 526.5 102.2 527Z"/>
<path color="#00cab0" d="M102.2 527 106.3 526.5 105.8 523.7 101.9 524.2Z"/>
<path color="#00c883" d="M101.9 524.2 105.8 523.7 105.2 521 101.6 521.4Z"/>
<path color="#00c759" d="M101.6 521.4 105.2 521 104.6 518.3 101.2 518.6Z"/>
<path color="#00c532" d="M101.2 518.6 104.6 518.3 104 515.5 100.8 515.8Z"/>
<path color="#00c30c" d="M100.8 515.8 104 515.5 103.4 512.9 100.4 513.1Z"/>
<path color="#17c000" d="M100.4 513.1 103.4 512.9 102.7 510.3 100 510.4Z"/>
<path color="#39bd00" d="M100 510.4 102.7 510.3 102.1 507.7 99.6 507.7Z"/>
<path color="#58b900" d="M99.6 507.7 102.1 507.7 101.4 505.2 99.2 505.2Z"/>
<path color="#74b400" d="M99.2 505.2 101.4 505.2 100.8 502.7 98.8 502.6Z"/>
<path color="#8cab00" d="M98.8 502.6 100.8 502.7 100.2 500.4 98.5 500.3Z"/>
<path color="#9ea100" d="M98.5 500.3 100.2 500.4 99.6 498.2 98.4 498Z"/>
<path color="#897500" d="M98.4 498 99.6 498.2 99.1 496.4 98.2 496.3Z"/>
<path color="#553b00" d="M98.2 496.3 99.1 496.4 98.4 495.2 97.9 495.2Z"/>
<path color="#4c2900" d="M97.9 495.2 98.4 495.2 97.5 494.5 97.5 494.5Z"/>
<path color="#0075cc" d="M107.2 532.1 111.6 531.5 111 528.8 106.7 529.3Z"/>
<path color="#00acca" d="M106.7 529.3 111 528.8 110.3 526 106.3 526.5Z"/>
<path color="#00c9b8" d="M106.3 526.5 110.3 526 109.6 523.3 105.8 523.7Z"/>
<path color="#00c88b" d="M105.8 523.7 109.6 523.3 108.8 520.6 105.2 521Z"/>
<path color="#00c661" d="M105.2 521 108.8 520.6 108 517.9 104.6 518.3Z"/>
<path color="#00c439" d="M104.6 518.3 108 517.9 107.2 515.3 104 515.5Z"/>
<path color="#00c214" d="M104 515.5 107.2 515.3 106.3 512.7 103.4 512.9Z"/>
<path color="#10bf00" d="M103.4 512.9 106.3 512.7 105.5 510.2 102.7 510.3Z"/>
<path color="#31bc00" d="M102.7 510.3 105.5 510.2 104.6 507.7 102.1 507.7Z"/>
<path color="#50b700" d="M102.1 507.7 104.6 507.7 103.7 505.2 101.4 505.2Z"/>
<path color="#6cb200" d="M101.4 505.2 103.7 505.2 102.7 502.8 100.8 502.7Z"/>
<path color="#83a900" d="M100.8 502.7 102.7 502.8 101.8 500.5 100.2 500.4Z"/>
<path color="#949e00" d="M100.2 500.4 101.8 500.5 100.9 498.3 99.6 498.2Z"/>
<path color="#837600" d="M99.6 498.2 100.9 498.3 100 496.5 99.1 496.4Z"/>
<path color="#4c3800" d="M99.1 496.4 100 496.5 98.9 495.3 98.4 495.2Z"/>
<path color="#4c2c00" d="M98.4 495.2 98.9 495.3 97.5 494.5 97.5 494.5Z"/>
<path color="#006dcb" d="M111.6 531.5 116 530.9 115.2 528.2 111 528.8Z"/>
<path color="#00a3ca" d="M111 528.8 115.2 528.2 114.4 525.5 110.3 526Z"/>
<path color="#00c9bf" d="M110.3 526 114.4 525.5 113.4 522.9 109.6 523.3Z"/>
<path color="#00c792" d="M109.6 523.3 113.4 522.9 112.5 520.2 108.8 520.6Z"/>
<path color="#00c568" d="M108.8 520.6 112.5 520.2 111.5 517.6 108 517.9Z"/>
<path color="#00c341" d="M108 517.9 111.5 517.6 110.4 515.1 107.2 515.3Z"/>
<path color="#00c11b" d="M107.2 515.3 110.4 515.1 109.3 512.6 106.3 512.7Z"/>
<path color="#08be00" d="M106.3 512.7 109.3 512.6 108.2 510.1 105.5 510.2Z"/>
<path color="#29ba00" d="M105.5 510.2 108.2 510.1 107.1 507.6 104.6 507.7Z"/>
<path color="#48b600" d="M104.6 507.7 107.1 507.6 105.9 505.2 103.7 505.2Z"/>
<path color="#63af00" d="M103.7 505.2 105.9 505.2 104.7 502.9 102.7 502.8Z"/>
<path color="#7aa600" d="M102.7 502.8 104.7 502.9 103.4 500.6 101.8 500.5Z"/>
<path color="#8b9a00" d="M101.8 500.5 103.4 500.6 102.2 498.4 100.9 498.3Z"/>
<path color="#7c7400" d="M100.9 498.3 102.2 498.4 100.9 496.6 100 496.5Z"/>
<path color="#4c3b00" d="M100 496.5 100.9 496.6 99.3 495.3 98.9 495.3Z"/>
<path color="#4c2f00" d="M98.9 495.3 99.3 495.3 97.5 494.5 97.5 494.5Z"/>
<path color="#0064cb" d="M116 530.9 120.5 530.3 119.5 527.7 115.2 528.2Z"/>
<path color="#009bc9" d="M115.2 528.2 119.5 527.7 118.4 525 114.4 525.5Z"/>
<path color="#00c8c7" d="M114.4 525.5 118.4 525 117.3 522.4 113.4 522.9Z"/>
<path color="#00c69a" d="M113.4 522.9 117.3 522.4 116.1 519.9 112.5 520.2Z"/>
<path color="#00c470" d="M112.5 520.2 116.1 519.9 114.9 517.3 111.5 517.6Z"/>
<path color="#00c248" d="M111.5 517.6 114.9 517.3 113.7 514.8 110.4 515.1Z"/>
<path color="#00bf23" d="M110.4 515.1 113.7 514.8 112.3 512.4 109.3 512.6Z"/>
<path color="#00bc00" d="M109.3 512.6 112.3 512.4 111 510 108.2 510.1Z"/>
<path color="#21b800" d="M108.2 510.1 111 510 109.6 507.6 107.1 507.6Z"/>
<path color="#40b300" d="M107.1 507.6 109.6 507.6 108.1 505.2 105.9 505.2Z"/>
<path color="#5bac00" d="M105.9 505.2 108.1 505.2 106.6 502.9 104.7 502.9Z"/>
<path color="#70a200" d="M104.7 502.9 106.6 502.9 105.1 500.7 103.4 500.6Z"/>
<path color="#809500" d="M103.4 500.6 105.1 500.7 103.5 498.5 102.2 498.4Z"/>
<path color="#727000" d="M102.2 498.4 103.5 498.5 101.8 496.7 100.9 496.6Z"/>
<path color="#4c3e00" d="M100.9 496.6 101.8 496.7 99.8 495.4 99.3 495.3Z"/>
<path color="#4c3200" d="M99.3 495.3 99.8 495.4 97.5 494.5 97.5 494.5Z"/>
<path color="#005cca" d="M120.5 530.3 124.9 529.7 123.7 527.1 119.5 527.7Z"/>
<path color="#0092c9" d="M119.5 527.7 123.7 527.1 122.4 524.5 118.4 525Z"/>
<path color="#00c0c7" d="M118.4 525 122.4 524.5 121.1 522 117.3 522.4Z"/>
<path color="#00c5a1" d="M117.3 522.4 121.1 522 119.8 519.5 116.1 519.9Z"/>
<path color="#00c377" d="M116.1 519.9 119.8 519.5 118.3 517 114.9 517.3Z"/>
<path color="#00c14f" d="M114.9 517.3 118.3 517 116.9 514.6 113.7 514.8Z"/>
<path color="#00be2a" d="M113.7 514.8 116.9 514.6 115.3 512.2 112.3 512.4Z"/>
<path color="#00ba07" d="M112.3 512.4 115.3 512.2 113.7 509.9 111 510Z"/>
<path color="#1ab600" d="M111 510 113.7 509.9 112.1 507.5 109.6 507.6Z"/>
<path color="#38b000" d="M109.6 507.6 112.1 507.5 110.3 505.2 108.1 505.2Z"/>
<path color="#52a800" d="M108.1 505.2 110.3 505.2 108.6 503 106.6 502.9Z"/>
<path color="#679d00" d="M106.6 502.9 108.6 503 106.7 500.8 105.1 500.7Z"/>
<path color="#758f00" d="M105.1 500.7 106.7 500.8 104.8 498.6 103.5 498.5Z"/>
<path color="#666800" d="M103.5 498.5 104.8 498.6 102.7 496.7 101.8 496.7Z"/>
<path color="#4c4200" d="M101.8 496.7 102.7 496.7 100.3 495.4 99.8 495.4Z"/>
<path color="#4c3500" d="M99.8 495.4 100.3 495.4 97.5 494.5 97.5 494.5Z"/>
</g>
<circle cx="90.4" cy="490.9" r="1.45" fill="#c00000" stroke="#600" stroke-width=".5"/>
<circle cx="95.9" cy="533.5" r="1.45" fill="#c00000" stroke="#600" stroke-width=".5"/>
<circle cx="62.9" cy="541.6" r="1.4" fill="#f0c0c0" stroke="#904040" stroke-width=".5"/>
<circle cx="124.8" cy="530" r="1.4" fill="#f0c0c0" stroke="#904040" stroke-width=".5"/>
<circle cx="158.5" cy="522.6" r="1.45" fill="#c00000" stroke="#600" stroke-width=".5"/>
<circle cx="187.6" cy="516.7" r="1.45" fill="#c00000" stroke="#600" stroke-width=".5"/>
<path class="tk" d="M60.8 478.9h1.2"/>
<text x="57.1" y="485.1" font-size="7.0" fill="#222" stroke="#222" stroke-width="0.18" text-anchor="end" textLength="5.5" lengthAdjust="spacingAndGlyphs">51</text>
<path class="tk" d="M61.5 498.6h1.2"/>
<text x="57.5" y="504.8" font-size="7.0" fill="#222" stroke="#222" stroke-width="0.18" text-anchor="end" textLength="5.5" lengthAdjust="spacingAndGlyphs">41</text>
<path class="tk" d="M62.2 517.9h1.2"/>
<text x="58.3" y="524.1" font-size="7.0" fill="#222" stroke="#222" stroke-width="0.18" text-anchor="end" textLength="5.5" lengthAdjust="spacingAndGlyphs">31</text>
<path class="tk" d="M62.9 537.6h1.2"/>
<text x="59.2" y="543.8" font-size="7.0" fill="#222" stroke="#222" stroke-width="0.18" text-anchor="end" textLength="5.5" lengthAdjust="spacingAndGlyphs">21</text>
<path class="tk" d="M63.6 556.5h1.2"/>
<text x="60.9" y="562.7" font-size="7.0" fill="#222" stroke="#222" stroke-width="0.18" text-anchor="end" textLength="5.5" lengthAdjust="spacingAndGlyphs">11</text>
<path class="tk" d="M64.5 581.6l-.9 -.5"/>
<text x="62.3" y="587.9" font-size="7.0" fill="#222" stroke="#222" stroke-width="0.18" text-anchor="end" textLength="12.3" lengthAdjust="spacingAndGlyphs">15.00</text>
<path class="tk" d="M79.5 590.4l-.9 -.5"/>
<text x="77.3" y="596.7" font-size="7.0" fill="#222" stroke="#222" stroke-width="0.18" text-anchor="end" textLength="12.3" lengthAdjust="spacingAndGlyphs">12.50</text>
<path class="tk" d="M94.5 599.1l-.9 -.5"/>
<text x="92.3" y="605.4" font-size="7.0" fill="#222" stroke="#222" stroke-width="0.18" text-anchor="end" textLength="12.3" lengthAdjust="spacingAndGlyphs">10.00</text>
<path class="tk" d="M109.6 607.9l-.9 -.5"/>
<text x="107.4" y="614.2" font-size="7.0" fill="#222" stroke="#222" stroke-width="0.18" text-anchor="end" textLength="9.6" lengthAdjust="spacingAndGlyphs">7.50</text>
<path class="tk" d="M124.6 616.7l-.9 -.5"/>
<text x="122.4" y="623" font-size="7.0" fill="#222" stroke="#222" stroke-width="0.18" text-anchor="end" textLength="9.6" lengthAdjust="spacingAndGlyphs">5.00</text>
<path class="tk" d="M124.6 616.7l.9 -.5"/>
<text x="127.2" y="622.8" font-size="7.0" fill="#222" stroke="#222" stroke-width="0.18" textLength="2.7" lengthAdjust="spacingAndGlyphs">0</text>
<path class="tk" d="M139.5 607.7l.9 -.5"/>
<text x="142.1" y="613.8" font-size="7.0" fill="#222" stroke="#222" stroke-width="0.18" textLength="5.5" lengthAdjust="spacingAndGlyphs">15</text>
<path class="tk" d="M154.4 598.8l.9 -.5"/>
<text x="157" y="604.9" font-size="7.0" fill="#222" stroke="#222" stroke-width="0.18" textLength="5.5" lengthAdjust="spacingAndGlyphs">30</text>
<path class="tk" d="M169.3 589.8l.9 -.5"/>
<text x="171.9" y="595.9" font-size="7.0" fill="#222" stroke="#222" stroke-width="0.18" textLength="5.5" lengthAdjust="spacingAndGlyphs">45</text>
<path class="tk" d="M184.2 580.9l.9 -.5"/>
<text x="186.8" y="587" font-size="7.0" fill="#222" stroke="#222" stroke-width="0.18" textLength="5.5" lengthAdjust="spacingAndGlyphs">60</text>
<text x="40.5" y="527.5" font-size="6.6" fill="#222" stroke="#222" stroke-width="0.18" text-anchor="middle" textLength="37.8" lengthAdjust="spacingAndGlyphs" transform="rotate(-90 40.5 527.5)">Conc.cr,mg/kg</text>
<text x="56.1" y="615.7" font-size="6.6" fill="#222" stroke="#222" stroke-width="0.18" textLength="18.4" lengthAdjust="spacingAndGlyphs">B: NMB</text>
<text x="168.2" y="615.7" font-size="6.6" fill="#222" stroke="#222" stroke-width="0.18" textLength="15.4" lengthAdjust="spacingAndGlyphs">A: Day</text>
<text x="6.8" y="442" font-size="14.5" fill="#222" stroke="#222" stroke-width="0.18">g)</text>
<rect x="11.7" y="495" width="3.3" height="18.4" fill="url(#lg)" stroke="#333" stroke-width=".6"/>
<text x="16.7" y="499.3" font-size="5.6" fill="#ff2a2a" stroke="#ff2a2a" stroke-width="0.18" style="font-family:'Liberation Sans',sans-serif" textLength="12.1" lengthAdjust="spacingAndGlyphs">50.36</text>
<text x="16.7" y="512.5" font-size="5.6" fill="#2a2aff" stroke="#2a2aff" stroke-width="0.18" style="font-family:'Liberation Sans',sans-serif" textLength="12.1" lengthAdjust="spacingAndGlyphs">12.16</text>
<path class="gl" d="M0 212.5H685M0 428.5H685M228.5 0V639M467.5 0V428.5"/>
</svg></body></html>
